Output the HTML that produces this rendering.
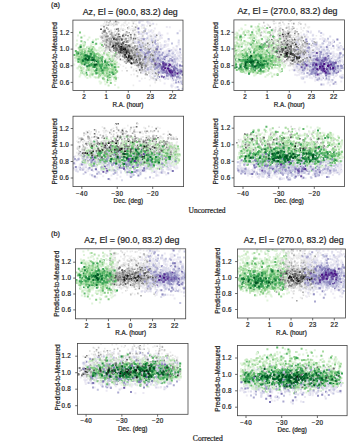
<!DOCTYPE html>
<html><head><meta charset="utf-8"><style>
html,body{margin:0;padding:0;background:#fff;width:350px;height:441px;overflow:hidden}
svg{display:block}
text{font-family:"Liberation Sans",sans-serif;fill:#262626;stroke:#262626;stroke-width:0.22px}
.serif{font-family:"Liberation Serif",serif}
</style></head><body>
<svg width="350" height="441" viewBox="0 0 350 441">
<defs><filter id="bl" x="0" y="0" width="2000" height="2300" filterUnits="userSpaceOnUse"><feGaussianBlur stdDeviation="1.6"/></filter></defs>
<text x="51.0" y="6.9" font-size="7.3">(a)</text>
<text x="51.0" y="236.0" font-size="7.3">(b)</text>
<text class="serif" x="207.1" y="212.5" font-size="7.5" text-anchor="middle">Uncorrected</text>
<text class="serif" x="207.8" y="441.3" font-size="7.6" text-anchor="middle">Corrected</text>
<clipPath id="cA1"><rect x="72.9" y="20.1" width="110.1" height="70.30000000000001"/></clipPath>
<g clip-path="url(#cA1)"><g filter="url(#bl)" transform="scale(0.2)"><path stroke="#dff3da" stroke-width="10" d="M422 364h10M506 388h10M566 389h10M535 263h10M540 390h10M566 396h10M377 277h10M462 205h10M444 347h10M403 358h10M566 347h10M397 314h10M398 287h10M479 352h10M443 350h10M497 417h10M534 287h10M412 235h10M548 366h10M531 225h10M457 365h10M385 178h10M432 390h10M572 344h10M463 364h10M501 413h10M505 252h10M403 275h10M559 373h10M550 365h10M388 336h10M519 407h10M487 252h10M572 404h10M502 367h10M403 342h10M529 233h10M508 251h10M441 264h10M575 366h10M449 245h10M493 243h10M413 239h10M513 387h10M394 353h10M447 386h10M567 313h10M503 239h10M449 228h10M510 340h10M566 390h10M552 326h10M485 195h10M396 289h10M393 382h10"/><path stroke="#ebebeb" stroke-width="8" d="M769 238h8M653 256h8M793 162h8M624 298h8M718 246h8M703 361h8M579 295h8M788 384h8M738 199h8M717 289h8M519 267h8M623 115h8M517 224h8M778 185h8M732 339h8M760 261h8M540 222h8M530 263h8M606 123h8M589 280h8M538 145h8M764 154h8M721 391h8M555 219h8M763 174h8M565 278h8M756 351h8M747 205h8M669 106h8M677 177h8M510 180h8M589 142h8M580 147h8M704 223h8M700 221h8M552 256h8M773 410h8M744 195h8M745 364h8M711 221h8M517 135h8M649 150h8M520 114h8M585 226h8M621 293h8M684 327h8M539 241h8M657 166h8M705 393h8M524 174h8M612 281h8M602 129h8M779 122h8M652 374h8M700 170h8M781 177h8M534 165h8M700 212h8M554 276h8M771 396h8M625 340h8M769 358h8M779 390h8M681 162h8M752 261h8M566 239h8M656 103h8M602 234h8M617 300h8M682 209h8M577 263h8M531 214h8M698 169h8M675 161h8M753 123h8M667 186h8M549 114h8M701 342h8M764 185h8M706 221h8M621 149h8M800 322h8M571 285h8M713 173h8M707 163h8M577 300h8M754 238h8M740 360h8M739 150h8M663 353h8M730 361h8M632 167h8"/><path stroke="#ebe9f3" stroke-width="10" d="M746 305h10M819 289h10M840 355h10M777 298h10M683 229h10M833 229h10M726 292h10M749 181h10M738 289h10M753 150h10M759 299h10M791 164h10M871 356h10M823 389h10M900 274h10M785 343h10M700 357h10M825 260h10M819 392h10M751 206h10M839 252h10M799 232h10M691 248h10M891 305h10M723 327h10M829 135h10M694 169h10M686 224h10M877 374h10M891 354h10M794 399h10M750 391h10M815 267h10M821 371h10M712 358h10M677 252h10M863 390h10M796 354h10M885 374h10M742 281h10M693 306h10M827 257h10M798 254h10M769 142h10M729 264h10M732 287h10M810 349h10M677 309h10M884 276h10M719 318h10M852 367h10M886 414h10M897 247h10M784 325h10M851 293h10M804 190h10M741 297h10M716 126h10M786 300h10M750 199h10M708 235h10M896 390h10M744 336h10M799 373h10M796 347h10M900 417h10M886 380h10M706 124h10M822 296h10M792 314h10M687 263h10M781 233h10M877 294h10M854 436h10M850 393h10M838 204h10M832 256h10M864 418h10M745 377h10M887 411h10M809 335h10M822 264h10M726 249h10M718 278h10M836 279h10M701 238h10M714 333h10M862 239h10M830 353h10M758 325h10M692 305h10M698 254h10M691 237h10M899 357h10M716 329h10M777 334h10M893 283h10M706 186h10M818 417h10M831 365h10M719 222h10M897 373h10M881 233h10M713 170h10"/><path stroke="#c7e9c0" stroke-width="10" d="M454 258h10M582 357h10M540 333h10M573 333h10M477 252h10M390 290h10M412 267h10M399 267h10M511 345h10M547 306h10M459 280h10M467 247h10M508 277h10M566 311h10M536 374h10M401 281h10M414 268h10M371 289h10M547 297h10M462 250h10M441 249h10M471 292h10M475 198h10M483 307h10M553 383h10M491 357h10M440 237h10M569 336h10M383 341h10M512 361h10M543 354h10M454 311h10M396 280h10M427 322h10M431 314h10M392 271h10M527 348h10M416 288h10M394 295h10M530 382h10M468 341h10M403 334h10M495 381h10M498 217h10M383 276h10M400 324h10M439 319h10M451 232h10M469 276h10M525 296h10M465 265h10M463 348h10M557 355h10M452 345h10M569 387h10"/><path stroke="#d9d9d9" stroke-width="8" d="M574 278h8M618 184h8M765 289h8M593 237h8M720 283h8M551 152h8M728 221h8M743 273h8M622 282h8M778 308h8M687 334h8M786 326h8M649 227h8M758 336h8M758 343h8M634 261h8M731 331h8M667 276h8M567 189h8M718 334h8M730 316h8M681 130h8M765 205h8M553 121h8M783 231h8M553 258h8M665 240h8M572 123h8M572 156h8M528 173h8M577 176h8M587 153h8M705 362h8M723 250h8M649 309h8M541 242h8M504 182h8M596 271h8M522 254h8M763 370h8M669 181h8M702 217h8M763 194h8M670 213h8M707 232h8M631 159h8M668 217h8M631 252h8M596 260h8M640 308h8M738 258h8M616 172h8M582 201h8M568 165h8M718 139h8M583 162h8M504 194h8M785 310h8M750 383h8M604 249h8M510 203h8M589 113h8M702 325h8M724 317h8M630 267h8M532 197h8M553 211h8M610 267h8M780 356h8M751 240h8M664 292h8M703 242h8M564 129h8M690 326h8M775 379h8M700 266h8M728 260h8M801 299h8M710 207h8M786 321h8"/><path stroke="#dadaeb" stroke-width="10" d="M888 213h10M762 346h10M783 331h10M817 235h10M799 273h10M776 307h10M718 289h10M853 374h10M838 300h10M766 366h10M878 231h10M884 347h10M717 222h10M753 361h10M863 302h10M752 294h10M823 271h10M702 309h10M728 293h10M754 258h10M692 232h10M763 237h10M878 290h10M714 260h10M864 298h10M796 311h10M726 327h10M800 295h10M819 382h10M784 324h10M786 300h10M828 358h10M747 178h10M897 405h10M709 238h10M801 329h10M827 391h10M725 240h10M803 290h10M769 356h10M841 331h10M719 271h10M742 261h10M881 326h10M807 243h10M848 357h10M897 394h10M870 275h10M861 401h10M782 314h10M827 317h10M699 263h10M852 330h10M876 371h10M826 277h10M836 278h10M715 163h10M880 319h10M717 358h10M799 227h10M845 316h10"/><path stroke="#a9dca2" stroke-width="10" d="M561 331h10M514 354h10M449 292h10M510 356h10M419 258h10M575 389h10M438 331h10M463 353h10M432 300h10M527 305h10M535 370h10M438 294h10M467 290h10M554 332h10M541 284h10M494 309h10M397 291h10M469 282h10M479 299h10M498 329h10M424 299h10M474 333h10M446 254h10M449 282h10M434 294h10M518 346h10M465 277h10M416 314h10M478 287h10M462 367h10M451 287h10M535 305h10M556 342h10M532 356h10M435 316h10M519 330h10M487 387h10M429 290h10M430 276h10M398 331h10M529 333h10M453 297h10M561 301h10M499 332h10M466 292h10M431 238h10M444 318h10M513 323h10M400 296h10"/><path stroke="#c3c3c3" stroke-width="8" d="M768 334h8M698 219h8M674 292h8M716 232h8M749 298h8M735 245h8M593 279h8M533 186h8M783 299h8M591 285h8M538 219h8M606 246h8M631 224h8M526 248h8M659 250h8M648 200h8M713 219h8M732 286h8M620 281h8M760 289h8M631 249h8M761 326h8M646 205h8M727 324h8M770 256h8M720 274h8M631 259h8M746 283h8M563 207h8M588 179h8M510 191h8M748 284h8M573 188h8M718 285h8M734 314h8M513 175h8M771 331h8M625 258h8M613 215h8M719 346h8M746 273h8M656 246h8M514 273h8M670 150h8M631 223h8M524 207h8M694 274h8M709 268h8M767 319h8M519 257h8M715 279h8M726 317h8M556 256h8M783 294h8M555 214h8M623 258h8M575 234h8M621 252h8M638 191h8M710 318h8M523 203h8M775 268h8M653 337h8M630 209h8M659 261h8M527 229h8M712 296h8M631 289h8M774 321h8M654 220h8M568 113h8M744 267h8M694 241h8M611 151h8M738 339h8M699 247h8M758 349h8M632 310h8M720 228h8M597 193h8M758 337h8M635 204h8M631 354h8"/><path stroke="#c2c3df" stroke-width="10" d="M715 156h10M861 367h10M774 220h10M712 306h10M831 348h10M812 311h10M768 380h10M820 226h10M870 309h10M845 295h10M869 368h10M798 293h10M738 252h10M696 232h10M882 380h10M778 321h10M852 251h10M813 294h10M735 308h10M702 343h10M813 291h10M724 299h10M680 249h10M895 263h10M907 359h10M700 246h10M772 184h10M678 214h10M798 178h10M798 310h10M711 221h10M751 347h10M874 251h10M841 309h10M712 245h10M691 260h10M693 268h10M877 349h10M894 336h10M746 290h10M722 146h10M898 291h10M835 351h10M844 278h10M807 350h10"/><path stroke="#86cc85" stroke-width="10" d="M474 362h10M561 280h10M474 339h10M531 349h10M415 264h10M511 295h10M486 344h10M470 303h10M508 303h10M413 362h10M433 284h10M447 321h10M439 281h10M553 307h10M457 270h10M537 398h10M442 295h10M405 317h10M422 264h10M501 345h10M512 329h10M434 321h10M428 279h10M502 278h10M550 345h10M489 308h10M516 343h10M395 163h10M560 369h10M468 325h10M490 276h10M445 272h10M455 336h10M481 345h10M466 271h10M541 329h10M429 319h10M509 347h10M533 340h10M469 320h10M476 304h10M520 329h10"/><path stroke="#a6a6a6" stroke-width="8" d="M651 237h8M660 235h8M580 170h8M738 275h8M547 105h8M546 190h8M553 186h8M667 243h8M788 331h8M559 224h8M553 237h8M709 310h8M708 192h8M683 268h8M699 284h8M565 229h8M744 224h8M616 280h8M678 256h8M512 231h8M644 249h8M705 255h8M642 164h8M636 211h8M542 217h8M614 181h8M548 224h8M517 184h8M522 192h8M640 254h8M792 336h8M544 240h8M723 354h8M578 238h8M623 263h8M666 317h8M594 261h8M703 289h8M588 247h8M664 281h8M684 322h8M729 267h8M542 204h8M647 231h8M727 327h8M671 281h8M526 199h8M693 261h8M764 251h8M574 256h8M624 282h8M551 256h8M687 282h8M764 392h8M722 240h8M579 238h8M582 217h8M656 251h8M614 173h8M754 345h8M700 363h8M690 209h8M501 185h8M597 184h8M623 277h8M686 276h8"/><path stroke="#aaa8d0" stroke-width="10" d="M874 302h10M871 347h10M740 347h10M895 246h10M773 203h10M833 329h10M781 334h10M726 281h10M733 295h10M778 294h10M785 345h10M880 319h10M744 292h10M795 343h10M900 349h10M861 263h10M770 275h10M824 308h10M812 328h10M776 354h10M855 302h10M871 323h10M795 301h10M853 302h10M785 362h10M802 292h10M875 412h10M770 212h10M780 314h10M758 335h10M693 236h10"/><path stroke="#60ba6c" stroke-width="10" d="M472 353h10M501 309h10M508 329h10M554 305h10M418 212h10M407 300h10M477 310h10M520 339h10M367 275h10M497 282h10M411 278h10M462 320h10M399 232h10M401 309h10M484 330h10M441 311h10M573 350h10M499 344h10M436 339h10M504 295h10M510 320h10M487 297h10M407 285h10M445 301h10M486 340h10M478 286h10M511 393h10M445 279h10M503 312h10M408 314h10M558 293h10M477 299h10M450 278h10M426 270h10"/><path stroke="#888888" stroke-width="8" d="M581 193h8M610 270h8M785 285h8M779 176h8M566 241h8M766 286h8M614 215h8M602 196h8M553 213h8M635 140h8M573 215h8M755 366h8M698 312h8M569 236h8M704 291h8M559 120h8M770 301h8M537 181h8M679 303h8M672 299h8M534 198h8M730 339h8M630 299h8M605 200h8M663 214h8M564 213h8M692 318h8M726 371h8M698 238h8M597 195h8M713 278h8M556 218h8M701 225h8M530 140h8M590 155h8M675 264h8M611 275h8M623 248h8M669 312h8M624 232h8M679 354h8M572 248h8M674 137h8M659 282h8M600 231h8M516 133h8M569 249h8"/><path stroke="#928ec2" stroke-width="10" d="M717 266h10M682 258h10M865 361h10M865 351h10M849 296h10M840 362h10M863 388h10M851 335h10M732 294h10M883 391h10M852 382h10M740 299h10M697 264h10M860 389h10M855 380h10M749 304h10M775 298h10M778 316h10M861 399h10M889 410h10M715 267h10M873 374h10M872 344h10M779 267h10M775 337h10M790 385h10"/><path stroke="#3ba558" stroke-width="10" d="M454 315h10M505 357h10M433 327h10M430 282h10M500 286h10M446 260h10M440 316h10M475 277h10M502 306h10M521 326h10M426 364h10M461 292h10M412 282h10M448 309h10M460 312h10M467 288h10M417 316h10M431 307h10M379 265h10M411 301h10M440 304h10"/><path stroke="#6c6c6c" stroke-width="8" d="M625 249h8M573 237h8M619 234h8M543 158h8M585 234h8M613 255h8M656 280h8M580 247h8M622 198h8M723 271h8M604 260h8M639 279h8M645 303h8M675 284h8M659 281h8M623 291h8M654 251h8M720 290h8M598 297h8M786 374h8M571 198h8M625 175h8M641 251h8M576 239h8M578 121h8M672 309h8M701 339h8M664 274h8M678 282h8M607 228h8M631 241h8M740 273h8M643 272h8M677 314h8M556 207h8M655 275h8M574 214h8M655 286h8M698 296h8"/><path stroke="#7c74b5" stroke-width="10" d="M810 331h10M742 283h10M803 332h10M811 349h10M860 313h10M802 343h10M865 354h10M828 313h10M817 296h10M816 315h10M865 374h10M837 324h10M814 354h10M799 343h10M824 352h10M840 342h10M854 364h10"/><path stroke="#238b45" stroke-width="10" d="M526 331h10M449 287h10M446 284h10M402 265h10M499 300h10M489 301h10M449 309h10M444 307h10M563 373h10M448 299h10M443 289h10M487 314h10M534 383h10M450 297h10M502 325h10"/><path stroke="#525252" stroke-width="8" d="M686 322h8M580 254h8M727 223h8M604 266h8M619 240h8M610 213h8M630 285h8M597 251h8M753 271h8M692 261h8M580 198h8M595 241h8M666 242h8M637 248h8M706 321h8M591 257h8M580 208h8M598 193h8M634 289h8M659 284h8M605 255h8M601 245h8M608 240h8M680 260h8"/><path stroke="#6a51a3" stroke-width="10" d="M756 307h10M802 346h10M850 352h10M808 328h10M834 336h10M856 367h10M839 321h10M845 349h10M815 386h10M804 383h10M813 344h10M797 325h10M816 336h10M820 351h10"/><path stroke="#077331" stroke-width="10" d="M450 279h10M442 285h10M493 294h10M448 284h10M489 323h10M414 300h10M435 284h10M473 302h10"/><path stroke="#2e2e2e" stroke-width="8" d="M693 287h8M618 267h8M596 245h8M605 247h8M640 257h8M587 258h8M643 266h8M627 257h8M585 226h8M641 298h8M683 254h8M671 309h8"/><path stroke="#582f93" stroke-width="10" d="M831 369h10M856 362h10M783 315h10M850 375h10M839 352h10M862 343h10M861 361h10"/><path stroke="#005422" stroke-width="10" d="M455 324h10M418 298h10M451 310h10M455 304h10M504 312h10M469 306h10"/><path stroke="#0f0f0f" stroke-width="8" d="M585 233h8M675 311h8M673 311h8M632 272h8M633 270h8M514 161h8M590 223h8M631 279h8M604 225h8"/><path stroke="#471084" stroke-width="10" d="M852 356h10M863 363h10M832 358h10M794 328h10M858 343h10M848 345h10"/><path stroke="#dff3da" stroke-width="10" d="M474 272h10M516 264h10M411 269h10M550 386h10M560 282h10M386 341h10M452 244h10M566 271h10M413 348h10M412 320h10M592 275h10M452 219h10M415 216h10M404 331h10M421 310h10M572 318h10M574 324h10M459 220h10M423 247h10M468 385h10M393 293h10M398 254h10M551 382h10M514 379h10M457 219h10M416 366h10M457 358h10M456 291h10M442 266h10M392 260h10M532 299h10M492 239h10M587 437h10M434 199h10M423 382h10M442 187h10M489 370h10M573 380h10M435 242h10M461 236h10M484 347h10M449 337h10M570 425h10M442 378h10M392 269h10M391 268h10M516 301h10M532 365h10M472 311h10M469 285h10M411 241h10M534 287h10M376 227h10M522 421h10M415 263h10"/><path stroke="#ebebeb" stroke-width="8" d="M728 345h8M729 338h8M633 309h8M612 282h8M674 143h8M591 318h8M663 158h8M663 427h8M708 331h8M538 188h8M731 110h8M789 324h8M649 311h8M676 243h8M703 202h8M707 209h8M747 428h8M602 142h8M613 123h8M676 344h8M703 158h8M641 198h8M785 213h8M758 221h8M750 274h8M754 259h8M772 372h8M703 131h8M752 342h8M607 354h8M763 158h8M597 159h8M744 399h8M665 347h8M761 335h8M616 308h8M715 198h8M658 205h8M792 284h8M535 190h8M693 189h8M758 245h8M632 263h8M576 301h8M546 293h8M683 205h8M605 271h8M764 315h8M570 209h8M514 120h8M693 355h8M568 108h8M683 383h8M617 114h8M678 103h8M766 176h8M741 184h8M509 163h8M560 119h8M668 171h8M537 235h8M677 188h8M585 281h8M794 268h8M581 282h8M552 126h8M613 331h8M758 224h8M582 182h8M617 297h8M586 389h8M562 164h8M714 189h8M669 294h8M518 152h8M624 107h8M649 172h8M586 143h8M661 319h8M544 122h8M513 213h8M524 264h8M715 227h8M596 274h8M761 386h8M717 135h8M752 190h8M651 177h8M731 130h8M689 190h8M801 302h8"/><path stroke="#ebe9f3" stroke-width="10" d="M888 323h10M741 211h10M895 406h10M701 224h10M878 305h10M685 159h10M712 214h10M862 383h10M888 360h10M692 242h10M800 370h10M797 241h10M869 248h10M729 334h10M835 298h10M752 315h10M853 422h10M854 279h10M744 239h10M861 377h10M726 166h10M830 347h10M767 294h10M854 327h10M821 271h10M794 167h10M866 393h10M873 438h10M748 229h10M888 265h10M681 256h10M768 357h10M894 154h10M878 305h10M757 164h10M896 324h10M706 183h10M722 275h10M879 265h10M855 314h10M681 191h10M827 308h10M829 252h10M844 136h10M840 199h10M763 374h10M842 372h10M717 280h10M859 283h10M716 311h10M837 267h10M709 170h10M893 270h10M783 259h10M676 289h10M783 200h10M707 272h10M887 373h10M797 189h10M690 255h10M754 361h10M754 300h10M858 430h10M872 349h10M753 208h10M843 247h10M682 292h10M693 186h10M886 360h10M750 328h10M767 336h10M821 394h10M709 279h10M722 208h10M889 222h10M739 161h10M770 345h10M712 207h10M886 393h10M824 232h10M779 371h10M715 287h10M714 196h10M906 368h10M694 219h10M833 167h10M801 224h10M841 262h10M793 193h10M745 318h10M785 287h10M690 196h10M872 365h10M725 260h10M698 256h10M687 283h10M877 349h10M897 337h10M735 181h10M769 173h10M850 303h10M687 287h10M754 308h10M806 176h10"/><path stroke="#c7e9c0" stroke-width="10" d="M557 295h10M514 342h10M527 320h10M442 255h10M444 379h10M440 328h10M476 302h10M520 304h10M388 293h10M540 334h10M413 340h10M476 370h10M538 427h10M508 350h10M554 339h10M509 319h10M446 265h10M400 365h10M409 281h10M447 349h10M564 338h10M394 245h10M566 288h10M448 371h10M411 306h10M554 299h10M521 379h10M442 282h10M570 307h10M410 277h10M391 333h10M520 350h10M496 299h10M531 330h10M431 261h10M570 336h10M466 324h10M392 304h10M403 246h10M453 298h10M449 363h10M579 313h10M412 245h10M562 356h10M453 355h10M446 318h10M482 323h10M381 280h10M440 275h10M411 295h10M461 305h10M442 324h10M433 267h10M534 370h10M409 297h10"/><path stroke="#d9d9d9" stroke-width="8" d="M585 220h8M647 191h8M656 233h8M744 298h8M578 117h8M734 237h8M728 342h8M671 326h8M604 259h8M788 267h8M708 337h8M663 247h8M564 247h8M546 203h8M643 170h8M760 389h8M517 184h8M542 220h8M740 355h8M552 192h8M610 181h8M536 233h8M581 124h8M498 182h8M576 228h8M624 254h8M765 241h8M530 226h8M645 187h8M583 210h8M516 187h8M614 230h8M553 214h8M760 347h8M615 191h8M778 325h8M597 200h8M566 221h8M756 311h8M606 300h8M715 287h8M518 154h8M583 110h8M612 298h8M554 220h8M520 210h8M754 301h8M731 239h8M710 285h8M756 315h8M727 255h8M526 127h8M539 225h8M753 337h8M780 330h8M748 355h8M765 301h8M627 163h8M554 182h8M675 324h8M553 157h8M526 234h8M507 212h8M603 191h8M726 316h8M787 385h8M714 291h8M581 233h8M581 227h8M579 238h8M522 180h8M759 392h8M756 332h8M778 320h8M799 296h8M619 203h8M561 260h8M659 302h8M640 135h8M568 293h8"/><path stroke="#dadaeb" stroke-width="10" d="M889 203h10M694 264h10M761 119h10M722 335h10M782 243h10M799 355h10M852 429h10M736 244h10M763 314h10M850 382h10M727 223h10M840 359h10M834 337h10M772 337h10M753 193h10M880 367h10M820 337h10M808 327h10M886 390h10M776 351h10M835 343h10M771 323h10M733 315h10M728 344h10M769 359h10M749 241h10M853 267h10M906 405h10M692 232h10M890 353h10M819 208h10M794 262h10M696 246h10M858 312h10M830 376h10M764 288h10M727 353h10M727 218h10M830 316h10M752 239h10M799 342h10M821 393h10M716 304h10M733 280h10M826 283h10M748 156h10M809 344h10M876 364h10M686 271h10M840 284h10M685 237h10M860 286h10M783 359h10M795 278h10M707 105h10M904 309h10M780 267h10M697 290h10M840 339h10M795 302h10M893 388h10"/><path stroke="#a9dca2" stroke-width="10" d="M541 265h10M517 364h10M398 295h10M515 266h10M499 339h10M529 335h10M420 247h10M560 343h10M442 332h10M483 338h10M401 340h10M526 358h10M575 363h10M501 312h10M524 303h10M439 351h10M499 279h10M533 342h10M501 278h10M536 390h10M415 227h10M562 353h10M431 339h10M507 360h10M385 310h10M527 376h10M457 277h10M479 347h10M464 262h10M540 342h10M492 297h10M519 324h10M416 301h10M541 344h10M445 330h10M504 319h10M499 345h10M564 357h10M492 372h10M441 333h10M522 317h10M479 334h10M514 364h10M512 327h10M547 346h10M468 349h10M554 320h10M529 273h10M452 321h10"/><path stroke="#c3c3c3" stroke-width="8" d="M644 245h8M769 327h8M563 177h8M724 317h8M580 286h8M582 230h8M622 278h8M750 269h8M549 188h8M532 218h8M644 235h8M696 267h8M609 232h8M689 265h8M542 193h8M783 229h8M547 172h8M794 326h8M682 243h8M620 277h8M673 273h8M764 322h8M626 198h8M568 233h8M614 195h8M664 292h8M656 252h8M753 307h8M723 306h8M597 248h8M699 285h8M771 238h8M771 314h8M665 251h8M805 324h8M552 253h8M708 269h8M609 150h8M626 283h8M701 277h8M631 300h8M590 234h8M741 340h8M544 205h8M671 239h8M598 278h8M647 223h8M618 278h8M685 262h8M596 272h8M644 237h8M734 283h8M631 164h8M773 365h8M645 255h8M744 321h8M702 342h8M706 326h8M733 342h8M740 365h8M783 320h8M704 284h8M716 329h8M677 280h8M566 208h8M641 201h8M729 248h8M710 283h8M724 374h8M564 199h8M665 291h8M537 242h8M753 343h8M541 114h8M596 234h8M581 224h8M642 238h8M765 290h8M624 237h8M743 278h8M785 201h8M731 268h8M616 248h8"/><path stroke="#c2c3df" stroke-width="10" d="M825 341h10M764 317h10M792 332h10M785 262h10M838 195h10M773 333h10M738 289h10M760 227h10M884 394h10M883 166h10M739 260h10M755 202h10M728 284h10M882 330h10M719 314h10M908 415h10M729 313h10M693 238h10M778 320h10M823 290h10M805 309h10M870 346h10M688 243h10M798 332h10M879 381h10M719 270h10M883 435h10M730 294h10M742 287h10M788 301h10M830 274h10M799 310h10M750 295h10M820 286h10M720 341h10M804 309h10M782 283h10M811 312h10M834 352h10M908 444h10M785 287h10M741 279h10M774 396h10M692 112h10M900 409h10"/><path stroke="#86cc85" stroke-width="10" d="M473 278h10M469 285h10M452 270h10M547 358h10M580 357h10M529 366h10M450 293h10M437 349h10M455 245h10M568 386h10M382 291h10M415 265h10M495 355h10M463 277h10M474 289h10M400 287h10M402 206h10M488 271h10M481 306h10M521 329h10M407 320h10M549 415h10M391 302h10M575 394h10M483 327h10M480 328h10M575 265h10M488 353h10M509 319h10M387 303h10M491 363h10M403 353h10M505 225h10M395 307h10M438 316h10M419 256h10M472 347h10M410 257h10M578 216h10M517 325h10M558 350h10M448 319h10"/><path stroke="#a6a6a6" stroke-width="8" d="M642 227h8M777 248h8M725 325h8M594 227h8M609 182h8M647 239h8M568 279h8M621 229h8M628 298h8M587 144h8M530 169h8M614 230h8M606 240h8M621 309h8M538 125h8M669 285h8M521 157h8M743 301h8M689 273h8M629 159h8M755 367h8M634 239h8M599 232h8M746 129h8M712 232h8M637 254h8M735 231h8M691 285h8M630 241h8M722 155h8M664 251h8M693 258h8M689 319h8M561 208h8M663 238h8M691 278h8M650 267h8M533 234h8M599 261h8M670 261h8M645 250h8M708 295h8M772 327h8M740 313h8M507 187h8M634 228h8M709 352h8M620 288h8M588 171h8M773 318h8M677 285h8M510 158h8M647 236h8M736 307h8M730 291h8M619 225h8M749 244h8M652 193h8M668 240h8M635 269h8M732 374h8M570 270h8M568 210h8M565 208h8M536 126h8"/><path stroke="#aaa8d0" stroke-width="10" d="M772 323h10M716 274h10M867 327h10M817 337h10M722 196h10M870 315h10M868 296h10M905 330h10M747 339h10M860 373h10M838 344h10M734 256h10M772 310h10M890 395h10M857 284h10M829 373h10M730 269h10M688 161h10M769 302h10M717 319h10M798 246h10M891 370h10M890 387h10M785 387h10M775 296h10M888 449h10M785 336h10M776 259h10M862 373h10M768 313h10"/><path stroke="#60ba6c" stroke-width="10" d="M413 366h10M532 329h10M512 344h10M467 269h10M534 400h10M491 325h10M441 242h10M557 363h10M403 283h10M445 260h10M521 312h10M419 265h10M490 320h10M390 309h10M543 361h10M502 294h10M408 259h10M568 278h10M448 302h10M444 266h10M498 373h10M444 325h10M515 351h10M416 306h10M398 258h10M458 260h10M429 302h10M451 271h10M452 251h10M488 287h10M384 284h10M442 268h10M494 312h10M380 261h10"/><path stroke="#888888" stroke-width="8" d="M675 279h8M672 285h8M605 200h8M735 315h8M634 291h8M632 267h8M541 204h8M695 316h8M621 235h8M593 219h8M666 305h8M726 331h8M706 250h8M692 336h8M688 258h8M628 231h8M562 251h8M756 321h8M784 323h8M735 217h8M565 187h8M618 286h8M588 212h8M541 195h8M626 285h8M521 153h8M759 212h8M579 204h8M514 204h8M695 225h8M702 311h8M716 312h8M619 240h8M644 310h8M708 351h8M681 327h8M634 205h8M626 193h8M657 284h8M776 321h8M541 233h8M605 258h8M579 272h8M537 145h8M589 213h8M702 313h8M731 316h8"/><path stroke="#928ec2" stroke-width="10" d="M785 313h10M890 362h10M808 311h10M762 304h10M803 357h10M844 306h10M679 267h10M889 376h10M878 321h10M863 380h10M877 349h10M842 372h10M703 196h10M795 299h10M897 365h10M839 333h10M847 353h10M817 284h10M852 344h10M791 302h10M793 277h10M810 299h10M899 349h10M749 335h10M793 347h10M815 317h10"/><path stroke="#3ba558" stroke-width="10" d="M432 318h10M545 390h10M457 289h10M450 284h10M459 210h10M428 303h10M476 325h10M454 275h10M480 341h10M419 299h10M417 299h10M522 303h10M430 277h10M469 297h10M517 352h10M454 281h10M474 333h10M389 304h10M545 308h10M436 307h10M423 268h10"/><path stroke="#6c6c6c" stroke-width="8" d="M726 275h8M721 290h8M711 322h8M638 287h8M616 248h8M574 197h8M579 256h8M583 239h8M662 283h8M700 235h8M693 251h8M632 233h8M670 309h8M671 230h8M579 146h8M636 250h8M553 208h8M683 276h8M591 199h8M617 272h8M700 295h8M545 250h8M605 196h8M650 174h8M632 246h8M692 296h8M557 233h8M619 285h8M582 240h8M677 298h8M617 209h8M634 257h8M656 293h8M625 270h8M622 288h8M515 156h8M682 277h8M701 275h8M673 193h8"/><path stroke="#7c74b5" stroke-width="10" d="M824 352h10M867 347h10M908 417h10M766 263h10M722 273h10M827 284h10M806 353h10M857 350h10M791 303h10M867 360h10M869 361h10M809 348h10M831 379h10M883 353h10M763 310h10M838 345h10M852 349h10"/><path stroke="#238b45" stroke-width="10" d="M425 267h10M451 299h10M440 290h10M429 273h10M400 308h10M465 284h10M537 325h10M452 314h10M443 290h10M431 312h10M454 297h10M525 328h10M501 341h10M444 282h10M430 304h10"/><path stroke="#525252" stroke-width="8" d="M744 292h8M586 254h8M640 257h8M586 257h8M640 228h8M676 249h8M593 184h8M634 277h8M666 289h8M596 246h8M608 250h8M625 224h8M638 269h8M587 231h8M630 254h8M657 291h8M613 252h8M588 237h8M573 199h8M775 365h8M598 259h8M610 178h8M566 241h8"/><path stroke="#6a51a3" stroke-width="10" d="M823 357h10M821 346h10M736 322h10M848 362h10M774 313h10M819 333h10M822 364h10M861 335h10M865 334h10M821 348h10M851 328h10M814 354h10M818 360h10M892 367h10"/><path stroke="#077331" stroke-width="10" d="M430 266h10M439 289h10M417 277h10M400 276h10M425 295h10M408 253h10M412 305h10"/><path stroke="#2e2e2e" stroke-width="8" d="M614 276h8M651 285h8M600 218h8M635 282h8M597 229h8M601 240h8M691 325h8M638 284h8M711 299h8M637 295h8M683 294h8M501 146h8"/><path stroke="#582f93" stroke-width="10" d="M831 351h10M881 382h10M814 346h10M849 351h10M815 338h10M791 319h10"/><path stroke="#005422" stroke-width="10" d="M465 313h10M437 288h10M423 290h10M480 308h10M454 289h10"/><path stroke="#0f0f0f" stroke-width="8" d="M598 233h8M574 226h8M622 251h8M678 301h8M622 275h8M610 260h8M641 286h8M611 246h8M603 227h8"/><path stroke="#471084" stroke-width="10" d="M815 342h10M850 352h10M846 363h10M856 331h10M844 346h10"/><path stroke="#dff3da" stroke-width="10" d="M519 216h10M546 394h10M404 227h10M515 295h10M410 216h10M437 234h10M540 269h10M380 203h10M501 369h10M417 179h10M471 222h10M469 345h10M464 362h10M366 323h10M420 320h10M493 408h10M549 398h10M548 292h10M502 273h10M480 272h10M423 333h10M497 237h10M396 325h10M529 308h10M518 334h10M434 259h10M481 266h10M433 325h10M415 364h10M400 310h10M565 287h10M390 299h10M377 297h10M517 292h10M445 361h10M397 374h10M563 380h10M532 300h10M386 286h10M418 361h10M495 258h10M465 358h10M563 273h10M516 243h10M411 252h10M572 405h10M373 304h10M387 240h10M545 277h10M506 377h10M497 281h10M457 378h10M381 220h10M461 202h10"/><path stroke="#ebebeb" stroke-width="8" d="M628 125h8M781 197h8M600 145h8M733 226h8M794 196h8M576 234h8M666 372h8M676 121h8M687 194h8M772 413h8M584 324h8M794 184h8M680 160h8M534 122h8M746 209h8M743 319h8M708 339h8M797 214h8M667 167h8M706 188h8M597 264h8M731 205h8M789 233h8M598 148h8M597 175h8M598 324h8M644 142h8M636 146h8M680 129h8M658 164h8M723 197h8M507 128h8M746 270h8M535 221h8M557 247h8M518 170h8M783 348h8M640 115h8M570 120h8M648 207h8M784 330h8M536 250h8M632 123h8M683 352h8M783 370h8M509 162h8M672 177h8M583 181h8M661 107h8M708 213h8M791 242h8M684 338h8M656 144h8M680 214h8M758 253h8M775 356h8M530 243h8M513 276h8M563 319h8M677 179h8M617 129h8M567 167h8M770 323h8M571 116h8M756 361h8M756 102h8M520 107h8M555 120h8M746 182h8M613 145h8M757 247h8M771 309h8M798 405h8M543 304h8M706 140h8M740 202h8M557 255h8M622 112h8M787 389h8M687 364h8M733 349h8M521 192h8M767 243h8M611 277h8M611 144h8M590 172h8M657 265h8M667 137h8M665 145h8M501 128h8M694 241h8"/><path stroke="#ebe9f3" stroke-width="10" d="M908 366h10M893 418h10M710 173h10M786 294h10M695 337h10M810 266h10M828 222h10M834 345h10M856 278h10M708 365h10M747 181h10M799 341h10M699 168h10M857 402h10M812 228h10M889 373h10M744 381h10M904 353h10M675 267h10M741 327h10M875 348h10M806 269h10M728 298h10M802 327h10M717 297h10M673 265h10M738 315h10M868 317h10M678 271h10M709 349h10M876 327h10M731 168h10M748 217h10M836 326h10M730 279h10M766 345h10M883 259h10M782 242h10M875 284h10M778 330h10M720 298h10M862 263h10M705 105h10M798 255h10M830 290h10M767 398h10M890 330h10M820 372h10M746 120h10M691 255h10M888 400h10M767 232h10M857 401h10M705 205h10M858 251h10M786 344h10M899 397h10M713 279h10M806 355h10M706 261h10M901 293h10M712 200h10M696 304h10M687 194h10M824 208h10M751 369h10M755 182h10M699 199h10M797 353h10M878 247h10M696 101h10M778 363h10M759 314h10M887 299h10M732 348h10M739 316h10M817 257h10M746 352h10M805 283h10M879 308h10M746 341h10M847 311h10M697 332h10M840 285h10M878 285h10M838 387h10M870 377h10M837 245h10M693 405h10M735 117h10M682 319h10M703 269h10M836 223h10M873 304h10M788 170h10M768 193h10M790 356h10M821 348h10M692 211h10M755 343h10M729 346h10M743 113h10M697 321h10M774 316h10"/><path stroke="#c7e9c0" stroke-width="10" d="M423 245h10M403 304h10M436 317h10M534 332h10M428 303h10M437 270h10M478 327h10M463 312h10M401 227h10M426 309h10M493 279h10M430 258h10M385 270h10M391 278h10M471 300h10M450 310h10M397 248h10M487 337h10M396 255h10M507 285h10M426 266h10M423 320h10M479 315h10M410 261h10M422 306h10M544 350h10M561 324h10M434 285h10M548 353h10M515 324h10M418 372h10M545 379h10M466 243h10M448 240h10M443 290h10M519 360h10M393 282h10M459 277h10M540 398h10M470 296h10M547 403h10M406 260h10M470 329h10M378 290h10M419 315h10M399 310h10M474 388h10M549 317h10M468 248h10M551 381h10M408 346h10M419 223h10M415 304h10M463 315h10M444 315h10"/><path stroke="#d9d9d9" stroke-width="8" d="M539 224h8M732 318h8M655 275h8M584 292h8M711 273h8M668 315h8M729 224h8M748 331h8M570 146h8M663 285h8M657 131h8M735 240h8M626 292h8M783 310h8M670 305h8M673 149h8M581 236h8M549 310h8M786 255h8M545 162h8M782 285h8M792 360h8M671 296h8M730 251h8M678 311h8M518 198h8M574 179h8M514 175h8M705 296h8M772 309h8M696 286h8M617 246h8M687 247h8M717 141h8M571 205h8M654 320h8M631 276h8M761 355h8M684 189h8M722 250h8M624 167h8M679 288h8M567 226h8M737 224h8M637 267h8M692 347h8M653 226h8M791 266h8M517 149h8M554 207h8M738 269h8M672 268h8M575 236h8M536 244h8M632 282h8M657 272h8M726 292h8M533 208h8M537 199h8M581 218h8M577 209h8M765 276h8M583 284h8M582 258h8M573 175h8M615 194h8M658 239h8M562 210h8M528 121h8M689 278h8M567 173h8M537 144h8M549 232h8M737 324h8M782 251h8M785 230h8M529 199h8M665 205h8M708 309h8"/><path stroke="#dadaeb" stroke-width="10" d="M858 327h10M889 382h10M711 259h10M679 281h10M735 296h10M887 390h10M891 280h10M702 171h10M836 395h10M877 320h10M708 126h10M791 309h10M700 217h10M669 208h10M761 268h10M856 342h10M879 375h10M852 345h10M706 285h10M870 284h10M701 293h10M809 351h10M775 288h10M757 291h10M757 300h10M866 282h10M809 341h10M817 336h10M732 269h10M772 335h10M835 306h10M846 334h10M868 362h10M857 380h10M690 284h10M714 196h10M686 295h10M702 262h10M894 388h10M738 232h10M810 303h10M750 295h10M693 107h10M887 374h10M909 415h10M789 352h10M815 337h10M709 244h10M899 390h10M846 354h10M876 377h10M733 109h10M784 220h10M748 303h10M729 275h10M814 323h10M754 328h10M834 352h10M730 302h10M801 337h10"/><path stroke="#a9dca2" stroke-width="10" d="M463 299h10M428 351h10M510 342h10M396 307h10M393 248h10M531 411h10M478 316h10M521 333h10M497 312h10M534 276h10M500 369h10M488 357h10M445 264h10M556 357h10M440 340h10M491 364h10M517 341h10M516 396h10M404 250h10M377 277h10M559 327h10M394 297h10M555 323h10M558 339h10M574 337h10M402 277h10M461 235h10M485 267h10M536 311h10M483 335h10M494 277h10M435 291h10M406 299h10M521 378h10M398 253h10M587 335h10M526 350h10M563 357h10M490 381h10M572 322h10M513 371h10M414 275h10M489 333h10M412 293h10M438 289h10M529 316h10M390 239h10M464 318h10"/><path stroke="#c3c3c3" stroke-width="8" d="M771 308h8M530 110h8M740 291h8M734 318h8M637 253h8M584 171h8M660 297h8M659 213h8M740 308h8M763 261h8M718 312h8M737 300h8M693 202h8M787 357h8M626 263h8M727 288h8M608 257h8M702 204h8M658 298h8M515 204h8M741 283h8M581 270h8M692 308h8M720 246h8M599 226h8M531 194h8M753 316h8M663 117h8M690 170h8M544 205h8M757 296h8M520 177h8M666 270h8M536 198h8M711 264h8M683 380h8M694 289h8M602 258h8M751 181h8M519 147h8M691 253h8M623 247h8M622 211h8M661 153h8M660 255h8M670 267h8M584 221h8M737 293h8M770 322h8M568 193h8M712 324h8M634 265h8M647 244h8M750 346h8M695 318h8M711 161h8M688 199h8M532 200h8M646 238h8M621 264h8M588 242h8M710 180h8M603 229h8M533 184h8M534 186h8M725 359h8M697 255h8M528 177h8M558 282h8M788 347h8M594 192h8M526 199h8M737 307h8M701 264h8M589 213h8M638 209h8M757 284h8M611 248h8M712 308h8M662 202h8M594 215h8M657 268h8"/><path stroke="#c2c3df" stroke-width="10" d="M780 342h10M780 242h10M882 293h10M796 292h10M773 293h10M703 255h10M860 268h10M888 375h10M856 322h10M706 229h10M870 306h10M753 295h10M831 316h10M733 276h10M786 264h10M780 235h10M875 401h10M735 343h10M702 284h10M729 167h10M761 288h10M722 306h10M732 191h10M844 338h10M689 212h10M693 231h10M788 326h10M786 272h10M807 328h10M786 303h10M737 266h10M769 278h10M776 242h10M710 263h10M855 217h10M748 337h10M757 254h10M841 352h10M870 365h10M838 268h10M772 279h10M802 364h10M723 250h10M787 289h10"/><path stroke="#86cc85" stroke-width="10" d="M548 320h10M419 280h10M380 273h10M439 291h10M457 373h10M495 353h10M481 331h10M469 355h10M518 327h10M478 270h10M415 313h10M569 367h10M408 300h10M516 351h10M414 270h10M543 295h10M453 298h10M464 320h10M477 327h10M408 309h10M430 374h10M441 310h10M518 347h10M403 296h10M398 227h10M482 365h10M531 351h10M568 320h10M399 306h10M477 296h10M386 261h10M534 345h10M492 346h10M409 274h10M391 284h10M406 257h10M416 289h10M402 303h10M537 382h10M488 307h10M402 187h10"/><path stroke="#a6a6a6" stroke-width="8" d="M637 243h8M627 316h8M570 211h8M778 400h8M590 194h8M596 217h8M593 238h8M546 210h8M763 278h8M566 188h8M737 245h8M682 230h8M724 370h8M691 289h8M625 230h8M670 269h8M584 186h8M581 226h8M698 321h8M670 260h8M508 166h8M520 222h8M555 164h8M680 284h8M526 164h8M571 247h8M555 172h8M546 226h8M628 230h8M657 257h8M710 215h8M641 296h8M631 204h8M580 223h8M698 282h8M655 255h8M681 279h8M562 216h8M779 368h8M681 265h8M689 278h8M595 205h8M705 280h8M526 239h8M709 349h8M572 280h8M556 179h8M665 241h8M703 316h8M619 244h8M671 308h8M764 294h8M609 281h8M560 211h8M722 340h8M549 171h8M650 256h8M690 301h8M560 184h8M646 257h8M767 305h8M766 335h8M590 216h8M690 294h8M673 265h8"/><path stroke="#aaa8d0" stroke-width="10" d="M802 358h10M812 328h10M770 345h10M782 328h10M809 264h10M688 211h10M826 337h10M892 349h10M805 274h10M894 389h10M785 326h10M871 347h10M681 270h10M833 278h10M784 297h10M839 305h10M801 354h10M776 340h10M872 345h10M903 360h10M878 326h10M746 297h10M722 289h10M791 260h10M798 306h10M837 377h10M785 234h10M787 321h10M733 347h10M799 337h10"/><path stroke="#60ba6c" stroke-width="10" d="M415 278h10M393 296h10M438 256h10M509 365h10M420 307h10M436 316h10M424 293h10M531 317h10M444 327h10M427 276h10M462 328h10M451 282h10M467 328h10M460 299h10M503 330h10M374 255h10M416 290h10M447 324h10M404 268h10M532 313h10M494 331h10M415 280h10M529 338h10M461 332h10M476 219h10M543 374h10M507 285h10M506 349h10M437 285h10M458 327h10M449 282h10M403 314h10M525 339h10M471 279h10"/><path stroke="#888888" stroke-width="8" d="M671 314h8M741 259h8M528 227h8M532 181h8M703 334h8M587 145h8M526 184h8M686 327h8M528 210h8M750 275h8M633 309h8M695 303h8M654 259h8M727 266h8M651 186h8M703 327h8M575 107h8M588 213h8M645 307h8M723 328h8M655 255h8M560 188h8M679 306h8M551 206h8M717 295h8M609 266h8M610 282h8M724 283h8M589 253h8M675 303h8M583 247h8M742 248h8M573 176h8M632 250h8M592 264h8M552 195h8M658 239h8M669 173h8M660 265h8M548 211h8M628 236h8M582 220h8M652 317h8M671 277h8M588 183h8M572 255h8"/><path stroke="#928ec2" stroke-width="10" d="M761 300h10M714 196h10M870 339h10M840 369h10M850 379h10M802 341h10M885 384h10M864 336h10M779 339h10M773 328h10M900 357h10M854 378h10M785 334h10M897 363h10M810 364h10M743 260h10M808 353h10M722 294h10M842 255h10M819 359h10M893 358h10M721 277h10M733 265h10M870 377h10M754 307h10"/><path stroke="#3ba558" stroke-width="10" d="M428 302h10M500 335h10M387 296h10M477 366h10M412 305h10M466 278h10M485 309h10M506 322h10M452 323h10M495 326h10M569 336h10M431 300h10M440 282h10M554 326h10M557 362h10M485 313h10M424 314h10M517 339h10M416 295h10M464 300h10M409 299h10"/><path stroke="#6c6c6c" stroke-width="8" d="M705 325h8M581 246h8M778 247h8M572 237h8M582 218h8M612 215h8M665 313h8M652 252h8M698 318h8M519 154h8M622 245h8M664 193h8M796 323h8M682 312h8M596 262h8M629 210h8M669 275h8M663 299h8M688 282h8M592 264h8M577 247h8M643 273h8M763 298h8M590 171h8M636 179h8M650 280h8M681 243h8M622 240h8M630 263h8M627 250h8M547 220h8M574 217h8M653 283h8M567 193h8M759 276h8M645 283h8M588 216h8M531 200h8"/><path stroke="#7c74b5" stroke-width="10" d="M804 333h10M908 374h10M823 320h10M785 291h10M789 362h10M895 328h10M687 143h10M878 342h10M810 310h10M870 373h10M698 250h10M781 246h10M870 339h10M793 328h10M856 302h10M811 314h10"/><path stroke="#238b45" stroke-width="10" d="M521 309h10M465 296h10M441 327h10M471 329h10M431 331h10M431 279h10M466 335h10M449 269h10M398 235h10M477 351h10M387 268h10M507 352h10M423 299h10M471 302h10"/><path stroke="#525252" stroke-width="8" d="M721 285h8M644 232h8M575 230h8M706 338h8M696 315h8M612 243h8M609 254h8M612 237h8M650 315h8M648 281h8M695 350h8M579 218h8M579 240h8M640 262h8M696 295h8M773 324h8M605 197h8M612 218h8M618 260h8M583 220h8M636 252h8M594 237h8M632 258h8"/><path stroke="#6a51a3" stroke-width="10" d="M813 350h10M814 327h10M871 362h10M805 344h10M839 329h10M826 323h10M850 351h10M772 317h10M807 339h10M812 319h10M866 351h10M902 356h10M838 351h10M839 347h10"/><path stroke="#077331" stroke-width="10" d="M434 282h10M440 292h10M409 304h10M418 322h10M443 284h10M422 278h10M456 300h10"/><path stroke="#2e2e2e" stroke-width="8" d="M603 244h8M601 252h8M600 262h8M648 293h8M600 244h8M629 257h8M621 243h8M627 260h8M565 226h8M638 303h8M565 195h8M604 250h8"/><path stroke="#582f93" stroke-width="10" d="M858 378h10M823 324h10M851 358h10M812 318h10M853 358h10M813 334h10"/><path stroke="#005422" stroke-width="10" d="M423 294h10M478 323h10M468 324h10M434 299h10M462 299h10"/><path stroke="#0f0f0f" stroke-width="8" d="M628 285h8M622 246h8M604 233h8M641 280h8M613 246h8M655 317h8M654 293h8M628 265h8M561 232h8"/><path stroke="#471084" stroke-width="10" d="M882 368h10M844 324h10M835 342h10M821 341h10M843 355h10"/></g></g>
<rect x="72.9" y="20.1" width="110.10" height="70.30" fill="none" stroke="#444" stroke-width="0.8"/>
<path d="M70.60 32.50H72.9" stroke="#444" stroke-width="0.8"/>
<text x="69.50" y="34.75" font-size="6.3" text-anchor="end" letter-spacing="0.35">1.2</text>
<path d="M70.60 49.13H72.9" stroke="#444" stroke-width="0.8"/>
<text x="69.50" y="51.38" font-size="6.3" text-anchor="end" letter-spacing="0.35">1.0</text>
<path d="M70.60 65.77H72.9" stroke="#444" stroke-width="0.8"/>
<text x="69.50" y="68.02" font-size="6.3" text-anchor="end" letter-spacing="0.35">0.8</text>
<path d="M70.60 82.40H72.9" stroke="#444" stroke-width="0.8"/>
<text x="69.50" y="84.65" font-size="6.3" text-anchor="end" letter-spacing="0.35">0.6</text>
<path d="M84.00 90.4V92.70" stroke="#444" stroke-width="0.8"/>
<text x="84.17" y="99.40" font-size="6.3" text-anchor="middle" letter-spacing="0.35">2</text>
<path d="M106.15 90.4V92.70" stroke="#444" stroke-width="0.8"/>
<text x="106.32" y="99.40" font-size="6.3" text-anchor="middle" letter-spacing="0.35">1</text>
<path d="M128.30 90.4V92.70" stroke="#444" stroke-width="0.8"/>
<text x="128.47" y="99.40" font-size="6.3" text-anchor="middle" letter-spacing="0.35">0</text>
<path d="M150.45 90.4V92.70" stroke="#444" stroke-width="0.8"/>
<text x="150.62" y="99.40" font-size="6.3" text-anchor="middle" letter-spacing="0.35">23</text>
<path d="M172.60 90.4V92.70" stroke="#444" stroke-width="0.8"/>
<text x="172.77" y="99.40" font-size="6.3" text-anchor="middle" letter-spacing="0.35">22</text>
<text x="127.95" y="106.90" font-size="6.3" text-anchor="middle">R.A. (hour)</text>
<text x="0" y="0" font-size="6.5" text-anchor="middle" transform="translate(56.80,55.25) rotate(-90)">Predicted-to-Measured</text>
<text x="130.20" y="14.60" font-size="8.8" text-anchor="middle">Az, El = (90.0, 83.2) deg</text>
<clipPath id="cA2"><rect x="233.9" y="19.9" width="110.6" height="70.5"/></clipPath>
<g clip-path="url(#cA2)"><g filter="url(#bl)" transform="scale(0.2)"><path stroke="#dff3da" stroke-width="10" d="M1300 194h10M1315 156h10M1349 210h10M1228 332h10M1263 185h10M1306 201h10M1290 200h10M1196 226h10M1223 255h10M1398 239h10M1184 291h10M1344 312h10M1317 340h10M1284 360h10M1194 290h10M1408 224h10M1405 315h10M1293 137h10M1403 287h10M1340 370h10M1211 349h10M1178 162h10M1396 292h10M1345 183h10M1388 320h10M1273 135h10M1194 199h10M1412 323h10M1177 273h10M1199 252h10M1287 260h10M1344 298h10M1205 146h10M1199 235h10M1365 283h10M1405 286h10M1199 208h10M1242 367h10M1411 218h10M1178 300h10M1166 258h10M1322 339h10M1234 154h10M1358 276h10M1190 250h10M1395 267h10M1253 177h10M1167 278h10M1199 275h10M1273 180h10M1279 312h10M1173 322h10M1255 341h10M1350 288h10M1415 260h10M1281 358h10M1172 290h10M1292 173h10M1228 336h10M1222 152h10M1306 200h10M1403 315h10M1320 345h10M1421 200h10M1416 215h10M1348 364h10M1316 351h10M1275 371h10M1341 260h10M1285 307h10M1195 269h10M1346 333h10M1397 293h10M1170 171h10M1407 265h10M1395 272h10M1397 322h10M1225 210h10M1263 334h10M1352 367h10"/><path stroke="#ebebeb" stroke-width="8" d="M1536 137h8M1576 259h8M1561 226h8M1429 308h8M1362 107h8M1425 179h8M1352 278h8M1465 323h8M1521 222h8M1352 192h8M1529 279h8M1373 290h8M1519 228h8M1501 163h8M1455 205h8M1543 135h8M1549 280h8M1350 162h8M1571 232h8M1531 234h8M1455 117h8M1391 285h8M1566 299h8M1337 213h8M1484 312h8M1420 200h8M1378 253h8M1333 121h8M1458 323h8M1402 145h8M1486 230h8M1499 323h8M1443 306h8M1506 297h8M1347 226h8M1338 287h8M1372 249h8M1529 154h8M1360 160h8M1355 233h8M1501 138h8M1405 269h8M1309 229h8M1529 265h8M1571 321h8M1491 308h8M1599 312h8M1533 249h8M1609 270h8M1347 164h8M1372 294h8M1464 290h8M1417 166h8M1406 143h8M1391 267h8M1511 154h8M1522 216h8M1492 218h8M1545 325h8M1497 302h8M1528 300h8M1444 352h8"/><path stroke="#ebe9f3" stroke-width="10" d="M1485 314h10M1524 182h10M1625 202h10M1522 303h10M1531 339h10M1636 336h10M1603 353h10M1673 324h10M1523 292h10M1630 310h10M1637 237h10M1701 328h10M1493 243h10M1578 223h10M1621 399h10M1620 253h10M1681 335h10M1589 348h10M1458 299h10M1529 194h10M1508 389h10M1481 352h10M1588 332h10M1549 255h10M1606 238h10M1623 209h10M1714 276h10M1489 310h10M1536 293h10M1621 262h10M1633 205h10M1492 273h10M1500 368h10M1582 226h10M1509 368h10M1619 354h10M1701 407h10M1480 376h10M1528 174h10M1702 326h10M1657 262h10M1544 389h10M1606 257h10M1484 360h10M1519 411h10M1638 360h10M1675 344h10M1615 298h10M1631 376h10M1509 246h10M1630 233h10M1622 299h10M1509 346h10M1527 284h10M1533 364h10M1547 196h10M1440 280h10M1582 225h10M1588 402h10M1522 352h10M1630 313h10M1471 374h10M1622 253h10M1662 312h10M1571 371h10M1677 351h10M1631 370h10M1626 369h10M1595 257h10M1533 221h10M1516 235h10M1681 248h10M1658 312h10M1537 349h10M1591 233h10M1479 315h10M1559 207h10M1667 311h10M1516 317h10M1606 290h10M1508 287h10M1611 193h10M1655 265h10M1631 268h10M1579 224h10M1572 362h10M1665 238h10M1494 329h10M1539 319h10M1543 377h10M1661 200h10M1489 322h10M1563 376h10M1564 330h10M1489 222h10M1623 381h10M1555 236h10M1577 314h10M1633 352h10M1568 250h10M1592 306h10M1668 356h10M1550 257h10M1704 297h10M1546 365h10M1551 349h10M1499 359h10"/><path stroke="#c7e9c0" stroke-width="10" d="M1174 304h10M1350 263h10M1361 277h10M1268 223h10M1285 291h10M1280 168h10M1278 340h10M1193 310h10M1242 333h10M1234 273h10M1384 199h10M1263 231h10M1353 229h10M1288 239h10M1284 331h10M1273 227h10M1185 309h10M1291 334h10M1366 305h10M1285 355h10M1256 269h10M1392 337h10M1259 297h10M1221 257h10M1218 309h10M1343 161h10M1288 344h10M1256 228h10M1235 287h10M1204 188h10M1282 275h10M1225 304h10M1345 317h10M1420 327h10M1317 218h10M1168 256h10M1333 187h10M1352 224h10M1346 295h10M1299 332h10M1191 270h10M1274 199h10M1327 272h10M1198 265h10M1375 296h10M1297 370h10M1266 263h10M1168 337h10M1178 211h10M1384 202h10M1406 315h10M1356 203h10M1279 241h10M1398 359h10M1222 224h10M1385 294h10M1287 320h10M1291 313h10M1367 373h10M1356 383h10M1286 323h10M1270 309h10M1347 306h10M1286 308h10M1169 290h10M1319 160h10M1193 274h10M1356 267h10M1277 312h10M1290 352h10M1199 176h10M1170 188h10"/><path stroke="#d9d9d9" stroke-width="8" d="M1447 270h8M1442 149h8M1455 192h8M1470 205h8M1373 215h8M1405 193h8M1441 133h8M1490 261h8M1366 119h8M1490 286h8M1391 117h8M1514 313h8M1506 261h8M1394 215h8M1394 258h8M1505 243h8M1471 189h8M1491 270h8M1345 219h8M1476 298h8M1457 205h8M1444 145h8M1504 253h8M1482 290h8M1321 144h8M1455 247h8M1557 268h8M1485 212h8M1330 230h8M1513 349h8M1320 130h8M1398 143h8M1549 267h8M1443 275h8M1447 105h8M1383 265h8M1507 302h8M1454 176h8M1479 277h8M1393 265h8M1366 107h8M1478 184h8M1386 157h8M1506 193h8M1523 121h8M1371 241h8M1420 264h8M1437 275h8M1511 349h8M1332 260h8M1463 282h8M1437 159h8M1339 246h8M1403 177h8M1428 183h8M1456 255h8M1422 275h8M1434 270h8M1408 290h8M1479 298h8M1405 232h8M1398 178h8M1452 188h8M1534 303h8"/><path stroke="#dadaeb" stroke-width="10" d="M1595 288h10M1612 288h10M1604 254h10M1697 341h10M1580 212h10M1511 331h10M1618 325h10M1570 304h10M1689 351h10M1626 348h10M1612 345h10M1563 358h10M1568 359h10M1676 327h10M1688 358h10M1538 282h10M1580 278h10M1612 328h10M1671 360h10M1626 306h10M1594 335h10M1536 329h10M1638 369h10M1673 334h10M1549 324h10M1597 227h10M1699 230h10M1622 297h10M1547 286h10M1593 306h10M1606 361h10M1548 163h10M1553 326h10M1606 218h10M1686 275h10M1538 318h10M1640 286h10M1535 306h10M1545 241h10M1623 322h10M1662 280h10M1568 313h10M1564 381h10M1527 275h10M1623 352h10M1681 276h10M1618 325h10M1613 423h10M1649 374h10M1580 221h10M1564 230h10M1646 183h10M1589 362h10M1594 324h10M1556 205h10M1577 314h10M1515 173h10M1669 307h10M1528 383h10M1656 402h10M1538 348h10M1640 259h10M1695 382h10"/><path stroke="#a9dca2" stroke-width="10" d="M1261 309h10M1314 295h10M1201 284h10M1277 285h10M1195 190h10M1367 291h10M1224 318h10M1219 308h10M1303 318h10M1292 151h10M1334 163h10M1173 312h10M1291 303h10M1281 216h10M1232 278h10M1241 285h10M1296 228h10M1326 346h10M1368 258h10M1316 355h10M1205 345h10M1305 277h10M1386 241h10M1263 208h10M1294 165h10M1314 291h10M1343 278h10M1257 171h10M1284 280h10M1258 239h10M1339 301h10M1381 263h10M1207 352h10M1313 244h10M1296 243h10M1223 262h10M1369 325h10M1391 328h10M1304 297h10M1321 290h10M1196 297h10M1315 254h10M1410 243h10M1254 282h10M1296 319h10M1352 252h10M1243 247h10M1340 220h10M1255 196h10M1354 269h10M1279 276h10M1369 263h10M1354 277h10M1284 266h10M1199 319h10M1358 267h10"/><path stroke="#c3c3c3" stroke-width="8" d="M1441 186h8M1494 276h8M1538 297h8M1362 167h8M1350 268h8M1394 283h8M1481 262h8M1459 134h8M1528 301h8M1399 195h8M1415 237h8M1548 274h8M1492 114h8M1415 157h8M1432 258h8M1534 219h8M1452 224h8M1433 302h8M1515 297h8M1427 186h8M1520 183h8M1482 252h8M1448 327h8M1388 288h8M1444 199h8M1399 292h8M1420 176h8M1393 231h8M1360 277h8M1506 226h8M1485 252h8M1445 161h8M1399 230h8M1404 232h8M1404 276h8M1515 352h8M1425 238h8M1532 248h8M1569 303h8M1421 188h8M1415 241h8M1498 261h8M1432 181h8M1504 275h8M1367 239h8M1408 259h8M1420 180h8M1504 289h8M1503 240h8M1533 300h8M1439 119h8"/><path stroke="#c2c3df" stroke-width="10" d="M1478 211h10M1606 338h10M1593 376h10M1563 312h10M1535 306h10M1677 319h10M1631 387h10M1693 347h10M1614 269h10M1637 391h10M1574 386h10M1512 314h10M1615 205h10M1578 315h10M1565 356h10M1566 263h10M1589 248h10M1588 367h10M1575 372h10M1637 291h10M1508 338h10M1533 230h10M1516 331h10M1667 317h10M1596 320h10M1602 327h10M1568 272h10M1608 323h10M1557 336h10M1553 352h10M1667 303h10M1716 322h10M1498 234h10M1510 317h10M1590 391h10M1543 332h10M1562 360h10M1623 277h10M1691 288h10M1513 282h10M1630 362h10"/><path stroke="#86cc85" stroke-width="10" d="M1209 290h10M1271 295h10M1252 349h10M1333 319h10M1322 306h10M1400 254h10M1290 148h10M1320 319h10M1214 357h10M1339 321h10M1345 301h10M1214 306h10M1241 326h10M1278 241h10M1262 204h10M1311 237h10M1284 285h10M1294 285h10M1330 305h10M1372 308h10M1261 361h10M1201 339h10M1324 227h10M1345 293h10M1330 314h10M1299 234h10M1334 335h10M1199 356h10M1214 163h10M1193 345h10M1342 224h10M1329 307h10M1166 281h10M1221 175h10M1185 298h10M1325 273h10M1382 229h10M1173 327h10M1232 343h10M1237 331h10M1305 195h10M1316 317h10M1191 276h10M1317 269h10M1281 210h10M1231 247h10"/><path stroke="#a6a6a6" stroke-width="8" d="M1406 273h8M1402 257h8M1470 310h8M1334 208h8M1417 310h8M1368 240h8M1394 257h8M1576 330h8M1493 223h8M1486 183h8M1453 209h8M1388 240h8M1348 236h8M1522 233h8M1576 334h8M1426 236h8M1483 252h8M1384 263h8M1465 316h8M1474 261h8M1342 270h8M1427 230h8M1421 305h8M1435 216h8M1491 271h8M1448 230h8M1451 228h8M1568 282h8M1471 317h8M1429 226h8M1474 223h8M1472 200h8M1427 261h8M1465 141h8"/><path stroke="#aaa8d0" stroke-width="10" d="M1519 350h10M1548 317h10M1651 346h10M1515 251h10M1531 344h10M1474 321h10M1672 411h10M1619 315h10M1589 373h10M1631 281h10M1497 192h10M1528 309h10M1626 331h10M1628 371h10M1550 285h10M1610 390h10M1570 319h10M1616 310h10M1627 378h10M1601 312h10M1602 422h10M1565 319h10M1646 356h10M1636 305h10M1587 321h10M1586 305h10M1585 284h10M1665 209h10M1575 222h10M1577 288h10M1526 349h10M1542 372h10M1558 316h10M1632 343h10"/><path stroke="#60ba6c" stroke-width="10" d="M1292 332h10M1235 291h10M1337 300h10M1276 341h10M1439 288h10M1206 305h10M1307 359h10M1389 316h10M1294 277h10M1232 322h10M1244 258h10M1221 282h10M1294 240h10M1197 327h10M1302 329h10M1305 228h10M1260 292h10M1324 329h10M1308 319h10M1339 328h10M1306 305h10M1266 189h10M1247 321h10M1253 297h10M1290 323h10M1193 307h10M1252 311h10M1170 339h10M1274 315h10M1305 289h10M1318 304h10M1203 233h10M1212 312h10M1264 276h10M1238 307h10M1272 282h10M1405 354h10M1388 296h10M1309 337h10M1208 255h10M1233 280h10M1286 342h10"/><path stroke="#888888" stroke-width="8" d="M1510 226h8M1544 308h8M1386 271h8M1501 268h8M1491 277h8M1501 234h8M1457 306h8M1391 258h8M1440 282h8M1393 288h8M1423 171h8M1409 244h8M1487 223h8M1488 197h8M1469 211h8M1560 216h8M1446 210h8M1531 287h8M1546 286h8M1506 274h8M1513 220h8M1378 253h8M1426 249h8M1469 227h8M1384 230h8M1444 207h8M1346 136h8M1341 199h8M1513 204h8M1437 176h8M1566 210h8M1389 227h8"/><path stroke="#928ec2" stroke-width="10" d="M1541 282h10M1597 376h10M1663 352h10M1682 198h10M1596 356h10M1584 319h10M1654 338h10M1596 319h10M1661 324h10M1717 328h10M1624 266h10M1584 306h10M1633 344h10M1576 334h10M1619 361h10M1696 304h10M1599 361h10M1586 279h10M1460 259h10M1544 350h10M1655 289h10M1593 373h10M1560 317h10M1503 342h10M1529 209h10M1558 314h10M1470 289h10M1592 298h10"/><path stroke="#3ba558" stroke-width="10" d="M1205 321h10M1219 327h10M1350 315h10M1396 322h10M1232 326h10M1234 283h10M1216 317h10M1310 326h10M1255 327h10M1216 298h10M1296 323h10M1296 318h10M1178 301h10M1235 301h10M1337 199h10M1243 340h10M1282 290h10M1289 300h10M1227 322h10M1242 323h10M1296 321h10M1308 322h10M1333 259h10M1258 284h10M1319 219h10"/><path stroke="#6c6c6c" stroke-width="8" d="M1495 259h8M1424 243h8M1390 209h8M1451 263h8M1413 237h8M1384 220h8M1515 252h8M1378 231h8M1479 271h8M1483 289h8M1424 215h8M1442 163h8M1473 282h8M1424 271h8M1413 256h8M1503 260h8M1383 249h8M1422 283h8"/><path stroke="#7c74b5" stroke-width="10" d="M1577 375h10M1638 321h10M1647 320h10M1596 372h10M1629 342h10M1636 328h10M1661 346h10M1613 334h10M1641 330h10M1561 328h10M1560 333h10M1568 337h10M1663 325h10M1612 341h10M1567 365h10M1664 340h10M1642 340h10M1608 354h10M1603 270h10M1566 359h10M1703 340h10M1662 333h10M1637 280h10M1568 325h10M1627 311h10M1620 303h10M1581 324h10M1560 330h10M1548 324h10M1573 352h10M1586 324h10"/><path stroke="#238b45" stroke-width="10" d="M1216 306h10M1243 301h10M1262 330h10M1261 336h10M1244 306h10M1178 336h10M1300 303h10M1266 295h10M1297 310h10M1243 327h10M1293 283h10M1248 311h10M1241 318h10M1289 314h10M1232 332h10M1207 308h10M1320 299h10M1267 300h10M1233 319h10M1294 312h10M1307 311h10"/><path stroke="#525252" stroke-width="8" d="M1433 256h8M1472 260h8M1469 281h8M1424 184h8M1394 282h8M1444 244h8M1414 269h8M1395 178h8M1435 244h8M1433 266h8M1528 324h8M1442 282h8M1401 250h8M1475 290h8M1411 239h8"/><path stroke="#6a51a3" stroke-width="10" d="M1684 359h10M1565 343h10M1620 317h10M1601 322h10M1622 351h10M1605 335h10M1628 358h10M1630 349h10M1645 324h10M1615 310h10M1639 324h10M1636 317h10M1604 314h10M1571 329h10M1585 347h10M1612 346h10M1593 289h10M1596 327h10M1670 344h10M1594 261h10"/><path stroke="#077331" stroke-width="10" d="M1250 313h10M1307 318h10M1223 339h10M1279 309h10M1192 343h10M1261 333h10M1269 353h10M1304 309h10M1211 331h10M1279 299h10M1299 307h10M1261 344h10M1335 314h10M1269 338h10"/><path stroke="#2e2e2e" stroke-width="8" d="M1431 299h8M1431 280h8M1482 287h8M1438 279h8M1421 283h8M1434 250h8M1444 285h8M1449 259h8M1451 255h8M1415 283h8"/><path stroke="#582f93" stroke-width="10" d="M1581 343h10M1623 298h10M1591 331h10M1637 336h10M1626 341h10M1645 337h10M1586 321h10M1578 333h10"/><path stroke="#005422" stroke-width="10" d="M1255 302h10M1246 310h10M1247 329h10M1245 317h10M1313 320h10M1293 311h10M1237 323h10"/><path stroke="#0f0f0f" stroke-width="8" d="M1428 275h8M1462 299h8M1453 251h8M1450 271h8M1457 270h8M1444 266h8"/><path stroke="#471084" stroke-width="10" d="M1607 329h10M1646 339h10M1588 347h10M1613 343h10M1630 325h10M1592 334h10M1578 361h10M1615 332h10M1647 320h10M1609 337h10M1650 337h10"/><path stroke="#dff3da" stroke-width="10" d="M1180 191h10M1388 203h10M1219 322h10M1402 291h10M1307 341h10M1255 305h10M1412 225h10M1221 321h10M1191 153h10M1221 213h10M1300 366h10M1238 175h10M1380 340h10M1199 317h10M1310 364h10M1171 196h10M1243 172h10M1189 234h10M1405 294h10M1417 337h10M1255 337h10M1317 359h10M1299 337h10M1176 274h10M1242 177h10M1213 278h10M1388 346h10M1267 183h10M1335 342h10M1361 164h10M1200 225h10M1202 143h10M1268 342h10M1397 290h10M1232 287h10M1383 244h10M1397 212h10M1293 204h10M1371 327h10M1313 184h10M1199 304h10M1340 334h10M1361 343h10M1299 245h10M1202 213h10M1352 342h10M1217 336h10M1357 297h10M1343 223h10M1277 141h10M1291 120h10M1414 263h10M1333 319h10M1182 199h10M1391 249h10M1412 286h10M1180 249h10M1293 166h10M1257 289h10M1175 276h10M1224 354h10M1368 291h10M1323 186h10M1410 270h10M1244 260h10M1237 190h10M1340 343h10M1325 358h10M1178 288h10M1332 375h10M1424 254h10M1356 288h10M1198 209h10M1237 248h10M1208 344h10M1412 229h10M1324 300h10M1392 354h10M1333 317h10M1260 291h10"/><path stroke="#ebebeb" stroke-width="8" d="M1602 322h8M1417 120h8M1474 292h8M1381 280h8M1366 221h8M1343 245h8M1353 216h8M1394 242h8M1418 124h8M1364 164h8M1481 145h8M1325 154h8M1527 230h8M1422 265h8M1362 203h8M1325 166h8M1407 298h8M1451 289h8M1535 220h8M1503 146h8M1523 342h8M1378 252h8M1499 350h8M1583 260h8M1517 344h8M1539 138h8M1596 226h8M1318 226h8M1391 132h8M1375 116h8M1535 320h8M1394 232h8M1477 318h8M1573 282h8M1496 336h8M1329 214h8M1457 162h8M1470 348h8M1526 245h8M1371 209h8M1483 303h8M1479 340h8M1386 252h8M1444 290h8M1587 299h8M1508 354h8M1393 278h8M1505 354h8M1365 305h8M1536 232h8M1458 348h8M1474 176h8M1326 150h8M1518 340h8M1531 319h8M1525 303h8M1458 299h8M1466 297h8M1494 257h8M1339 129h8M1431 307h8"/><path stroke="#ebe9f3" stroke-width="10" d="M1585 332h10M1602 330h10M1580 381h10M1654 408h10M1664 339h10M1551 361h10M1544 258h10M1599 381h10M1706 235h10M1685 283h10M1518 268h10M1599 180h10M1529 274h10M1630 328h10M1572 398h10M1624 285h10M1499 340h10M1517 302h10M1614 284h10M1478 305h10M1556 229h10M1507 275h10M1471 244h10M1492 312h10M1606 393h10M1520 225h10M1709 311h10M1611 347h10M1603 333h10M1503 177h10M1631 378h10M1682 289h10M1597 239h10M1596 291h10M1524 323h10M1617 269h10M1682 278h10M1687 321h10M1484 310h10M1554 285h10M1636 225h10M1548 344h10M1704 237h10M1612 173h10M1582 345h10M1485 358h10M1591 308h10M1590 388h10M1473 309h10M1611 259h10M1546 354h10M1645 426h10M1699 263h10M1575 236h10M1651 285h10M1638 372h10M1539 352h10M1477 292h10M1525 322h10M1714 345h10M1521 202h10M1582 381h10M1619 261h10M1661 292h10M1502 386h10M1648 210h10M1711 306h10M1590 354h10M1716 331h10M1649 332h10M1612 382h10M1665 387h10M1490 331h10M1601 379h10M1550 158h10M1494 229h10M1597 376h10M1524 348h10M1605 380h10M1494 366h10M1510 386h10M1563 359h10M1510 313h10M1592 156h10M1514 260h10M1569 249h10M1491 346h10M1663 281h10M1663 278h10M1596 195h10M1601 331h10M1474 329h10M1534 185h10M1511 222h10M1623 359h10M1519 337h10M1680 374h10M1571 404h10M1523 283h10M1677 270h10M1686 250h10M1667 351h10M1654 307h10M1485 301h10M1574 284h10M1519 384h10M1693 242h10"/><path stroke="#c7e9c0" stroke-width="10" d="M1373 304h10M1210 304h10M1277 305h10M1288 320h10M1268 258h10M1176 268h10M1275 239h10M1368 320h10M1310 140h10M1272 243h10M1236 322h10M1212 169h10M1319 255h10M1351 269h10M1178 227h10M1210 216h10M1196 277h10M1332 295h10M1265 230h10M1304 222h10M1206 220h10M1216 159h10M1353 321h10M1221 274h10M1229 316h10M1266 272h10M1198 259h10M1370 337h10M1187 199h10M1192 222h10M1260 326h10M1356 334h10M1338 245h10M1191 288h10M1285 272h10M1337 283h10M1264 237h10M1393 310h10M1293 261h10M1380 203h10M1197 194h10M1355 240h10M1252 254h10M1273 221h10M1369 302h10M1203 294h10M1288 327h10M1334 331h10M1189 248h10M1344 183h10M1253 207h10M1230 161h10M1176 288h10M1266 223h10M1294 329h10M1368 282h10M1244 302h10M1317 289h10M1223 244h10M1181 177h10M1269 277h10M1232 293h10M1269 243h10M1321 290h10M1248 310h10M1347 317h10M1173 295h10M1235 214h10M1232 224h10M1326 321h10M1309 276h10"/><path stroke="#d9d9d9" stroke-width="8" d="M1479 317h8M1404 174h8M1423 221h8M1402 252h8M1393 236h8M1481 228h8M1382 236h8M1492 191h8M1453 287h8M1387 264h8M1422 167h8M1520 304h8M1544 246h8M1518 294h8M1493 294h8M1488 181h8M1564 195h8M1467 263h8M1434 299h8M1416 181h8M1462 186h8M1449 159h8M1504 186h8M1504 267h8M1509 257h8M1463 136h8M1365 311h8M1489 210h8M1416 264h8M1510 255h8M1403 218h8M1338 126h8M1441 302h8M1410 111h8M1419 237h8M1402 185h8M1498 267h8M1390 192h8M1401 220h8M1409 260h8M1512 221h8M1538 290h8M1463 330h8M1456 144h8M1403 244h8M1514 297h8M1581 236h8M1363 176h8M1472 302h8M1499 193h8M1374 138h8M1505 212h8M1479 185h8M1394 206h8M1413 257h8M1510 247h8M1486 287h8M1388 263h8M1456 305h8M1440 138h8M1378 241h8M1445 327h8M1374 241h8M1397 227h8"/><path stroke="#dadaeb" stroke-width="10" d="M1629 247h10M1517 300h10M1616 311h10M1488 190h10M1645 292h10M1659 340h10M1576 239h10M1671 349h10M1553 257h10M1573 361h10M1672 353h10M1576 364h10M1617 282h10M1580 246h10M1592 265h10M1485 297h10M1566 282h10M1503 322h10M1555 367h10M1697 327h10M1580 361h10M1642 265h10M1560 212h10M1613 360h10M1614 237h10M1604 266h10M1535 291h10M1550 328h10M1659 364h10M1657 348h10M1531 383h10M1663 343h10M1672 284h10M1674 325h10M1530 325h10M1538 318h10M1677 328h10M1537 368h10M1574 281h10M1587 263h10M1648 328h10M1694 215h10M1648 303h10M1516 312h10M1680 300h10M1545 297h10M1529 240h10M1687 343h10M1613 313h10M1483 341h10M1538 295h10M1642 287h10M1598 305h10M1480 197h10M1540 325h10M1681 228h10M1637 412h10M1619 196h10M1706 285h10M1602 399h10M1522 250h10M1532 277h10"/><path stroke="#a9dca2" stroke-width="10" d="M1344 213h10M1328 281h10M1219 269h10M1275 271h10M1354 263h10M1187 252h10M1297 301h10M1223 364h10M1343 327h10M1232 299h10M1217 205h10M1246 301h10M1373 220h10M1268 249h10M1363 280h10M1306 332h10M1200 324h10M1370 286h10M1336 354h10M1292 244h10M1395 328h10M1361 304h10M1324 288h10M1319 327h10M1175 319h10M1255 280h10M1334 276h10M1256 234h10M1314 250h10M1360 297h10M1348 313h10M1317 357h10M1250 280h10M1360 215h10M1201 349h10M1170 243h10M1218 272h10M1347 316h10M1178 188h10M1200 273h10M1286 327h10M1206 360h10M1284 295h10M1281 336h10M1282 216h10M1234 282h10M1223 361h10M1182 217h10M1308 283h10M1292 261h10M1221 330h10M1255 322h10M1344 165h10M1326 235h10M1225 277h10M1341 160h10"/><path stroke="#c3c3c3" stroke-width="8" d="M1496 249h8M1453 215h8M1523 323h8M1434 243h8M1431 281h8M1445 211h8M1420 237h8M1318 239h8M1565 266h8M1400 238h8M1454 196h8M1446 212h8M1435 155h8M1462 321h8M1428 193h8M1525 251h8M1520 270h8M1517 258h8M1479 285h8M1485 201h8M1455 320h8M1536 294h8M1414 227h8M1482 221h8M1416 172h8M1419 228h8M1468 249h8M1465 246h8M1304 162h8M1363 245h8M1429 274h8M1452 100h8M1387 297h8M1488 172h8M1419 265h8M1410 217h8M1386 270h8M1553 226h8M1416 194h8M1515 222h8M1369 216h8M1429 166h8M1394 145h8M1398 141h8M1339 272h8M1380 234h8M1497 264h8M1397 155h8M1487 249h8M1526 276h8M1510 257h8"/><path stroke="#c2c3df" stroke-width="10" d="M1633 326h10M1633 248h10M1506 365h10M1699 337h10M1503 327h10M1568 259h10M1583 367h10M1490 325h10M1666 363h10M1534 323h10M1597 263h10M1596 338h10M1672 303h10M1585 327h10M1625 317h10M1646 362h10M1552 316h10M1528 294h10M1693 275h10M1691 307h10M1495 346h10M1635 194h10M1481 282h10M1472 290h10M1657 400h10M1602 292h10M1661 374h10M1539 261h10M1603 358h10M1611 217h10M1540 296h10M1511 393h10M1515 367h10M1558 268h10M1550 298h10M1570 302h10M1681 355h10M1677 327h10M1566 336h10M1500 328h10M1558 370h10"/><path stroke="#86cc85" stroke-width="10" d="M1398 307h10M1330 323h10M1193 348h10M1296 350h10M1207 270h10M1355 337h10M1206 333h10M1249 357h10M1248 175h10M1376 308h10M1273 279h10M1383 375h10M1220 290h10M1308 257h10M1245 359h10M1301 222h10M1175 254h10M1241 364h10M1332 301h10M1331 140h10M1255 346h10M1317 303h10M1380 224h10M1306 259h10M1200 199h10M1357 305h10M1177 278h10M1227 311h10M1237 157h10M1268 322h10M1272 266h10M1212 310h10M1371 298h10M1395 194h10M1252 132h10M1366 185h10M1306 339h10M1194 323h10M1307 291h10M1302 220h10M1370 308h10M1300 300h10M1329 290h10M1261 281h10M1349 330h10"/><path stroke="#a6a6a6" stroke-width="8" d="M1307 223h8M1391 241h8M1469 200h8M1575 213h8M1432 235h8M1477 268h8M1389 275h8M1338 238h8M1471 194h8M1366 190h8M1436 236h8M1453 278h8M1409 279h8M1481 159h8M1512 226h8M1520 324h8M1541 273h8M1378 240h8M1471 158h8M1435 243h8M1463 217h8M1460 216h8M1456 319h8M1541 306h8M1475 260h8M1442 224h8M1504 187h8M1465 118h8M1384 278h8M1398 225h8M1350 175h8M1373 249h8M1521 291h8M1366 254h8"/><path stroke="#aaa8d0" stroke-width="10" d="M1532 365h10M1648 269h10M1678 356h10M1660 327h10M1560 365h10M1524 218h10M1490 325h10M1612 274h10M1522 337h10M1658 365h10M1562 300h10M1663 349h10M1572 279h10M1684 341h10M1703 388h10M1592 336h10M1483 275h10M1587 289h10M1538 247h10M1559 303h10M1695 266h10M1467 351h10M1536 305h10M1578 293h10M1504 311h10M1591 313h10M1715 340h10M1583 361h10M1553 363h10M1713 246h10M1643 215h10M1534 159h10M1548 338h10"/><path stroke="#60ba6c" stroke-width="10" d="M1339 270h10M1214 289h10M1314 336h10M1269 247h10M1256 161h10M1215 305h10M1230 336h10M1222 324h10M1243 261h10M1270 293h10M1338 260h10M1332 335h10M1233 345h10M1241 303h10M1214 316h10M1211 315h10M1343 280h10M1275 305h10M1360 279h10M1269 357h10M1223 345h10M1328 209h10M1385 246h10M1235 289h10M1287 319h10M1230 304h10M1256 328h10M1323 273h10M1325 292h10M1382 324h10M1296 293h10M1225 341h10M1175 298h10M1263 205h10M1360 325h10M1234 273h10M1260 288h10M1327 315h10M1308 302h10M1305 286h10M1273 295h10M1299 357h10"/><path stroke="#888888" stroke-width="8" d="M1426 284h8M1436 224h8M1498 269h8M1489 268h8M1497 283h8M1432 245h8M1516 306h8M1383 246h8M1387 244h8M1424 238h8M1397 286h8M1537 255h8M1500 240h8M1428 194h8M1440 250h8M1526 233h8M1300 177h8M1438 236h8M1483 304h8M1388 205h8M1489 245h8M1520 307h8M1383 271h8M1485 296h8M1434 295h8M1427 274h8M1470 167h8M1418 281h8M1511 300h8M1446 289h8M1504 236h8M1466 252h8"/><path stroke="#928ec2" stroke-width="10" d="M1684 312h10M1555 359h10M1621 320h10M1566 295h10M1482 249h10M1559 267h10M1505 322h10M1622 358h10M1570 327h10M1602 364h10M1589 311h10M1591 299h10M1545 352h10M1551 369h10M1580 265h10M1591 393h10M1527 330h10M1616 361h10M1642 223h10M1629 235h10M1698 268h10M1628 393h10M1613 314h10M1545 335h10M1484 320h10M1588 346h10M1677 365h10"/><path stroke="#3ba558" stroke-width="10" d="M1249 223h10M1236 327h10M1256 282h10M1276 329h10M1300 248h10M1241 242h10M1297 304h10M1313 234h10M1220 320h10M1201 299h10M1254 309h10M1228 268h10M1244 295h10M1289 244h10M1303 334h10M1284 208h10M1311 340h10M1205 321h10M1221 309h10M1325 317h10M1262 306h10M1259 301h10M1280 303h10M1309 312h10M1337 303h10"/><path stroke="#6c6c6c" stroke-width="8" d="M1490 308h8M1417 268h8M1438 266h8M1355 199h8M1454 247h8M1468 261h8M1413 183h8M1502 286h8M1483 314h8M1413 240h8M1426 273h8M1382 259h8M1463 247h8M1490 259h8M1420 242h8M1548 289h8M1439 291h8"/><path stroke="#7c74b5" stroke-width="10" d="M1635 357h10M1647 311h10M1620 366h10M1625 300h10M1667 344h10M1608 307h10M1627 339h10M1500 340h10M1610 357h10M1649 342h10M1583 293h10M1620 341h10M1536 257h10M1610 301h10M1655 344h10M1592 304h10M1665 313h10M1609 343h10M1597 346h10M1576 364h10M1627 328h10M1625 314h10M1605 319h10M1620 319h10M1570 343h10M1650 305h10M1561 277h10M1633 336h10M1584 350h10M1600 355h10"/><path stroke="#238b45" stroke-width="10" d="M1351 305h10M1264 327h10M1263 314h10M1281 310h10M1294 279h10M1292 324h10M1246 261h10M1325 312h10M1208 308h10M1326 305h10M1298 350h10M1232 312h10M1323 308h10M1333 323h10M1291 310h10M1223 299h10M1232 304h10M1239 316h10M1218 327h10M1236 308h10"/><path stroke="#525252" stroke-width="8" d="M1441 271h8M1472 252h8M1476 280h8M1430 270h8M1501 306h8M1433 269h8M1437 267h8M1403 236h8M1438 289h8M1425 278h8M1474 266h8M1470 196h8M1421 278h8M1419 278h8"/><path stroke="#6a51a3" stroke-width="10" d="M1628 348h10M1582 317h10M1686 330h10M1673 312h10M1618 347h10M1584 337h10M1581 336h10M1604 348h10M1615 310h10M1595 283h10M1624 309h10M1596 332h10M1553 350h10M1672 348h10M1599 316h10M1625 349h10M1623 342h10M1621 297h10M1615 330h10M1581 319h10"/><path stroke="#077331" stroke-width="10" d="M1271 321h10M1256 327h10M1257 309h10M1343 294h10M1248 291h10M1283 315h10M1280 305h10M1193 297h10M1243 300h10M1256 315h10M1233 302h10M1264 324h10M1297 343h10M1204 323h10"/><path stroke="#2e2e2e" stroke-width="8" d="M1462 302h8M1441 285h8M1410 172h8M1426 259h8M1450 266h8M1470 275h8M1462 267h8M1480 291h8M1427 252h8"/><path stroke="#582f93" stroke-width="10" d="M1610 351h10M1621 334h10M1594 320h10M1643 309h10M1644 345h10M1648 336h10M1647 339h10M1665 335h10"/><path stroke="#005422" stroke-width="10" d="M1241 325h10M1235 300h10M1241 319h10M1258 320h10M1252 300h10M1310 327h10M1296 324h10"/><path stroke="#0f0f0f" stroke-width="8" d="M1484 291h8M1439 260h8M1428 275h8M1406 236h8M1405 246h8M1432 224h8"/><path stroke="#471084" stroke-width="10" d="M1588 338h10M1629 313h10M1581 343h10M1613 339h10M1599 341h10M1602 334h10M1646 320h10M1585 334h10M1627 329h10M1594 346h10"/><path stroke="#dff3da" stroke-width="10" d="M1166 214h10M1277 186h10M1208 325h10M1404 294h10M1276 365h10M1233 158h10M1227 234h10M1285 208h10M1218 215h10M1370 326h10M1395 296h10M1403 296h10M1197 291h10M1416 327h10M1384 220h10M1268 376h10M1367 234h10M1289 318h10M1241 296h10M1367 237h10M1266 324h10M1229 361h10M1262 149h10M1384 174h10M1369 285h10M1302 140h10M1170 232h10M1383 275h10M1203 330h10M1322 384h10M1394 208h10M1333 376h10M1223 355h10M1250 195h10M1353 315h10M1225 364h10M1220 323h10M1242 239h10M1328 343h10M1240 320h10M1229 244h10M1403 351h10M1207 296h10M1391 166h10M1307 142h10M1342 317h10M1220 288h10M1359 247h10M1292 178h10M1393 288h10M1364 202h10M1216 186h10M1222 125h10M1190 176h10M1324 182h10M1248 322h10M1179 279h10M1371 250h10M1194 313h10M1283 143h10M1380 294h10M1280 308h10M1266 377h10M1291 337h10M1189 251h10M1376 218h10M1279 201h10M1413 260h10M1287 346h10M1245 339h10M1239 172h10M1180 299h10M1400 316h10M1414 332h10M1277 227h10M1210 260h10M1196 237h10M1240 305h10M1402 279h10M1318 255h10"/><path stroke="#ebebeb" stroke-width="8" d="M1506 311h8M1368 161h8M1466 160h8M1367 151h8M1406 259h8M1447 180h8M1400 102h8M1547 306h8M1574 194h8M1372 188h8M1445 311h8M1488 122h8M1434 280h8M1489 335h8M1515 222h8M1512 292h8M1441 103h8M1431 132h8M1314 220h8M1319 241h8M1421 316h8M1429 319h8M1405 273h8M1367 271h8M1538 340h8M1309 131h8M1427 318h8M1578 179h8M1533 251h8M1494 111h8M1504 273h8M1400 127h8M1473 192h8M1392 315h8M1313 164h8M1492 277h8M1504 198h8M1533 162h8M1325 206h8M1467 301h8M1564 319h8M1526 259h8M1414 119h8M1524 129h8M1405 323h8M1361 144h8M1501 240h8M1464 330h8M1534 189h8M1452 151h8M1338 271h8M1496 182h8M1400 305h8M1596 303h8M1483 264h8M1323 192h8M1466 224h8M1569 301h8M1356 173h8M1440 275h8M1483 187h8"/><path stroke="#ebe9f3" stroke-width="10" d="M1586 310h10M1709 375h10M1655 219h10M1632 262h10M1578 345h10M1645 384h10M1665 336h10M1497 339h10M1512 336h10M1491 357h10M1676 354h10M1527 236h10M1702 303h10M1471 262h10M1618 316h10M1651 285h10M1533 281h10M1621 279h10M1561 174h10M1488 331h10M1460 261h10M1642 303h10M1644 319h10M1557 271h10M1618 329h10M1651 243h10M1677 375h10M1596 356h10M1515 302h10M1627 352h10M1667 287h10M1556 391h10M1587 361h10M1617 357h10M1651 363h10M1712 336h10M1586 329h10M1636 308h10M1486 234h10M1609 238h10M1621 338h10M1607 193h10M1606 267h10M1639 392h10M1530 252h10M1490 374h10M1641 326h10M1714 331h10M1643 220h10M1609 197h10M1662 259h10M1665 269h10M1608 232h10M1502 347h10M1617 363h10M1639 221h10M1468 258h10M1658 337h10M1686 322h10M1567 270h10M1586 383h10M1676 333h10M1594 333h10M1683 225h10M1525 353h10M1660 208h10M1636 294h10M1694 235h10M1523 346h10M1588 282h10M1507 282h10M1674 380h10M1664 241h10M1510 352h10M1676 420h10M1574 264h10M1647 366h10M1525 284h10M1541 296h10M1589 343h10M1507 369h10M1470 340h10M1529 263h10M1588 272h10M1550 388h10M1686 273h10M1633 418h10M1521 272h10M1703 378h10M1635 388h10M1500 338h10M1600 357h10M1650 408h10M1713 339h10M1699 237h10M1683 315h10M1529 348h10M1630 347h10M1469 318h10M1565 249h10M1562 253h10M1667 305h10M1569 194h10M1710 343h10M1465 338h10M1694 248h10M1554 253h10"/><path stroke="#c7e9c0" stroke-width="10" d="M1233 354h10M1288 208h10M1265 275h10M1287 297h10M1238 274h10M1277 158h10M1329 265h10M1258 275h10M1284 297h10M1337 250h10M1270 320h10M1270 362h10M1277 328h10M1323 318h10M1338 300h10M1245 190h10M1203 221h10M1170 226h10M1369 294h10M1214 251h10M1349 237h10M1412 276h10M1291 309h10M1300 251h10M1386 319h10M1214 324h10M1177 260h10M1339 255h10M1258 186h10M1371 201h10M1339 245h10M1196 199h10M1382 310h10M1241 274h10M1350 205h10M1212 296h10M1274 251h10M1397 166h10M1351 254h10M1293 215h10M1274 268h10M1337 198h10M1263 175h10M1320 279h10M1257 210h10M1254 317h10M1241 261h10M1262 288h10M1353 327h10M1282 250h10M1182 168h10M1324 263h10M1266 295h10M1368 287h10M1356 315h10M1274 266h10M1313 279h10M1173 232h10M1392 222h10M1372 325h10M1269 272h10M1286 227h10M1378 293h10M1297 231h10M1279 362h10M1357 291h10M1194 286h10M1250 186h10M1267 272h10M1315 252h10M1327 296h10"/><path stroke="#d9d9d9" stroke-width="8" d="M1418 251h8M1490 241h8M1380 231h8M1443 265h8M1374 148h8M1575 313h8M1356 263h8M1442 292h8M1438 188h8M1494 259h8M1405 211h8M1439 178h8M1328 198h8M1521 322h8M1406 210h8M1482 300h8M1421 227h8M1431 162h8M1435 261h8M1348 203h8M1422 204h8M1394 234h8M1420 187h8M1545 263h8M1540 255h8M1516 140h8M1426 249h8M1480 260h8M1468 176h8M1534 214h8M1586 263h8M1423 253h8M1428 184h8M1480 311h8M1505 268h8M1502 278h8M1478 275h8M1490 351h8M1387 179h8M1438 329h8M1395 278h8M1365 152h8M1482 229h8M1412 262h8M1422 159h8M1372 157h8M1479 200h8M1530 227h8M1443 327h8M1444 176h8M1435 262h8M1466 206h8M1484 255h8M1482 283h8M1378 200h8M1528 338h8M1505 233h8M1394 216h8M1448 301h8M1403 275h8M1412 297h8M1432 139h8M1498 192h8"/><path stroke="#dadaeb" stroke-width="10" d="M1609 326h10M1594 349h10M1475 237h10M1557 278h10M1579 373h10M1565 344h10M1606 253h10M1485 220h10M1514 312h10M1619 256h10M1651 303h10M1573 290h10M1593 278h10M1620 295h10M1635 268h10M1651 367h10M1640 212h10M1589 245h10M1504 393h10M1623 297h10M1596 342h10M1506 286h10M1623 350h10M1548 270h10M1614 284h10M1634 398h10M1546 343h10M1586 335h10M1559 177h10M1613 339h10M1627 274h10M1652 301h10M1642 309h10M1655 337h10M1637 346h10M1662 277h10M1637 396h10M1602 353h10M1508 265h10M1562 195h10M1513 360h10M1638 257h10M1592 320h10M1653 361h10M1517 253h10M1592 338h10M1602 331h10M1583 244h10M1608 286h10M1637 260h10M1606 249h10M1557 295h10M1590 157h10M1526 322h10M1662 325h10M1570 366h10M1602 257h10M1537 249h10M1580 331h10M1634 226h10M1694 314h10M1640 255h10"/><path stroke="#a9dca2" stroke-width="10" d="M1227 324h10M1331 291h10M1284 242h10M1323 316h10M1335 310h10M1298 256h10M1394 327h10M1263 274h10M1290 257h10M1356 306h10M1306 285h10M1391 309h10M1220 273h10M1284 230h10M1321 264h10M1244 218h10M1241 355h10M1360 311h10M1293 290h10M1211 313h10M1324 319h10M1358 291h10M1311 269h10M1288 310h10M1274 283h10M1251 274h10M1175 273h10M1373 238h10M1256 305h10M1397 300h10M1202 357h10M1292 237h10M1298 366h10M1172 231h10M1313 292h10M1186 278h10M1289 154h10M1264 282h10M1405 345h10M1288 150h10M1404 251h10M1284 286h10M1217 249h10M1279 243h10M1277 282h10M1281 249h10M1309 247h10M1371 283h10M1389 295h10M1286 133h10M1332 280h10M1357 225h10M1299 288h10M1406 236h10M1383 370h10M1280 241h10"/><path stroke="#c3c3c3" stroke-width="8" d="M1457 256h8M1473 154h8M1491 315h8M1512 231h8M1413 206h8M1458 147h8M1450 318h8M1416 226h8M1445 239h8M1414 166h8M1369 311h8M1463 226h8M1500 120h8M1412 162h8M1512 272h8M1555 302h8M1411 238h8M1449 221h8M1438 250h8M1501 327h8M1404 249h8M1513 274h8M1406 305h8M1395 269h8M1498 254h8M1541 306h8M1499 241h8M1389 171h8M1421 251h8M1315 113h8M1393 183h8M1417 200h8M1499 261h8M1417 240h8M1441 203h8M1534 347h8M1363 206h8M1459 249h8M1433 257h8M1524 217h8M1409 221h8M1439 162h8M1419 221h8M1501 203h8M1392 151h8M1396 115h8M1492 196h8M1464 227h8M1512 302h8M1488 202h8M1540 300h8"/><path stroke="#c2c3df" stroke-width="10" d="M1589 315h10M1620 299h10M1567 220h10M1598 273h10M1686 293h10M1673 336h10M1557 337h10M1624 305h10M1641 398h10M1698 354h10M1514 329h10M1640 315h10M1587 394h10M1578 356h10M1548 349h10M1607 320h10M1583 334h10M1581 303h10M1626 331h10M1711 276h10M1688 237h10M1575 341h10M1640 314h10M1678 353h10M1635 337h10M1618 333h10M1614 249h10M1600 235h10M1576 314h10M1479 332h10M1624 321h10M1559 340h10M1543 276h10M1665 352h10M1601 165h10M1708 387h10M1505 333h10M1584 293h10M1640 383h10M1644 322h10M1645 300h10"/><path stroke="#86cc85" stroke-width="10" d="M1179 350h10M1327 295h10M1259 216h10M1346 296h10M1287 309h10M1283 365h10M1225 263h10M1335 229h10M1277 233h10M1292 238h10M1355 316h10M1199 323h10M1300 287h10M1295 321h10M1371 325h10M1361 246h10M1288 315h10M1314 291h10M1269 311h10M1374 294h10M1224 291h10M1279 252h10M1232 338h10M1267 252h10M1315 232h10M1350 320h10M1227 351h10M1206 348h10M1339 294h10M1422 236h10M1315 315h10M1269 255h10M1211 322h10M1205 350h10M1350 289h10M1253 348h10M1210 348h10M1197 185h10M1312 307h10M1352 227h10M1261 355h10M1188 233h10M1266 282h10M1316 340h10M1259 281h10"/><path stroke="#a6a6a6" stroke-width="8" d="M1483 269h8M1469 238h8M1349 177h8M1561 251h8M1384 206h8M1392 301h8M1498 312h8M1428 209h8M1416 222h8M1428 140h8M1358 253h8M1453 267h8M1429 244h8M1440 179h8M1478 272h8M1439 219h8M1388 238h8M1519 258h8M1434 184h8M1500 264h8M1475 228h8M1533 255h8M1390 245h8M1512 312h8M1509 222h8M1488 169h8M1342 222h8M1449 316h8M1508 188h8M1498 254h8M1391 254h8M1446 176h8M1414 248h8"/><path stroke="#aaa8d0" stroke-width="10" d="M1539 327h10M1600 316h10M1494 277h10M1569 365h10M1582 399h10M1613 344h10M1638 347h10M1664 363h10M1595 281h10M1586 317h10M1631 267h10M1693 287h10M1684 331h10M1663 419h10M1599 325h10M1610 289h10M1534 239h10M1589 311h10M1556 354h10M1597 270h10M1541 220h10M1705 330h10M1571 324h10M1630 316h10M1650 326h10M1531 255h10M1707 340h10M1565 357h10M1511 271h10M1518 337h10M1661 230h10M1563 300h10M1595 297h10"/><path stroke="#60ba6c" stroke-width="10" d="M1201 305h10M1279 338h10M1270 287h10M1279 320h10M1340 343h10M1430 280h10M1235 318h10M1282 341h10M1305 303h10M1329 253h10M1252 343h10M1352 306h10M1298 272h10M1291 321h10M1240 329h10M1220 282h10M1295 282h10M1307 288h10M1314 224h10M1354 151h10M1449 262h10M1297 325h10M1210 277h10M1302 274h10M1202 345h10M1360 183h10M1229 306h10M1234 341h10M1338 318h10M1243 325h10M1258 287h10M1338 299h10M1302 289h10M1205 301h10M1306 288h10M1311 358h10M1272 278h10M1286 271h10M1326 282h10M1291 355h10M1307 312h10M1306 242h10"/><path stroke="#888888" stroke-width="8" d="M1485 266h8M1340 232h8M1454 301h8M1446 185h8M1471 310h8M1407 252h8M1452 249h8M1459 200h8M1487 239h8M1512 299h8M1467 298h8M1451 300h8M1475 251h8M1532 219h8M1403 211h8M1383 284h8M1452 239h8M1407 221h8M1428 182h8M1469 257h8M1511 323h8M1531 289h8M1517 272h8M1329 210h8M1410 149h8M1449 256h8M1524 264h8M1512 264h8M1459 289h8M1521 212h8M1362 217h8M1519 256h8"/><path stroke="#928ec2" stroke-width="10" d="M1509 351h10M1617 301h10M1618 293h10M1540 237h10M1570 333h10M1658 321h10M1625 360h10M1577 359h10M1600 261h10M1630 299h10M1622 354h10M1607 319h10M1600 332h10M1637 292h10M1613 328h10M1671 339h10M1700 329h10M1591 302h10M1580 345h10M1558 356h10M1654 316h10M1516 313h10M1661 346h10M1600 328h10M1526 197h10M1581 325h10M1659 346h10"/><path stroke="#3ba558" stroke-width="10" d="M1289 307h10M1264 313h10M1240 369h10M1311 327h10M1265 262h10M1314 335h10M1293 280h10M1378 256h10M1272 344h10M1230 277h10M1319 320h10M1277 277h10M1198 182h10M1199 326h10M1298 281h10M1357 287h10M1212 299h10M1220 303h10M1299 326h10M1176 322h10M1226 328h10M1253 297h10M1300 236h10M1239 295h10"/><path stroke="#6c6c6c" stroke-width="8" d="M1428 222h8M1392 287h8M1435 253h8M1365 238h8M1458 217h8M1445 245h8M1422 258h8M1418 204h8M1441 234h8M1423 270h8M1463 272h8M1419 283h8M1486 271h8M1434 203h8M1481 297h8M1404 248h8M1443 284h8"/><path stroke="#7c74b5" stroke-width="10" d="M1658 330h10M1566 315h10M1572 368h10M1591 323h10M1518 342h10M1626 376h10M1597 313h10M1581 293h10M1667 317h10M1612 331h10M1635 367h10M1666 355h10M1659 313h10M1601 337h10M1639 337h10M1634 354h10M1604 334h10M1664 321h10M1576 343h10M1618 320h10M1644 308h10M1617 292h10M1618 297h10M1580 327h10M1569 338h10M1569 339h10M1636 316h10M1684 331h10M1667 332h10M1521 320h10"/><path stroke="#238b45" stroke-width="10" d="M1300 290h10M1301 328h10M1294 232h10M1259 309h10M1283 302h10M1315 305h10M1240 305h10M1291 327h10M1257 304h10M1272 300h10M1284 324h10M1314 324h10M1332 317h10M1220 335h10M1247 301h10M1289 336h10M1259 330h10M1300 289h10M1257 334h10M1289 320h10"/><path stroke="#525252" stroke-width="8" d="M1414 245h8M1411 252h8M1377 260h8M1464 299h8M1465 275h8M1492 284h8M1407 260h8M1480 234h8M1450 261h8M1395 259h8M1461 276h8M1485 289h8M1407 244h8M1467 288h8"/><path stroke="#6a51a3" stroke-width="10" d="M1604 343h10M1600 323h10M1622 297h10M1603 351h10M1562 346h10M1659 344h10M1579 265h10M1503 336h10M1576 298h10M1615 345h10M1561 322h10M1583 301h10M1643 367h10M1635 330h10M1600 318h10M1623 289h10M1673 314h10M1576 319h10M1604 302h10"/><path stroke="#077331" stroke-width="10" d="M1296 324h10M1228 341h10M1278 329h10M1198 334h10M1256 321h10M1226 309h10M1258 324h10M1246 286h10M1251 312h10M1252 304h10M1230 310h10M1244 310h10M1308 325h10"/><path stroke="#2e2e2e" stroke-width="8" d="M1451 232h8M1449 266h8M1401 274h8M1459 304h8M1455 268h8M1448 268h8M1431 282h8M1475 221h8M1437 168h8"/><path stroke="#582f93" stroke-width="10" d="M1629 346h10M1625 364h10M1612 353h10M1650 322h10M1583 373h10M1594 343h10M1528 326h10"/><path stroke="#005422" stroke-width="10" d="M1251 280h10M1262 307h10M1270 332h10M1251 311h10M1223 317h10M1284 312h10M1222 326h10"/><path stroke="#0f0f0f" stroke-width="8" d="M1480 285h8M1430 273h8M1492 290h8M1427 267h8M1434 264h8M1425 240h8"/><path stroke="#471084" stroke-width="10" d="M1595 334h10M1639 326h10M1618 358h10M1616 320h10M1576 324h10M1661 340h10M1582 346h10M1635 330h10M1608 331h10M1614 343h10"/></g></g>
<rect x="233.9" y="19.9" width="110.60" height="70.50" fill="none" stroke="#444" stroke-width="0.8"/>
<path d="M231.60 32.30H233.9" stroke="#444" stroke-width="0.8"/>
<text x="230.40" y="34.55" font-size="6.3" text-anchor="end" letter-spacing="0.35">1.2</text>
<path d="M231.60 48.97H233.9" stroke="#444" stroke-width="0.8"/>
<text x="230.40" y="51.22" font-size="6.3" text-anchor="end" letter-spacing="0.35">1.0</text>
<path d="M231.60 65.63H233.9" stroke="#444" stroke-width="0.8"/>
<text x="230.40" y="67.88" font-size="6.3" text-anchor="end" letter-spacing="0.35">0.8</text>
<path d="M231.60 82.30H233.9" stroke="#444" stroke-width="0.8"/>
<text x="230.40" y="84.55" font-size="6.3" text-anchor="end" letter-spacing="0.35">0.6</text>
<path d="M245.00 90.4V92.70" stroke="#444" stroke-width="0.8"/>
<text x="245.17" y="99.40" font-size="6.3" text-anchor="middle" letter-spacing="0.35">2</text>
<path d="M267.15 90.4V92.70" stroke="#444" stroke-width="0.8"/>
<text x="267.32" y="99.40" font-size="6.3" text-anchor="middle" letter-spacing="0.35">1</text>
<path d="M289.30 90.4V92.70" stroke="#444" stroke-width="0.8"/>
<text x="289.47" y="99.40" font-size="6.3" text-anchor="middle" letter-spacing="0.35">0</text>
<path d="M311.45 90.4V92.70" stroke="#444" stroke-width="0.8"/>
<text x="311.62" y="99.40" font-size="6.3" text-anchor="middle" letter-spacing="0.35">23</text>
<path d="M333.60 90.4V92.70" stroke="#444" stroke-width="0.8"/>
<text x="333.77" y="99.40" font-size="6.3" text-anchor="middle" letter-spacing="0.35">22</text>
<text x="289.20" y="106.90" font-size="6.3" text-anchor="middle">R.A. (hour)</text>
<text x="0" y="0" font-size="6.5" text-anchor="middle" transform="translate(217.80,55.15) rotate(-90)">Predicted-to-Measured</text>
<text x="287.45" y="14.40" font-size="8.8" text-anchor="middle">Az, El = (270.0, 83.2) deg</text>
<clipPath id="cA3"><rect x="73.0" y="116.2" width="110.6" height="70.39999999999999"/></clipPath>
<g clip-path="url(#cA3)"><g filter="url(#bl)" transform="scale(0.2)"><path stroke="#dff3da" stroke-width="10" d="M484 796h10M794 823h10M656 831h10M872 791h10M514 746h10M869 727h10M543 788h10M503 811h10M491 760h10M484 793h10M822 768h10M816 751h10M770 697h10M718 790h10M555 851h10M739 713h10M585 716h10M858 766h10M730 684h10M502 710h10M775 842h10M698 710h10M434 768h10M801 727h10M894 777h10M825 814h10M408 791h10M726 729h10M737 723h10M886 748h10M754 704h10M863 748h10M783 720h10M540 818h10M828 757h10M585 809h10M848 716h10M537 745h10M794 846h10M659 742h10M814 831h10M517 728h10M829 837h10M540 781h10M793 812h10M669 715h10M517 717h10M618 756h10M644 708h10M462 812h10M829 735h10M559 840h10M441 823h10M856 727h10M639 857h10M533 791h10M473 830h10M585 813h10M541 823h10M743 846h10M764 828h10M575 727h10M806 789h10M512 742h10M530 698h10M865 823h10M440 773h10M843 770h10"/><path stroke="#ebebeb" stroke-width="8" d="M506 722h8M862 696h8M523 683h8M601 812h8M872 752h8M666 825h8M840 762h8M469 810h8M508 681h8M426 771h8M433 741h8M853 736h8M796 641h8M577 754h8M418 785h8M786 745h8M452 659h8M400 769h8M778 783h8M501 793h8M635 628h8M620 641h8M424 766h8M585 796h8M428 656h8M483 719h8M872 771h8M389 712h8M524 660h8M392 774h8M386 685h8M516 655h8M500 747h8M431 755h8M424 671h8M841 685h8M686 660h8M874 733h8M448 668h8M822 723h8M840 757h8M837 791h8M426 742h8M542 786h8M818 670h8M528 678h8M775 705h8M384 737h8M711 668h8M497 676h8M874 696h8M555 647h8M582 796h8M812 690h8M467 802h8M735 782h8M494 787h8M799 683h8M741 785h8M745 695h8M757 635h8M731 703h8M800 723h8M471 698h8M791 811h8M418 791h8M846 781h8M668 671h8M740 765h8M513 787h8M451 700h8M788 697h8M429 717h8M517 712h8M862 685h8M495 764h8M678 660h8M430 788h8M736 656h8M678 826h8M401 704h8M879 693h8"/><path stroke="#ebe9f3" stroke-width="10" d="M644 774h10M765 754h10M861 792h10M394 822h10M450 839h10M400 842h10M432 774h10M731 788h10M605 798h10M828 780h10M704 783h10M727 764h10M719 761h10M524 792h10M535 859h10M589 770h10M416 827h10M469 845h10M469 784h10M699 773h10M763 830h10M462 760h10M372 781h10M787 779h10M456 875h10M877 828h10M674 791h10M861 794h10M799 769h10M563 858h10M364 817h10M790 760h10M478 836h10M389 791h10M764 858h10M597 884h10M456 837h10M486 823h10M515 838h10M549 838h10M805 835h10M485 798h10M390 766h10M802 777h10M791 755h10M778 857h10M761 784h10M766 853h10M798 782h10M575 774h10M564 751h10M583 741h10M821 794h10M511 796h10M766 786h10M702 855h10M487 808h10M566 812h10M737 837h10M762 890h10M556 780h10M408 843h10M578 735h10M777 852h10M492 743h10M622 827h10M672 860h10M479 888h10M533 784h10M800 758h10M702 803h10M754 839h10M410 828h10M472 888h10M401 819h10M437 770h10M822 832h10M871 800h10"/><path stroke="#c7e9c0" stroke-width="10" d="M466 799h10M422 808h10M871 806h10M851 729h10M516 703h10M741 755h10M662 706h10M710 807h10M543 774h10M425 803h10M774 790h10M558 750h10M536 739h10M830 766h10M524 742h10M864 791h10M812 742h10M624 777h10M690 853h10M844 736h10M814 771h10M729 823h10M845 744h10M809 742h10M478 797h10M552 790h10M797 801h10M874 820h10M872 787h10M852 738h10M541 814h10M715 740h10M793 764h10M870 768h10M545 803h10M771 795h10M883 812h10M682 740h10M573 759h10M462 749h10M460 796h10M868 747h10M782 754h10M697 698h10M584 825h10M551 752h10M819 810h10M687 798h10M609 744h10M542 745h10M729 730h10M433 789h10M804 787h10M457 735h10M458 713h10M610 713h10M478 802h10M636 815h10M854 715h10M645 799h10M749 799h10M416 799h10M833 766h10M644 837h10M539 788h10M853 754h10M604 839h10M875 771h10M802 727h10M831 772h10M694 721h10M813 759h10M673 794h10M574 812h10M698 779h10M621 718h10M629 836h10M781 788h10M868 774h10M559 849h10M713 800h10M568 807h10"/><path stroke="#d9d9d9" stroke-width="8" d="M469 775h8M759 708h8M703 776h8M679 634h8M849 771h8M683 768h8M510 756h8M828 796h8M629 744h8M629 684h8M435 694h8M511 790h8M879 727h8M764 696h8M418 703h8M597 808h8M488 750h8M477 699h8M465 686h8M603 662h8M700 777h8M579 664h8M842 788h8M767 718h8M866 773h8M444 753h8M661 741h8M424 736h8M855 731h8M507 759h8M413 789h8M703 738h8M579 766h8M772 795h8M384 746h8M625 669h8M468 704h8M742 697h8M539 828h8M551 688h8M696 700h8M577 791h8M515 706h8M578 691h8M545 808h8M726 665h8M412 754h8M723 642h8M618 667h8M701 812h8M740 632h8M648 648h8M447 783h8M641 738h8M471 733h8M803 687h8M760 678h8M553 671h8M551 781h8M445 732h8M392 742h8M749 775h8M612 656h8M519 641h8M734 801h8M650 741h8M760 658h8M469 772h8"/><path stroke="#dadaeb" stroke-width="10" d="M837 811h10M614 763h10M668 854h10M669 816h10M689 802h10M865 795h10M434 763h10M590 811h10M459 794h10M450 803h10M738 830h10M612 800h10M573 827h10M743 755h10M583 792h10M664 792h10M376 854h10M703 763h10M716 803h10M801 826h10M857 823h10M535 785h10M697 827h10M626 788h10M650 783h10M734 757h10M388 797h10M737 784h10M666 800h10M720 791h10M795 798h10M729 833h10M580 780h10M835 799h10M659 868h10M831 765h10M626 815h10M720 792h10M792 830h10M425 836h10M722 830h10M788 829h10M809 829h10M837 821h10M384 858h10M653 835h10M529 760h10M447 780h10"/><path stroke="#a9dca2" stroke-width="10" d="M564 776h10M566 784h10M607 704h10M701 760h10M679 792h10M881 748h10M591 744h10M691 697h10M708 721h10M683 820h10M522 784h10M420 743h10M598 758h10M497 808h10M637 762h10M604 743h10M784 843h10M717 775h10M714 772h10M542 798h10M887 745h10M684 809h10M739 763h10M680 760h10M849 764h10M432 765h10M497 750h10M605 770h10M547 763h10M565 801h10M757 772h10M576 791h10M631 781h10M628 744h10M429 767h10M859 817h10M568 692h10M712 744h10M814 706h10M727 722h10M588 797h10M677 756h10M740 715h10M847 758h10M532 741h10M870 736h10M485 812h10M839 778h10M704 731h10M872 763h10M672 818h10M731 790h10M614 806h10M830 787h10M637 808h10M523 805h10M542 759h10M715 796h10M778 797h10M874 751h10M699 793h10M792 730h10M640 737h10M529 775h10M480 825h10M494 763h10M485 782h10M603 739h10M649 728h10M624 829h10M615 764h10M603 823h10M558 777h10M702 759h10"/><path stroke="#c3c3c3" stroke-width="8" d="M478 722h8M448 758h8M636 712h8M415 666h8M585 752h8M480 685h8M644 743h8M719 713h8M549 730h8M438 709h8M794 781h8M690 749h8M725 788h8M688 694h8M669 704h8M538 711h8M731 786h8M631 739h8M803 773h8M595 745h8M761 682h8M685 799h8M663 754h8M668 754h8M693 801h8M659 693h8M779 744h8M433 764h8M572 774h8M551 650h8M526 777h8M610 791h8M620 731h8M467 738h8M581 645h8M872 761h8M701 763h8M485 711h8M865 692h8M698 760h8M737 802h8M685 793h8M718 706h8M798 683h8M798 739h8M788 759h8M669 753h8M451 708h8M579 636h8M684 690h8M581 724h8M580 727h8M478 770h8M837 782h8M632 659h8M647 683h8M697 724h8M442 685h8M451 759h8"/><path stroke="#c2c3df" stroke-width="10" d="M724 807h10M844 804h10M597 800h10M619 804h10M563 870h10M418 797h10M564 813h10M482 766h10M397 774h10M751 842h10M704 805h10M398 763h10M762 838h10M823 778h10M542 839h10M719 849h10M841 765h10M583 846h10M794 767h10M513 759h10M590 767h10M645 863h10M667 785h10M664 860h10M680 864h10M688 852h10M806 863h10M408 809h10M695 789h10M697 864h10M838 802h10M628 810h10M831 782h10M469 801h10M394 837h10M569 782h10"/><path stroke="#86cc85" stroke-width="10" d="M744 843h10M491 767h10M566 757h10M504 753h10M498 809h10M577 730h10M628 837h10M669 785h10M741 747h10M487 801h10M711 736h10M687 752h10M587 809h10M831 737h10M824 786h10M829 787h10M700 803h10M558 713h10M585 802h10M757 744h10M826 765h10M503 794h10M715 762h10M600 790h10M634 801h10M821 710h10M624 787h10M647 837h10M493 763h10M479 768h10M651 838h10M571 750h10M691 799h10M524 798h10M619 735h10M487 748h10M860 759h10M786 787h10M699 755h10M717 753h10M815 826h10M673 806h10M616 776h10M885 733h10M801 801h10M700 834h10M665 827h10M646 809h10M681 799h10M863 774h10M489 775h10M637 688h10M490 788h10M841 774h10"/><path stroke="#a6a6a6" stroke-width="8" d="M672 777h8M660 698h8M681 617h8M511 793h8M708 759h8M406 770h8M527 782h8M458 714h8M486 758h8M619 693h8M430 795h8M625 759h8M670 773h8M880 753h8M461 770h8M544 766h8M847 733h8M652 755h8M492 724h8M436 683h8M499 782h8M456 732h8M619 707h8M787 751h8M718 726h8M509 716h8M408 746h8M485 748h8M768 654h8M792 713h8M762 685h8M750 748h8M605 696h8M509 719h8M532 729h8M560 705h8M692 731h8M675 755h8M681 750h8M739 741h8"/><path stroke="#aaa8d0" stroke-width="10" d="M390 771h10M735 764h10M481 869h10M543 767h10M580 806h10M690 808h10M542 814h10M361 843h10M736 828h10M549 811h10M820 760h10M682 749h10M618 795h10M809 816h10M421 806h10M492 790h10M651 792h10M615 835h10M761 813h10M836 866h10M590 774h10M395 842h10"/><path stroke="#60ba6c" stroke-width="10" d="M615 807h10M621 790h10M643 811h10M663 788h10M532 799h10M858 793h10M811 813h10M732 752h10M630 833h10M565 749h10M768 768h10M655 765h10M831 827h10M462 783h10M620 814h10M582 759h10M512 783h10M433 779h10M792 789h10M789 797h10M589 782h10M444 822h10M840 747h10M502 805h10M821 764h10M664 796h10M732 732h10M409 809h10M789 779h10M769 780h10M523 788h10M525 757h10M690 751h10M779 813h10M778 774h10M829 814h10M661 826h10M696 771h10M751 776h10M702 814h10M682 835h10M800 798h10M550 807h10M527 756h10M557 791h10"/><path stroke="#888888" stroke-width="8" d="M777 643h8M831 708h8M410 696h8M777 709h8M775 781h8M564 709h8M854 694h8M796 798h8M625 739h8M421 775h8M791 729h8M550 772h8M488 715h8M434 662h8M515 739h8M539 786h8M589 652h8M593 777h8M725 701h8M757 744h8M731 656h8M695 709h8M569 741h8M446 769h8M503 782h8M801 794h8M458 731h8M742 697h8M736 742h8M692 749h8M743 693h8M417 752h8M699 762h8M767 758h8M465 724h8M582 782h8M637 691h8M868 696h8M656 742h8M770 696h8"/><path stroke="#928ec2" stroke-width="10" d="M443 840h10M482 790h10M663 780h10M487 767h10M585 779h10M589 795h10M477 815h10M611 788h10M630 823h10M533 826h10M687 877h10M677 805h10M622 853h10M423 861h10M462 797h10M835 836h10M545 786h10M631 823h10"/><path stroke="#3ba558" stroke-width="10" d="M831 787h10M505 788h10M672 774h10M771 734h10M618 760h10M735 750h10M623 750h10M520 788h10M611 827h10M523 802h10M720 791h10M696 794h10M567 746h10M617 792h10M694 780h10M667 785h10M578 783h10M776 785h10M618 769h10M789 804h10M769 802h10M763 763h10M649 765h10M790 767h10M628 783h10M571 792h10M779 756h10M744 824h10M615 774h10M498 769h10M710 768h10M632 797h10M467 707h10"/><path stroke="#6c6c6c" stroke-width="8" d="M627 707h8M484 724h8M609 671h8M664 763h8M432 723h8M517 691h8M472 744h8M735 790h8M500 790h8M481 718h8M601 781h8M844 671h8M646 722h8M459 763h8M651 682h8M687 751h8M762 695h8M641 731h8M522 806h8M786 689h8M596 738h8M680 775h8M764 757h8M754 761h8M736 767h8M839 779h8M676 691h8"/><path stroke="#7c74b5" stroke-width="10" d="M659 810h10M709 853h10M667 842h10M645 786h10M508 758h10M574 804h10M425 801h10M545 783h10M483 789h10"/><path stroke="#238b45" stroke-width="10" d="M558 821h10M632 813h10M702 762h10M629 786h10M712 817h10M759 805h10M534 762h10M659 770h10M834 785h10M624 810h10M736 796h10M697 821h10M519 795h10M705 763h10M677 800h10"/><path stroke="#525252" stroke-width="8" d="M526 740h8M503 742h8M586 745h8M521 737h8M854 755h8M806 710h8M577 751h8M661 811h8M593 812h8M460 735h8M504 746h8M635 747h8M623 760h8M822 717h8M587 735h8M590 745h8"/><path stroke="#6a51a3" stroke-width="10" d="M758 763h10M527 842h10M674 798h10M513 810h10M556 771h10"/><path stroke="#077331" stroke-width="10" d="M601 791h10M707 783h10M653 773h10M707 775h10M624 794h10M580 796h10M685 746h10M604 791h10M665 773h10"/><path stroke="#2e2e2e" stroke-width="8" d="M635 734h8M569 715h8M778 722h8M636 703h8M489 787h8M646 752h8M549 762h8M410 766h8M817 714h8M694 761h8M779 739h8"/><path stroke="#582f93" stroke-width="10" d="M658 812h10M638 793h10M796 844h10"/><path stroke="#005422" stroke-width="10" d="M568 773h10M641 780h10M761 774h10M659 777h10M787 794h10"/><path stroke="#0f0f0f" stroke-width="8" d="M746 746h8M636 772h8M660 712h8M775 747h8M672 751h8M481 732h8M662 761h8M685 728h8M592 749h8"/><path stroke="#dff3da" stroke-width="10" d="M887 802h10M429 808h10M618 824h10M769 820h10M809 703h10M888 793h10M764 765h10M833 762h10M474 725h10M846 729h10M880 804h10M490 820h10M857 769h10M743 748h10M839 717h10M547 757h10M763 723h10M610 746h10M559 732h10M530 700h10M730 780h10M792 833h10M619 812h10M496 746h10M653 730h10M428 781h10M862 784h10M726 844h10M524 814h10M709 825h10M559 727h10M834 759h10M411 745h10M517 718h10M875 790h10M463 797h10M453 716h10M539 739h10M766 816h10M429 816h10M839 779h10M880 773h10M706 807h10M883 766h10M496 791h10M868 759h10M546 786h10M694 723h10M861 792h10M566 717h10M519 813h10M796 718h10M673 704h10M811 810h10M624 862h10M557 738h10M861 827h10M791 714h10M746 729h10M548 836h10M831 830h10M443 821h10M649 852h10M470 800h10M752 698h10M851 781h10M503 785h10M439 764h10"/><path stroke="#ebebeb" stroke-width="8" d="M440 774h8M800 801h8M447 672h8M611 643h8M843 737h8M835 755h8M780 770h8M546 781h8M706 658h8M669 637h8M520 820h8M852 727h8M535 657h8M840 709h8M556 659h8M391 714h8M802 762h8M508 635h8M514 677h8M877 742h8M716 638h8M693 776h8M766 732h8M780 773h8M472 677h8M486 773h8M449 740h8M838 753h8M432 765h8M738 776h8M766 784h8M780 820h8M573 813h8M791 766h8M892 754h8M469 782h8M483 672h8M787 725h8M831 782h8M484 693h8M857 715h8M837 658h8M859 726h8M739 662h8M865 772h8M862 751h8M809 690h8M702 687h8M440 656h8M722 730h8M451 753h8M861 731h8M504 825h8M839 734h8M834 730h8M434 724h8M801 685h8M673 768h8M494 802h8M569 776h8M516 720h8M667 654h8M497 773h8M785 637h8M853 692h8M848 766h8M724 780h8M687 619h8M813 789h8M532 788h8M547 798h8M854 755h8M429 670h8M526 702h8M387 778h8M878 715h8M855 687h8M412 712h8M869 695h8M675 746h8M453 709h8M472 702h8"/><path stroke="#ebe9f3" stroke-width="10" d="M836 834h10M782 760h10M843 795h10M789 781h10M747 746h10M765 812h10M455 816h10M881 838h10M754 862h10M394 829h10M415 847h10M644 878h10M549 844h10M465 764h10M368 802h10M743 755h10M639 775h10M803 861h10M550 805h10M836 789h10M783 831h10M579 893h10M701 835h10M670 752h10M598 854h10M614 774h10M541 757h10M533 763h10M557 781h10M658 765h10M557 786h10M365 847h10M855 770h10M849 825h10M855 830h10M606 752h10M723 857h10M844 810h10M394 845h10M674 763h10M436 855h10M461 855h10M458 789h10M804 833h10M685 765h10M782 773h10M505 797h10M776 879h10M466 823h10M415 838h10M875 807h10M543 791h10M552 877h10M799 845h10M588 832h10M525 852h10M414 826h10M476 785h10M631 874h10M820 862h10M592 784h10M804 804h10M735 767h10M583 875h10M577 774h10M735 748h10M622 748h10M501 812h10M491 860h10M807 823h10M860 802h10M787 877h10M460 881h10M498 792h10M792 862h10M819 861h10M622 769h10M738 838h10"/><path stroke="#c7e9c0" stroke-width="10" d="M609 812h10M506 815h10M726 758h10M532 765h10M807 745h10M413 786h10M853 816h10M586 812h10M736 700h10M803 845h10M625 712h10M634 784h10M603 723h10M484 777h10M530 759h10M842 818h10M671 813h10M846 733h10M829 781h10M837 794h10M772 739h10M551 766h10M659 811h10M814 731h10M865 803h10M817 754h10M703 823h10M629 813h10M765 741h10M763 754h10M423 782h10M565 719h10M771 770h10M570 790h10M688 831h10M551 764h10M570 804h10M851 802h10M454 783h10M511 817h10M508 732h10M866 794h10M669 777h10M573 855h10M655 722h10M688 820h10M880 771h10M462 783h10M600 724h10M887 795h10M487 743h10M872 769h10M811 774h10M801 770h10M790 777h10M601 817h10M872 773h10M730 721h10M805 790h10M724 754h10M520 753h10M557 794h10M469 721h10M623 740h10M508 798h10M633 708h10M802 766h10M712 814h10M727 734h10M482 805h10M516 827h10M785 818h10M515 827h10M679 755h10M889 802h10M461 812h10M561 763h10M555 821h10M554 735h10M534 769h10M562 815h10M579 760h10"/><path stroke="#d9d9d9" stroke-width="8" d="M524 711h8M456 712h8M492 726h8M734 719h8M511 682h8M829 789h8M827 725h8M685 763h8M494 784h8M630 776h8M577 770h8M539 705h8M414 734h8M817 740h8M844 780h8M628 684h8M696 715h8M438 752h8M698 785h8M806 773h8M701 694h8M847 725h8M735 773h8M769 753h8M845 720h8M830 727h8M822 711h8M575 779h8M606 718h8M688 729h8M800 799h8M663 810h8M591 767h8M647 722h8M432 767h8M661 728h8M753 788h8M565 671h8M605 804h8M865 781h8M559 790h8M541 788h8M427 711h8M543 751h8M655 745h8M744 691h8M836 689h8M501 793h8M391 693h8M683 693h8M800 808h8M752 772h8M672 660h8M526 703h8M847 747h8M477 659h8M713 699h8M813 671h8M483 774h8M649 777h8M565 727h8M637 703h8M525 720h8M497 712h8M757 806h8M517 797h8M529 745h8M445 722h8"/><path stroke="#dadaeb" stroke-width="10" d="M391 794h10M616 809h10M628 784h10M809 827h10M563 801h10M699 838h10M552 852h10M583 839h10M782 788h10M850 802h10M649 836h10M549 780h10M576 832h10M445 755h10M497 819h10M693 851h10M580 805h10M752 847h10M805 852h10M656 881h10M564 816h10M730 841h10M365 785h10M651 879h10M644 820h10M458 746h10M452 843h10M641 818h10M449 794h10M661 828h10M502 851h10M600 793h10M780 802h10M412 805h10M681 830h10M795 824h10M577 832h10M707 818h10M700 850h10M472 762h10M403 776h10M530 857h10M867 836h10M464 818h10M735 832h10M666 768h10M812 859h10M513 778h10"/><path stroke="#a9dca2" stroke-width="10" d="M631 772h10M500 783h10M663 783h10M685 753h10M705 769h10M850 731h10M572 729h10M817 754h10M868 729h10M489 784h10M513 846h10M834 776h10M640 817h10M629 787h10M526 755h10M551 713h10M772 788h10M584 746h10M777 747h10M453 775h10M611 772h10M564 737h10M655 770h10M708 764h10M473 746h10M414 801h10M646 802h10M535 715h10M674 785h10M510 774h10M733 784h10M682 711h10M719 816h10M718 788h10M777 791h10M583 793h10M633 821h10M842 785h10M656 743h10M783 769h10M699 749h10M841 732h10M706 792h10M577 790h10M555 794h10M628 768h10M713 759h10M867 758h10M780 725h10M712 781h10M605 797h10M677 824h10M479 816h10M668 743h10M688 751h10M596 830h10M748 772h10M630 760h10M495 768h10M809 822h10M759 789h10M418 777h10M667 800h10M666 757h10M826 816h10M563 747h10M544 786h10M817 737h10M615 757h10M596 731h10M879 790h10M875 753h10M764 774h10M492 813h10"/><path stroke="#c3c3c3" stroke-width="8" d="M757 822h8M700 820h8M790 770h8M626 788h8M789 797h8M586 714h8M674 727h8M483 816h8M648 680h8M600 725h8M584 676h8M648 726h8M724 745h8M731 745h8M621 752h8M801 777h8M436 718h8M498 675h8M532 729h8M736 745h8M760 773h8M602 662h8M749 690h8M462 779h8M638 744h8M483 690h8M708 760h8M724 766h8M583 756h8M510 710h8M851 692h8M627 712h8M512 749h8M518 642h8M485 800h8M790 718h8M721 657h8M824 742h8M387 710h8M668 650h8M792 765h8M741 752h8M625 811h8M854 772h8M427 762h8M728 771h8M507 708h8M422 742h8M565 733h8M730 740h8M612 658h8M619 774h8M741 681h8M506 689h8M690 759h8M716 726h8M462 747h8M676 754h8M695 796h8"/><path stroke="#c2c3df" stroke-width="10" d="M482 790h10M574 759h10M678 753h10M597 833h10M588 787h10M663 875h10M621 816h10M633 847h10M865 779h10M501 797h10M786 789h10M657 801h10M454 837h10M514 817h10M767 860h10M530 801h10M547 796h10M692 773h10M625 820h10M457 785h10M455 793h10M595 818h10M847 846h10M848 765h10M540 830h10M620 782h10M475 813h10M619 776h10M604 774h10M873 808h10M683 853h10M834 812h10M801 770h10M603 805h10M652 826h10M409 779h10"/><path stroke="#86cc85" stroke-width="10" d="M450 736h10M798 744h10M855 772h10M661 728h10M569 747h10M622 777h10M633 736h10M636 805h10M644 757h10M489 767h10M528 691h10M666 780h10M507 794h10M515 782h10M548 796h10M639 860h10M626 720h10M584 717h10M489 760h10M580 705h10M813 765h10M785 782h10M763 755h10M556 713h10M441 761h10M694 798h10M802 819h10M703 779h10M760 800h10M691 756h10M600 796h10M839 801h10M872 758h10M685 736h10M436 750h10M822 795h10M650 712h10M873 801h10M793 797h10M775 696h10M697 722h10M656 739h10M437 750h10M663 827h10M864 768h10M573 791h10M749 824h10M453 724h10M825 803h10M892 772h10M469 781h10M408 777h10M772 814h10M659 832h10"/><path stroke="#a6a6a6" stroke-width="8" d="M849 770h8M550 748h8M542 774h8M677 739h8M837 692h8M676 747h8M748 739h8M641 699h8M514 784h8M443 692h8M874 743h8M628 727h8M565 655h8M412 725h8M594 772h8M417 747h8M651 638h8M482 705h8M659 666h8M600 770h8M565 799h8M543 714h8M540 706h8M655 748h8M724 769h8M783 791h8M882 695h8M620 709h8M789 752h8M502 736h8M489 691h8M452 721h8M679 798h8M638 776h8M414 783h8M600 796h8M496 759h8M502 763h8M874 761h8M545 663h8"/><path stroke="#aaa8d0" stroke-width="10" d="M526 864h10M530 807h10M712 804h10M773 787h10M641 816h10M636 806h10M454 850h10M580 820h10M728 741h10M387 796h10M803 863h10M466 826h10M754 814h10M732 780h10M736 790h10M596 775h10M634 770h10M753 780h10M567 851h10M670 860h10M370 795h10"/><path stroke="#60ba6c" stroke-width="10" d="M830 774h10M499 776h10M491 781h10M520 757h10M788 818h10M585 799h10M811 788h10M659 786h10M745 706h10M530 789h10M817 745h10M635 831h10M506 809h10M554 754h10M648 749h10M823 780h10M762 822h10M740 777h10M581 786h10M563 799h10M852 809h10M535 777h10M584 780h10M585 801h10M589 790h10M482 766h10M829 825h10M837 739h10M694 811h10M810 769h10M625 804h10M526 798h10M507 804h10M771 789h10M598 686h10M537 780h10M566 758h10M479 738h10M496 810h10M597 829h10M754 832h10M733 726h10M487 782h10M477 784h10M662 718h10"/><path stroke="#888888" stroke-width="8" d="M488 757h8M469 649h8M403 698h8M529 724h8M830 736h8M569 741h8M515 757h8M795 713h8M397 759h8M492 800h8M690 707h8M557 766h8M630 762h8M552 727h8M732 782h8M625 768h8M469 684h8M772 725h8M793 746h8M771 692h8M763 764h8M728 689h8M445 723h8M831 768h8M496 778h8M677 705h8M671 682h8M687 779h8M735 698h8M630 744h8M714 822h8M663 734h8M414 737h8M798 707h8M636 698h8M548 748h8M520 727h8M624 783h8M520 749h8"/><path stroke="#928ec2" stroke-width="10" d="M824 790h10M678 853h10M565 774h10M751 807h10M579 831h10M408 847h10M547 737h10M747 827h10M443 762h10M557 822h10M651 864h10M855 767h10M530 758h10M873 808h10M418 779h10M632 772h10M374 835h10"/><path stroke="#3ba558" stroke-width="10" d="M663 767h10M728 803h10M661 810h10M737 771h10M612 799h10M571 764h10M511 779h10M632 755h10M584 755h10M691 799h10M520 795h10M766 774h10M706 818h10M649 760h10M658 824h10M587 761h10M680 772h10M715 771h10M618 765h10M502 767h10M672 798h10M829 827h10M738 818h10M578 796h10M620 790h10M596 755h10M677 749h10M584 797h10M481 731h10M743 781h10M811 796h10M683 776h10M585 760h10"/><path stroke="#6c6c6c" stroke-width="8" d="M738 733h8M700 773h8M584 794h8M632 768h8M679 634h8M662 744h8M486 774h8M675 768h8M545 746h8M549 727h8M737 748h8M511 723h8M759 705h8M613 780h8M426 719h8M528 749h8M591 773h8M848 786h8M413 765h8M685 743h8M652 804h8M776 768h8M732 738h8M608 742h8M729 781h8M616 763h8"/><path stroke="#7c74b5" stroke-width="10" d="M711 818h10M781 804h10M507 795h10M506 794h10M878 788h10M782 790h10M635 782h10M501 792h10M580 772h10"/><path stroke="#238b45" stroke-width="10" d="M715 789h10M607 817h10M706 789h10M581 779h10M740 802h10M636 777h10M658 768h10M693 767h10M729 774h10M776 800h10M665 779h10M602 790h10M699 727h10M778 782h10"/><path stroke="#525252" stroke-width="8" d="M504 726h8M816 727h8M557 706h8M823 716h8M833 745h8M504 732h8M581 731h8M602 762h8M487 690h8M608 652h8M511 736h8M576 620h8M714 744h8M649 750h8M677 772h8M615 724h8"/><path stroke="#6a51a3" stroke-width="10" d="M593 839h10M546 780h10M512 859h10M671 785h10M519 832h10"/><path stroke="#077331" stroke-width="10" d="M662 786h10M707 795h10M642 775h10M729 782h10M674 748h10M633 791h10M524 769h10M548 805h10M631 795h10"/><path stroke="#2e2e2e" stroke-width="8" d="M532 730h8M847 781h8M555 760h8M718 728h8M645 783h8M734 790h8M694 748h8M746 747h8M671 764h8M456 730h8M393 772h8"/><path stroke="#582f93" stroke-width="10" d="M463 796h10M706 747h10"/><path stroke="#005422" stroke-width="10" d="M614 782h10M717 779h10M653 800h10M714 780h10M641 788h10"/><path stroke="#0f0f0f" stroke-width="8" d="M546 752h8M629 772h8M537 752h8M577 716h8M639 709h8M457 779h8M688 761h8M451 767h8M716 754h8"/><path stroke="#dff3da" stroke-width="10" d="M869 816h10M816 740h10M621 796h10M485 759h10M429 782h10M665 820h10M889 805h10M433 748h10M848 813h10M438 780h10M723 823h10M473 802h10M720 747h10M506 828h10M538 699h10M530 836h10M861 801h10M543 786h10M627 769h10M650 820h10M747 712h10M426 785h10M455 796h10M794 813h10M604 792h10M834 730h10M719 819h10M786 739h10M478 832h10M624 856h10M636 797h10M873 733h10M447 749h10M609 681h10M447 717h10M510 772h10M814 712h10M469 752h10M428 802h10M799 776h10M778 745h10M759 740h10M538 792h10M468 728h10M796 755h10M499 739h10M420 814h10M611 704h10M885 753h10M515 750h10M477 801h10M473 738h10M516 850h10M814 770h10M495 746h10M856 824h10M762 717h10M477 744h10M856 768h10M637 715h10M888 779h10M632 857h10M461 785h10M824 775h10M577 710h10M869 823h10M608 766h10M757 855h10"/><path stroke="#ebebeb" stroke-width="8" d="M665 764h8M405 789h8M409 775h8M388 776h8M522 747h8M872 767h8M644 833h8M804 779h8M543 785h8M832 744h8M735 814h8M381 706h8M559 685h8M846 689h8M538 744h8M410 709h8M512 654h8M404 752h8M526 673h8M765 802h8M513 815h8M793 695h8M702 663h8M533 734h8M611 678h8M446 667h8M860 759h8M622 764h8M726 679h8M759 755h8M511 776h8M787 797h8M881 710h8M480 771h8M516 664h8M802 690h8M480 740h8M572 624h8M833 715h8M647 657h8M482 817h8M415 756h8M432 739h8M461 717h8M476 773h8M579 781h8M415 722h8M510 708h8M696 791h8M554 792h8M422 771h8M485 728h8M703 790h8M863 755h8M457 757h8M774 797h8M442 654h8M749 659h8M529 729h8M442 702h8M593 658h8M415 740h8M868 770h8M877 685h8M386 733h8M464 737h8M489 787h8M416 672h8M730 680h8M853 676h8M792 694h8M606 829h8M477 786h8M414 708h8M440 807h8M639 688h8M579 814h8M461 806h8M563 641h8M751 736h8M440 780h8M380 763h8"/><path stroke="#ebe9f3" stroke-width="10" d="M807 814h10M683 865h10M847 836h10M822 816h10M427 858h10M836 823h10M593 773h10M813 862h10M829 846h10M401 850h10M428 853h10M458 878h10M814 791h10M537 762h10M874 842h10M454 840h10M546 897h10M481 777h10M847 842h10M606 771h10M828 828h10M781 769h10M397 768h10M469 823h10M448 762h10M583 768h10M850 808h10M544 780h10M652 785h10M769 753h10M712 774h10M425 825h10M852 853h10M481 854h10M857 799h10M446 873h10M775 781h10M369 819h10M465 787h10M776 866h10M580 865h10M708 839h10M860 817h10M566 784h10M388 836h10M442 777h10M760 845h10M371 818h10M780 761h10M695 841h10M521 773h10M467 808h10M812 834h10M515 785h10M829 808h10M862 777h10M728 809h10M658 829h10M393 775h10M881 841h10M522 822h10M504 774h10M511 881h10M816 801h10M670 773h10M826 873h10M635 784h10M500 870h10M768 743h10M630 852h10M538 831h10M543 852h10M446 785h10M580 827h10M572 839h10M690 767h10M728 822h10M664 794h10"/><path stroke="#c7e9c0" stroke-width="10" d="M512 770h10M850 767h10M821 757h10M623 708h10M644 789h10M714 808h10M695 805h10M598 803h10M774 732h10M503 845h10M716 801h10M694 797h10M598 732h10M850 797h10M490 750h10M441 785h10M799 708h10M775 815h10M726 804h10M613 739h10M490 819h10M687 811h10M446 754h10M454 810h10M572 738h10M611 804h10M685 758h10M491 744h10M653 732h10M769 810h10M539 779h10M798 837h10M609 718h10M763 732h10M433 761h10M726 785h10M427 776h10M539 752h10M556 745h10M821 753h10M887 777h10M694 747h10M719 718h10M759 807h10M825 797h10M766 782h10M501 725h10M827 778h10M734 729h10M539 795h10M880 788h10M605 755h10M743 717h10M607 727h10M498 808h10M769 758h10M710 818h10M445 827h10M722 725h10M749 720h10M751 841h10M444 717h10M764 832h10M865 752h10M512 757h10M620 775h10M763 791h10M535 775h10M692 745h10M740 732h10M695 753h10M657 688h10M865 781h10M883 812h10M763 717h10M656 744h10M582 839h10M728 815h10M465 740h10M872 749h10M791 819h10"/><path stroke="#d9d9d9" stroke-width="8" d="M760 760h8M445 701h8M676 778h8M580 744h8M542 748h8M476 652h8M473 797h8M504 718h8M702 695h8M655 747h8M501 804h8M789 720h8M397 709h8M862 744h8M526 653h8M390 754h8M561 756h8M774 767h8M857 723h8M627 736h8M711 764h8M616 683h8M466 744h8M534 763h8M835 676h8M725 812h8M711 685h8M657 777h8M855 793h8M865 747h8M835 696h8M702 778h8M552 696h8M771 707h8M641 765h8M455 687h8M397 779h8M416 677h8M703 778h8M605 714h8M755 781h8M863 735h8M518 803h8M738 683h8M455 739h8M664 637h8M804 755h8M510 737h8M785 754h8M604 818h8M654 780h8M450 710h8M745 778h8M383 742h8M641 770h8M781 792h8M476 715h8M522 793h8M671 674h8M490 660h8M556 831h8M809 728h8M650 788h8M790 745h8M814 783h8M847 775h8M849 690h8M549 773h8"/><path stroke="#dadaeb" stroke-width="10" d="M506 807h10M853 794h10M663 824h10M600 863h10M605 901h10M829 823h10M474 831h10M848 830h10M841 812h10M723 891h10M573 832h10M739 844h10M413 820h10M591 779h10M777 825h10M492 868h10M410 843h10M434 812h10M657 813h10M846 828h10M489 806h10M839 805h10M697 798h10M413 870h10M429 756h10M507 813h10M516 840h10M539 777h10M809 849h10M739 750h10M779 876h10M758 787h10M713 816h10M565 808h10M742 793h10M654 875h10M431 795h10M528 736h10M523 859h10M588 846h10M477 786h10M837 848h10M579 859h10M805 770h10M377 846h10M537 783h10M722 831h10M666 799h10"/><path stroke="#a9dca2" stroke-width="10" d="M698 772h10M565 807h10M727 757h10M540 777h10M571 744h10M655 796h10M725 788h10M783 803h10M669 840h10M513 778h10M788 738h10M648 797h10M522 815h10M658 818h10M583 801h10M583 754h10M838 769h10M638 752h10M452 821h10M656 786h10M629 765h10M558 742h10M500 800h10M883 772h10M529 788h10M631 781h10M733 744h10M455 830h10M756 808h10M826 814h10M831 722h10M501 837h10M713 764h10M761 789h10M854 781h10M558 768h10M419 812h10M682 821h10M695 798h10M543 752h10M653 765h10M640 747h10M858 737h10M891 801h10M539 752h10M761 769h10M508 727h10M779 743h10M602 776h10M609 776h10M727 790h10M838 787h10M731 786h10M549 768h10M502 796h10M674 757h10M514 843h10M542 850h10M587 806h10M722 762h10M740 779h10M817 715h10M577 813h10M832 778h10M647 841h10M428 755h10M507 751h10M631 783h10M525 764h10M666 773h10M663 799h10M709 816h10M472 779h10M637 767h10"/><path stroke="#c3c3c3" stroke-width="8" d="M605 756h8M666 729h8M830 713h8M787 657h8M714 764h8M563 682h8M666 704h8M456 790h8M702 697h8M725 718h8M796 738h8M710 734h8M487 740h8M564 818h8M635 677h8M640 700h8M728 733h8M750 655h8M531 684h8M653 779h8M841 714h8M440 693h8M453 754h8M700 797h8M744 798h8M638 676h8M519 745h8M541 819h8M834 776h8M594 732h8M746 727h8M682 787h8M389 768h8M837 736h8M695 762h8M819 716h8M836 741h8M776 716h8M806 729h8M418 666h8M592 696h8M397 691h8M595 803h8M731 751h8M746 709h8M814 742h8M522 784h8M500 716h8M584 719h8M678 733h8M409 749h8M857 744h8M537 764h8M679 738h8M705 740h8M765 678h8M740 811h8M517 722h8"/><path stroke="#c2c3df" stroke-width="10" d="M743 785h10M651 816h10M592 761h10M753 833h10M455 876h10M538 814h10M628 813h10M490 806h10M632 840h10M653 824h10M730 841h10M733 820h10M532 828h10M728 811h10M577 819h10M643 852h10M506 803h10M396 848h10M648 811h10M660 776h10M535 745h10M379 801h10M714 814h10M623 743h10M668 830h10M488 861h10M783 775h10M809 835h10M487 781h10M745 886h10M542 816h10M627 810h10M536 761h10M697 871h10M438 844h10M409 793h10"/><path stroke="#86cc85" stroke-width="10" d="M534 748h10M834 753h10M592 802h10M580 770h10M644 807h10M566 776h10M531 747h10M680 822h10M488 751h10M518 773h10M637 797h10M780 766h10M728 815h10M786 723h10M489 761h10M664 721h10M830 780h10M547 781h10M665 787h10M672 768h10M871 773h10M748 757h10M727 739h10M647 779h10M805 778h10M747 798h10M504 717h10M710 749h10M654 731h10M680 710h10M494 758h10M600 755h10M569 791h10M587 784h10M611 767h10M451 765h10M737 817h10M575 817h10M491 768h10M817 779h10M653 823h10M475 788h10M557 747h10M737 831h10M780 786h10M660 738h10M629 682h10M723 758h10M555 792h10M485 778h10M595 809h10M837 788h10M465 821h10M606 756h10"/><path stroke="#a6a6a6" stroke-width="8" d="M662 801h8M710 731h8M474 780h8M550 709h8M437 683h8M778 742h8M581 706h8M581 711h8M758 771h8M822 710h8M726 711h8M536 784h8M436 804h8M627 657h8M405 691h8M557 735h8M809 731h8M535 776h8M666 658h8M512 680h8M766 762h8M677 760h8M763 732h8M468 723h8M770 757h8M791 763h8M764 734h8M588 775h8M677 803h8M817 795h8M485 740h8M719 707h8M644 704h8M587 774h8M604 749h8M437 685h8M602 716h8M778 679h8M646 744h8M452 719h8"/><path stroke="#aaa8d0" stroke-width="10" d="M752 823h10M575 785h10M620 815h10M432 786h10M365 816h10M649 885h10M536 789h10M605 840h10M633 829h10M568 772h10M700 812h10M590 826h10M556 825h10M658 860h10M786 811h10M571 864h10M803 782h10M518 812h10M444 799h10M504 836h10M469 808h10"/><path stroke="#60ba6c" stroke-width="10" d="M752 787h10M466 817h10M717 730h10M772 795h10M492 777h10M634 770h10M438 775h10M502 761h10M457 761h10M689 745h10M529 770h10M602 759h10M526 767h10M699 780h10M623 732h10M549 799h10M720 763h10M782 807h10M716 814h10M687 788h10M716 813h10M496 803h10M490 760h10M678 779h10M578 742h10M752 772h10M518 807h10M787 797h10M450 789h10M593 807h10M777 802h10M808 754h10M558 730h10M486 770h10M520 784h10M831 768h10M688 744h10M507 799h10M825 801h10M735 753h10M572 735h10M528 805h10M541 755h10M455 740h10"/><path stroke="#888888" stroke-width="8" d="M446 756h8M688 807h8M738 777h8M414 769h8M394 733h8M650 805h8M795 761h8M520 761h8M620 731h8M684 785h8M671 695h8M576 697h8M495 758h8M610 668h8M696 662h8M633 679h8M767 739h8M526 716h8M521 768h8M850 675h8M850 761h8M710 790h8M713 705h8M851 771h8M594 746h8M632 759h8M631 794h8M736 766h8M711 788h8M458 773h8M815 705h8M576 704h8M737 725h8M670 707h8M826 720h8M532 743h8M598 682h8M713 712h8M801 752h8"/><path stroke="#928ec2" stroke-width="10" d="M594 788h10M463 829h10M632 861h10M746 800h10M565 815h10M538 895h10M715 852h10M469 882h10M529 797h10M682 829h10M404 823h10M669 802h10M643 824h10M806 817h10M452 811h10M587 756h10M685 824h10"/><path stroke="#3ba558" stroke-width="10" d="M617 804h10M730 802h10M633 756h10M682 760h10M737 795h10M721 757h10M516 777h10M755 766h10M735 792h10M677 812h10M655 860h10M792 771h10M636 778h10M738 776h10M650 780h10M648 813h10M655 742h10M757 810h10M498 761h10M659 802h10M765 827h10M844 795h10M670 809h10M701 758h10M496 768h10M702 785h10M581 747h10M639 802h10M606 800h10M635 783h10M626 770h10M771 810h10M809 733h10"/><path stroke="#6c6c6c" stroke-width="8" d="M579 761h8M635 744h8M714 709h8M759 735h8M687 743h8M758 734h8M487 744h8M630 771h8M593 747h8M704 775h8M578 747h8M524 738h8M577 805h8M549 747h8M597 689h8M575 774h8M729 714h8M587 619h8M490 752h8M609 770h8M730 729h8M549 781h8M679 772h8M469 669h8M632 731h8M619 743h8"/><path stroke="#7c74b5" stroke-width="10" d="M475 846h10M457 801h10M859 855h10M716 841h10M696 778h10M647 794h10M627 822h10M660 835h10"/><path stroke="#238b45" stroke-width="10" d="M620 770h10M756 795h10M664 768h10M630 770h10M733 803h10M651 810h10M843 787h10M841 785h10M631 791h10M469 787h10M775 785h10M689 767h10M680 788h10M752 803h10"/><path stroke="#525252" stroke-width="8" d="M719 811h8M603 746h8M510 717h8M651 747h8M584 683h8M649 760h8M587 755h8M727 734h8M483 779h8M805 753h8M729 751h8M505 787h8M494 719h8M585 704h8M495 755h8M478 755h8"/><path stroke="#6a51a3" stroke-width="10" d="M531 854h10M714 770h10M457 786h10M615 844h10M638 804h10"/><path stroke="#077331" stroke-width="10" d="M676 789h10M576 818h10M673 794h10M676 752h10M747 785h10M688 769h10M790 812h10M552 795h10M616 820h10"/><path stroke="#2e2e2e" stroke-width="8" d="M619 772h8M770 739h8M543 737h8M523 728h8M496 755h8M605 743h8M462 756h8M570 748h8M596 751h8M709 784h8"/><path stroke="#582f93" stroke-width="10" d="M669 805h10M637 795h10"/><path stroke="#005422" stroke-width="10" d="M613 769h10M629 791h10M658 794h10M583 785h10"/><path stroke="#0f0f0f" stroke-width="8" d="M602 744h8M621 756h8M432 767h8M509 750h8M422 765h8M577 716h8M540 716h8M718 733h8M453 765h8"/></g></g>
<rect x="73.0" y="116.2" width="110.60" height="70.40" fill="none" stroke="#444" stroke-width="0.8"/>
<path d="M70.70 128.50H73.0" stroke="#444" stroke-width="0.8"/>
<text x="69.20" y="130.75" font-size="6.3" text-anchor="end" letter-spacing="0.35">1.2</text>
<path d="M70.70 145.00H73.0" stroke="#444" stroke-width="0.8"/>
<text x="69.20" y="147.25" font-size="6.3" text-anchor="end" letter-spacing="0.35">1.0</text>
<path d="M70.70 161.50H73.0" stroke="#444" stroke-width="0.8"/>
<text x="69.20" y="163.75" font-size="6.3" text-anchor="end" letter-spacing="0.35">0.8</text>
<path d="M70.70 178.00H73.0" stroke="#444" stroke-width="0.8"/>
<text x="69.20" y="180.25" font-size="6.3" text-anchor="end" letter-spacing="0.35">0.6</text>
<path d="M81.80 186.6V188.90" stroke="#444" stroke-width="0.8"/>
<text x="81.97" y="195.60" font-size="6.3" text-anchor="middle" letter-spacing="0.35">−40</text>
<path d="M117.25 186.6V188.90" stroke="#444" stroke-width="0.8"/>
<text x="117.42" y="195.60" font-size="6.3" text-anchor="middle" letter-spacing="0.35">−30</text>
<path d="M152.70 186.6V188.90" stroke="#444" stroke-width="0.8"/>
<text x="152.87" y="195.60" font-size="6.3" text-anchor="middle" letter-spacing="0.35">−20</text>
<text x="128.30" y="203.10" font-size="6.3" text-anchor="middle">Dec. (deg)</text>
<text x="0" y="0" font-size="6.5" text-anchor="middle" transform="translate(57.00,151.40) rotate(-90)">Predicted-to-Measured</text>
<clipPath id="cA4"><rect x="234.0" y="116.3" width="110.5" height="70.3"/></clipPath>
<g clip-path="url(#cA4)"><g filter="url(#bl)" transform="scale(0.2)"><path stroke="#dff3da" stroke-width="10" d="M1229 700h10M1510 844h10M1602 835h10M1239 777h10M1277 758h10M1269 775h10M1569 656h10M1653 747h10M1456 710h10M1701 775h10M1505 677h10M1517 797h10M1347 768h10M1251 667h10M1520 692h10M1495 822h10M1269 734h10M1365 828h10M1536 766h10M1260 706h10M1476 808h10M1457 822h10M1664 776h10M1617 668h10M1601 720h10M1596 673h10M1663 724h10M1251 816h10M1583 637h10M1659 811h10M1650 800h10M1191 770h10M1305 816h10M1240 773h10M1380 703h10M1327 760h10M1206 775h10M1446 849h10M1672 748h10M1367 667h10M1233 788h10M1611 814h10M1253 733h10M1553 668h10M1587 816h10M1263 783h10M1652 708h10M1625 804h10M1644 662h10M1340 817h10M1630 682h10M1259 661h10M1235 729h10M1582 733h10M1461 833h10M1622 811h10M1432 706h10M1672 821h10M1675 778h10M1551 764h10M1562 798h10M1309 811h10M1550 833h10M1621 788h10M1433 746h10M1260 741h10M1664 722h10M1291 730h10M1604 809h10M1702 763h10M1223 724h10M1192 708h10M1659 794h10M1514 712h10M1699 739h10M1253 798h10M1660 755h10M1540 807h10M1693 737h10M1639 684h10M1198 739h10"/><path stroke="#ebebeb" stroke-width="8" d="M1311 808h8M1255 790h8M1569 692h8M1591 673h8M1659 681h8M1236 726h8M1296 803h8M1292 678h8M1220 753h8M1281 760h8M1544 670h8M1541 747h8M1250 679h8M1594 679h8M1214 740h8M1554 729h8M1615 737h8M1583 795h8M1574 668h8"/><path stroke="#ebe9f3" stroke-width="10" d="M1301 876h10M1480 813h10M1645 849h10M1221 821h10M1647 790h10M1633 848h10M1497 767h10M1665 811h10M1623 803h10M1482 825h10M1222 848h10M1508 886h10M1508 776h10M1380 884h10M1691 857h10M1344 805h10M1506 893h10M1322 799h10M1396 887h10M1278 870h10M1369 768h10M1231 856h10M1206 860h10M1313 798h10M1536 820h10M1381 858h10M1532 854h10M1259 860h10M1210 848h10M1527 871h10M1396 898h10M1609 849h10M1577 858h10M1487 809h10M1550 799h10M1635 818h10M1619 850h10M1189 810h10M1330 890h10M1267 818h10M1574 844h10M1602 835h10M1375 828h10M1283 885h10M1275 872h10M1530 809h10M1695 862h10M1309 790h10M1604 866h10M1637 873h10M1239 816h10M1238 809h10M1500 784h10M1462 797h10M1642 800h10M1519 807h10M1204 854h10M1648 831h10M1287 871h10M1569 796h10M1294 811h10M1223 864h10M1388 777h10M1229 794h10M1620 866h10M1631 854h10M1387 812h10M1548 776h10M1209 809h10M1211 799h10M1679 862h10M1194 812h10M1335 851h10M1239 863h10M1265 838h10M1315 778h10"/><path stroke="#c7e9c0" stroke-width="10" d="M1708 786h10M1610 819h10M1591 813h10M1256 706h10M1514 818h10M1332 776h10M1519 669h10M1297 794h10M1407 720h10M1244 729h10M1400 705h10M1419 689h10M1555 748h10M1425 710h10M1524 808h10M1416 796h10M1511 762h10M1432 838h10M1395 840h10M1365 787h10M1547 769h10M1533 813h10M1459 713h10M1667 719h10M1210 716h10M1569 794h10M1551 820h10M1467 734h10M1632 776h10M1343 769h10M1512 760h10M1265 677h10M1185 728h10M1686 703h10M1464 834h10M1234 749h10M1436 738h10M1423 815h10M1546 715h10M1315 719h10M1597 681h10M1619 791h10M1554 705h10M1451 774h10M1522 747h10M1279 714h10M1664 694h10M1283 736h10M1319 768h10M1611 725h10M1564 689h10M1456 757h10M1527 769h10M1520 789h10M1540 766h10M1495 810h10M1592 759h10M1241 769h10M1607 761h10M1661 797h10M1204 777h10M1274 792h10M1657 778h10M1422 729h10M1357 663h10M1593 642h10M1517 676h10M1599 746h10M1346 742h10M1533 740h10M1500 779h10M1227 676h10M1275 715h10M1480 793h10M1698 731h10M1270 782h10M1689 720h10M1438 803h10M1216 763h10M1670 696h10M1550 771h10M1526 786h10M1406 763h10M1353 753h10M1314 839h10M1220 728h10M1325 719h10M1382 785h10M1289 767h10M1605 682h10M1687 719h10M1344 740h10M1369 769h10M1425 747h10"/><path stroke="#d9d9d9" stroke-width="8" d="M1236 695h8M1372 693h8M1518 750h8M1496 803h8M1383 723h8M1511 731h8M1628 747h8M1470 644h8M1538 718h8M1363 671h8M1484 786h8M1433 738h8M1224 758h8M1540 657h8M1254 676h8M1349 795h8M1326 781h8M1291 770h8"/><path stroke="#dadaeb" stroke-width="10" d="M1604 872h10M1563 873h10M1319 805h10M1435 808h10M1411 778h10M1344 866h10M1298 833h10M1410 816h10M1429 778h10M1317 810h10M1400 829h10M1465 874h10M1635 783h10M1236 852h10M1504 829h10M1586 819h10M1444 864h10M1306 883h10M1501 815h10M1422 812h10M1549 885h10M1285 870h10M1651 788h10M1333 877h10M1439 823h10M1520 802h10M1521 863h10M1327 848h10M1200 844h10M1470 829h10M1492 864h10M1186 830h10M1333 864h10M1584 823h10M1650 849h10M1650 860h10M1584 837h10M1511 856h10M1498 866h10M1698 804h10M1437 815h10M1542 817h10M1244 809h10M1392 859h10M1590 830h10M1247 810h10M1383 802h10M1236 849h10M1222 813h10M1311 854h10M1341 807h10M1243 863h10M1521 802h10M1186 850h10M1590 860h10M1422 861h10M1190 859h10M1584 876h10M1414 787h10M1261 858h10M1613 837h10M1312 884h10M1240 804h10M1518 819h10"/><path stroke="#a9dca2" stroke-width="10" d="M1450 769h10M1319 791h10M1221 697h10M1480 793h10M1398 794h10M1422 731h10M1457 856h10M1254 712h10M1409 758h10M1335 704h10M1359 641h10M1495 755h10M1563 710h10M1206 757h10M1482 814h10M1480 800h10M1448 737h10M1684 733h10M1393 770h10M1310 747h10M1299 739h10M1377 738h10M1449 752h10M1342 690h10M1234 707h10M1340 843h10M1544 779h10M1536 854h10M1658 805h10M1426 778h10M1693 790h10M1199 761h10M1334 819h10M1606 826h10M1608 750h10M1415 726h10M1459 686h10M1393 779h10M1244 694h10M1492 712h10M1544 813h10M1440 724h10M1402 732h10M1471 673h10M1242 772h10M1559 805h10M1275 751h10M1481 795h10M1403 770h10M1498 785h10M1512 766h10M1493 762h10M1641 715h10M1344 830h10M1609 795h10M1594 820h10M1553 752h10M1424 781h10M1415 784h10M1389 744h10M1247 810h10M1314 788h10M1563 744h10M1464 708h10M1467 779h10M1276 774h10M1217 763h10M1525 735h10M1415 756h10M1534 811h10M1261 750h10M1303 780h10M1688 807h10M1367 790h10M1562 662h10M1606 794h10M1519 753h10"/><path stroke="#c3c3c3" stroke-width="8" d="M1531 671h8M1581 768h8M1664 703h8M1289 669h8M1383 753h8M1396 741h8M1416 774h8M1423 722h8M1398 755h8M1272 704h8M1617 708h8M1198 733h8M1381 737h8M1490 788h8M1585 716h8M1268 700h8"/><path stroke="#c2c3df" stroke-width="10" d="M1279 863h10M1357 836h10M1223 853h10M1199 848h10M1480 847h10M1640 845h10M1184 811h10M1434 854h10M1627 864h10M1377 810h10M1470 889h10M1700 849h10M1368 869h10M1398 797h10M1562 837h10M1446 898h10M1498 819h10M1403 894h10M1433 862h10M1576 820h10M1225 843h10M1375 818h10M1610 849h10M1405 833h10M1454 870h10M1387 854h10M1455 822h10M1216 855h10M1552 889h10M1468 822h10M1427 857h10M1492 843h10M1622 798h10M1487 845h10M1564 818h10M1549 778h10M1378 847h10M1462 795h10M1674 793h10M1475 839h10M1255 850h10M1591 785h10M1519 852h10M1455 832h10M1434 832h10M1423 855h10"/><path stroke="#86cc85" stroke-width="10" d="M1620 782h10M1494 778h10M1575 712h10M1564 732h10M1471 758h10M1547 721h10M1492 746h10M1628 801h10M1303 766h10M1548 727h10M1462 727h10M1253 782h10M1284 774h10M1635 730h10M1358 761h10M1412 687h10M1272 740h10M1242 801h10M1641 759h10M1362 713h10M1317 803h10M1406 730h10M1383 660h10M1454 764h10M1369 812h10M1656 779h10M1403 775h10M1655 797h10M1698 771h10M1554 852h10M1404 675h10M1558 808h10M1385 824h10M1410 767h10M1652 779h10M1267 765h10M1255 694h10M1571 714h10M1570 757h10M1536 764h10M1280 691h10M1239 777h10M1357 723h10M1417 797h10M1483 729h10M1545 767h10M1396 790h10M1335 732h10M1419 771h10M1512 719h10M1455 763h10"/><path stroke="#a6a6a6" stroke-width="8" d="M1519 708h8M1394 763h8M1426 714h8M1311 695h8M1404 729h8M1349 673h8M1235 686h8M1297 691h8M1518 708h8"/><path stroke="#aaa8d0" stroke-width="10" d="M1354 812h10M1538 869h10M1568 857h10M1503 845h10M1473 846h10M1566 808h10M1654 848h10M1500 832h10M1418 816h10M1424 834h10M1482 848h10M1652 824h10M1408 846h10M1411 843h10M1593 853h10M1517 838h10M1317 841h10M1443 855h10M1399 820h10M1322 860h10M1493 801h10M1450 859h10M1245 809h10M1624 839h10M1437 898h10M1201 868h10"/><path stroke="#60ba6c" stroke-width="10" d="M1327 634h10M1297 767h10M1513 702h10M1595 786h10M1256 793h10M1513 742h10M1233 788h10M1477 776h10M1455 816h10M1253 666h10M1228 782h10M1519 740h10M1397 695h10M1327 751h10M1403 802h10M1646 760h10M1345 728h10M1299 701h10M1355 688h10M1436 809h10M1507 818h10M1342 798h10M1443 819h10M1504 812h10M1601 791h10M1488 753h10M1393 809h10M1247 766h10M1497 808h10M1324 742h10M1677 795h10M1522 806h10M1384 739h10M1326 823h10M1532 820h10M1473 814h10M1408 821h10M1518 796h10M1263 723h10M1347 817h10M1543 748h10M1259 817h10M1342 803h10M1515 770h10M1239 768h10M1441 796h10M1347 819h10M1344 756h10M1364 749h10M1626 794h10M1584 811h10M1531 813h10M1576 776h10M1645 779h10M1214 806h10M1472 800h10M1625 809h10M1489 716h10"/><path stroke="#888888" stroke-width="8" d="M1409 709h8M1613 738h8M1235 727h8M1521 792h8M1289 721h8M1300 709h8M1233 671h8M1635 713h8"/><path stroke="#928ec2" stroke-width="10" d="M1523 847h10M1470 839h10M1421 854h10M1570 806h10M1637 851h10M1235 821h10M1441 807h10M1488 813h10M1470 835h10M1523 826h10M1306 802h10M1637 820h10M1513 889h10M1283 814h10M1559 809h10M1602 856h10M1470 814h10M1531 805h10M1584 848h10M1279 870h10M1271 799h10M1470 809h10"/><path stroke="#3ba558" stroke-width="10" d="M1192 788h10M1456 783h10M1396 813h10M1428 734h10M1319 773h10M1297 795h10M1617 748h10M1350 755h10M1322 764h10M1299 794h10M1339 775h10M1417 712h10M1477 755h10M1293 788h10M1388 805h10M1528 769h10M1265 769h10M1539 802h10M1533 809h10M1223 709h10M1340 797h10M1289 767h10M1344 759h10M1480 747h10M1237 790h10M1491 778h10M1471 809h10M1393 792h10M1461 800h10M1585 652h10M1477 758h10M1654 770h10M1329 787h10M1542 787h10M1555 746h10M1628 784h10M1439 820h10M1243 745h10M1332 805h10"/><path stroke="#6c6c6c" stroke-width="8" d="M1617 730h8M1431 715h8M1348 698h8M1255 702h8M1513 738h8M1540 801h8"/><path stroke="#7c74b5" stroke-width="10" d="M1346 861h10M1375 819h10M1345 839h10M1355 843h10M1259 807h10M1336 878h10M1295 802h10M1410 866h10M1490 814h10M1505 854h10M1365 842h10M1438 823h10"/><path stroke="#238b45" stroke-width="10" d="M1284 773h10M1360 763h10M1355 797h10M1321 784h10M1414 774h10M1399 793h10M1630 767h10M1247 806h10M1523 775h10M1554 796h10M1395 776h10M1323 768h10M1433 795h10M1358 792h10M1368 794h10M1624 784h10M1476 744h10M1615 772h10M1507 778h10M1503 764h10M1401 791h10M1347 802h10M1370 752h10M1540 786h10M1446 823h10M1460 795h10M1351 768h10M1477 812h10M1401 787h10M1462 797h10M1448 774h10M1613 777h10M1366 745h10M1275 807h10M1518 774h10M1533 786h10M1390 756h10M1527 773h10"/><path stroke="#525252" stroke-width="8" d="M1457 779h8M1335 720h8M1545 740h8M1513 755h8M1433 727h8"/><path stroke="#6a51a3" stroke-width="10" d="M1484 861h10M1497 835h10M1490 853h10M1390 826h10M1345 858h10"/><path stroke="#077331" stroke-width="10" d="M1333 786h10M1662 772h10M1437 767h10M1628 775h10M1495 749h10M1519 779h10M1448 788h10M1586 791h10M1444 777h10M1516 789h10M1232 782h10M1396 780h10M1407 794h10M1400 787h10M1522 805h10M1506 807h10M1662 798h10M1609 811h10M1477 798h10M1379 718h10M1353 796h10M1454 772h10M1431 806h10M1528 789h10M1530 778h10M1423 772h10"/><path stroke="#2e2e2e" stroke-width="8" d="M1220 671h8M1416 691h8M1495 694h8"/><path stroke="#582f93" stroke-width="10" d="M1402 853h10M1512 844h10"/><path stroke="#005422" stroke-width="10" d="M1471 796h10M1600 779h10M1503 800h10M1500 797h10M1488 791h10M1365 766h10M1526 772h10M1352 802h10M1358 814h10M1443 767h10M1332 783h10M1478 785h10M1494 775h10M1330 786h10M1484 790h10M1534 775h10M1412 798h10M1409 787h10M1615 795h10M1500 768h10M1385 770h10M1426 800h10M1608 771h10"/><path stroke="#0f0f0f" stroke-width="8" d="M1402 692h8M1498 723h8"/><path stroke="#dff3da" stroke-width="10" d="M1284 832h10M1650 786h10M1666 781h10M1617 675h10M1370 679h10M1222 706h10M1678 770h10M1433 664h10M1638 826h10M1253 799h10M1704 723h10M1536 791h10M1705 712h10M1260 780h10M1542 809h10M1457 718h10M1392 839h10M1397 694h10M1254 772h10M1331 804h10M1251 724h10M1640 781h10M1543 696h10M1190 764h10M1309 822h10M1578 670h10M1702 781h10M1627 702h10M1254 672h10M1344 726h10M1532 801h10M1233 791h10M1431 827h10M1549 638h10M1268 690h10M1542 659h10M1669 815h10M1185 794h10M1401 823h10M1534 837h10M1217 780h10M1470 800h10M1383 796h10M1249 714h10M1580 720h10M1414 709h10M1573 826h10M1630 806h10M1686 682h10M1600 696h10M1661 673h10M1251 792h10M1301 810h10M1593 782h10M1293 738h10M1633 698h10M1186 785h10M1293 757h10M1531 632h10M1655 750h10M1639 789h10M1478 725h10M1284 789h10M1185 736h10M1646 684h10M1660 818h10M1348 831h10M1702 769h10M1425 639h10M1230 789h10M1453 796h10M1681 795h10M1205 721h10M1610 782h10M1239 682h10M1289 746h10M1601 745h10M1557 788h10M1705 791h10M1590 790h10"/><path stroke="#ebebeb" stroke-width="8" d="M1584 757h8M1594 676h8M1475 655h8M1469 766h8M1258 774h8M1610 780h8M1435 643h8M1275 696h8M1585 743h8M1307 665h8M1385 774h8M1293 792h8M1589 697h8M1431 670h8M1370 694h8M1214 726h8M1611 706h8M1493 653h8M1577 799h8"/><path stroke="#ebe9f3" stroke-width="10" d="M1480 852h10M1191 853h10M1390 866h10M1456 786h10M1204 838h10M1680 864h10M1661 849h10M1364 830h10M1234 812h10M1617 791h10M1651 853h10M1260 816h10M1696 844h10M1226 842h10M1345 778h10M1234 878h10M1634 864h10M1701 861h10M1352 889h10M1415 893h10M1214 815h10M1670 856h10M1380 802h10M1604 837h10M1610 820h10M1474 849h10M1221 798h10M1567 868h10M1558 838h10M1701 833h10M1591 818h10M1495 779h10M1285 848h10M1198 813h10M1397 850h10M1438 804h10M1644 870h10M1644 843h10M1269 842h10M1668 865h10M1697 812h10M1610 809h10M1469 860h10M1527 791h10M1239 843h10M1499 867h10M1624 820h10M1403 893h10M1622 853h10M1341 804h10M1651 846h10M1286 820h10M1612 808h10M1686 797h10M1268 831h10M1341 818h10M1263 780h10M1449 836h10M1328 787h10M1629 836h10M1329 840h10M1661 859h10M1689 843h10M1218 831h10M1665 810h10M1606 871h10M1690 841h10M1554 833h10M1349 862h10M1495 841h10M1250 821h10M1204 853h10M1251 859h10M1703 854h10M1372 878h10"/><path stroke="#c7e9c0" stroke-width="10" d="M1347 648h10M1243 715h10M1254 752h10M1534 740h10M1276 775h10M1669 799h10M1640 794h10M1250 787h10M1482 748h10M1558 802h10M1300 765h10M1542 722h10M1364 854h10M1567 750h10M1288 799h10M1584 673h10M1529 731h10M1559 793h10M1269 820h10M1498 791h10M1341 727h10M1537 789h10M1299 799h10M1326 806h10M1437 817h10M1465 715h10M1558 739h10M1458 675h10M1277 710h10M1617 752h10M1522 719h10M1293 737h10M1372 774h10M1527 821h10M1475 688h10M1586 808h10M1232 758h10M1586 687h10M1301 698h10M1360 680h10M1297 702h10M1669 752h10M1594 731h10M1596 808h10M1536 780h10M1667 760h10M1231 812h10M1647 685h10M1425 796h10M1598 834h10M1420 749h10M1219 730h10M1466 742h10M1282 677h10M1195 766h10M1211 783h10M1234 788h10M1409 728h10M1404 738h10M1665 742h10M1495 677h10M1453 808h10M1583 664h10M1233 802h10M1636 804h10M1310 762h10M1246 675h10M1614 782h10M1646 782h10M1272 777h10M1331 778h10M1656 749h10M1313 754h10M1309 686h10M1605 693h10M1472 726h10M1363 758h10M1415 719h10M1581 774h10M1394 722h10M1457 784h10M1506 796h10M1435 645h10M1507 715h10M1434 715h10M1304 755h10M1341 690h10M1301 762h10M1440 699h10M1340 718h10M1243 765h10M1598 743h10M1527 738h10"/><path stroke="#d9d9d9" stroke-width="8" d="M1624 734h8M1228 764h8M1268 741h8M1392 636h8M1314 773h8M1610 716h8M1512 754h8M1575 712h8M1649 773h8M1460 764h8M1424 666h8M1189 699h8M1205 750h8M1406 771h8M1306 747h8M1608 736h8M1629 782h8M1467 740h8"/><path stroke="#dadaeb" stroke-width="10" d="M1304 785h10M1296 825h10M1420 840h10M1318 845h10M1307 798h10M1439 832h10M1401 854h10M1512 855h10M1313 851h10M1572 852h10M1511 807h10M1296 856h10M1302 838h10M1435 882h10M1494 839h10M1622 863h10M1454 824h10M1200 860h10M1349 846h10M1197 808h10M1470 856h10M1265 830h10M1239 854h10M1621 832h10M1361 833h10M1490 827h10M1643 866h10M1703 805h10M1224 804h10M1582 860h10M1605 858h10M1550 844h10M1472 828h10M1416 850h10M1332 861h10M1542 842h10M1560 851h10M1289 883h10M1425 866h10M1485 877h10M1219 819h10M1701 824h10M1671 800h10M1489 815h10M1473 831h10M1260 790h10M1348 768h10M1683 802h10M1191 853h10M1662 851h10M1420 835h10M1406 861h10M1481 864h10M1449 787h10M1228 859h10M1364 787h10M1541 819h10M1625 809h10M1372 800h10M1260 866h10M1246 793h10M1513 865h10M1691 871h10M1441 858h10"/><path stroke="#a9dca2" stroke-width="10" d="M1428 705h10M1658 791h10M1425 714h10M1452 728h10M1445 803h10M1532 820h10M1267 788h10M1529 712h10M1571 781h10M1470 734h10M1390 755h10M1474 761h10M1408 787h10M1421 779h10M1645 830h10M1456 730h10M1431 731h10M1404 734h10M1237 748h10M1212 754h10M1572 798h10M1347 746h10M1465 784h10M1361 779h10M1299 764h10M1439 711h10M1596 665h10M1479 712h10M1528 729h10M1606 773h10M1370 750h10M1481 785h10M1632 735h10M1313 698h10M1379 781h10M1432 823h10M1457 725h10M1697 770h10M1505 740h10M1448 736h10M1513 702h10M1208 781h10M1396 823h10M1612 701h10M1451 741h10M1530 752h10M1368 719h10M1594 771h10M1443 788h10M1346 839h10M1559 721h10M1447 706h10M1366 672h10M1230 789h10M1629 766h10M1487 781h10M1601 786h10M1358 739h10M1241 810h10M1432 734h10M1427 716h10M1325 776h10M1336 702h10M1347 805h10M1704 758h10M1292 816h10M1318 649h10M1428 768h10M1648 665h10M1432 743h10M1690 747h10M1658 777h10M1552 791h10M1595 728h10M1652 728h10M1650 690h10M1408 708h10"/><path stroke="#c3c3c3" stroke-width="8" d="M1523 770h8M1556 672h8M1377 701h8M1658 749h8M1630 758h8M1410 697h8M1335 707h8M1263 754h8M1298 701h8M1534 788h8M1376 739h8M1549 690h8M1375 668h8M1471 751h8M1394 707h8M1431 757h8"/><path stroke="#c2c3df" stroke-width="10" d="M1454 879h10M1470 859h10M1439 853h10M1468 887h10M1465 832h10M1353 848h10M1184 843h10M1683 861h10M1411 802h10M1421 802h10M1665 829h10M1443 850h10M1636 855h10M1578 865h10M1243 793h10M1451 809h10M1582 870h10M1517 865h10M1674 837h10M1415 847h10M1329 833h10M1597 865h10M1469 848h10M1460 833h10M1371 864h10M1430 887h10M1502 812h10M1341 885h10M1500 857h10M1485 785h10M1414 866h10M1384 866h10M1403 834h10M1467 832h10M1390 830h10M1473 841h10M1675 824h10M1379 846h10M1371 851h10M1452 839h10M1477 815h10M1436 815h10M1247 870h10M1459 848h10M1685 831h10M1457 810h10"/><path stroke="#86cc85" stroke-width="10" d="M1232 825h10M1452 684h10M1392 731h10M1651 768h10M1335 742h10M1574 818h10M1660 743h10M1420 736h10M1395 683h10M1651 776h10M1314 760h10M1327 752h10M1279 709h10M1332 755h10M1294 739h10M1473 779h10M1459 747h10M1450 756h10M1263 653h10M1483 831h10M1433 716h10M1651 793h10M1581 765h10M1404 696h10M1512 733h10M1480 668h10M1389 753h10M1463 746h10M1296 760h10M1332 742h10M1320 782h10M1207 732h10M1685 764h10M1704 760h10M1526 797h10M1421 824h10M1306 798h10M1456 799h10M1275 793h10M1388 788h10M1324 658h10M1407 701h10M1455 657h10M1533 754h10M1238 748h10M1556 758h10M1305 814h10M1219 806h10M1454 769h10M1231 782h10M1308 826h10"/><path stroke="#a6a6a6" stroke-width="8" d="M1440 657h8M1552 698h8M1248 765h8M1473 760h8M1410 773h8M1447 675h8M1609 697h8M1360 712h8M1581 737h8"/><path stroke="#aaa8d0" stroke-width="10" d="M1345 842h10M1633 844h10M1433 805h10M1430 886h10M1334 866h10M1341 865h10M1580 831h10M1590 876h10M1666 856h10M1591 839h10M1531 843h10M1542 858h10M1648 862h10M1479 844h10M1569 871h10M1421 851h10M1218 853h10M1410 874h10M1571 867h10M1339 812h10M1624 828h10M1403 830h10M1538 819h10M1289 788h10M1442 896h10"/><path stroke="#60ba6c" stroke-width="10" d="M1578 800h10M1425 731h10M1437 754h10M1623 780h10M1571 722h10M1609 775h10M1413 770h10M1598 806h10M1470 728h10M1481 799h10M1280 719h10M1646 781h10M1556 774h10M1243 792h10M1393 792h10M1226 781h10M1447 789h10M1533 680h10M1600 775h10M1576 821h10M1490 804h10M1641 725h10M1541 780h10M1329 770h10M1314 773h10M1297 816h10M1224 808h10M1523 762h10M1380 809h10M1512 645h10M1239 768h10M1389 717h10M1203 773h10M1298 780h10M1352 807h10M1241 741h10M1607 766h10M1358 763h10M1373 794h10M1641 776h10M1255 770h10M1511 793h10M1664 807h10M1652 829h10M1319 706h10M1251 696h10M1380 829h10M1350 749h10M1249 795h10M1427 816h10M1293 831h10M1635 786h10M1575 839h10M1487 690h10M1288 652h10M1321 807h10M1212 764h10M1576 742h10"/><path stroke="#888888" stroke-width="8" d="M1671 733h8M1250 671h8M1343 730h8M1443 766h8M1581 709h8M1376 661h8M1452 722h8M1406 708h8"/><path stroke="#928ec2" stroke-width="10" d="M1397 842h10M1625 790h10M1453 854h10M1418 826h10M1344 815h10M1419 811h10M1270 800h10M1399 864h10M1569 794h10M1276 834h10M1488 874h10M1573 881h10M1506 853h10M1450 863h10M1663 796h10M1414 836h10M1346 840h10M1306 838h10M1221 868h10M1308 863h10M1430 796h10M1303 814h10"/><path stroke="#3ba558" stroke-width="10" d="M1321 803h10M1228 788h10M1394 742h10M1416 760h10M1646 813h10M1323 749h10M1554 788h10M1414 722h10M1265 768h10M1439 753h10M1588 784h10M1321 728h10M1543 756h10M1347 825h10M1350 811h10M1486 778h10M1492 788h10M1367 782h10M1513 762h10M1481 802h10M1345 803h10M1415 821h10M1556 788h10M1396 723h10M1510 755h10M1277 787h10M1339 806h10M1521 780h10M1437 698h10M1590 809h10M1352 785h10M1660 784h10M1275 766h10M1470 749h10M1453 758h10M1283 806h10M1287 796h10M1475 751h10"/><path stroke="#6c6c6c" stroke-width="8" d="M1381 691h8M1513 699h8M1674 751h8M1320 808h8M1223 722h8M1590 744h8"/><path stroke="#7c74b5" stroke-width="10" d="M1495 820h10M1631 885h10M1510 836h10M1510 840h10M1429 800h10M1325 770h10M1616 803h10M1379 833h10M1525 830h10M1373 839h10M1357 846h10M1256 870h10"/><path stroke="#238b45" stroke-width="10" d="M1615 800h10M1628 761h10M1430 799h10M1517 816h10M1533 779h10M1495 820h10M1504 772h10M1495 776h10M1411 761h10M1331 825h10M1440 743h10M1444 764h10M1417 772h10M1367 746h10M1378 756h10M1450 718h10M1613 791h10M1476 803h10M1370 791h10M1532 759h10M1369 782h10M1529 780h10M1536 765h10M1592 774h10M1545 800h10M1394 813h10M1280 763h10M1442 759h10M1336 778h10M1295 790h10M1602 748h10M1426 779h10M1252 772h10M1286 821h10M1577 767h10M1402 754h10M1602 791h10M1481 778h10"/><path stroke="#525252" stroke-width="8" d="M1307 722h8M1316 688h8M1470 746h8M1546 745h8"/><path stroke="#6a51a3" stroke-width="10" d="M1489 859h10M1404 835h10M1532 852h10M1342 816h10M1390 848h10"/><path stroke="#077331" stroke-width="10" d="M1509 787h10M1421 798h10M1473 804h10M1450 814h10M1445 769h10M1490 803h10M1666 761h10M1386 782h10M1472 772h10M1442 792h10M1497 787h10M1371 769h10M1417 759h10M1507 791h10M1531 774h10M1487 780h10M1371 779h10M1419 787h10M1518 749h10M1364 801h10M1508 789h10M1448 785h10M1509 771h10M1473 779h10M1468 791h10M1461 783h10"/><path stroke="#2e2e2e" stroke-width="8" d="M1226 738h8M1405 818h8"/><path stroke="#582f93" stroke-width="10" d="M1521 845h10"/><path stroke="#005422" stroke-width="10" d="M1573 781h10M1273 775h10M1318 744h10M1545 810h10M1488 794h10M1357 793h10M1383 784h10M1363 791h10M1433 776h10M1352 808h10M1504 805h10M1351 793h10M1446 797h10M1399 758h10M1514 783h10M1433 776h10M1432 799h10M1387 789h10M1556 772h10M1510 783h10M1429 790h10M1494 752h10"/><path stroke="#0f0f0f" stroke-width="8" d="M1411 715h8M1526 740h8"/><path stroke="#dff3da" stroke-width="10" d="M1347 652h10M1220 689h10M1207 812h10M1405 672h10M1647 788h10M1609 751h10M1428 688h10M1686 789h10M1602 793h10M1253 774h10M1508 767h10M1566 798h10M1313 756h10M1488 818h10M1310 772h10M1518 775h10M1533 842h10M1662 814h10M1596 722h10M1430 666h10M1216 677h10M1614 833h10M1665 790h10M1654 725h10M1318 717h10M1493 639h10M1246 745h10M1353 701h10M1612 701h10M1685 761h10M1634 676h10M1275 664h10M1697 710h10M1648 805h10M1299 670h10M1472 845h10M1665 717h10M1382 846h10M1427 818h10M1696 719h10M1216 688h10M1213 704h10M1278 787h10M1186 795h10M1238 760h10M1608 664h10M1192 772h10M1318 672h10M1365 817h10M1358 683h10M1599 823h10M1297 769h10M1291 692h10M1537 820h10M1614 708h10M1559 808h10M1574 825h10M1436 694h10M1328 660h10M1625 752h10M1685 683h10M1276 757h10M1214 755h10M1329 716h10M1476 809h10M1656 704h10M1312 838h10M1656 680h10M1339 819h10M1486 692h10M1220 792h10M1205 750h10M1690 764h10M1287 666h10M1543 713h10M1677 743h10M1550 731h10M1224 750h10M1261 754h10M1636 823h10"/><path stroke="#ebebeb" stroke-width="8" d="M1626 770h8M1672 765h8M1200 698h8M1557 704h8M1612 665h8M1195 753h8M1380 675h8M1455 651h8M1205 774h8M1352 645h8M1496 672h8M1619 768h8M1668 725h8M1207 714h8M1239 770h8M1260 662h8M1191 705h8M1572 648h8"/><path stroke="#ebe9f3" stroke-width="10" d="M1261 843h10M1523 891h10M1637 853h10M1351 805h10M1655 814h10M1599 864h10M1233 865h10M1652 858h10M1538 831h10M1487 873h10M1616 861h10M1621 850h10M1276 813h10M1658 821h10M1605 796h10M1691 836h10M1502 882h10M1248 800h10M1289 784h10M1335 876h10M1659 875h10M1701 856h10M1543 784h10M1380 869h10M1251 851h10M1552 815h10M1567 799h10M1300 878h10M1591 848h10M1470 813h10M1218 848h10M1446 876h10M1191 838h10M1427 769h10M1622 794h10M1350 851h10M1415 770h10M1536 834h10M1556 787h10M1643 835h10M1500 769h10M1700 836h10M1563 841h10M1202 856h10M1271 817h10M1559 818h10M1686 855h10M1266 852h10M1271 829h10M1601 775h10M1260 817h10M1358 878h10M1559 875h10M1679 839h10M1448 811h10M1687 853h10M1380 807h10M1320 783h10M1252 852h10M1290 889h10M1230 793h10M1264 792h10M1315 874h10M1601 816h10M1270 820h10M1339 877h10M1196 849h10M1666 863h10M1256 884h10M1253 804h10M1454 798h10M1530 830h10M1479 814h10M1210 840h10M1690 824h10"/><path stroke="#c7e9c0" stroke-width="10" d="M1559 680h10M1298 772h10M1400 784h10M1683 795h10M1262 812h10M1554 747h10M1532 778h10M1295 675h10M1652 700h10M1686 769h10M1436 721h10M1250 743h10M1561 733h10M1294 776h10M1369 695h10M1516 762h10M1529 760h10M1673 799h10M1580 681h10M1237 743h10M1254 742h10M1561 807h10M1231 769h10M1292 756h10M1211 763h10M1606 712h10M1553 794h10M1461 777h10M1324 716h10M1669 794h10M1491 790h10M1424 839h10M1530 785h10M1597 693h10M1388 749h10M1570 788h10M1252 756h10M1419 704h10M1418 669h10M1396 692h10M1424 691h10M1373 817h10M1642 678h10M1582 679h10M1318 738h10M1339 789h10M1705 703h10M1465 724h10M1615 751h10M1336 788h10M1421 718h10M1323 788h10M1678 722h10M1427 761h10M1661 690h10M1472 800h10M1529 679h10M1474 779h10M1424 714h10M1329 808h10M1325 707h10M1513 784h10M1231 695h10M1553 719h10M1624 764h10M1272 723h10M1450 661h10M1341 683h10M1558 799h10M1548 794h10M1242 719h10M1342 698h10M1637 717h10M1230 723h10M1230 794h10M1405 787h10M1680 701h10M1218 689h10M1640 784h10M1439 803h10M1352 696h10M1662 722h10M1417 778h10M1443 757h10M1408 709h10M1664 715h10M1650 674h10M1576 726h10M1628 808h10M1551 716h10M1586 822h10M1518 725h10M1554 707h10"/><path stroke="#d9d9d9" stroke-width="8" d="M1623 740h8M1384 687h8M1351 754h8M1533 687h8M1262 753h8M1428 738h8M1575 751h8M1452 633h8M1245 714h8M1562 655h8M1518 764h8M1591 760h8M1307 720h8M1370 726h8M1578 708h8M1555 721h8M1490 647h8M1256 771h8"/><path stroke="#dadaeb" stroke-width="10" d="M1633 808h10M1504 824h10M1623 807h10M1332 779h10M1489 812h10M1552 836h10M1433 831h10M1568 858h10M1348 789h10M1308 873h10M1623 846h10M1651 851h10M1331 842h10M1395 850h10M1304 865h10M1196 829h10M1371 840h10M1538 852h10M1432 864h10M1465 807h10M1501 780h10M1415 859h10M1347 857h10M1452 854h10M1224 849h10M1536 851h10M1328 823h10M1276 871h10M1472 869h10M1430 803h10M1581 840h10M1611 866h10M1347 861h10M1566 854h10M1336 820h10M1460 796h10M1660 799h10M1318 816h10M1512 803h10M1354 811h10M1560 819h10M1496 784h10M1570 785h10M1236 868h10M1487 821h10M1504 867h10M1693 815h10M1251 791h10M1460 818h10M1443 890h10M1653 838h10M1224 814h10M1374 868h10M1212 845h10M1297 800h10M1488 833h10M1201 841h10M1686 823h10M1330 845h10M1196 818h10M1602 801h10M1274 825h10M1558 805h10"/><path stroke="#a9dca2" stroke-width="10" d="M1621 753h10M1227 791h10M1336 745h10M1490 785h10M1298 789h10M1361 781h10M1364 721h10M1327 782h10M1261 777h10M1457 645h10M1218 750h10M1394 852h10M1591 735h10M1334 731h10M1468 739h10M1381 801h10M1407 780h10M1464 790h10M1503 731h10M1538 715h10M1376 735h10M1443 776h10M1350 802h10M1339 750h10M1384 777h10M1418 779h10M1466 777h10M1398 818h10M1484 694h10M1455 805h10M1358 776h10M1288 649h10M1280 702h10M1690 689h10M1345 816h10M1270 762h10M1423 639h10M1307 714h10M1425 732h10M1353 749h10M1664 752h10M1551 746h10M1441 797h10M1461 825h10M1220 807h10M1625 753h10M1406 808h10M1316 773h10M1487 679h10M1511 729h10M1209 708h10M1279 780h10M1655 722h10M1430 708h10M1229 807h10M1438 687h10M1350 687h10M1487 791h10M1503 796h10M1388 717h10M1507 754h10M1467 675h10M1282 798h10M1542 741h10M1615 677h10M1644 714h10M1403 803h10M1233 771h10M1346 794h10M1564 744h10M1464 815h10M1674 750h10M1635 712h10M1479 691h10M1421 712h10M1458 719h10"/><path stroke="#c3c3c3" stroke-width="8" d="M1401 735h8M1350 666h8M1310 780h8M1389 731h8M1231 733h8M1479 789h8M1385 696h8M1249 757h8M1528 740h8M1252 762h8M1490 720h8M1388 710h8M1229 720h8M1478 746h8M1286 725h8"/><path stroke="#c2c3df" stroke-width="10" d="M1313 841h10M1583 878h10M1675 851h10M1340 858h10M1456 853h10M1394 894h10M1308 839h10M1351 833h10M1563 819h10M1507 833h10M1266 785h10M1302 806h10M1210 861h10M1391 847h10M1426 846h10M1376 798h10M1297 823h10M1319 868h10M1404 862h10M1642 807h10M1379 847h10M1465 838h10M1295 847h10M1447 810h10M1461 850h10M1414 832h10M1517 798h10M1318 820h10M1203 853h10M1458 872h10M1439 865h10M1665 846h10M1293 871h10M1424 815h10M1566 842h10M1435 872h10M1423 812h10M1223 847h10M1356 834h10M1637 835h10M1317 855h10M1367 807h10M1450 829h10M1638 885h10M1401 847h10M1506 813h10"/><path stroke="#86cc85" stroke-width="10" d="M1659 773h10M1196 787h10M1588 763h10M1231 676h10M1688 778h10M1443 742h10M1379 766h10M1690 763h10M1378 698h10M1409 768h10M1516 701h10M1531 827h10M1476 788h10M1558 754h10M1495 743h10M1556 753h10M1607 803h10M1638 778h10M1380 755h10M1603 734h10M1292 731h10M1403 744h10M1685 781h10M1539 818h10M1469 759h10M1355 783h10M1611 712h10M1435 757h10M1658 779h10M1532 725h10M1636 672h10M1527 763h10M1490 753h10M1245 756h10M1306 824h10M1329 798h10M1460 777h10M1243 712h10M1326 786h10M1680 804h10M1699 806h10M1630 681h10M1554 766h10M1522 693h10M1496 761h10M1278 795h10M1512 764h10M1409 664h10M1670 815h10M1213 745h10M1325 824h10"/><path stroke="#a6a6a6" stroke-width="8" d="M1395 759h8M1453 672h8M1522 738h8M1414 732h8M1417 746h8M1342 735h8M1601 714h8M1498 741h8"/><path stroke="#aaa8d0" stroke-width="10" d="M1405 867h10M1596 821h10M1497 791h10M1591 848h10M1618 845h10M1206 857h10M1633 847h10M1569 795h10M1470 837h10M1266 859h10M1404 835h10M1470 858h10M1446 855h10M1413 822h10M1320 856h10M1216 824h10M1489 848h10M1206 856h10M1308 773h10M1377 828h10M1509 855h10M1384 816h10M1574 855h10M1479 847h10M1348 837h10"/><path stroke="#60ba6c" stroke-width="10" d="M1558 808h10M1238 783h10M1580 739h10M1665 781h10M1647 794h10M1381 742h10M1259 782h10M1379 779h10M1666 771h10M1244 805h10M1656 814h10M1489 813h10M1298 807h10M1513 752h10M1408 692h10M1564 788h10M1383 807h10M1690 773h10M1667 796h10M1297 759h10M1261 769h10M1202 755h10M1666 805h10M1290 755h10M1416 835h10M1511 768h10M1410 782h10M1286 766h10M1547 742h10M1245 788h10M1573 807h10M1542 783h10M1626 762h10M1690 719h10M1614 749h10M1572 739h10M1308 796h10M1678 768h10M1273 805h10M1374 659h10M1406 808h10M1583 696h10M1619 765h10M1231 754h10M1284 770h10M1510 751h10M1257 788h10M1570 819h10M1457 762h10M1324 794h10M1608 764h10M1672 779h10M1286 735h10M1297 779h10M1202 781h10M1309 812h10M1334 740h10"/><path stroke="#888888" stroke-width="8" d="M1344 722h8M1335 720h8M1241 725h8M1223 698h8M1543 750h8M1264 749h8M1180 714h8M1278 680h8"/><path stroke="#928ec2" stroke-width="10" d="M1329 831h10M1223 806h10M1410 795h10M1656 798h10M1487 866h10M1333 804h10M1342 800h10M1416 832h10M1599 813h10M1278 818h10M1203 801h10M1222 844h10M1646 854h10M1377 856h10M1548 832h10M1457 805h10M1187 853h10M1491 844h10M1341 876h10M1423 849h10M1369 861h10"/><path stroke="#3ba558" stroke-width="10" d="M1581 768h10M1377 764h10M1601 767h10M1524 789h10M1457 723h10M1356 810h10M1545 775h10M1595 756h10M1413 816h10M1573 797h10M1261 660h10M1355 786h10M1400 764h10M1500 722h10M1439 740h10M1312 807h10M1342 766h10M1246 766h10M1314 784h10M1636 687h10M1303 747h10M1654 781h10M1544 756h10M1286 760h10M1398 811h10M1383 806h10M1373 741h10M1296 786h10M1631 760h10M1527 795h10M1347 796h10M1623 785h10M1224 805h10M1621 690h10M1267 771h10M1620 778h10M1412 767h10M1515 770h10"/><path stroke="#6c6c6c" stroke-width="8" d="M1574 736h8M1580 795h8M1326 785h8M1398 763h8M1350 738h8M1475 716h8"/><path stroke="#7c74b5" stroke-width="10" d="M1504 856h10M1474 883h10M1334 827h10M1266 826h10M1269 837h10M1558 848h10M1439 839h10M1594 861h10M1273 802h10M1320 829h10M1473 845h10"/><path stroke="#238b45" stroke-width="10" d="M1514 750h10M1634 768h10M1376 806h10M1220 794h10M1573 754h10M1585 808h10M1453 776h10M1240 777h10M1461 770h10M1449 816h10M1261 789h10M1448 815h10M1413 741h10M1482 814h10M1582 790h10M1412 738h10M1528 804h10M1417 774h10M1572 793h10M1417 799h10M1518 795h10M1590 735h10M1527 797h10M1407 784h10M1396 762h10M1550 768h10M1242 806h10M1633 787h10M1459 769h10M1540 796h10M1353 753h10M1673 801h10M1407 775h10M1528 796h10M1403 754h10M1360 772h10M1571 758h10"/><path stroke="#525252" stroke-width="8" d="M1590 693h8M1498 742h8M1450 687h8M1365 699h8"/><path stroke="#6a51a3" stroke-width="10" d="M1306 853h10M1501 881h10M1485 851h10M1441 810h10"/><path stroke="#077331" stroke-width="10" d="M1557 777h10M1564 772h10M1375 790h10M1432 779h10M1381 765h10M1543 767h10M1549 802h10M1511 791h10M1294 789h10M1400 787h10M1416 792h10M1418 802h10M1559 796h10M1379 768h10M1322 761h10M1440 798h10M1513 766h10M1339 778h10M1444 786h10M1362 779h10M1419 784h10M1473 784h10M1381 785h10M1571 794h10M1436 800h10M1422 809h10"/><path stroke="#2e2e2e" stroke-width="8" d="M1259 695h8M1512 744h8"/><path stroke="#582f93" stroke-width="10" d="M1400 822h10"/><path stroke="#005422" stroke-width="10" d="M1223 783h10M1426 777h10M1560 778h10M1249 789h10M1527 767h10M1357 770h10M1339 792h10M1469 782h10M1388 788h10M1560 787h10M1366 803h10M1537 787h10M1386 761h10M1463 770h10M1387 789h10M1395 782h10M1451 782h10M1433 801h10M1461 790h10M1386 805h10M1422 784h10M1428 782h10"/><path stroke="#0f0f0f" stroke-width="8" d="M1472 732h8"/></g></g>
<rect x="234.0" y="116.3" width="110.50" height="70.30" fill="none" stroke="#444" stroke-width="0.8"/>
<path d="M231.70 128.20H234.0" stroke="#444" stroke-width="0.8"/>
<text x="230.60" y="130.45" font-size="6.3" text-anchor="end" letter-spacing="0.35">1.2</text>
<path d="M231.70 144.77H234.0" stroke="#444" stroke-width="0.8"/>
<text x="230.60" y="147.02" font-size="6.3" text-anchor="end" letter-spacing="0.35">1.0</text>
<path d="M231.70 161.33H234.0" stroke="#444" stroke-width="0.8"/>
<text x="230.60" y="163.58" font-size="6.3" text-anchor="end" letter-spacing="0.35">0.8</text>
<path d="M231.70 177.90H234.0" stroke="#444" stroke-width="0.8"/>
<text x="230.60" y="180.15" font-size="6.3" text-anchor="end" letter-spacing="0.35">0.6</text>
<path d="M243.00 186.6V188.90" stroke="#444" stroke-width="0.8"/>
<text x="243.17" y="195.60" font-size="6.3" text-anchor="middle" letter-spacing="0.35">−40</text>
<path d="M278.65 186.6V188.90" stroke="#444" stroke-width="0.8"/>
<text x="278.82" y="195.60" font-size="6.3" text-anchor="middle" letter-spacing="0.35">−30</text>
<path d="M314.30 186.6V188.90" stroke="#444" stroke-width="0.8"/>
<text x="314.47" y="195.60" font-size="6.3" text-anchor="middle" letter-spacing="0.35">−20</text>
<text x="289.25" y="203.10" font-size="6.3" text-anchor="middle">Dec. (deg)</text>
<text x="0" y="0" font-size="6.5" text-anchor="middle" transform="translate(217.60,151.45) rotate(-90)">Predicted-to-Measured</text>
<clipPath id="cB1"><rect x="75.5" y="248.8" width="110.19999999999999" height="70.0"/></clipPath>
<g clip-path="url(#cB1)"><g filter="url(#bl)" transform="scale(0.2)"><path stroke="#dff3da" stroke-width="10" d="M492 1321h10M406 1343h10M532 1329h10M472 1334h10M476 1402h10M436 1251h10M407 1351h10M502 1407h10M411 1456h10M401 1443h10M487 1338h10M454 1280h10M443 1329h10M548 1286h10M553 1487h10M557 1469h10M521 1484h10M565 1446h10M575 1419h10M454 1335h10M561 1446h10M400 1405h10M455 1408h10M561 1481h10M412 1258h10M416 1396h10M500 1406h10M529 1300h10M511 1330h10M411 1343h10M477 1337h10M473 1310h10M475 1405h10M496 1393h10M485 1468h10M412 1311h10M552 1404h10M576 1267h10M554 1292h10M408 1364h10M476 1455h10M509 1306h10M506 1428h10M456 1330h10M536 1453h10M556 1402h10M494 1513h10M427 1453h10M518 1442h10M526 1295h10M474 1465h10"/><path stroke="#ebebeb" stroke-width="8" d="M574 1325h8M586 1320h8M673 1411h8M622 1283h8M686 1336h8M543 1406h8M653 1362h8M673 1320h8M547 1454h8M654 1434h8M770 1420h8M734 1395h8M582 1407h8M719 1325h8M721 1283h8M701 1296h8M552 1294h8M649 1469h8M534 1360h8M631 1410h8M620 1313h8M563 1299h8M726 1303h8M533 1361h8M653 1407h8M754 1395h8M555 1414h8M611 1423h8M573 1461h8M663 1289h8M788 1347h8M526 1444h8M566 1431h8M760 1362h8M723 1331h8M762 1311h8M643 1291h8M764 1257h8M595 1305h8M705 1326h8M555 1401h8M689 1424h8M614 1316h8M656 1319h8M562 1277h8M686 1291h8M548 1349h8M781 1378h8M551 1382h8M569 1298h8M760 1437h8M699 1433h8M714 1317h8M631 1348h8M742 1456h8M770 1311h8M547 1362h8M672 1318h8M538 1382h8M783 1246h8M538 1335h8M612 1327h8M635 1352h8M759 1316h8M743 1366h8M702 1325h8M793 1305h8M613 1434h8M581 1270h8M699 1383h8M714 1425h8M648 1284h8M569 1332h8M684 1396h8M747 1407h8M660 1299h8M765 1252h8M751 1437h8M727 1350h8M778 1354h8M561 1435h8M561 1320h8M557 1275h8M612 1330h8M658 1467h8M669 1292h8M584 1316h8M679 1447h8M772 1446h8M771 1395h8M721 1422h8M707 1294h8M597 1432h8M748 1320h8"/><path stroke="#ebe9f3" stroke-width="10" d="M776 1253h10M821 1351h10M913 1409h10M886 1326h10M883 1376h10M861 1413h10M754 1311h10M707 1357h10M870 1421h10M851 1282h10M906 1346h10M745 1303h10M734 1364h10M894 1389h10M822 1340h10M872 1329h10M697 1249h10M812 1303h10M750 1407h10M829 1387h10M717 1386h10M706 1330h10M740 1246h10M817 1455h10M905 1331h10M901 1392h10M804 1380h10M787 1400h10M876 1437h10M886 1426h10M789 1317h10M868 1298h10M788 1386h10M805 1389h10M798 1397h10M712 1273h10M790 1322h10M830 1417h10M890 1256h10M876 1313h10M696 1387h10M896 1318h10M845 1329h10M708 1374h10M701 1394h10M771 1304h10M713 1425h10M809 1345h10M783 1458h10M897 1433h10M810 1422h10M824 1306h10M746 1347h10M690 1397h10M813 1479h10M729 1254h10M740 1389h10M920 1411h10M746 1397h10M848 1429h10M738 1393h10M728 1389h10M879 1298h10M860 1438h10M809 1395h10M731 1301h10M752 1394h10M896 1414h10M716 1345h10M848 1475h10M819 1267h10M800 1364h10M744 1410h10M904 1347h10M877 1337h10M864 1400h10M856 1269h10M748 1410h10M722 1377h10M782 1338h10M842 1297h10M881 1433h10M794 1451h10M778 1474h10M749 1457h10M772 1338h10M888 1458h10M902 1459h10M710 1325h10M725 1403h10"/><path stroke="#c7e9c0" stroke-width="10" d="M540 1410h10M513 1411h10M437 1437h10M467 1400h10M483 1332h10M449 1417h10M415 1367h10M424 1408h10M514 1315h10M457 1478h10M522 1437h10M423 1430h10M567 1384h10M459 1369h10M471 1361h10M563 1426h10M546 1426h10M421 1444h10M515 1312h10M435 1372h10M412 1302h10M465 1376h10M500 1379h10M545 1409h10M575 1370h10M550 1320h10M501 1383h10M457 1441h10M404 1401h10M445 1415h10M539 1354h10M443 1383h10M403 1308h10M541 1430h10M460 1352h10M398 1428h10M438 1408h10M520 1351h10M502 1347h10M480 1470h10M506 1440h10M435 1392h10M437 1452h10M536 1409h10M471 1423h10M436 1456h10M488 1360h10M568 1360h10M408 1366h10M455 1387h10M476 1405h10M432 1353h10M444 1382h10M471 1339h10M554 1328h10M499 1459h10M538 1331h10"/><path stroke="#d9d9d9" stroke-width="8" d="M751 1378h8M700 1327h8M593 1372h8M636 1357h8M630 1342h8M746 1399h8M685 1407h8M675 1399h8M546 1254h8M586 1418h8M609 1416h8M697 1330h8M670 1400h8M731 1358h8M747 1339h8M641 1336h8M589 1385h8M571 1477h8M765 1371h8M604 1386h8M766 1384h8M563 1419h8M678 1330h8M559 1415h8M697 1388h8M732 1277h8M571 1392h8M674 1364h8M568 1403h8M772 1346h8M700 1379h8M625 1454h8M615 1331h8M657 1335h8M583 1328h8M559 1390h8M571 1357h8M795 1401h8M599 1437h8M743 1321h8M650 1414h8M704 1337h8M747 1397h8M660 1410h8M751 1390h8M608 1262h8M550 1393h8M603 1326h8M545 1422h8M670 1406h8M771 1339h8M803 1396h8M541 1401h8M546 1383h8M699 1388h8M676 1392h8M561 1412h8M766 1408h8M598 1391h8M649 1406h8M586 1343h8M661 1349h8M676 1405h8M565 1399h8M673 1260h8M671 1343h8M717 1329h8"/><path stroke="#dadaeb" stroke-width="10" d="M865 1400h10M836 1345h10M888 1374h10M834 1403h10M774 1402h10M826 1438h10M742 1393h10M878 1381h10M753 1351h10M896 1398h10M743 1420h10M911 1333h10M725 1410h10M864 1413h10M718 1371h10M752 1403h10M782 1394h10M760 1411h10M829 1324h10M760 1400h10M863 1344h10M779 1450h10M895 1287h10M742 1397h10M823 1347h10M884 1398h10M923 1372h10M830 1435h10M758 1404h10M734 1409h10M888 1369h10M806 1382h10M885 1288h10M768 1408h10M772 1363h10M911 1379h10M700 1316h10M836 1354h10M820 1308h10M803 1402h10M751 1396h10M879 1414h10M804 1374h10M763 1377h10M802 1413h10M836 1414h10M747 1454h10M756 1372h10M891 1353h10M910 1439h10M824 1323h10M882 1388h10M844 1372h10M790 1316h10M856 1362h10M904 1388h10M899 1320h10M897 1304h10M772 1438h10"/><path stroke="#a9dca2" stroke-width="10" d="M513 1281h10M491 1351h10M551 1463h10M440 1362h10M486 1357h10M458 1420h10M433 1352h10M490 1378h10M562 1336h10M535 1464h10M415 1408h10M523 1403h10M499 1426h10M433 1367h10M396 1442h10M472 1388h10M430 1340h10M537 1416h10M501 1384h10M468 1351h10M410 1390h10M498 1496h10M421 1418h10M558 1343h10M558 1375h10M432 1329h10M421 1337h10M457 1404h10M468 1273h10M530 1383h10M486 1375h10M479 1402h10M536 1449h10M485 1436h10M509 1360h10M505 1404h10M479 1315h10M535 1390h10M554 1417h10M557 1414h10M439 1425h10M396 1424h10M523 1416h10M511 1395h10M527 1419h10M465 1391h10M488 1404h10M502 1404h10M453 1412h10M557 1418h10M452 1374h10M447 1382h10M461 1437h10M394 1352h10M379 1415h10M440 1382h10M565 1347h10M420 1361h10M525 1388h10M556 1456h10M501 1298h10"/><path stroke="#c3c3c3" stroke-width="8" d="M679 1380h8M665 1395h8M674 1363h8M734 1375h8M665 1398h8M647 1388h8M725 1400h8M713 1319h8M692 1367h8M684 1390h8M693 1341h8M684 1381h8M695 1395h8M712 1364h8M704 1355h8M576 1365h8M713 1348h8M547 1326h8M709 1396h8M667 1404h8M563 1368h8M755 1356h8M565 1396h8M619 1400h8M675 1398h8M564 1377h8M636 1362h8M718 1275h8M741 1284h8M779 1369h8M698 1390h8M680 1359h8M664 1421h8M622 1373h8M782 1338h8M669 1298h8M730 1394h8M586 1385h8M610 1366h8M639 1319h8M763 1384h8M633 1411h8M734 1361h8M742 1435h8M670 1400h8M730 1303h8M670 1389h8M601 1409h8M762 1362h8M672 1370h8M691 1405h8M683 1359h8M743 1399h8M645 1307h8M548 1269h8M753 1389h8M678 1417h8M688 1386h8M723 1384h8M670 1382h8M651 1391h8M756 1403h8M657 1394h8M764 1384h8"/><path stroke="#c2c3df" stroke-width="10" d="M840 1406h10M763 1367h10M873 1448h10M871 1403h10M896 1515h10M741 1321h10M902 1351h10M906 1365h10M862 1444h10M762 1394h10M754 1337h10M790 1382h10M786 1432h10M713 1396h10M775 1425h10M905 1343h10M917 1366h10M729 1339h10M823 1359h10M856 1402h10M821 1474h10M914 1399h10M768 1392h10M738 1429h10M892 1381h10M867 1384h10M807 1384h10M832 1370h10M727 1453h10M812 1376h10M796 1417h10M864 1382h10M743 1402h10M918 1437h10M855 1388h10M822 1378h10M799 1413h10M907 1414h10M877 1363h10M861 1348h10"/><path stroke="#86cc85" stroke-width="10" d="M571 1398h10M423 1393h10M413 1400h10M417 1353h10M574 1397h10M553 1406h10M530 1354h10M406 1397h10M506 1314h10M526 1344h10M420 1382h10M510 1351h10M447 1407h10M544 1404h10M472 1425h10M454 1388h10M396 1375h10M477 1426h10M445 1379h10M427 1405h10M524 1355h10M550 1273h10M526 1347h10M559 1356h10M563 1428h10M458 1418h10M503 1413h10M456 1423h10M423 1366h10M500 1357h10M493 1414h10M546 1292h10M520 1363h10M513 1408h10M466 1362h10M390 1422h10M439 1394h10M494 1326h10"/><path stroke="#a6a6a6" stroke-width="8" d="M638 1361h8M551 1354h8M618 1325h8M585 1374h8M691 1368h8M774 1394h8M661 1390h8M665 1372h8M537 1355h8M664 1368h8M586 1397h8M757 1369h8M772 1318h8M691 1410h8M644 1382h8M680 1387h8M601 1404h8M719 1401h8M753 1384h8M543 1383h8M534 1391h8M744 1355h8M804 1359h8M757 1387h8M645 1360h8M611 1358h8M672 1396h8M662 1417h8M583 1370h8M780 1385h8M634 1344h8M708 1411h8M614 1323h8M720 1387h8M725 1387h8M566 1382h8M673 1387h8M592 1426h8M544 1403h8M641 1371h8M652 1355h8M639 1327h8M688 1416h8M744 1399h8M743 1410h8M698 1386h8M630 1363h8M719 1388h8M719 1298h8M731 1396h8M701 1479h8M655 1412h8M668 1390h8M625 1376h8M707 1366h8"/><path stroke="#aaa8d0" stroke-width="10" d="M742 1372h10M818 1370h10M776 1298h10M873 1454h10M869 1377h10M871 1375h10M844 1379h10M732 1364h10M861 1416h10M871 1391h10M820 1398h10M799 1350h10M734 1386h10M908 1334h10M714 1380h10M880 1383h10M757 1430h10M786 1389h10M740 1383h10M709 1415h10M714 1366h10M788 1393h10M755 1415h10M851 1330h10M775 1463h10M886 1344h10M823 1406h10M822 1351h10M853 1399h10M722 1339h10M815 1436h10M838 1393h10M773 1365h10M800 1388h10M890 1384h10M754 1361h10M768 1419h10M743 1404h10"/><path stroke="#60ba6c" stroke-width="10" d="M435 1410h10M377 1400h10M515 1375h10M415 1401h10M554 1352h10M493 1361h10M436 1369h10M555 1383h10M488 1351h10M510 1390h10M438 1364h10M378 1402h10M425 1374h10M529 1379h10M398 1399h10M435 1358h10M483 1331h10M462 1412h10M466 1429h10M531 1390h10M457 1417h10M548 1374h10M436 1363h10M431 1371h10M439 1432h10M432 1368h10M537 1406h10M488 1321h10M548 1321h10M452 1422h10M510 1416h10M481 1355h10M520 1386h10M407 1357h10M418 1381h10M518 1412h10M536 1369h10M446 1362h10"/><path stroke="#888888" stroke-width="8" d="M691 1433h8M786 1371h8M688 1382h8M709 1411h8M682 1417h8M600 1413h8M541 1383h8M752 1364h8M668 1383h8M673 1413h8M685 1370h8M598 1403h8M732 1378h8M593 1361h8M604 1366h8M754 1392h8M684 1382h8M708 1406h8M731 1416h8M676 1406h8M735 1372h8M692 1397h8M658 1360h8M675 1388h8M750 1400h8M727 1396h8M638 1404h8M746 1404h8M748 1376h8M642 1374h8M677 1414h8M614 1374h8"/><path stroke="#928ec2" stroke-width="10" d="M812 1377h10M747 1380h10M842 1424h10M908 1366h10M770 1393h10M832 1406h10M883 1410h10M840 1390h10M909 1413h10M863 1368h10M727 1396h10M816 1424h10M712 1333h10M772 1340h10M891 1377h10M812 1387h10M810 1409h10M797 1371h10M857 1404h10M736 1377h10M746 1379h10M846 1365h10M816 1351h10M828 1415h10M886 1383h10M880 1365h10M802 1451h10M871 1382h10"/><path stroke="#3ba558" stroke-width="10" d="M468 1391h10M497 1358h10M403 1315h10M479 1439h10M472 1382h10M501 1401h10M420 1386h10M413 1418h10M529 1394h10M438 1394h10M531 1390h10M510 1372h10M496 1375h10M509 1398h10M566 1391h10M528 1388h10M420 1362h10M547 1389h10M423 1379h10M521 1384h10M528 1431h10M539 1378h10M399 1409h10M470 1373h10M484 1372h10M453 1377h10"/><path stroke="#6c6c6c" stroke-width="8" d="M580 1378h8M654 1399h8M734 1364h8M685 1365h8M695 1387h8M681 1401h8M748 1395h8M710 1403h8M678 1372h8M737 1374h8M584 1389h8M669 1346h8M702 1397h8M640 1370h8M644 1384h8M745 1409h8M605 1394h8M739 1380h8M691 1411h8M746 1424h8M621 1378h8M639 1384h8M699 1360h8"/><path stroke="#7c74b5" stroke-width="10" d="M837 1387h10M788 1422h10M856 1367h10M795 1365h10M843 1382h10M753 1367h10M774 1392h10M812 1429h10M905 1360h10M880 1390h10M826 1374h10M851 1407h10M816 1381h10M760 1394h10M856 1406h10M901 1403h10M772 1387h10M848 1363h10"/><path stroke="#238b45" stroke-width="10" d="M550 1383h10M421 1418h10M472 1381h10M430 1411h10M462 1411h10M533 1413h10M549 1388h10M438 1393h10M554 1378h10M460 1380h10M477 1392h10M457 1388h10M519 1354h10M407 1389h10M469 1404h10M530 1364h10M451 1397h10"/><path stroke="#525252" stroke-width="8" d="M606 1386h8M671 1387h8M638 1398h8M622 1387h8M599 1389h8M650 1400h8M549 1402h8M561 1416h8M682 1393h8M682 1386h8M649 1394h8M637 1395h8M628 1394h8M655 1396h8M690 1398h8M625 1385h8M709 1405h8M623 1373h8M658 1397h8M685 1406h8"/><path stroke="#6a51a3" stroke-width="10" d="M795 1379h10M887 1391h10M802 1398h10M781 1378h10M817 1374h10"/><path stroke="#077331" stroke-width="10" d="M440 1385h10M507 1387h10M443 1372h10M508 1396h10M511 1419h10M531 1397h10M482 1392h10M484 1384h10"/><path stroke="#2e2e2e" stroke-width="8" d="M647 1387h8M667 1385h8M698 1380h8M678 1405h8M564 1368h8M684 1377h8M581 1405h8M715 1386h8"/><path stroke="#582f93" stroke-width="10" d="M825 1376h10M760 1394h10M782 1424h10M859 1379h10"/><path stroke="#005422" stroke-width="10" d="M523 1376h10M470 1399h10M443 1388h10M426 1395h10M510 1375h10M469 1381h10"/><path stroke="#0f0f0f" stroke-width="8" d="M644 1382h8M646 1402h8M626 1390h8M623 1388h8M668 1391h8"/><path stroke="#471084" stroke-width="10" d="M858 1364h10M822 1416h10"/><path stroke="#dff3da" stroke-width="10" d="M392 1345h10M569 1375h10M405 1406h10M446 1266h10M494 1491h10M513 1323h10M515 1302h10M424 1326h10M458 1314h10M508 1329h10M512 1434h10M552 1359h10M526 1411h10M560 1437h10M457 1358h10M575 1349h10M441 1448h10M395 1425h10M416 1334h10M464 1296h10M409 1416h10M434 1376h10M580 1408h10M420 1450h10M421 1315h10M510 1465h10M548 1476h10M506 1453h10M516 1282h10M527 1319h10M569 1303h10M570 1355h10M500 1453h10M457 1318h10M435 1326h10M405 1461h10M400 1402h10M493 1329h10M519 1446h10M401 1442h10M437 1289h10M432 1468h10M456 1518h10M554 1301h10M409 1459h10M576 1400h10M415 1437h10M554 1300h10M410 1421h10M559 1408h10"/><path stroke="#ebebeb" stroke-width="8" d="M590 1335h8M699 1313h8M562 1338h8M566 1431h8M720 1444h8M657 1256h8M705 1322h8M674 1300h8M665 1341h8M752 1318h8M618 1294h8M737 1436h8M709 1429h8M639 1280h8M732 1426h8M735 1356h8M684 1332h8M737 1420h8M611 1439h8M549 1385h8M632 1257h8M611 1294h8M660 1317h8M634 1304h8M647 1311h8M614 1314h8M810 1469h8M733 1251h8M697 1325h8M743 1362h8M597 1420h8M780 1321h8M741 1339h8M573 1476h8M690 1251h8M724 1316h8M569 1378h8M767 1465h8M569 1347h8M717 1312h8M571 1273h8M654 1433h8M553 1457h8M586 1336h8M540 1299h8M596 1439h8M632 1279h8M791 1256h8M748 1420h8M634 1388h8M553 1341h8M753 1377h8M699 1285h8M737 1441h8M789 1426h8M600 1283h8M780 1326h8M768 1346h8M581 1311h8M752 1286h8M592 1336h8M767 1417h8M750 1324h8M650 1297h8M563 1442h8M757 1346h8M732 1411h8M549 1345h8M567 1427h8M616 1301h8M680 1303h8M699 1360h8M609 1420h8M550 1317h8M773 1415h8M727 1311h8M714 1327h8M683 1307h8M563 1286h8M549 1352h8M583 1403h8M563 1459h8M783 1400h8M537 1389h8M562 1405h8M692 1327h8M724 1439h8M717 1296h8M558 1304h8M775 1340h8M688 1468h8M581 1391h8M736 1335h8"/><path stroke="#ebe9f3" stroke-width="10" d="M708 1386h10M706 1301h10M816 1319h10M770 1397h10M780 1350h10M879 1411h10M739 1437h10M710 1383h10M775 1425h10M756 1305h10M705 1288h10M861 1476h10M918 1456h10M829 1329h10M804 1331h10M908 1391h10M832 1323h10M874 1386h10M914 1371h10M898 1311h10M880 1355h10M922 1342h10M897 1423h10M902 1367h10M773 1291h10M800 1294h10M801 1418h10M860 1310h10M829 1330h10M703 1419h10M750 1251h10M911 1322h10M762 1362h10M872 1415h10M739 1332h10M726 1445h10M757 1417h10M839 1354h10M771 1309h10M716 1382h10M903 1377h10M746 1427h10M833 1474h10M877 1317h10M883 1271h10M921 1414h10M751 1361h10M725 1330h10M827 1410h10M921 1411h10M727 1411h10M888 1339h10M782 1297h10M823 1440h10M868 1493h10M779 1360h10M760 1385h10M696 1342h10M885 1315h10M797 1412h10M740 1446h10M886 1326h10M730 1421h10M782 1254h10M760 1312h10M705 1430h10M708 1455h10M877 1428h10M758 1372h10M703 1300h10M845 1351h10M889 1448h10M889 1346h10M866 1316h10M835 1348h10M809 1292h10M889 1296h10M717 1411h10M754 1250h10M804 1380h10M917 1480h10M818 1339h10M816 1311h10M762 1337h10M823 1409h10M810 1403h10M855 1336h10M831 1349h10M912 1394h10M768 1348h10"/><path stroke="#c7e9c0" stroke-width="10" d="M438 1471h10M487 1454h10M527 1430h10M414 1405h10M453 1394h10M461 1403h10M520 1401h10M573 1361h10M482 1379h10M575 1357h10M417 1371h10M445 1446h10M465 1315h10M511 1436h10M510 1367h10M417 1390h10M485 1379h10M530 1354h10M389 1420h10M476 1413h10M459 1357h10M505 1353h10M550 1408h10M423 1343h10M447 1353h10M442 1350h10M497 1451h10M510 1346h10M422 1346h10M560 1314h10M504 1413h10M514 1365h10M568 1357h10M464 1352h10M425 1322h10M482 1292h10M554 1353h10M575 1423h10M416 1302h10M526 1373h10M523 1338h10M443 1304h10M568 1418h10M409 1352h10M547 1362h10M474 1340h10M482 1417h10M502 1474h10M402 1417h10M419 1481h10M489 1277h10M481 1389h10M570 1399h10M538 1402h10M413 1342h10M573 1456h10"/><path stroke="#d9d9d9" stroke-width="8" d="M655 1361h8M569 1410h8M639 1409h8M785 1409h8M690 1383h8M601 1255h8M603 1443h8M743 1363h8M757 1397h8M556 1378h8M666 1399h8M744 1406h8M675 1315h8M651 1347h8M631 1405h8M594 1413h8M592 1401h8M614 1397h8M581 1364h8M612 1395h8M744 1401h8M737 1309h8M680 1353h8M583 1367h8M621 1400h8M702 1352h8M695 1381h8M585 1349h8M791 1359h8M675 1359h8M623 1331h8M632 1321h8M664 1373h8M562 1367h8M553 1387h8M734 1336h8M655 1409h8M706 1394h8M628 1432h8M754 1392h8M754 1418h8M602 1330h8M735 1350h8M695 1394h8M689 1417h8M658 1367h8M683 1357h8M768 1322h8M732 1417h8M564 1366h8M723 1457h8M723 1345h8M547 1390h8M793 1370h8M754 1347h8M592 1436h8M610 1331h8M711 1400h8M572 1414h8M681 1375h8M798 1378h8M629 1372h8M570 1406h8M727 1408h8M726 1368h8M592 1385h8"/><path stroke="#dadaeb" stroke-width="10" d="M763 1401h10M725 1287h10M823 1446h10M696 1417h10M884 1335h10M909 1346h10M720 1459h10M817 1301h10M776 1332h10M840 1361h10M837 1354h10M884 1360h10M790 1429h10M750 1335h10M803 1363h10M720 1365h10M778 1388h10M890 1450h10M761 1416h10M807 1421h10M719 1377h10M812 1350h10M822 1298h10M717 1407h10M718 1416h10M810 1342h10M776 1328h10M801 1485h10M833 1397h10M740 1358h10M770 1309h10M894 1411h10M758 1257h10M900 1404h10M769 1418h10M791 1423h10M742 1370h10M818 1404h10M811 1427h10M864 1375h10M778 1373h10M864 1414h10M790 1331h10M761 1294h10M748 1406h10M854 1424h10M745 1292h10M837 1341h10M919 1352h10M831 1441h10M801 1352h10M910 1333h10M854 1377h10M795 1335h10M893 1410h10M885 1371h10M806 1473h10M807 1371h10M814 1413h10"/><path stroke="#a9dca2" stroke-width="10" d="M435 1416h10M414 1424h10M377 1362h10M558 1308h10M550 1394h10M518 1383h10M549 1392h10M527 1483h10M453 1408h10M514 1414h10M436 1356h10M488 1398h10M463 1395h10M420 1388h10M416 1366h10M436 1368h10M410 1396h10M490 1423h10M420 1398h10M417 1394h10M394 1411h10M546 1403h10M438 1454h10M452 1357h10M461 1327h10M544 1414h10M402 1371h10M437 1352h10M399 1404h10M479 1385h10M454 1346h10M458 1371h10M478 1395h10M473 1407h10M518 1367h10M498 1364h10M517 1422h10M552 1347h10M414 1404h10M553 1368h10M458 1344h10M480 1417h10M489 1322h10M539 1447h10M495 1307h10M499 1406h10M507 1359h10M419 1410h10M525 1379h10M533 1414h10M531 1366h10M459 1417h10M500 1357h10M522 1387h10M406 1356h10M538 1387h10M550 1308h10M555 1388h10M504 1409h10M535 1409h10M500 1438h10"/><path stroke="#c3c3c3" stroke-width="8" d="M713 1354h8M626 1349h8M554 1348h8M718 1330h8M675 1305h8M716 1326h8M582 1361h8M767 1471h8M644 1389h8M631 1417h8M640 1395h8M685 1348h8M561 1386h8M755 1339h8M532 1362h8M606 1391h8M569 1376h8M632 1438h8M669 1408h8M617 1420h8M629 1385h8M684 1412h8M644 1402h8M577 1409h8M702 1405h8M562 1409h8M532 1352h8M693 1388h8M590 1341h8M597 1362h8M648 1391h8M649 1382h8M621 1386h8M787 1404h8M621 1394h8M705 1352h8M739 1411h8M598 1366h8M605 1408h8M769 1387h8M541 1344h8M597 1398h8M697 1369h8M770 1421h8M619 1430h8M801 1376h8M548 1366h8M767 1351h8M537 1386h8M627 1381h8M637 1401h8M708 1425h8M698 1401h8M722 1364h8M764 1412h8M645 1400h8M633 1406h8M730 1314h8M691 1388h8M644 1370h8M617 1370h8M731 1377h8M622 1372h8"/><path stroke="#c2c3df" stroke-width="10" d="M754 1399h10M909 1391h10M719 1372h10M824 1389h10M785 1292h10M776 1393h10M854 1454h10M772 1390h10M755 1412h10M791 1421h10M850 1300h10M822 1410h10M886 1355h10M742 1419h10M877 1364h10M807 1376h10M882 1398h10M741 1420h10M801 1390h10M903 1372h10M796 1419h10M802 1289h10M763 1321h10M699 1404h10M737 1420h10M749 1341h10M842 1352h10M824 1294h10M844 1430h10M852 1387h10M823 1432h10M782 1368h10M801 1375h10M870 1382h10M862 1396h10M765 1361h10M864 1385h10M793 1387h10M774 1363h10"/><path stroke="#86cc85" stroke-width="10" d="M553 1393h10M509 1442h10M442 1342h10M509 1396h10M450 1308h10M449 1334h10M507 1323h10M504 1366h10M553 1390h10M508 1447h10M435 1392h10M459 1337h10M414 1416h10M537 1359h10M531 1375h10M526 1359h10M537 1365h10M464 1377h10M545 1450h10M551 1394h10M539 1352h10M543 1417h10M500 1409h10M500 1357h10M547 1383h10M478 1405h10M409 1396h10M454 1408h10M425 1358h10M440 1363h10M558 1318h10M565 1397h10M519 1464h10M538 1496h10M507 1419h10M417 1392h10M523 1426h10M530 1402h10"/><path stroke="#a6a6a6" stroke-width="8" d="M726 1400h8M697 1365h8M650 1385h8M741 1361h8M760 1420h8M646 1338h8M601 1388h8M658 1372h8M641 1365h8M525 1381h8M718 1395h8M756 1397h8M688 1384h8M613 1363h8M648 1397h8M701 1391h8M728 1362h8M676 1398h8M735 1350h8M633 1366h8M660 1348h8M769 1380h8M567 1391h8M709 1390h8M555 1336h8M559 1408h8M531 1345h8M719 1370h8M677 1391h8M596 1338h8M743 1398h8M682 1329h8M610 1411h8M662 1359h8M565 1392h8M631 1377h8M754 1387h8M734 1443h8M730 1366h8M717 1403h8M602 1412h8M774 1383h8M726 1389h8M761 1386h8M639 1352h8M688 1399h8M582 1377h8M686 1380h8M781 1402h8M592 1390h8M696 1424h8M702 1380h8M744 1395h8M597 1370h8M547 1350h8"/><path stroke="#aaa8d0" stroke-width="10" d="M878 1373h10M826 1375h10M765 1399h10M858 1422h10M820 1379h10M818 1395h10M858 1401h10M748 1279h10M751 1368h10M786 1276h10M766 1268h10M839 1363h10M776 1335h10M847 1294h10M803 1409h10M716 1398h10M854 1385h10M850 1456h10M748 1444h10M908 1381h10M866 1348h10M745 1403h10M901 1389h10M867 1278h10M858 1387h10M731 1334h10M866 1365h10M791 1398h10M815 1390h10M907 1422h10M733 1435h10M750 1401h10M853 1407h10M799 1404h10M747 1395h10M803 1367h10M803 1414h10M801 1403h10"/><path stroke="#60ba6c" stroke-width="10" d="M446 1400h10M499 1405h10M438 1339h10M412 1417h10M537 1377h10M552 1359h10M471 1352h10M454 1353h10M402 1360h10M425 1401h10M525 1346h10M549 1402h10M543 1387h10M434 1425h10M431 1353h10M424 1364h10M508 1419h10M467 1424h10M509 1454h10M448 1390h10M476 1415h10M514 1382h10M437 1395h10M412 1403h10M491 1397h10M513 1393h10M425 1397h10M487 1343h10M512 1357h10M393 1369h10M496 1367h10M526 1387h10M507 1368h10M455 1381h10M389 1344h10M504 1416h10M460 1353h10M459 1401h10"/><path stroke="#888888" stroke-width="8" d="M562 1405h8M588 1381h8M644 1369h8M683 1390h8M614 1372h8M611 1425h8M585 1404h8M599 1420h8M655 1302h8M700 1388h8M723 1397h8M756 1387h8M600 1381h8M690 1385h8M761 1395h8M692 1442h8M693 1428h8M605 1413h8M639 1387h8M732 1418h8M620 1381h8M637 1399h8M743 1395h8M580 1388h8M598 1405h8M667 1406h8M618 1373h8M764 1400h8M722 1338h8M612 1370h8M555 1407h8M618 1396h8"/><path stroke="#928ec2" stroke-width="10" d="M817 1367h10M863 1447h10M714 1392h10M843 1417h10M772 1405h10M850 1411h10M856 1390h10M783 1415h10M763 1399h10M891 1392h10M805 1331h10M739 1410h10M896 1396h10M800 1364h10M810 1382h10M838 1396h10M916 1443h10M861 1399h10M877 1391h10M768 1372h10M876 1392h10M891 1344h10M787 1390h10M808 1473h10M811 1401h10M805 1410h10M903 1420h10M750 1396h10"/><path stroke="#3ba558" stroke-width="10" d="M408 1405h10M561 1406h10M511 1345h10M402 1408h10M533 1407h10M428 1410h10M538 1376h10M429 1394h10M492 1403h10M482 1316h10M402 1417h10M520 1386h10M410 1398h10M538 1374h10M535 1387h10M580 1452h10M456 1426h10M554 1399h10M513 1301h10M415 1435h10M467 1428h10M552 1388h10M393 1406h10M476 1396h10M531 1372h10M532 1409h10"/><path stroke="#6c6c6c" stroke-width="8" d="M591 1390h8M681 1360h8M644 1373h8M568 1387h8M618 1354h8M707 1382h8M647 1378h8M712 1406h8M734 1416h8M651 1387h8M560 1375h8M679 1384h8M736 1359h8M727 1406h8M724 1404h8M595 1337h8M657 1359h8M640 1390h8M688 1389h8M686 1359h8M707 1409h8M621 1357h8"/><path stroke="#7c74b5" stroke-width="10" d="M856 1383h10M818 1395h10M891 1425h10M806 1407h10M850 1405h10M887 1410h10M785 1371h10M807 1398h10M812 1382h10M887 1378h10M775 1422h10M865 1388h10M893 1397h10M813 1391h10M827 1399h10M812 1384h10M810 1387h10"/><path stroke="#238b45" stroke-width="10" d="M433 1397h10M517 1375h10M462 1419h10M412 1368h10M543 1369h10M527 1346h10M571 1379h10M506 1410h10M513 1364h10M459 1383h10M495 1380h10M545 1361h10M538 1364h10M518 1390h10M447 1394h10M471 1390h10M493 1412h10"/><path stroke="#525252" stroke-width="8" d="M683 1389h8M710 1406h8M633 1386h8M755 1387h8M682 1388h8M681 1389h8M649 1425h8M653 1399h8M660 1394h8M726 1386h8M620 1388h8M706 1416h8M691 1389h8M609 1375h8M707 1396h8M597 1425h8M631 1381h8M671 1401h8M688 1382h8"/><path stroke="#6a51a3" stroke-width="10" d="M888 1390h10M868 1393h10M837 1387h10M868 1404h10M776 1380h10"/><path stroke="#077331" stroke-width="10" d="M486 1389h10M494 1389h10M463 1377h10M535 1362h10M490 1393h10M468 1397h10M493 1388h10M516 1386h10"/><path stroke="#2e2e2e" stroke-width="8" d="M630 1390h8M604 1382h8M646 1389h8M716 1381h8M699 1403h8M671 1388h8M731 1379h8M574 1382h8"/><path stroke="#582f93" stroke-width="10" d="M829 1383h10M797 1401h10M835 1385h10M813 1407h10"/><path stroke="#005422" stroke-width="10" d="M472 1388h10M473 1391h10M452 1383h10M468 1399h10M512 1401h10"/><path stroke="#0f0f0f" stroke-width="8" d="M699 1391h8M683 1395h8M628 1393h8M709 1374h8"/><path stroke="#471084" stroke-width="10" d="M832 1391h10M825 1386h10"/><path stroke="#dff3da" stroke-width="10" d="M524 1347h10M416 1394h10M410 1451h10M553 1280h10M413 1428h10M436 1430h10M559 1322h10M459 1447h10M429 1444h10M511 1303h10M559 1431h10M422 1310h10M479 1306h10M399 1385h10M541 1446h10M424 1354h10M399 1298h10M404 1477h10M516 1376h10M444 1315h10M432 1314h10M546 1257h10M442 1436h10M499 1472h10M401 1368h10M583 1313h10M429 1307h10M568 1291h10M444 1494h10M568 1415h10M460 1282h10M547 1312h10M418 1404h10M518 1271h10M579 1326h10M499 1300h10M415 1275h10M497 1317h10M529 1276h10M569 1264h10M424 1421h10M494 1318h10M404 1364h10M396 1381h10M544 1427h10M449 1286h10M407 1346h10M571 1297h10M451 1447h10M573 1415h10"/><path stroke="#ebebeb" stroke-width="8" d="M689 1281h8M799 1339h8M587 1269h8M773 1281h8M661 1305h8M608 1464h8M673 1312h8M680 1395h8M567 1427h8M770 1317h8M638 1438h8M658 1411h8M719 1327h8M772 1478h8M674 1335h8M664 1329h8M765 1353h8M640 1425h8M602 1420h8M749 1299h8M621 1265h8M638 1374h8M570 1434h8M765 1414h8M688 1318h8M585 1436h8M646 1336h8M591 1419h8M779 1396h8M742 1388h8M653 1280h8M666 1291h8M658 1320h8M742 1408h8M655 1340h8M706 1366h8M758 1294h8M753 1429h8M553 1249h8M600 1441h8M578 1318h8M574 1325h8M619 1285h8M754 1339h8M598 1430h8M632 1451h8M620 1334h8M624 1313h8M588 1398h8M545 1330h8M793 1396h8M603 1380h8M738 1411h8M701 1424h8M698 1265h8M566 1275h8M786 1420h8M764 1304h8M697 1417h8M739 1421h8M765 1366h8M686 1428h8M617 1334h8M539 1348h8M633 1319h8M648 1337h8M714 1345h8M573 1449h8M566 1290h8M681 1259h8M660 1323h8M728 1315h8M670 1472h8M547 1411h8M637 1433h8M690 1428h8M692 1338h8M714 1253h8M574 1335h8M648 1258h8M545 1275h8M649 1293h8M633 1301h8M709 1438h8M569 1320h8M681 1394h8M649 1298h8M662 1300h8M787 1370h8M677 1424h8M745 1311h8M686 1437h8M767 1251h8"/><path stroke="#ebe9f3" stroke-width="10" d="M892 1257h10M891 1383h10M857 1286h10M746 1376h10M709 1429h10M700 1342h10M909 1402h10M812 1335h10M829 1425h10M835 1426h10M745 1404h10M795 1330h10M731 1430h10M713 1438h10M848 1318h10M814 1402h10M786 1328h10M776 1286h10M725 1386h10M854 1415h10M844 1437h10M753 1407h10M882 1319h10M724 1403h10M833 1416h10M736 1321h10M848 1272h10M895 1249h10M707 1424h10M847 1343h10M779 1465h10M840 1354h10M742 1388h10M876 1345h10M725 1323h10M776 1399h10M870 1449h10M722 1452h10M752 1358h10M734 1389h10M877 1428h10M703 1428h10M862 1300h10M903 1401h10M754 1278h10M915 1373h10M770 1310h10M894 1449h10M892 1369h10M739 1341h10M698 1300h10M739 1264h10M751 1302h10M899 1392h10M771 1372h10M918 1413h10M864 1327h10M721 1380h10M762 1341h10M829 1431h10M903 1377h10M868 1443h10M894 1352h10M822 1388h10M834 1308h10M743 1328h10M794 1423h10M811 1345h10M851 1406h10M812 1434h10M876 1339h10M859 1320h10M770 1386h10M909 1322h10M903 1342h10M852 1289h10M861 1281h10M737 1392h10M808 1430h10M729 1368h10M817 1357h10M783 1321h10M826 1423h10M767 1375h10M880 1309h10M871 1322h10M736 1458h10M839 1446h10M725 1406h10"/><path stroke="#c7e9c0" stroke-width="10" d="M455 1362h10M431 1373h10M471 1427h10M570 1450h10M395 1389h10M510 1264h10M471 1395h10M503 1392h10M415 1412h10M425 1333h10M437 1316h10M430 1340h10M565 1398h10M453 1413h10M454 1360h10M446 1391h10M422 1338h10M551 1409h10M412 1317h10M407 1455h10M534 1370h10M553 1414h10M485 1385h10M410 1400h10M479 1400h10M456 1439h10M523 1411h10M469 1406h10M564 1401h10M433 1457h10M423 1360h10M421 1432h10M548 1387h10M503 1411h10M448 1399h10M546 1315h10M472 1325h10M548 1346h10M505 1409h10M406 1376h10M426 1429h10M385 1412h10M533 1337h10M461 1435h10M488 1399h10M501 1333h10M423 1332h10M550 1342h10M443 1436h10M565 1366h10M443 1332h10M530 1389h10M465 1353h10M451 1335h10M460 1394h10M443 1390h10"/><path stroke="#d9d9d9" stroke-width="8" d="M580 1339h8M789 1359h8M754 1386h8M639 1385h8M620 1321h8M711 1408h8M746 1379h8M730 1429h8M747 1430h8M669 1425h8M678 1431h8M581 1344h8M680 1359h8M719 1421h8M638 1306h8M623 1433h8M700 1430h8M721 1347h8M710 1333h8M665 1423h8M582 1354h8M534 1280h8M570 1406h8M738 1278h8M690 1340h8M561 1299h8M573 1402h8M594 1403h8M754 1389h8M711 1354h8M718 1328h8M670 1395h8M754 1388h8M608 1378h8M736 1380h8M688 1432h8M603 1412h8M753 1266h8M701 1412h8M577 1363h8M714 1342h8M690 1416h8M634 1302h8M778 1330h8M649 1384h8M571 1288h8M719 1427h8M561 1340h8M612 1325h8M671 1344h8M708 1344h8M543 1419h8M570 1391h8M676 1326h8M693 1387h8M680 1413h8M580 1407h8M733 1409h8M605 1421h8M566 1420h8M559 1359h8M740 1410h8M599 1424h8M740 1371h8M688 1420h8M526 1407h8"/><path stroke="#dadaeb" stroke-width="10" d="M901 1403h10M825 1340h10M713 1385h10M767 1325h10M858 1406h10M708 1336h10M743 1397h10M803 1290h10M839 1389h10M746 1341h10M851 1400h10M915 1462h10M807 1364h10M807 1391h10M709 1372h10M737 1421h10M834 1403h10M801 1411h10M757 1403h10M713 1395h10M818 1396h10M770 1383h10M792 1405h10M815 1337h10M742 1437h10M779 1344h10M768 1424h10M755 1426h10M773 1424h10M918 1364h10M703 1457h10M778 1400h10M878 1361h10M816 1421h10M810 1359h10M826 1414h10M719 1409h10M846 1377h10M844 1410h10M831 1394h10M796 1428h10M908 1390h10M826 1350h10M799 1424h10M854 1431h10M915 1287h10M816 1428h10M834 1364h10M821 1416h10M817 1349h10M858 1246h10M823 1374h10M738 1428h10M784 1361h10M830 1402h10M737 1393h10M737 1436h10M779 1415h10"/><path stroke="#a9dca2" stroke-width="10" d="M444 1398h10M424 1401h10M495 1392h10M478 1374h10M529 1406h10M429 1360h10M467 1365h10M524 1338h10M567 1382h10M422 1406h10M421 1317h10M491 1416h10M387 1369h10M512 1431h10M536 1410h10M419 1403h10M539 1406h10M484 1392h10M518 1404h10M453 1265h10M443 1457h10M546 1409h10M427 1336h10M442 1449h10M553 1369h10M549 1367h10M512 1398h10M493 1377h10M443 1355h10M481 1372h10M468 1357h10M574 1400h10M442 1391h10M468 1394h10M470 1404h10M515 1382h10M475 1367h10M444 1344h10M435 1365h10M439 1396h10M534 1347h10M468 1404h10M497 1373h10M427 1427h10M523 1405h10M540 1390h10M459 1335h10M544 1359h10M497 1417h10M374 1409h10M521 1382h10M450 1378h10M444 1423h10M541 1450h10M575 1405h10M444 1386h10M551 1322h10M544 1368h10M408 1418h10M551 1368h10"/><path stroke="#c3c3c3" stroke-width="8" d="M663 1428h8M710 1399h8M640 1390h8M560 1383h8M675 1381h8M593 1303h8M564 1368h8M587 1312h8M679 1395h8M676 1401h8M681 1375h8M650 1473h8M722 1404h8M685 1467h8M607 1390h8M613 1403h8M622 1372h8M674 1360h8M772 1429h8M696 1384h8M657 1359h8M673 1446h8M614 1392h8M565 1407h8M639 1350h8M656 1395h8M746 1439h8M539 1356h8M642 1386h8M655 1390h8M717 1403h8M690 1424h8M730 1393h8M638 1418h8M685 1367h8M576 1414h8M736 1412h8M719 1403h8M708 1385h8M565 1380h8M686 1410h8M627 1386h8M691 1421h8M564 1267h8M726 1384h8M663 1406h8M601 1385h8M704 1400h8M592 1364h8M647 1403h8M694 1365h8M740 1333h8M722 1372h8M543 1371h8M712 1380h8M580 1366h8M561 1395h8M674 1401h8M670 1421h8M617 1273h8M673 1381h8M651 1300h8M634 1350h8"/><path stroke="#c2c3df" stroke-width="10" d="M743 1346h10M885 1455h10M823 1444h10M856 1378h10M872 1406h10M715 1348h10M736 1389h10M733 1395h10M907 1339h10M769 1402h10M759 1367h10M785 1403h10M918 1396h10M707 1391h10M875 1368h10M916 1365h10M829 1402h10M883 1359h10M697 1388h10M879 1383h10M910 1392h10M798 1417h10M731 1406h10M886 1383h10M907 1333h10M914 1363h10M806 1277h10M815 1390h10M833 1398h10M878 1368h10M918 1258h10M746 1416h10M870 1372h10M892 1351h10M778 1349h10M808 1353h10M745 1254h10M765 1330h10M781 1305h10"/><path stroke="#86cc85" stroke-width="10" d="M567 1390h10M396 1426h10M408 1346h10M430 1413h10M521 1388h10M464 1423h10M531 1371h10M434 1483h10M550 1422h10M484 1423h10M473 1338h10M476 1499h10M442 1327h10M529 1367h10M536 1403h10M511 1433h10M538 1363h10M529 1345h10M455 1375h10M423 1370h10M575 1368h10M528 1379h10M457 1328h10M474 1367h10M429 1345h10M464 1395h10M438 1377h10M457 1311h10M384 1378h10M550 1449h10M459 1397h10M531 1414h10M561 1387h10M444 1366h10M442 1372h10M472 1374h10M455 1418h10M561 1377h10"/><path stroke="#a6a6a6" stroke-width="8" d="M728 1417h8M619 1415h8M722 1350h8M585 1365h8M639 1341h8M721 1391h8M569 1267h8M715 1401h8M774 1407h8M732 1309h8M688 1317h8M690 1415h8M619 1361h8M605 1374h8M696 1285h8M580 1425h8M704 1347h8M614 1396h8M793 1407h8M563 1401h8M697 1379h8M632 1361h8M765 1422h8M716 1270h8M579 1363h8M766 1412h8M583 1368h8M622 1373h8M696 1357h8M668 1435h8M684 1344h8M731 1398h8M723 1396h8M581 1393h8M740 1391h8M623 1381h8M665 1364h8M694 1402h8M604 1366h8M701 1387h8M726 1407h8M546 1302h8M760 1378h8M625 1384h8M593 1397h8M575 1369h8M658 1426h8M667 1423h8M656 1343h8M777 1379h8M557 1419h8M661 1404h8M576 1400h8M551 1365h8"/><path stroke="#aaa8d0" stroke-width="10" d="M769 1261h10M830 1373h10M873 1356h10M841 1375h10M919 1379h10M898 1310h10M878 1376h10M798 1371h10M837 1412h10M768 1376h10M761 1392h10M766 1413h10M757 1391h10M817 1426h10M750 1356h10M815 1400h10M775 1394h10M840 1447h10M919 1373h10M782 1343h10M791 1405h10M832 1414h10M769 1381h10M905 1390h10M881 1402h10M796 1411h10M737 1431h10M827 1390h10M762 1326h10M903 1394h10M880 1396h10M762 1402h10M830 1366h10M845 1400h10M775 1393h10M844 1359h10M819 1389h10M738 1283h10"/><path stroke="#60ba6c" stroke-width="10" d="M530 1440h10M492 1384h10M424 1386h10M430 1359h10M418 1468h10M477 1400h10M426 1423h10M545 1385h10M463 1370h10M451 1377h10M404 1392h10M452 1410h10M417 1401h10M479 1405h10M542 1406h10M485 1412h10M391 1374h10M424 1408h10M541 1376h10M517 1376h10M467 1365h10M417 1379h10M532 1403h10M460 1366h10M515 1365h10M444 1395h10M473 1356h10M513 1414h10M389 1375h10M518 1410h10M447 1368h10M496 1308h10M414 1380h10M398 1376h10M422 1387h10M574 1402h10M527 1396h10"/><path stroke="#888888" stroke-width="8" d="M635 1415h8M648 1374h8M731 1361h8M608 1349h8M535 1400h8M610 1400h8M593 1367h8M622 1404h8M711 1354h8M595 1379h8M639 1407h8M546 1394h8M716 1394h8M774 1407h8M599 1421h8M734 1387h8M712 1419h8M590 1399h8M625 1388h8M735 1392h8M660 1386h8M711 1393h8M611 1373h8M697 1386h8M601 1396h8M567 1405h8M608 1383h8M695 1337h8M609 1399h8M761 1400h8M644 1353h8M685 1363h8"/><path stroke="#928ec2" stroke-width="10" d="M880 1389h10M919 1388h10M695 1373h10M856 1400h10M856 1369h10M833 1367h10M773 1357h10M843 1409h10M777 1375h10M868 1365h10M863 1252h10M766 1361h10M817 1377h10M799 1388h10M851 1366h10M744 1304h10M780 1409h10M851 1420h10M788 1375h10M837 1417h10M719 1407h10M861 1408h10M847 1397h10M851 1375h10M855 1439h10M854 1405h10M829 1368h10M860 1316h10"/><path stroke="#3ba558" stroke-width="10" d="M508 1416h10M502 1399h10M568 1408h10M482 1371h10M523 1413h10M462 1317h10M437 1399h10M497 1410h10M435 1436h10M477 1359h10M568 1353h10M424 1405h10M396 1386h10M525 1384h10M496 1370h10M481 1399h10M530 1411h10M470 1377h10M515 1404h10M505 1389h10M474 1399h10M549 1378h10M547 1368h10M542 1443h10M484 1410h10"/><path stroke="#6c6c6c" stroke-width="8" d="M724 1364h8M701 1391h8M774 1387h8M587 1402h8M649 1381h8M621 1392h8M597 1386h8M747 1385h8M671 1367h8M631 1380h8M746 1344h8M669 1377h8M591 1343h8M678 1325h8M585 1396h8M554 1384h8M660 1372h8M610 1362h8M616 1408h8M643 1393h8M680 1403h8M706 1339h8"/><path stroke="#7c74b5" stroke-width="10" d="M816 1370h10M739 1349h10M875 1386h10M869 1316h10M805 1392h10M833 1369h10M838 1403h10M823 1386h10M883 1419h10M868 1378h10M835 1375h10M818 1397h10M875 1394h10M851 1388h10M834 1386h10M871 1333h10M809 1381h10"/><path stroke="#238b45" stroke-width="10" d="M474 1388h10M425 1386h10M470 1384h10M481 1378h10M454 1377h10M442 1428h10M488 1393h10M394 1376h10M501 1381h10M529 1376h10M544 1368h10M503 1379h10M488 1351h10M420 1351h10M442 1384h10M417 1335h10"/><path stroke="#525252" stroke-width="8" d="M676 1363h8M738 1386h8M703 1394h8M613 1386h8M717 1367h8M634 1383h8M572 1389h8M656 1371h8M568 1422h8M631 1377h8M723 1365h8M606 1352h8M686 1383h8M718 1378h8M693 1386h8M625 1376h8M642 1395h8M698 1348h8M760 1389h8"/><path stroke="#6a51a3" stroke-width="10" d="M823 1400h10M814 1409h10M839 1387h10M852 1397h10"/><path stroke="#077331" stroke-width="10" d="M488 1393h10M440 1395h10M504 1395h10M462 1400h10M484 1398h10M437 1392h10M482 1371h10M478 1425h10"/><path stroke="#2e2e2e" stroke-width="8" d="M619 1402h8M653 1394h8M670 1389h8M674 1392h8M624 1420h8M617 1386h8M635 1378h8"/><path stroke="#582f93" stroke-width="10" d="M819 1372h10M791 1400h10M833 1394h10"/><path stroke="#005422" stroke-width="10" d="M480 1390h10M479 1389h10M473 1380h10M485 1374h10M485 1398h10"/><path stroke="#0f0f0f" stroke-width="8" d="M688 1380h8M634 1379h8M682 1401h8M617 1397h8"/><path stroke="#471084" stroke-width="10" d="M796 1381h10M815 1389h10"/></g></g>
<rect x="75.5" y="248.8" width="110.20" height="70.00" fill="none" stroke="#444" stroke-width="0.8"/>
<path d="M73.20 262.20H75.5" stroke="#444" stroke-width="0.8"/>
<text x="71.40" y="264.45" font-size="6.3" text-anchor="end" letter-spacing="0.35">1.2</text>
<path d="M73.20 278.10H75.5" stroke="#444" stroke-width="0.8"/>
<text x="71.40" y="280.35" font-size="6.3" text-anchor="end" letter-spacing="0.35">1.0</text>
<path d="M73.20 294.00H75.5" stroke="#444" stroke-width="0.8"/>
<text x="71.40" y="296.25" font-size="6.3" text-anchor="end" letter-spacing="0.35">0.8</text>
<path d="M73.20 309.90H75.5" stroke="#444" stroke-width="0.8"/>
<text x="71.40" y="312.15" font-size="6.3" text-anchor="end" letter-spacing="0.35">0.6</text>
<path d="M86.40 318.8V321.10" stroke="#444" stroke-width="0.8"/>
<text x="86.57" y="327.80" font-size="6.3" text-anchor="middle" letter-spacing="0.35">2</text>
<path d="M108.45 318.8V321.10" stroke="#444" stroke-width="0.8"/>
<text x="108.62" y="327.80" font-size="6.3" text-anchor="middle" letter-spacing="0.35">1</text>
<path d="M130.50 318.8V321.10" stroke="#444" stroke-width="0.8"/>
<text x="130.67" y="327.80" font-size="6.3" text-anchor="middle" letter-spacing="0.35">0</text>
<path d="M152.55 318.8V321.10" stroke="#444" stroke-width="0.8"/>
<text x="152.72" y="327.80" font-size="6.3" text-anchor="middle" letter-spacing="0.35">23</text>
<path d="M174.60 318.8V321.10" stroke="#444" stroke-width="0.8"/>
<text x="174.77" y="327.80" font-size="6.3" text-anchor="middle" letter-spacing="0.35">22</text>
<text x="130.60" y="335.30" font-size="6.3" text-anchor="middle">R.A. (hour)</text>
<text x="0" y="0" font-size="6.5" text-anchor="middle" transform="translate(59.40,283.80) rotate(-90)">Predicted-to-Measured</text>
<text x="131.85" y="243.30" font-size="8.8" text-anchor="middle">Az, El = (90.0, 83.2) deg</text>
<clipPath id="cB2"><rect x="237.4" y="249.0" width="107.99999999999997" height="69.0"/></clipPath>
<g clip-path="url(#cB2)"><g filter="url(#bl)" transform="scale(0.2)"><path stroke="#dff3da" stroke-width="10" d="M1225 1302h10M1402 1397h10M1201 1394h10M1317 1441h10M1382 1416h10M1383 1290h10M1419 1390h10M1196 1317h10M1386 1295h10M1262 1359h10M1320 1262h10M1248 1457h10M1240 1291h10M1247 1391h10M1387 1439h10M1400 1409h10M1210 1412h10M1244 1398h10M1376 1255h10M1327 1385h10M1198 1299h10M1294 1294h10M1345 1285h10M1324 1483h10M1387 1293h10M1369 1325h10M1266 1323h10M1260 1324h10M1389 1349h10M1234 1263h10M1417 1291h10M1237 1284h10M1195 1284h10M1205 1340h10M1377 1250h10M1391 1403h10M1322 1300h10M1337 1318h10M1289 1365h10M1198 1430h10M1325 1340h10M1259 1350h10M1318 1450h10M1272 1456h10M1447 1318h10M1282 1455h10M1328 1251h10M1258 1269h10M1300 1314h10M1223 1359h10M1305 1467h10M1450 1373h10M1214 1289h10M1343 1337h10M1365 1296h10M1207 1444h10M1280 1312h10M1222 1397h10M1323 1311h10M1434 1365h10M1295 1445h10M1239 1385h10M1336 1454h10M1280 1324h10M1221 1398h10M1364 1285h10M1205 1280h10M1218 1318h10M1235 1327h10M1264 1423h10M1234 1288h10M1236 1358h10M1216 1255h10M1357 1413h10M1420 1292h10M1384 1290h10M1189 1402h10M1341 1291h10M1247 1438h10M1426 1440h10M1395 1269h10M1280 1259h10M1302 1330h10M1253 1304h10"/><path stroke="#ebebeb" stroke-width="8" d="M1569 1306h8M1585 1395h8M1459 1252h8M1493 1266h8M1439 1432h8M1440 1271h8M1426 1337h8M1563 1292h8M1517 1259h8M1423 1440h8M1525 1480h8M1587 1429h8M1582 1386h8M1508 1391h8M1445 1290h8M1536 1271h8M1449 1434h8M1577 1272h8M1514 1309h8M1571 1408h8M1425 1297h8M1401 1302h8M1419 1441h8M1420 1434h8M1425 1268h8M1471 1309h8M1459 1418h8M1574 1338h8M1512 1334h8M1447 1257h8M1394 1376h8M1495 1291h8M1500 1318h8M1425 1367h8M1494 1280h8M1490 1452h8M1446 1437h8M1574 1367h8M1428 1283h8M1565 1418h8M1562 1404h8M1499 1488h8M1410 1314h8M1578 1434h8M1401 1374h8M1449 1301h8M1455 1291h8M1529 1433h8M1508 1435h8M1561 1459h8M1429 1282h8M1501 1304h8M1543 1392h8M1441 1400h8M1562 1373h8M1413 1298h8M1487 1276h8M1411 1374h8M1437 1335h8M1554 1274h8M1555 1379h8M1426 1389h8M1408 1310h8M1426 1421h8M1587 1340h8M1540 1311h8M1495 1277h8M1538 1428h8M1540 1344h8M1453 1454h8M1431 1340h8M1431 1454h8M1497 1278h8M1501 1297h8M1536 1313h8M1543 1462h8M1454 1323h8"/><path stroke="#ebe9f3" stroke-width="10" d="M1709 1391h10M1691 1449h10M1718 1432h10M1688 1326h10M1673 1427h10M1510 1343h10M1684 1260h10M1565 1301h10M1561 1441h10M1597 1314h10M1596 1472h10M1716 1360h10M1587 1280h10M1565 1472h10M1692 1323h10M1677 1306h10M1507 1398h10M1605 1342h10M1566 1331h10M1518 1281h10M1720 1349h10M1524 1389h10M1581 1460h10M1641 1348h10M1712 1427h10M1622 1429h10M1651 1369h10M1608 1291h10M1528 1399h10M1510 1267h10M1535 1295h10M1599 1325h10M1646 1281h10M1552 1301h10M1573 1303h10M1676 1420h10M1614 1327h10M1644 1332h10M1711 1388h10M1684 1407h10M1614 1339h10M1666 1302h10M1700 1254h10M1639 1315h10M1668 1489h10M1716 1382h10M1661 1469h10M1517 1364h10M1525 1377h10M1528 1403h10M1694 1273h10M1715 1270h10M1572 1308h10M1654 1370h10M1648 1348h10M1650 1367h10M1595 1362h10M1528 1331h10M1518 1300h10M1669 1434h10M1543 1368h10M1605 1401h10M1525 1355h10M1579 1290h10M1604 1334h10M1550 1331h10M1702 1302h10M1655 1354h10M1668 1314h10M1617 1347h10M1606 1419h10M1707 1274h10M1551 1290h10M1597 1352h10M1541 1444h10M1663 1285h10M1538 1472h10"/><path stroke="#c7e9c0" stroke-width="10" d="M1383 1324h10M1433 1397h10M1340 1377h10M1294 1420h10M1382 1276h10M1363 1416h10M1293 1404h10M1204 1404h10M1377 1358h10M1332 1311h10M1292 1414h10M1262 1443h10M1212 1401h10M1195 1383h10M1214 1330h10M1373 1327h10M1392 1444h10M1336 1423h10M1373 1366h10M1225 1273h10M1282 1377h10M1331 1400h10M1212 1429h10M1264 1430h10M1398 1396h10M1370 1360h10M1253 1395h10M1414 1404h10M1219 1398h10M1341 1439h10M1405 1290h10M1447 1429h10M1248 1409h10M1281 1249h10M1410 1311h10M1439 1406h10M1243 1414h10M1447 1389h10M1359 1390h10M1323 1270h10M1220 1350h10M1214 1368h10M1243 1405h10M1374 1444h10M1363 1334h10M1278 1429h10M1296 1400h10M1384 1428h10M1413 1359h10M1196 1332h10M1335 1411h10M1211 1314h10M1194 1358h10M1234 1387h10M1183 1369h10M1381 1437h10M1380 1336h10M1280 1420h10M1302 1399h10M1328 1469h10M1305 1350h10M1265 1405h10M1406 1432h10M1387 1305h10M1241 1340h10M1196 1398h10M1412 1427h10M1218 1389h10"/><path stroke="#d9d9d9" stroke-width="8" d="M1465 1334h8M1421 1402h8M1423 1408h8M1532 1375h8M1489 1341h8M1505 1355h8M1547 1419h8M1534 1408h8M1482 1253h8M1456 1394h8M1526 1419h8M1462 1256h8M1429 1329h8M1498 1433h8M1487 1287h8M1457 1437h8M1398 1352h8M1513 1416h8M1565 1406h8M1571 1377h8M1555 1396h8M1572 1299h8M1554 1311h8M1453 1442h8M1576 1395h8M1492 1393h8M1441 1421h8M1418 1368h8M1441 1435h8M1513 1476h8M1388 1379h8M1542 1352h8M1566 1366h8M1558 1400h8M1410 1384h8M1505 1302h8M1541 1378h8M1447 1432h8M1469 1419h8M1501 1375h8M1435 1444h8M1467 1423h8M1548 1371h8M1552 1349h8M1564 1432h8M1426 1398h8M1533 1382h8M1557 1299h8M1603 1275h8M1581 1386h8M1422 1377h8M1471 1383h8M1449 1405h8M1489 1409h8M1454 1307h8M1469 1378h8M1553 1349h8M1436 1302h8M1493 1440h8M1402 1388h8M1434 1375h8M1556 1363h8M1426 1310h8M1410 1397h8M1533 1337h8"/><path stroke="#dadaeb" stroke-width="10" d="M1578 1253h10M1498 1449h10M1540 1354h10M1710 1433h10M1554 1349h10M1531 1280h10M1659 1392h10M1677 1396h10M1632 1329h10M1520 1341h10M1610 1414h10M1706 1367h10M1536 1464h10M1622 1374h10M1633 1442h10M1648 1410h10M1610 1440h10M1525 1364h10M1592 1395h10M1595 1363h10M1603 1347h10M1687 1304h10M1577 1385h10M1577 1346h10M1706 1312h10M1711 1400h10M1684 1439h10M1711 1418h10M1680 1328h10M1641 1429h10M1562 1306h10M1534 1431h10M1709 1424h10M1670 1351h10M1681 1437h10M1594 1416h10M1606 1375h10M1523 1358h10M1668 1389h10M1655 1397h10M1597 1442h10M1548 1448h10M1559 1391h10M1610 1395h10M1608 1433h10M1529 1332h10M1719 1370h10M1574 1402h10M1650 1338h10M1720 1426h10M1618 1317h10M1533 1421h10M1597 1326h10M1636 1436h10M1597 1395h10M1537 1368h10M1629 1291h10M1617 1393h10"/><path stroke="#a9dca2" stroke-width="10" d="M1389 1393h10M1319 1396h10M1330 1350h10M1295 1388h10M1276 1399h10M1296 1382h10M1289 1424h10M1258 1409h10M1325 1430h10M1428 1268h10M1310 1462h10M1316 1392h10M1244 1445h10M1364 1394h10M1347 1397h10M1302 1324h10M1348 1371h10M1193 1395h10M1332 1360h10M1358 1248h10M1203 1371h10M1236 1425h10M1293 1344h10M1410 1414h10M1269 1422h10M1372 1450h10M1344 1431h10M1193 1354h10M1218 1376h10M1393 1416h10M1413 1401h10M1397 1412h10M1370 1455h10M1327 1409h10M1364 1362h10M1259 1415h10M1254 1427h10M1214 1432h10M1341 1351h10M1314 1355h10M1322 1381h10M1201 1395h10M1334 1402h10M1408 1424h10M1311 1347h10M1318 1389h10M1326 1415h10M1219 1327h10M1287 1456h10M1317 1400h10M1378 1405h10M1408 1412h10M1379 1399h10M1360 1387h10M1322 1356h10M1260 1450h10M1356 1422h10M1228 1409h10"/><path stroke="#c3c3c3" stroke-width="8" d="M1539 1320h8M1510 1332h8M1544 1375h8M1438 1380h8M1554 1376h8M1467 1367h8M1511 1402h8M1403 1356h8M1528 1384h8M1519 1420h8M1543 1446h8M1436 1411h8M1468 1385h8M1491 1363h8M1464 1354h8M1459 1399h8M1568 1412h8M1533 1434h8M1433 1369h8M1427 1372h8M1527 1347h8M1552 1374h8M1469 1408h8M1516 1363h8M1557 1384h8M1454 1358h8M1566 1295h8M1429 1390h8M1531 1389h8M1549 1356h8M1396 1319h8M1501 1401h8M1555 1395h8M1475 1388h8M1439 1282h8M1420 1377h8M1473 1397h8M1462 1249h8M1489 1396h8M1431 1373h8M1489 1395h8M1566 1383h8M1446 1395h8M1514 1406h8M1530 1395h8M1456 1397h8M1488 1372h8M1403 1389h8M1505 1435h8M1487 1400h8M1509 1385h8M1434 1340h8M1524 1386h8M1497 1411h8M1488 1351h8M1530 1385h8M1441 1337h8M1470 1344h8M1510 1398h8M1529 1335h8M1447 1389h8M1472 1390h8M1483 1350h8"/><path stroke="#c2c3df" stroke-width="10" d="M1624 1298h10M1587 1442h10M1658 1429h10M1544 1376h10M1655 1385h10M1672 1413h10M1596 1339h10M1533 1385h10M1721 1438h10M1535 1373h10M1572 1440h10M1652 1398h10M1628 1275h10M1541 1362h10M1633 1414h10M1543 1408h10M1625 1410h10M1593 1374h10M1578 1351h10M1647 1415h10M1556 1410h10M1520 1396h10M1690 1388h10M1616 1396h10M1642 1366h10M1606 1435h10M1706 1342h10M1686 1405h10M1677 1309h10M1657 1426h10M1615 1341h10M1586 1394h10M1718 1409h10M1714 1358h10M1640 1337h10M1690 1352h10M1537 1416h10M1653 1345h10M1570 1431h10M1527 1352h10M1668 1415h10M1701 1421h10M1713 1430h10M1611 1342h10M1709 1396h10M1624 1395h10M1562 1345h10M1591 1439h10M1521 1422h10M1670 1339h10M1622 1417h10M1601 1394h10M1512 1411h10M1543 1270h10M1547 1272h10M1646 1391h10M1608 1412h10M1574 1314h10M1648 1429h10M1618 1401h10M1539 1385h10M1677 1374h10M1679 1340h10M1677 1420h10M1627 1296h10"/><path stroke="#86cc85" stroke-width="10" d="M1225 1376h10M1388 1361h10M1278 1398h10M1370 1379h10M1282 1370h10M1220 1401h10M1344 1390h10M1389 1385h10M1207 1441h10M1230 1409h10M1305 1379h10M1387 1361h10M1365 1445h10M1259 1306h10M1401 1380h10M1407 1406h10M1202 1377h10M1388 1441h10M1248 1453h10M1371 1362h10M1279 1366h10M1222 1346h10M1263 1435h10M1364 1366h10M1254 1390h10M1241 1414h10M1398 1419h10M1211 1350h10M1288 1447h10M1330 1354h10M1414 1354h10M1214 1424h10M1426 1277h10M1417 1444h10M1407 1432h10M1328 1412h10M1315 1370h10M1219 1435h10M1313 1441h10M1364 1395h10M1391 1426h10M1383 1400h10M1261 1396h10M1214 1406h10M1375 1389h10M1264 1379h10M1269 1447h10M1377 1333h10M1229 1405h10M1200 1434h10M1269 1375h10M1192 1343h10"/><path stroke="#a6a6a6" stroke-width="8" d="M1454 1296h8M1552 1401h8M1433 1372h8M1514 1353h8M1526 1389h8M1534 1376h8M1411 1406h8M1482 1408h8M1476 1367h8M1558 1409h8M1460 1354h8M1515 1373h8M1455 1386h8M1499 1359h8M1455 1427h8M1471 1376h8M1537 1366h8M1511 1380h8M1449 1372h8M1509 1371h8M1548 1383h8M1484 1345h8M1415 1399h8M1510 1391h8M1470 1377h8M1528 1430h8M1480 1504h8M1462 1417h8M1429 1331h8M1494 1390h8M1554 1329h8M1513 1419h8M1549 1331h8M1534 1356h8M1524 1352h8M1461 1372h8M1514 1303h8M1568 1357h8M1513 1383h8M1426 1361h8M1584 1329h8M1578 1339h8M1520 1403h8M1438 1375h8M1434 1330h8M1474 1329h8"/><path stroke="#aaa8d0" stroke-width="10" d="M1570 1351h10M1637 1350h10M1603 1342h10M1705 1360h10M1656 1407h10M1596 1400h10M1524 1386h10M1536 1357h10M1721 1400h10M1620 1418h10M1644 1412h10M1525 1444h10M1635 1295h10M1700 1274h10M1667 1387h10M1503 1343h10M1499 1360h10M1601 1331h10M1557 1391h10M1614 1489h10M1617 1282h10M1635 1328h10M1537 1358h10M1567 1377h10M1612 1362h10M1626 1450h10M1582 1374h10M1580 1401h10M1675 1405h10M1516 1379h10M1670 1373h10M1628 1304h10M1580 1405h10M1687 1346h10M1544 1368h10M1557 1394h10M1573 1369h10"/><path stroke="#60ba6c" stroke-width="10" d="M1283 1425h10M1366 1412h10M1340 1433h10M1332 1382h10M1279 1437h10M1325 1415h10M1223 1387h10M1196 1402h10M1269 1353h10M1401 1425h10M1396 1402h10M1434 1392h10M1320 1442h10M1266 1437h10M1399 1398h10M1320 1403h10M1357 1371h10M1347 1427h10M1311 1457h10M1371 1380h10M1184 1357h10M1254 1315h10M1359 1404h10M1313 1441h10M1341 1406h10M1405 1450h10M1197 1386h10M1438 1380h10M1439 1330h10M1348 1384h10M1262 1356h10M1411 1418h10M1274 1399h10M1322 1361h10M1212 1403h10M1332 1431h10M1204 1427h10M1230 1420h10M1327 1376h10"/><path stroke="#888888" stroke-width="8" d="M1419 1384h8M1540 1394h8M1555 1411h8M1497 1397h8M1416 1409h8M1461 1381h8M1515 1400h8M1442 1386h8M1544 1449h8M1457 1422h8M1443 1311h8M1538 1403h8M1407 1356h8M1431 1370h8M1452 1401h8M1482 1370h8M1424 1385h8M1542 1395h8M1390 1390h8M1532 1412h8M1536 1329h8M1483 1351h8M1464 1409h8M1510 1388h8M1577 1385h8M1403 1405h8M1570 1385h8M1565 1384h8M1424 1395h8M1483 1381h8"/><path stroke="#928ec2" stroke-width="10" d="M1685 1357h10M1634 1371h10M1568 1420h10M1558 1354h10M1622 1332h10M1623 1412h10M1587 1391h10M1575 1441h10M1575 1360h10M1559 1370h10M1652 1381h10M1597 1398h10M1620 1401h10M1603 1361h10M1689 1403h10M1715 1407h10M1681 1400h10M1612 1377h10M1656 1405h10M1608 1456h10M1653 1393h10M1583 1373h10M1616 1340h10M1606 1348h10M1597 1376h10M1536 1401h10M1633 1341h10M1679 1287h10M1647 1360h10M1620 1355h10M1635 1403h10M1658 1373h10M1594 1348h10M1673 1432h10"/><path stroke="#3ba558" stroke-width="10" d="M1310 1398h10M1352 1403h10M1201 1412h10M1303 1423h10M1214 1422h10M1321 1438h10M1403 1430h10M1250 1369h10M1325 1420h10M1239 1354h10M1319 1382h10M1338 1254h10M1307 1386h10M1248 1421h10M1204 1401h10M1281 1422h10M1416 1444h10M1372 1397h10M1306 1396h10M1311 1401h10M1318 1406h10M1416 1381h10M1359 1411h10M1215 1362h10M1323 1446h10M1376 1384h10M1389 1388h10M1267 1416h10M1196 1377h10M1280 1387h10M1354 1410h10M1346 1389h10M1226 1416h10"/><path stroke="#6c6c6c" stroke-width="8" d="M1533 1403h8M1514 1360h8M1474 1377h8M1471 1420h8M1498 1428h8M1580 1392h8M1502 1355h8M1462 1404h8M1499 1387h8M1542 1388h8M1505 1391h8M1528 1370h8M1412 1376h8M1482 1360h8M1555 1338h8M1512 1373h8M1494 1374h8M1529 1391h8M1444 1352h8M1487 1385h8M1426 1400h8"/><path stroke="#7c74b5" stroke-width="10" d="M1598 1422h10M1681 1413h10M1650 1403h10M1601 1340h10M1583 1402h10M1573 1386h10M1666 1412h10M1628 1354h10M1707 1377h10M1685 1367h10M1637 1352h10M1562 1348h10M1640 1347h10M1545 1375h10M1675 1393h10M1654 1388h10M1668 1399h10M1621 1358h10M1691 1363h10M1600 1392h10M1537 1364h10M1664 1376h10M1681 1366h10M1661 1372h10M1613 1394h10M1631 1401h10M1591 1366h10"/><path stroke="#238b45" stroke-width="10" d="M1308 1419h10M1277 1384h10M1387 1407h10M1351 1400h10M1398 1391h10M1321 1400h10M1265 1376h10M1268 1417h10M1285 1375h10M1262 1402h10M1365 1407h10M1361 1398h10M1204 1416h10M1263 1414h10M1323 1369h10M1213 1407h10M1297 1413h10M1308 1394h10M1248 1408h10M1299 1414h10"/><path stroke="#525252" stroke-width="8" d="M1438 1379h8M1487 1388h8M1442 1366h8M1428 1357h8M1483 1378h8M1527 1353h8M1561 1370h8M1486 1393h8M1509 1377h8M1478 1398h8M1479 1402h8M1530 1387h8M1493 1392h8M1543 1363h8"/><path stroke="#6a51a3" stroke-width="10" d="M1597 1386h10M1559 1378h10M1640 1378h10M1647 1405h10M1606 1396h10M1657 1359h10M1646 1375h10M1669 1362h10M1596 1382h10M1587 1358h10M1619 1377h10M1604 1356h10M1540 1369h10M1688 1397h10M1659 1386h10M1621 1388h10M1603 1380h10M1619 1362h10M1656 1356h10M1589 1414h10"/><path stroke="#077331" stroke-width="10" d="M1327 1408h10M1219 1436h10M1315 1386h10M1328 1410h10M1312 1381h10M1250 1420h10M1249 1368h10M1368 1408h10M1335 1385h10M1283 1407h10M1262 1451h10M1216 1389h10"/><path stroke="#2e2e2e" stroke-width="8" d="M1459 1371h8M1507 1387h8M1505 1397h8M1477 1384h8M1493 1394h8M1486 1404h8M1481 1393h8M1437 1403h8M1508 1368h8M1469 1396h8M1524 1387h8"/><path stroke="#582f93" stroke-width="10" d="M1652 1378h10M1648 1402h10M1562 1362h10M1652 1384h10M1609 1385h10M1653 1393h10M1549 1393h10M1539 1395h10M1580 1383h10M1631 1389h10M1588 1380h10M1678 1374h10"/><path stroke="#005422" stroke-width="10" d="M1293 1392h10M1255 1406h10M1229 1388h10M1251 1381h10M1317 1397h10M1222 1418h10M1321 1405h10"/><path stroke="#0f0f0f" stroke-width="8" d="M1483 1401h8M1509 1392h8M1503 1402h8M1444 1366h8M1477 1392h8M1514 1385h8"/><path stroke="#471084" stroke-width="10" d="M1665 1397h10M1629 1362h10M1687 1394h10M1615 1372h10M1616 1388h10M1635 1394h10"/><path stroke="#dff3da" stroke-width="10" d="M1214 1275h10M1265 1457h10M1267 1284h10M1211 1315h10M1207 1296h10M1330 1306h10M1302 1348h10M1259 1429h10M1402 1346h10M1228 1457h10M1224 1316h10M1405 1429h10M1305 1326h10M1342 1324h10M1385 1336h10M1287 1322h10M1289 1454h10M1279 1377h10M1344 1342h10M1202 1433h10M1329 1429h10M1251 1448h10M1334 1267h10M1207 1407h10M1361 1437h10M1309 1428h10M1207 1343h10M1204 1384h10M1374 1322h10M1418 1287h10M1411 1388h10M1302 1298h10M1341 1355h10M1248 1321h10M1391 1278h10M1297 1335h10M1306 1319h10M1243 1312h10M1259 1416h10M1324 1345h10M1339 1431h10M1216 1438h10M1318 1318h10M1396 1340h10M1376 1274h10M1333 1446h10M1233 1296h10M1210 1344h10M1287 1309h10M1391 1311h10M1222 1363h10M1411 1363h10M1353 1330h10M1423 1323h10M1399 1290h10M1201 1298h10M1278 1449h10M1380 1269h10M1270 1436h10M1355 1431h10M1230 1440h10M1244 1425h10M1401 1343h10M1289 1375h10M1232 1288h10M1284 1464h10M1362 1412h10M1340 1448h10M1357 1408h10M1252 1421h10M1412 1470h10M1232 1302h10M1385 1379h10M1361 1308h10M1221 1431h10M1226 1302h10M1184 1301h10M1204 1429h10M1350 1306h10M1230 1361h10M1313 1306h10M1231 1364h10M1219 1418h10"/><path stroke="#ebebeb" stroke-width="8" d="M1464 1273h8M1475 1280h8M1450 1297h8M1495 1416h8M1503 1327h8M1546 1334h8M1482 1286h8M1447 1351h8M1546 1426h8M1503 1251h8M1567 1374h8M1569 1414h8M1419 1429h8M1513 1290h8M1522 1315h8M1457 1247h8M1565 1245h8M1568 1279h8M1385 1274h8M1487 1433h8M1410 1435h8M1411 1397h8M1419 1331h8M1543 1304h8M1539 1286h8M1422 1429h8M1532 1285h8M1505 1313h8M1569 1393h8M1564 1348h8M1499 1421h8M1478 1286h8M1465 1294h8M1575 1442h8M1454 1246h8M1562 1403h8M1555 1324h8M1579 1350h8M1406 1409h8M1549 1469h8M1412 1350h8M1398 1393h8M1482 1316h8M1411 1256h8M1435 1428h8M1572 1369h8M1429 1305h8M1414 1335h8M1567 1284h8M1439 1290h8M1484 1292h8M1432 1315h8M1398 1428h8M1471 1428h8M1504 1415h8M1460 1459h8M1468 1271h8M1479 1442h8M1398 1408h8M1550 1301h8M1569 1350h8M1564 1361h8M1557 1301h8M1485 1439h8M1479 1291h8M1431 1422h8M1441 1328h8M1486 1290h8M1438 1282h8M1535 1289h8M1405 1303h8M1509 1314h8M1446 1287h8M1465 1287h8M1568 1321h8M1479 1351h8M1574 1439h8"/><path stroke="#ebe9f3" stroke-width="10" d="M1671 1282h10M1542 1405h10M1699 1459h10M1555 1341h10M1664 1434h10M1658 1399h10M1651 1327h10M1506 1327h10M1567 1334h10M1549 1323h10M1675 1249h10M1695 1262h10M1699 1397h10M1523 1458h10M1686 1278h10M1668 1320h10M1544 1324h10M1537 1343h10M1655 1266h10M1578 1299h10M1705 1277h10M1521 1418h10M1513 1421h10M1586 1282h10M1679 1288h10M1522 1348h10M1541 1394h10M1523 1246h10M1692 1382h10M1696 1276h10M1708 1336h10M1707 1470h10M1567 1328h10M1517 1414h10M1544 1318h10M1575 1393h10M1714 1412h10M1650 1313h10M1631 1270h10M1580 1427h10M1550 1343h10M1717 1356h10M1565 1420h10M1698 1379h10M1683 1450h10M1682 1403h10M1544 1451h10M1599 1305h10M1667 1305h10M1621 1309h10M1535 1315h10M1685 1285h10M1572 1360h10M1524 1342h10M1538 1274h10M1718 1352h10M1513 1254h10M1601 1436h10M1646 1294h10M1542 1427h10M1539 1314h10M1653 1447h10M1515 1404h10M1688 1438h10M1589 1314h10M1628 1410h10M1609 1443h10M1673 1283h10M1505 1391h10M1673 1290h10M1499 1284h10M1530 1426h10M1695 1420h10M1532 1446h10M1534 1304h10M1525 1299h10"/><path stroke="#c7e9c0" stroke-width="10" d="M1264 1333h10M1211 1311h10M1360 1311h10M1400 1316h10M1397 1306h10M1393 1395h10M1424 1433h10M1420 1397h10M1383 1284h10M1342 1459h10M1406 1392h10M1402 1345h10M1203 1368h10M1399 1377h10M1419 1396h10M1266 1338h10M1255 1313h10M1400 1365h10M1296 1360h10M1342 1396h10M1361 1338h10M1232 1365h10M1397 1362h10M1331 1426h10M1319 1400h10M1320 1393h10M1248 1367h10M1227 1388h10M1230 1322h10M1318 1396h10M1376 1373h10M1413 1250h10M1281 1365h10M1392 1387h10M1398 1391h10M1331 1370h10M1305 1388h10M1359 1406h10M1318 1315h10M1224 1269h10M1273 1419h10M1230 1407h10M1352 1416h10M1295 1472h10M1339 1372h10M1232 1333h10M1430 1445h10M1215 1394h10M1371 1422h10M1385 1446h10M1384 1308h10M1185 1363h10M1300 1331h10M1192 1432h10M1278 1417h10M1401 1416h10M1273 1391h10M1242 1416h10M1203 1417h10M1279 1419h10M1417 1312h10M1407 1435h10M1226 1432h10M1214 1359h10M1232 1259h10M1236 1392h10M1380 1314h10M1244 1360h10"/><path stroke="#d9d9d9" stroke-width="8" d="M1466 1455h8M1574 1439h8M1492 1389h8M1494 1450h8M1515 1409h8M1473 1321h8M1404 1401h8M1545 1325h8M1543 1376h8M1555 1402h8M1426 1415h8M1552 1377h8M1584 1405h8M1429 1401h8M1530 1371h8M1460 1412h8M1433 1310h8M1500 1454h8M1536 1382h8M1551 1423h8M1559 1395h8M1390 1371h8M1556 1338h8M1438 1391h8M1523 1431h8M1475 1390h8M1504 1431h8M1491 1393h8M1578 1324h8M1503 1358h8M1420 1423h8M1485 1391h8M1455 1339h8M1463 1441h8M1445 1404h8M1466 1401h8M1510 1410h8M1472 1334h8M1459 1410h8M1431 1413h8M1435 1395h8M1528 1396h8M1553 1420h8M1473 1411h8M1564 1313h8M1424 1383h8M1426 1378h8M1467 1349h8M1569 1390h8M1551 1303h8M1417 1394h8M1418 1315h8M1517 1407h8M1412 1301h8M1588 1313h8M1404 1409h8M1439 1400h8M1516 1343h8M1438 1326h8M1564 1401h8M1446 1431h8M1451 1434h8M1464 1329h8M1422 1350h8"/><path stroke="#dadaeb" stroke-width="10" d="M1696 1410h10M1649 1398h10M1646 1295h10M1698 1419h10M1575 1410h10M1558 1418h10M1675 1403h10M1562 1408h10M1678 1418h10M1642 1345h10M1704 1399h10M1699 1374h10M1707 1361h10M1594 1371h10M1701 1443h10M1625 1426h10M1670 1286h10M1657 1434h10M1601 1345h10M1657 1297h10M1520 1369h10M1689 1379h10M1696 1448h10M1642 1382h10M1684 1355h10M1656 1259h10M1615 1456h10M1664 1387h10M1655 1417h10M1610 1429h10M1520 1407h10M1614 1404h10M1582 1391h10M1685 1319h10M1518 1397h10M1535 1346h10M1624 1327h10M1594 1411h10M1684 1396h10M1584 1367h10M1595 1394h10M1700 1395h10M1702 1404h10M1586 1414h10M1549 1388h10M1636 1432h10M1651 1409h10M1692 1412h10M1555 1364h10M1657 1363h10M1692 1344h10M1607 1330h10M1644 1370h10M1627 1420h10M1689 1411h10M1690 1452h10M1609 1386h10M1553 1394h10"/><path stroke="#a9dca2" stroke-width="10" d="M1429 1396h10M1398 1335h10M1428 1348h10M1214 1406h10M1374 1418h10M1211 1372h10M1434 1402h10M1244 1384h10M1311 1388h10M1292 1363h10M1319 1418h10M1329 1448h10M1313 1423h10M1401 1483h10M1262 1403h10M1309 1371h10M1412 1373h10M1308 1394h10M1382 1393h10M1342 1412h10M1422 1396h10M1415 1281h10M1343 1403h10M1255 1398h10M1432 1398h10M1392 1406h10M1277 1418h10M1396 1386h10M1304 1405h10M1234 1432h10M1313 1390h10M1323 1439h10M1198 1431h10M1211 1405h10M1347 1398h10M1267 1265h10M1255 1346h10M1409 1374h10M1301 1425h10M1382 1410h10M1245 1388h10M1199 1447h10M1385 1399h10M1249 1380h10M1356 1395h10M1336 1462h10M1238 1383h10M1203 1442h10M1201 1349h10M1318 1394h10M1211 1423h10M1256 1426h10M1218 1397h10M1252 1356h10M1231 1318h10M1296 1413h10M1319 1399h10M1275 1401h10"/><path stroke="#c3c3c3" stroke-width="8" d="M1465 1401h8M1412 1387h8M1451 1321h8M1522 1422h8M1528 1376h8M1481 1361h8M1503 1405h8M1436 1355h8M1450 1358h8M1420 1380h8M1545 1448h8M1403 1403h8M1475 1389h8M1501 1402h8M1415 1320h8M1526 1339h8M1488 1357h8M1553 1391h8M1472 1372h8M1444 1388h8M1405 1364h8M1538 1400h8M1389 1344h8M1476 1425h8M1422 1383h8M1535 1366h8M1482 1419h8M1522 1395h8M1486 1388h8M1523 1311h8M1497 1360h8M1392 1390h8M1538 1391h8M1420 1396h8M1540 1408h8M1432 1372h8M1561 1365h8M1413 1368h8M1531 1352h8M1549 1398h8M1450 1385h8M1515 1383h8M1427 1399h8M1516 1343h8M1451 1343h8M1498 1387h8M1520 1269h8M1459 1402h8M1539 1407h8M1476 1353h8M1407 1406h8M1548 1386h8M1445 1406h8M1542 1405h8M1504 1381h8M1479 1414h8M1548 1416h8M1439 1340h8M1438 1357h8M1505 1278h8M1444 1316h8M1429 1352h8M1546 1434h8"/><path stroke="#c2c3df" stroke-width="10" d="M1641 1344h10M1543 1382h10M1539 1347h10M1664 1392h10M1593 1330h10M1626 1413h10M1637 1420h10M1640 1397h10M1684 1398h10M1664 1276h10M1599 1425h10M1543 1390h10M1567 1362h10M1576 1344h10M1686 1420h10M1703 1350h10M1604 1345h10M1628 1375h10M1525 1387h10M1607 1391h10M1544 1422h10M1614 1343h10M1548 1417h10M1700 1378h10M1682 1325h10M1595 1440h10M1710 1436h10M1559 1441h10M1580 1376h10M1587 1373h10M1545 1389h10M1613 1280h10M1615 1420h10M1565 1419h10M1669 1422h10M1681 1334h10M1666 1408h10M1665 1382h10M1689 1386h10M1561 1408h10M1569 1392h10M1694 1420h10M1720 1283h10M1632 1342h10M1624 1409h10M1603 1418h10M1615 1358h10M1567 1357h10M1592 1343h10M1564 1313h10M1639 1347h10M1656 1371h10M1649 1417h10M1691 1413h10M1637 1413h10M1639 1396h10M1687 1406h10M1674 1415h10M1562 1346h10M1657 1413h10M1710 1433h10M1621 1422h10M1691 1390h10M1660 1325h10M1565 1389h10"/><path stroke="#86cc85" stroke-width="10" d="M1245 1360h10M1370 1379h10M1209 1423h10M1311 1385h10M1255 1319h10M1362 1388h10M1197 1439h10M1384 1437h10M1408 1345h10M1265 1419h10M1229 1402h10M1308 1423h10M1375 1441h10M1243 1406h10M1324 1353h10M1387 1360h10M1358 1401h10M1318 1390h10M1248 1378h10M1212 1435h10M1325 1394h10M1296 1415h10M1267 1356h10M1242 1421h10M1275 1323h10M1381 1358h10M1208 1414h10M1311 1383h10M1377 1412h10M1213 1424h10M1292 1315h10M1270 1476h10M1270 1395h10M1343 1378h10M1259 1390h10M1302 1371h10M1363 1361h10M1375 1386h10M1192 1428h10M1247 1454h10M1419 1395h10M1246 1373h10M1279 1407h10M1209 1419h10M1336 1437h10M1309 1416h10M1212 1342h10M1266 1396h10M1352 1414h10M1379 1390h10M1237 1432h10M1390 1402h10"/><path stroke="#a6a6a6" stroke-width="8" d="M1472 1404h8M1430 1372h8M1423 1404h8M1493 1401h8M1464 1343h8M1401 1383h8M1413 1383h8M1408 1248h8M1453 1328h8M1465 1353h8M1545 1401h8M1423 1402h8M1548 1307h8M1535 1373h8M1529 1313h8M1434 1388h8M1457 1394h8M1535 1351h8M1404 1393h8M1544 1361h8M1485 1422h8M1455 1365h8M1499 1408h8M1547 1397h8M1490 1393h8M1465 1356h8M1508 1353h8M1568 1374h8M1446 1414h8M1561 1364h8M1396 1398h8M1412 1370h8M1419 1428h8M1434 1357h8M1377 1428h8M1486 1360h8M1540 1349h8M1539 1389h8M1487 1396h8M1586 1388h8M1509 1379h8M1525 1418h8M1588 1372h8M1511 1461h8M1550 1408h8"/><path stroke="#aaa8d0" stroke-width="10" d="M1685 1390h10M1617 1387h10M1572 1391h10M1611 1373h10M1708 1334h10M1628 1368h10M1687 1390h10M1541 1370h10M1666 1412h10M1550 1361h10M1568 1387h10M1512 1314h10M1525 1380h10M1689 1450h10M1567 1406h10M1573 1386h10M1660 1405h10M1679 1428h10M1656 1408h10M1660 1433h10M1657 1406h10M1587 1404h10M1509 1281h10M1679 1384h10M1659 1389h10M1622 1378h10M1585 1368h10M1625 1396h10M1532 1415h10M1689 1389h10M1646 1352h10M1644 1379h10M1546 1357h10M1664 1360h10M1691 1433h10M1690 1392h10"/><path stroke="#60ba6c" stroke-width="10" d="M1374 1326h10M1245 1416h10M1301 1390h10M1309 1368h10M1254 1399h10M1400 1404h10M1246 1429h10M1221 1420h10M1237 1420h10M1366 1370h10M1346 1396h10M1350 1416h10M1358 1377h10M1392 1427h10M1374 1406h10M1424 1379h10M1321 1382h10M1363 1411h10M1265 1405h10M1272 1379h10M1198 1398h10M1347 1417h10M1369 1385h10M1351 1442h10M1416 1323h10M1231 1410h10M1260 1378h10M1348 1374h10M1310 1376h10M1341 1408h10M1216 1391h10M1250 1355h10M1240 1399h10M1258 1406h10M1251 1391h10M1373 1391h10M1254 1412h10M1384 1373h10M1209 1400h10"/><path stroke="#888888" stroke-width="8" d="M1559 1380h8M1552 1364h8M1482 1348h8M1446 1385h8M1493 1361h8M1525 1397h8M1433 1397h8M1486 1415h8M1517 1370h8M1565 1335h8M1440 1422h8M1547 1373h8M1456 1393h8M1504 1430h8M1492 1376h8M1415 1387h8M1505 1381h8M1436 1395h8M1453 1431h8M1554 1311h8M1513 1312h8M1483 1358h8M1548 1354h8M1540 1377h8M1508 1367h8M1524 1342h8M1374 1384h8M1534 1385h8M1548 1382h8M1399 1318h8"/><path stroke="#928ec2" stroke-width="10" d="M1693 1401h10M1599 1341h10M1652 1372h10M1574 1368h10M1677 1382h10M1545 1371h10M1575 1418h10M1652 1389h10M1702 1407h10M1625 1385h10M1553 1407h10M1517 1346h10M1648 1399h10M1567 1404h10M1522 1391h10M1691 1405h10M1606 1388h10M1601 1326h10M1633 1390h10M1666 1416h10M1679 1375h10M1599 1396h10M1581 1416h10M1671 1394h10M1681 1406h10M1632 1343h10M1575 1399h10M1659 1389h10M1596 1415h10M1665 1399h10M1658 1426h10M1564 1471h10M1588 1384h10M1592 1375h10"/><path stroke="#3ba558" stroke-width="10" d="M1237 1427h10M1358 1407h10M1411 1439h10M1233 1438h10M1265 1418h10M1390 1413h10M1270 1406h10M1365 1427h10M1308 1395h10M1265 1433h10M1206 1436h10M1308 1409h10M1267 1395h10M1268 1429h10M1296 1403h10M1223 1398h10M1308 1408h10M1315 1398h10M1264 1419h10M1312 1391h10M1312 1371h10M1272 1398h10M1232 1316h10M1315 1393h10M1417 1374h10M1234 1395h10M1317 1417h10M1284 1438h10M1372 1404h10M1259 1396h10M1321 1401h10M1411 1408h10"/><path stroke="#6c6c6c" stroke-width="8" d="M1553 1361h8M1470 1378h8M1443 1389h8M1458 1402h8M1440 1432h8M1511 1397h8M1459 1408h8M1455 1430h8M1467 1378h8M1482 1384h8M1473 1396h8M1526 1387h8M1476 1375h8M1440 1413h8M1536 1381h8M1398 1380h8M1442 1424h8M1475 1369h8M1408 1370h8M1410 1398h8M1444 1382h8"/><path stroke="#7c74b5" stroke-width="10" d="M1655 1358h10M1620 1362h10M1620 1379h10M1579 1383h10M1624 1400h10M1700 1410h10M1645 1364h10M1644 1368h10M1636 1401h10M1679 1382h10M1591 1399h10M1673 1388h10M1663 1367h10M1655 1367h10M1578 1376h10M1678 1378h10M1672 1382h10M1612 1406h10M1649 1349h10M1519 1385h10M1577 1402h10M1670 1443h10M1605 1353h10M1640 1401h10M1694 1381h10M1598 1400h10M1655 1368h10"/><path stroke="#238b45" stroke-width="10" d="M1295 1403h10M1274 1414h10M1213 1394h10M1244 1398h10M1205 1418h10M1307 1377h10M1286 1416h10M1257 1407h10M1307 1394h10M1266 1399h10M1215 1390h10M1387 1400h10M1270 1394h10M1303 1377h10M1283 1393h10M1211 1405h10M1320 1391h10M1320 1405h10M1305 1416h10M1392 1400h10"/><path stroke="#525252" stroke-width="8" d="M1438 1370h8M1466 1376h8M1499 1400h8M1497 1396h8M1506 1380h8M1512 1394h8M1534 1366h8M1438 1351h8M1459 1385h8M1482 1395h8M1552 1397h8M1449 1393h8M1517 1386h8M1529 1398h8"/><path stroke="#6a51a3" stroke-width="10" d="M1532 1401h10M1660 1418h10M1641 1403h10M1615 1374h10M1640 1406h10M1630 1399h10M1622 1388h10M1639 1370h10M1634 1362h10M1619 1376h10M1615 1386h10M1662 1374h10M1583 1387h10M1524 1370h10M1605 1397h10M1670 1365h10M1622 1404h10M1639 1403h10M1666 1414h10M1604 1378h10"/><path stroke="#077331" stroke-width="10" d="M1248 1386h10M1303 1406h10M1227 1400h10M1286 1407h10M1279 1395h10M1270 1405h10M1301 1426h10M1309 1397h10M1284 1404h10M1308 1413h10M1376 1393h10M1290 1374h10"/><path stroke="#2e2e2e" stroke-width="8" d="M1488 1415h8M1448 1383h8M1493 1390h8M1561 1383h8M1413 1406h8M1496 1410h8M1433 1392h8M1536 1387h8M1478 1393h8M1413 1397h8M1485 1389h8"/><path stroke="#582f93" stroke-width="10" d="M1646 1378h10M1629 1360h10M1647 1400h10M1646 1404h10M1629 1393h10M1620 1387h10M1614 1391h10M1614 1396h10M1664 1382h10M1599 1386h10M1596 1415h10M1628 1387h10"/><path stroke="#005422" stroke-width="10" d="M1350 1419h10M1286 1395h10M1228 1412h10M1298 1401h10M1318 1390h10M1303 1427h10M1342 1403h10"/><path stroke="#0f0f0f" stroke-width="8" d="M1506 1402h8M1488 1372h8M1535 1387h8M1492 1403h8M1502 1408h8M1507 1404h8"/><path stroke="#471084" stroke-width="10" d="M1676 1377h10M1577 1413h10M1619 1368h10M1656 1373h10M1629 1397h10M1657 1377h10"/><path stroke="#dff3da" stroke-width="10" d="M1353 1483h10M1383 1401h10M1320 1308h10M1266 1297h10M1297 1418h10M1211 1455h10M1257 1414h10M1398 1337h10M1342 1413h10M1206 1402h10M1204 1412h10M1336 1278h10M1234 1432h10M1411 1419h10M1193 1416h10M1369 1254h10M1208 1304h10M1376 1453h10M1440 1462h10M1202 1390h10M1389 1293h10M1218 1336h10M1416 1412h10M1397 1385h10M1332 1502h10M1233 1284h10M1280 1334h10M1403 1429h10M1256 1431h10M1365 1429h10M1215 1425h10M1347 1473h10M1316 1345h10M1224 1392h10M1295 1434h10M1413 1263h10M1328 1320h10M1300 1255h10M1223 1292h10M1277 1456h10M1431 1468h10M1353 1377h10M1374 1285h10M1345 1439h10M1408 1249h10M1375 1459h10M1319 1299h10M1232 1438h10M1402 1295h10M1415 1471h10M1320 1290h10M1340 1469h10M1225 1294h10M1378 1251h10M1432 1400h10M1328 1300h10M1293 1313h10M1228 1350h10M1298 1342h10M1382 1403h10M1302 1258h10M1376 1333h10M1187 1281h10M1266 1424h10M1401 1350h10M1369 1338h10M1384 1447h10M1191 1353h10M1440 1264h10M1326 1298h10M1344 1431h10M1291 1436h10M1211 1440h10M1427 1428h10M1360 1301h10M1350 1478h10M1341 1253h10M1257 1330h10M1350 1406h10M1425 1378h10M1278 1477h10M1426 1446h10M1284 1343h10"/><path stroke="#ebebeb" stroke-width="8" d="M1470 1309h8M1525 1416h8M1423 1325h8M1549 1430h8M1541 1262h8M1449 1247h8M1483 1294h8M1530 1312h8M1542 1481h8M1533 1412h8M1392 1395h8M1435 1308h8M1542 1430h8M1388 1351h8M1556 1320h8M1510 1309h8M1541 1405h8M1498 1442h8M1521 1292h8M1463 1433h8M1487 1312h8M1520 1278h8M1452 1258h8M1443 1434h8M1495 1283h8M1394 1411h8M1479 1276h8M1560 1335h8M1419 1378h8M1507 1259h8M1543 1451h8M1551 1389h8M1546 1377h8M1575 1366h8M1423 1446h8M1544 1316h8M1447 1320h8M1517 1251h8M1568 1292h8M1481 1328h8M1426 1420h8M1513 1470h8M1508 1419h8M1440 1423h8M1435 1451h8M1525 1440h8M1403 1368h8M1432 1274h8M1570 1378h8M1504 1311h8M1559 1421h8M1547 1311h8M1544 1256h8M1490 1269h8M1546 1344h8M1401 1394h8M1560 1437h8M1400 1260h8M1583 1372h8M1558 1437h8M1543 1451h8M1516 1278h8M1512 1300h8M1406 1304h8M1523 1447h8M1428 1305h8M1457 1412h8M1454 1296h8M1523 1413h8M1404 1307h8M1403 1440h8M1589 1320h8M1403 1370h8M1403 1407h8M1433 1263h8M1524 1302h8M1549 1413h8"/><path stroke="#ebe9f3" stroke-width="10" d="M1517 1322h10M1587 1350h10M1551 1285h10M1682 1354h10M1669 1453h10M1550 1340h10M1674 1317h10M1550 1309h10M1702 1381h10M1676 1331h10M1705 1421h10M1626 1450h10M1696 1432h10M1526 1356h10M1702 1403h10M1633 1347h10M1529 1484h10M1503 1326h10M1651 1458h10M1625 1293h10M1643 1338h10M1589 1258h10M1614 1324h10M1612 1255h10M1531 1423h10M1709 1374h10M1531 1323h10M1696 1481h10M1698 1275h10M1679 1341h10M1536 1429h10M1674 1447h10M1581 1444h10M1542 1302h10M1532 1327h10M1524 1279h10M1591 1254h10M1643 1418h10M1684 1313h10M1721 1365h10M1529 1425h10M1636 1252h10M1545 1301h10M1659 1333h10M1566 1370h10M1709 1385h10M1507 1423h10M1548 1372h10M1621 1271h10M1564 1443h10M1587 1411h10M1586 1272h10M1513 1368h10M1564 1314h10M1625 1313h10M1659 1327h10M1706 1450h10M1705 1484h10M1669 1304h10M1579 1333h10M1708 1466h10M1597 1265h10M1541 1331h10M1700 1312h10M1618 1317h10M1586 1316h10M1594 1426h10M1594 1249h10M1592 1324h10M1630 1365h10M1571 1296h10M1721 1366h10M1649 1339h10M1529 1325h10M1592 1322h10M1589 1352h10"/><path stroke="#c7e9c0" stroke-width="10" d="M1349 1385h10M1232 1404h10M1341 1404h10M1355 1443h10M1420 1444h10M1261 1428h10M1203 1386h10M1245 1464h10M1357 1329h10M1248 1390h10M1318 1416h10M1247 1452h10M1261 1395h10M1250 1406h10M1335 1384h10M1360 1415h10M1307 1459h10M1414 1252h10M1428 1390h10M1395 1423h10M1285 1355h10M1222 1321h10M1268 1428h10M1376 1439h10M1196 1339h10M1390 1462h10M1384 1430h10M1353 1430h10M1261 1408h10M1281 1449h10M1260 1346h10M1268 1407h10M1310 1454h10M1297 1422h10M1351 1312h10M1360 1347h10M1323 1348h10M1342 1430h10M1218 1401h10M1375 1421h10M1373 1418h10M1416 1392h10M1267 1416h10M1231 1408h10M1241 1382h10M1286 1446h10M1355 1414h10M1362 1333h10M1303 1397h10M1279 1292h10M1422 1434h10M1341 1301h10M1232 1400h10M1351 1409h10M1254 1433h10M1328 1311h10M1314 1411h10M1255 1356h10M1217 1372h10M1373 1358h10M1219 1360h10M1401 1323h10M1312 1320h10M1400 1450h10M1256 1361h10M1390 1330h10M1306 1357h10"/><path stroke="#d9d9d9" stroke-width="8" d="M1579 1413h8M1425 1414h8M1481 1315h8M1407 1297h8M1520 1327h8M1426 1302h8M1570 1394h8M1467 1357h8M1470 1438h8M1396 1396h8M1520 1403h8M1476 1326h8M1437 1257h8M1480 1399h8M1425 1263h8M1451 1351h8M1476 1330h8M1421 1421h8M1491 1386h8M1524 1401h8M1424 1429h8M1393 1336h8M1408 1392h8M1442 1346h8M1441 1369h8M1465 1405h8M1492 1415h8M1521 1253h8M1469 1397h8M1444 1348h8M1521 1324h8M1545 1349h8M1507 1408h8M1524 1314h8M1585 1263h8M1464 1468h8M1395 1379h8M1461 1336h8M1470 1305h8M1544 1371h8M1405 1386h8M1400 1371h8M1458 1489h8M1414 1378h8M1427 1331h8M1421 1414h8M1431 1325h8M1424 1394h8M1507 1492h8M1411 1408h8M1400 1404h8M1426 1306h8M1487 1376h8M1571 1370h8M1568 1411h8M1572 1378h8M1454 1439h8M1416 1327h8M1426 1434h8M1430 1429h8M1407 1302h8M1456 1390h8M1440 1378h8M1518 1429h8"/><path stroke="#dadaeb" stroke-width="10" d="M1535 1319h10M1610 1423h10M1582 1302h10M1592 1339h10M1559 1351h10M1526 1361h10M1574 1378h10M1658 1405h10M1671 1395h10M1624 1315h10M1694 1345h10M1543 1292h10M1655 1353h10M1592 1402h10M1714 1385h10M1581 1363h10M1668 1427h10M1563 1308h10M1578 1383h10M1677 1387h10M1633 1378h10M1638 1400h10M1657 1391h10M1644 1421h10M1556 1353h10M1696 1419h10M1617 1324h10M1563 1402h10M1525 1406h10M1563 1451h10M1670 1391h10M1511 1443h10M1554 1354h10M1709 1465h10M1588 1391h10M1526 1283h10M1631 1418h10M1640 1439h10M1548 1341h10M1559 1359h10M1602 1434h10M1661 1323h10M1534 1378h10M1651 1326h10M1526 1366h10M1567 1304h10M1566 1386h10M1670 1368h10M1629 1427h10M1622 1403h10M1574 1427h10M1556 1382h10M1713 1400h10M1686 1359h10M1541 1443h10M1692 1282h10M1682 1297h10M1574 1370h10"/><path stroke="#a9dca2" stroke-width="10" d="M1226 1418h10M1191 1400h10M1291 1384h10M1214 1378h10M1250 1430h10M1406 1363h10M1312 1353h10M1256 1442h10M1247 1391h10M1305 1450h10M1232 1415h10M1221 1387h10M1391 1379h10M1291 1271h10M1242 1413h10M1329 1372h10M1243 1430h10M1347 1362h10M1365 1419h10M1238 1324h10M1327 1392h10M1290 1423h10M1309 1350h10M1316 1377h10M1329 1297h10M1195 1398h10M1335 1343h10M1229 1350h10M1350 1385h10M1233 1362h10M1221 1346h10M1222 1331h10M1380 1358h10M1200 1335h10M1414 1406h10M1414 1341h10M1286 1430h10M1371 1352h10M1254 1454h10M1350 1382h10M1385 1358h10M1261 1454h10M1368 1448h10M1281 1355h10M1340 1416h10M1344 1440h10M1414 1386h10M1424 1415h10M1335 1420h10M1305 1390h10M1210 1361h10M1359 1438h10M1316 1382h10M1283 1371h10M1272 1337h10M1243 1430h10M1236 1399h10M1427 1294h10"/><path stroke="#c3c3c3" stroke-width="8" d="M1496 1428h8M1440 1357h8M1507 1334h8M1403 1395h8M1460 1432h8M1420 1368h8M1503 1313h8M1465 1426h8M1446 1413h8M1482 1341h8M1537 1363h8M1587 1401h8M1456 1267h8M1492 1353h8M1561 1393h8M1572 1363h8M1488 1342h8M1481 1400h8M1485 1369h8M1433 1403h8M1479 1385h8M1435 1383h8M1397 1386h8M1490 1348h8M1469 1308h8M1445 1405h8M1483 1354h8M1504 1395h8M1517 1380h8M1504 1405h8M1532 1343h8M1478 1389h8M1502 1353h8M1424 1336h8M1489 1369h8M1424 1321h8M1568 1396h8M1435 1392h8M1583 1397h8M1487 1328h8M1525 1440h8M1499 1425h8M1566 1349h8M1472 1434h8M1543 1387h8M1449 1431h8M1425 1407h8M1534 1369h8M1461 1402h8M1461 1334h8M1583 1396h8M1543 1410h8M1522 1327h8M1500 1329h8M1457 1382h8M1426 1389h8M1448 1359h8M1521 1397h8M1448 1415h8M1510 1377h8M1519 1439h8M1464 1440h8M1506 1349h8"/><path stroke="#c2c3df" stroke-width="10" d="M1693 1366h10M1643 1393h10M1529 1424h10M1582 1405h10M1642 1384h10M1715 1366h10M1587 1415h10M1636 1409h10M1623 1390h10M1586 1420h10M1519 1400h10M1556 1381h10M1714 1419h10M1629 1361h10M1590 1392h10M1532 1390h10M1605 1411h10M1656 1427h10M1714 1334h10M1568 1352h10M1667 1405h10M1610 1275h10M1618 1402h10M1605 1365h10M1627 1438h10M1701 1379h10M1561 1387h10M1701 1351h10M1695 1387h10M1621 1472h10M1544 1401h10M1604 1316h10M1550 1380h10M1524 1403h10M1721 1386h10M1679 1415h10M1702 1353h10M1596 1393h10M1700 1373h10M1719 1410h10M1547 1324h10M1619 1366h10M1606 1382h10M1633 1405h10M1714 1455h10M1580 1367h10M1642 1421h10M1569 1313h10M1660 1410h10M1675 1394h10M1680 1410h10M1607 1360h10M1669 1434h10M1537 1335h10M1591 1362h10M1571 1409h10M1622 1409h10M1643 1371h10M1597 1421h10M1640 1423h10M1693 1404h10M1644 1379h10M1609 1375h10M1628 1388h10"/><path stroke="#86cc85" stroke-width="10" d="M1364 1403h10M1341 1396h10M1228 1451h10M1300 1434h10M1396 1398h10M1395 1362h10M1266 1293h10M1219 1387h10M1304 1306h10M1317 1396h10M1246 1438h10M1311 1467h10M1395 1412h10M1396 1410h10M1239 1413h10M1227 1422h10M1350 1345h10M1403 1370h10M1251 1430h10M1424 1370h10M1402 1447h10M1384 1414h10M1300 1459h10M1219 1391h10M1281 1393h10M1362 1354h10M1281 1381h10M1353 1424h10M1312 1421h10M1233 1394h10M1410 1314h10M1329 1377h10M1272 1292h10M1246 1410h10M1373 1394h10M1355 1361h10M1321 1445h10M1375 1404h10M1207 1400h10M1287 1383h10M1240 1438h10M1320 1452h10M1341 1330h10M1373 1294h10M1371 1383h10M1210 1398h10M1390 1471h10M1332 1332h10M1289 1367h10M1250 1409h10M1296 1393h10"/><path stroke="#a6a6a6" stroke-width="8" d="M1580 1386h8M1557 1438h8M1508 1403h8M1476 1358h8M1510 1348h8M1561 1412h8M1456 1395h8M1421 1436h8M1565 1352h8M1452 1390h8M1423 1411h8M1495 1395h8M1379 1460h8M1446 1383h8M1454 1315h8M1547 1425h8M1515 1377h8M1477 1423h8M1455 1248h8M1464 1356h8M1495 1378h8M1453 1371h8M1497 1254h8M1466 1277h8M1436 1402h8M1545 1374h8M1401 1388h8M1511 1397h8M1520 1374h8M1481 1380h8M1472 1418h8M1399 1411h8M1464 1331h8M1399 1446h8M1572 1282h8M1484 1397h8M1518 1393h8M1556 1390h8M1486 1411h8M1455 1366h8M1468 1423h8M1469 1393h8M1483 1362h8M1510 1344h8M1419 1418h8"/><path stroke="#aaa8d0" stroke-width="10" d="M1681 1359h10M1709 1324h10M1589 1329h10M1623 1414h10M1630 1315h10M1560 1371h10M1572 1339h10M1595 1402h10M1559 1418h10M1605 1336h10M1529 1288h10M1593 1349h10M1657 1375h10M1614 1363h10M1620 1389h10M1590 1385h10M1630 1424h10M1628 1401h10M1534 1284h10M1627 1281h10M1572 1390h10M1678 1414h10M1675 1384h10M1599 1390h10M1598 1405h10M1556 1261h10M1703 1364h10M1597 1365h10M1634 1427h10M1536 1426h10M1567 1378h10M1587 1354h10M1630 1331h10M1676 1361h10M1570 1507h10M1699 1344h10"/><path stroke="#60ba6c" stroke-width="10" d="M1359 1443h10M1377 1385h10M1353 1375h10M1270 1357h10M1385 1385h10M1246 1370h10M1402 1366h10M1413 1421h10M1309 1431h10M1265 1381h10M1403 1419h10M1405 1413h10M1310 1316h10M1357 1434h10M1371 1310h10M1348 1372h10M1343 1406h10M1372 1428h10M1305 1335h10M1241 1426h10M1296 1398h10M1318 1362h10M1396 1426h10M1203 1394h10M1348 1410h10M1263 1355h10M1320 1402h10M1376 1419h10M1409 1434h10M1397 1376h10M1270 1318h10M1312 1361h10M1261 1430h10M1368 1440h10M1183 1392h10M1341 1404h10M1264 1409h10M1419 1359h10M1228 1396h10"/><path stroke="#888888" stroke-width="8" d="M1461 1383h8M1524 1374h8M1563 1412h8M1410 1375h8M1521 1418h8M1506 1390h8M1529 1387h8M1399 1352h8M1526 1380h8M1463 1382h8M1486 1382h8M1495 1377h8M1449 1356h8M1520 1397h8M1504 1396h8M1421 1403h8M1412 1387h8M1552 1420h8M1442 1410h8M1467 1375h8M1594 1379h8M1420 1402h8M1542 1365h8M1554 1352h8M1427 1366h8M1496 1410h8M1552 1363h8M1414 1366h8M1555 1389h8"/><path stroke="#928ec2" stroke-width="10" d="M1604 1350h10M1637 1414h10M1631 1388h10M1617 1409h10M1594 1441h10M1631 1413h10M1635 1346h10M1615 1339h10M1667 1348h10M1616 1362h10M1648 1400h10M1564 1382h10M1557 1400h10M1580 1333h10M1522 1414h10M1536 1414h10M1646 1413h10M1574 1380h10M1520 1364h10M1553 1383h10M1564 1372h10M1696 1395h10M1650 1407h10M1642 1360h10M1653 1403h10M1716 1339h10M1579 1414h10M1590 1393h10M1534 1388h10M1524 1384h10M1575 1352h10M1674 1408h10M1632 1365h10M1635 1410h10"/><path stroke="#3ba558" stroke-width="10" d="M1282 1396h10M1276 1392h10M1301 1401h10M1284 1410h10M1400 1379h10M1235 1382h10M1263 1363h10M1289 1436h10M1256 1401h10M1330 1436h10M1308 1432h10M1259 1427h10M1340 1391h10M1292 1442h10M1285 1378h10M1349 1382h10M1321 1412h10M1371 1421h10M1357 1351h10M1303 1428h10M1288 1370h10M1275 1386h10M1206 1395h10M1390 1396h10M1270 1392h10M1333 1418h10M1298 1433h10M1338 1410h10M1237 1391h10M1248 1381h10M1393 1414h10M1219 1368h10"/><path stroke="#6c6c6c" stroke-width="8" d="M1498 1391h8M1424 1367h8M1507 1406h8M1435 1404h8M1430 1357h8M1499 1390h8M1401 1366h8M1455 1402h8M1506 1376h8M1465 1407h8M1468 1381h8M1457 1348h8M1451 1399h8M1485 1376h8M1502 1395h8M1470 1393h8M1446 1428h8M1565 1361h8M1471 1357h8M1473 1414h8M1495 1418h8"/><path stroke="#7c74b5" stroke-width="10" d="M1611 1385h10M1597 1400h10M1645 1420h10M1613 1367h10M1574 1381h10M1621 1352h10M1575 1377h10M1589 1389h10M1623 1344h10M1641 1344h10M1609 1374h10M1587 1417h10M1560 1409h10M1652 1351h10M1647 1368h10M1595 1336h10M1608 1346h10M1572 1345h10M1716 1379h10M1543 1391h10M1655 1354h10M1649 1371h10M1637 1360h10M1618 1368h10M1573 1379h10M1643 1414h10M1609 1369h10"/><path stroke="#238b45" stroke-width="10" d="M1248 1440h10M1280 1382h10M1249 1417h10M1208 1412h10M1301 1419h10M1312 1402h10M1299 1421h10M1298 1397h10M1368 1394h10M1286 1383h10M1336 1406h10M1335 1429h10M1272 1401h10M1266 1423h10M1304 1364h10M1352 1352h10M1385 1354h10M1338 1429h10M1242 1398h10"/><path stroke="#525252" stroke-width="8" d="M1480 1417h8M1534 1395h8M1491 1405h8M1399 1399h8M1479 1402h8M1444 1387h8M1523 1381h8M1512 1382h8M1507 1395h8M1518 1345h8M1508 1392h8M1452 1403h8M1471 1369h8M1472 1380h8"/><path stroke="#6a51a3" stroke-width="10" d="M1658 1395h10M1625 1375h10M1631 1376h10M1549 1368h10M1635 1349h10M1618 1392h10M1641 1367h10M1657 1392h10M1660 1375h10M1645 1369h10M1689 1344h10M1605 1388h10M1614 1387h10M1594 1410h10M1678 1387h10M1643 1375h10M1664 1353h10M1653 1387h10M1568 1396h10"/><path stroke="#077331" stroke-width="10" d="M1373 1401h10M1325 1392h10M1290 1433h10M1207 1393h10M1215 1396h10M1239 1400h10M1306 1406h10M1270 1429h10M1357 1412h10M1357 1358h10M1298 1392h10M1297 1391h10"/><path stroke="#2e2e2e" stroke-width="8" d="M1484 1398h8M1501 1385h8M1456 1396h8M1516 1384h8M1429 1367h8M1462 1404h8M1554 1393h8M1465 1386h8M1512 1391h8M1496 1360h8"/><path stroke="#582f93" stroke-width="10" d="M1594 1401h10M1625 1362h10M1612 1385h10M1670 1356h10M1676 1397h10M1638 1373h10M1658 1373h10M1633 1383h10M1609 1393h10M1612 1382h10M1609 1390h10"/><path stroke="#005422" stroke-width="10" d="M1237 1407h10M1272 1411h10M1266 1389h10M1282 1413h10M1340 1413h10M1275 1417h10"/><path stroke="#0f0f0f" stroke-width="8" d="M1545 1399h8M1479 1390h8M1487 1406h8M1452 1387h8M1445 1382h8M1440 1390h8"/><path stroke="#471084" stroke-width="10" d="M1652 1364h10M1669 1367h10M1629 1394h10M1605 1374h10M1625 1372h10M1674 1372h10"/></g></g>
<rect x="237.4" y="249.0" width="108.00" height="69.00" fill="none" stroke="#444" stroke-width="0.8"/>
<path d="M235.10 261.60H237.4" stroke="#444" stroke-width="0.8"/>
<text x="231.90" y="263.85" font-size="6.3" text-anchor="end" letter-spacing="0.35">1.2</text>
<path d="M235.10 277.57H237.4" stroke="#444" stroke-width="0.8"/>
<text x="231.90" y="279.82" font-size="6.3" text-anchor="end" letter-spacing="0.35">1.0</text>
<path d="M235.10 293.53H237.4" stroke="#444" stroke-width="0.8"/>
<text x="231.90" y="295.78" font-size="6.3" text-anchor="end" letter-spacing="0.35">0.8</text>
<path d="M235.10 309.50H237.4" stroke="#444" stroke-width="0.8"/>
<text x="231.90" y="311.75" font-size="6.3" text-anchor="end" letter-spacing="0.35">0.6</text>
<path d="M247.80 318.0V320.30" stroke="#444" stroke-width="0.8"/>
<text x="247.97" y="327.00" font-size="6.3" text-anchor="middle" letter-spacing="0.35">2</text>
<path d="M269.43 318.0V320.30" stroke="#444" stroke-width="0.8"/>
<text x="269.60" y="327.00" font-size="6.3" text-anchor="middle" letter-spacing="0.35">1</text>
<path d="M291.05 318.0V320.30" stroke="#444" stroke-width="0.8"/>
<text x="291.22" y="327.00" font-size="6.3" text-anchor="middle" letter-spacing="0.35">0</text>
<path d="M312.68 318.0V320.30" stroke="#444" stroke-width="0.8"/>
<text x="312.85" y="327.00" font-size="6.3" text-anchor="middle" letter-spacing="0.35">23</text>
<path d="M334.30 318.0V320.30" stroke="#444" stroke-width="0.8"/>
<text x="334.47" y="327.00" font-size="6.3" text-anchor="middle" letter-spacing="0.35">22</text>
<text x="291.40" y="334.50" font-size="6.3" text-anchor="middle">R.A. (hour)</text>
<text x="0" y="0" font-size="6.5" text-anchor="middle" transform="translate(219.80,280.75) rotate(-90)">Predicted-to-Measured</text>
<text x="293.65" y="242.50" font-size="8.8" text-anchor="middle">Az, El = (270.0, 83.2) deg</text>
<clipPath id="cB3"><rect x="77.5" y="343.5" width="110.5" height="70.80000000000001"/></clipPath>
<g clip-path="url(#cB3)"><g filter="url(#bl)" transform="scale(0.2)"><path stroke="#dff3da" stroke-width="10" d="M842 1817h10M842 1893h10M803 1875h10M845 1904h10M503 1827h10M832 1913h10M609 1825h10M694 1803h10M444 1870h10M840 1801h10M484 1859h10M785 1850h10M668 1898h10M898 1889h10M826 1849h10M669 1898h10M780 1800h10M848 1895h10M725 1792h10M645 1923h10M493 1851h10M686 1801h10M681 1926h10M470 1798h10M853 1909h10M853 1817h10M481 1848h10M785 1806h10M825 1851h10M505 1859h10M563 1797h10M785 1780h10M782 1920h10M795 1810h10M471 1908h10M469 1817h10M721 1851h10M444 1845h10M615 1887h10M499 1823h10M756 1825h10M757 1893h10M504 1910h10"/><path stroke="#ebebeb" stroke-width="8" d="M417 1861h8M651 1843h8M519 1891h8M817 1838h8M706 1746h8M635 1864h8M795 1721h8M462 1871h8M807 1732h8M812 1866h8M662 1747h8M546 1858h8M423 1845h8M717 1723h8M458 1868h8M435 1887h8M554 1852h8M699 1812h8M539 1793h8M479 1896h8M453 1871h8M752 1903h8M443 1811h8M714 1926h8M746 1905h8M741 1747h8M617 1904h8M461 1861h8M605 1853h8M578 1722h8M532 1859h8M498 1772h8M779 1785h8M755 1850h8M439 1881h8M825 1845h8M858 1813h8M415 1874h8M520 1743h8M460 1868h8M469 1741h8M429 1885h8M514 1908h8M732 1899h8M698 1859h8M607 1889h8M840 1846h8M781 1834h8M537 1816h8M437 1853h8M441 1815h8M490 1856h8M867 1798h8M769 1882h8M462 1867h8M890 1854h8M887 1815h8M714 1732h8M616 1808h8M466 1824h8M501 1721h8M557 1839h8M473 1884h8M498 1907h8M648 1833h8M829 1832h8M697 1734h8M884 1786h8M501 1885h8M422 1845h8M806 1768h8M693 1771h8M735 1721h8M673 1891h8M629 1877h8M841 1898h8M425 1836h8M556 1901h8M531 1781h8M535 1896h8M867 1872h8M438 1789h8M430 1827h8M493 1878h8M500 1760h8M627 1812h8M486 1824h8M422 1817h8M475 1809h8M617 1736h8M461 1837h8M502 1818h8"/><path stroke="#ebe9f3" stroke-width="10" d="M519 1878h10M849 1848h10M626 1790h10M479 1781h10M687 1796h10M607 1798h10M778 1866h10M469 1831h10M507 1908h10M450 1916h10M811 1874h10M495 1821h10M779 1909h10M565 1758h10M736 1914h10M887 1884h10M768 1838h10M455 1796h10M835 1894h10M871 1889h10M464 1896h10M562 1886h10M726 1832h10M489 1917h10M633 1838h10M468 1937h10M437 1911h10M578 1840h10M734 1911h10M536 1920h10M451 1862h10M875 1838h10M885 1842h10M446 1859h10M667 1813h10M458 1813h10M785 1909h10M528 1954h10M421 1908h10M780 1798h10M891 1879h10M477 1858h10M473 1889h10M498 1919h10M445 1817h10M521 1823h10M472 1900h10M861 1815h10M757 1817h10M443 1849h10M467 1917h10M890 1894h10M504 1805h10M770 1928h10M813 1813h10"/><path stroke="#c7e9c0" stroke-width="10" d="M767 1778h10M521 1888h10M447 1862h10M795 1869h10M537 1886h10M513 1800h10M555 1839h10M507 1857h10M682 1888h10M621 1927h10M743 1853h10M458 1817h10M499 1850h10M486 1833h10M609 1883h10M520 1898h10M683 1893h10M791 1800h10M569 1835h10M580 1903h10M841 1796h10M867 1850h10M832 1822h10M840 1875h10M552 1897h10M539 1860h10M721 1893h10M841 1850h10M668 1885h10M849 1885h10M498 1911h10M898 1853h10M605 1879h10M561 1861h10M706 1869h10M568 1911h10M492 1856h10M642 1891h10M606 1884h10M826 1825h10M855 1873h10M811 1848h10M816 1886h10M552 1852h10M727 1799h10M737 1884h10M548 1841h10M471 1865h10M458 1842h10M460 1863h10M761 1807h10M805 1916h10M825 1874h10M546 1843h10M827 1872h10M705 1821h10M622 1848h10M801 1863h10M785 1832h10M650 1875h10M499 1863h10M499 1816h10M870 1887h10M853 1891h10M731 1874h10M778 1907h10M801 1826h10M507 1803h10M897 1862h10M457 1874h10M801 1878h10M750 1778h10"/><path stroke="#d9d9d9" stroke-width="8" d="M736 1833h8M637 1858h8M724 1780h8M716 1838h8M672 1904h8M710 1824h8M559 1849h8M534 1870h8M615 1887h8M471 1793h8M696 1857h8M570 1874h8M553 1811h8M657 1745h8M601 1801h8M550 1820h8M441 1870h8M605 1873h8M838 1822h8M816 1810h8M565 1768h8M865 1794h8M662 1877h8M850 1780h8M626 1787h8M501 1880h8M546 1883h8M673 1855h8M493 1867h8M499 1830h8M665 1782h8M747 1868h8M754 1861h8M659 1854h8M662 1888h8M678 1739h8M590 1822h8M627 1884h8M709 1791h8M478 1755h8M726 1887h8M535 1765h8M836 1791h8M666 1845h8M563 1841h8M818 1753h8M472 1771h8M835 1770h8M823 1857h8M546 1840h8M463 1738h8M588 1846h8M559 1764h8M597 1808h8M760 1853h8M470 1826h8M562 1894h8M606 1864h8M620 1849h8"/><path stroke="#dadaeb" stroke-width="10" d="M721 1779h10M539 1840h10M526 1872h10M737 1883h10M725 1876h10M779 1923h10M590 1871h10M709 1772h10M676 1889h10M736 1875h10M546 1835h10M797 1848h10M667 1824h10M657 1875h10M525 1823h10M836 1856h10M719 1884h10M840 1896h10M742 1840h10M563 1882h10M784 1825h10M493 1814h10M573 1855h10M787 1911h10M751 1871h10M676 1905h10M646 1763h10M759 1836h10M652 1922h10M432 1880h10M548 1865h10M472 1792h10M665 1840h10M817 1946h10M493 1867h10M841 1880h10M617 1867h10M491 1870h10M580 1880h10M636 1923h10M414 1823h10M733 1805h10M874 1885h10M760 1783h10M805 1866h10M824 1892h10"/><path stroke="#a9dca2" stroke-width="10" d="M584 1872h10M807 1826h10M662 1841h10M758 1824h10M504 1888h10M538 1846h10M480 1830h10M536 1825h10M719 1809h10M843 1821h10M568 1817h10M844 1912h10M719 1877h10M756 1887h10M798 1845h10M626 1816h10M699 1807h10M535 1857h10M594 1844h10M816 1906h10M686 1787h10M540 1859h10M732 1828h10M809 1854h10M512 1861h10M780 1911h10M501 1820h10M865 1852h10M572 1908h10M674 1879h10M751 1872h10M792 1857h10M896 1870h10M733 1896h10M614 1924h10M778 1784h10M480 1863h10M686 1894h10M572 1922h10M735 1887h10M496 1799h10M825 1900h10M612 1821h10M445 1833h10M499 1889h10M811 1868h10M867 1851h10M619 1856h10M569 1896h10M512 1888h10M680 1884h10"/><path stroke="#c3c3c3" stroke-width="8" d="M602 1859h8M781 1807h8M745 1881h8M584 1802h8M431 1872h8M660 1832h8M782 1731h8M681 1904h8M524 1869h8M521 1893h8M751 1859h8M465 1813h8M834 1799h8M486 1904h8M516 1757h8M677 1785h8M663 1846h8M825 1865h8M669 1896h8M731 1794h8M599 1823h8M690 1841h8M474 1805h8M476 1862h8M685 1857h8M645 1856h8M772 1829h8M595 1755h8M672 1856h8M672 1850h8M617 1848h8M810 1841h8M415 1882h8M786 1817h8M652 1901h8M494 1888h8M668 1730h8M431 1844h8M419 1853h8M731 1813h8M723 1792h8M684 1898h8M610 1818h8M485 1859h8M794 1744h8"/><path stroke="#c2c3df" stroke-width="10" d="M657 1871h10M534 1845h10M568 1896h10M514 1856h10M563 1850h10M728 1902h10M504 1923h10M464 1849h10M449 1903h10M539 1925h10M819 1811h10M549 1803h10M673 1878h10M860 1855h10M734 1842h10M708 1910h10M723 1872h10M845 1882h10M410 1873h10M484 1949h10M740 1882h10M679 1871h10M564 1837h10M750 1874h10M567 1907h10M699 1878h10M707 1803h10M838 1879h10M839 1918h10M512 1825h10M503 1925h10M801 1832h10M495 1863h10M597 1881h10"/><path stroke="#86cc85" stroke-width="10" d="M619 1834h10M562 1830h10M735 1867h10M794 1854h10M770 1783h10M736 1818h10M514 1833h10M622 1866h10M607 1854h10M738 1846h10M701 1906h10M847 1865h10M486 1887h10M715 1868h10M867 1805h10M537 1825h10M705 1829h10M654 1828h10M854 1881h10M827 1844h10M616 1813h10M639 1819h10M681 1835h10M689 1884h10M861 1800h10M507 1845h10M644 1885h10M577 1887h10M761 1823h10M806 1801h10M573 1896h10M697 1858h10M509 1886h10M732 1874h10M507 1885h10M687 1909h10M605 1817h10M826 1836h10M864 1819h10M742 1821h10M696 1820h10M487 1871h10M562 1825h10M854 1856h10M738 1820h10M491 1843h10M680 1899h10"/><path stroke="#a6a6a6" stroke-width="8" d="M461 1877h8M489 1763h8M824 1860h8M555 1836h8M842 1852h8M453 1859h8M733 1859h8M386 1840h8M842 1873h8M522 1863h8M791 1889h8M696 1746h8M579 1797h8M612 1802h8M459 1882h8M516 1867h8M686 1863h8M632 1887h8M824 1858h8M839 1868h8M552 1858h8M601 1837h8M781 1827h8M687 1852h8M637 1865h8M825 1859h8M708 1848h8M687 1803h8M735 1855h8M723 1857h8M679 1796h8M430 1857h8M604 1812h8M633 1829h8M592 1868h8"/><path stroke="#aaa8d0" stroke-width="10" d="M424 1859h10M538 1819h10M567 1827h10M586 1962h10M586 1854h10M608 1822h10M861 1846h10M811 1788h10M692 1894h10M437 1847h10M717 1825h10M621 1921h10M789 1887h10M481 1830h10M644 1830h10M831 1933h10M467 1880h10M735 1798h10M722 1904h10M608 1896h10M810 1865h10M552 1865h10"/><path stroke="#60ba6c" stroke-width="10" d="M831 1839h10M460 1865h10M802 1898h10M818 1825h10M587 1904h10M469 1838h10M506 1884h10M825 1858h10M579 1890h10M854 1858h10M763 1900h10M520 1897h10M571 1858h10M885 1840h10M475 1852h10M677 1833h10M867 1869h10M845 1862h10M528 1891h10M604 1839h10M718 1903h10M606 1808h10M489 1831h10M685 1897h10M617 1830h10M646 1895h10M810 1832h10M623 1896h10M477 1876h10M776 1834h10M746 1827h10M649 1887h10M715 1907h10M472 1884h10M556 1885h10M535 1894h10M701 1833h10M607 1866h10M535 1865h10M734 1868h10M791 1817h10M756 1904h10M475 1868h10M655 1901h10M832 1868h10M480 1875h10M699 1832h10M730 1885h10M769 1826h10M817 1884h10"/><path stroke="#888888" stroke-width="8" d="M598 1817h8M749 1867h8M529 1887h8M773 1871h8M618 1814h8M563 1887h8M506 1873h8M840 1880h8M577 1886h8M696 1853h8M668 1887h8M817 1802h8M839 1852h8M869 1854h8M818 1882h8M778 1849h8M552 1852h8M853 1875h8M548 1850h8M645 1817h8M687 1883h8M852 1841h8M651 1830h8M520 1856h8M605 1821h8"/><path stroke="#928ec2" stroke-width="10" d="M637 1902h10M620 1837h10M531 1936h10M579 1880h10M812 1848h10M740 1895h10M707 1845h10M650 1960h10M417 1840h10M766 1889h10M427 1809h10M846 1890h10M843 1887h10M696 1764h10"/><path stroke="#3ba558" stroke-width="10" d="M480 1865h10M473 1843h10M780 1873h10M791 1863h10M804 1889h10M744 1857h10M682 1897h10M583 1862h10M665 1867h10M523 1858h10M840 1858h10M623 1860h10M593 1843h10M845 1863h10M574 1834h10M461 1871h10M503 1869h10M696 1860h10M786 1821h10M804 1851h10M557 1864h10M778 1886h10M783 1851h10M540 1865h10M803 1915h10M719 1871h10M742 1826h10M719 1843h10M628 1891h10M806 1843h10M740 1853h10M775 1821h10M635 1895h10M824 1842h10M472 1864h10M508 1869h10M822 1870h10M495 1848h10M865 1847h10M827 1887h10M533 1873h10M844 1886h10M601 1901h10M871 1856h10M492 1848h10M731 1875h10M823 1832h10"/><path stroke="#6c6c6c" stroke-width="8" d="M568 1861h8M498 1877h8M734 1798h8M490 1880h8M750 1858h8M780 1842h8M694 1868h8M653 1894h8M409 1871h8M711 1836h8M625 1871h8M816 1877h8M678 1766h8M489 1845h8M433 1871h8M518 1860h8M855 1859h8M617 1883h8M615 1852h8M710 1875h8M815 1859h8"/><path stroke="#7c74b5" stroke-width="10" d="M740 1907h10M817 1832h10M591 1901h10M812 1821h10M754 1911h10M566 1891h10M557 1823h10M700 1829h10M602 1852h10M629 1862h10M706 1895h10"/><path stroke="#238b45" stroke-width="10" d="M714 1883h10M853 1862h10M773 1869h10M727 1863h10M484 1860h10M680 1874h10M656 1896h10M601 1848h10M744 1883h10M715 1844h10M859 1887h10M487 1863h10M619 1900h10M456 1884h10M871 1857h10M610 1904h10M573 1860h10M596 1857h10M697 1927h10M579 1844h10M757 1860h10M585 1888h10M792 1856h10M802 1887h10M589 1834h10M752 1845h10M789 1848h10M603 1867h10M806 1847h10M820 1858h10M561 1881h10M735 1840h10M850 1870h10M544 1862h10M702 1877h10M749 1878h10M626 1883h10M681 1875h10M691 1886h10M751 1866h10M676 1855h10M743 1828h10M703 1838h10M747 1869h10M546 1868h10"/><path stroke="#525252" stroke-width="8" d="M660 1865h8M700 1854h8M789 1865h8M750 1863h8M495 1841h8M801 1859h8M702 1846h8M586 1867h8M604 1834h8M566 1865h8M597 1871h8M660 1856h8M480 1857h8"/><path stroke="#6a51a3" stroke-width="10" d="M675 1868h10M543 1896h10M451 1868h10"/><path stroke="#077331" stroke-width="10" d="M836 1865h10M509 1889h10M648 1866h10M610 1863h10M809 1851h10M533 1846h10M797 1855h10M461 1856h10M656 1838h10M545 1838h10M649 1847h10M573 1881h10M589 1860h10M588 1856h10M692 1881h10M625 1850h10M630 1876h10M805 1837h10M702 1873h10M671 1886h10M613 1850h10M598 1871h10M644 1838h10M520 1867h10M687 1862h10M591 1850h10M636 1858h10M631 1882h10M683 1855h10M621 1855h10M608 1852h10M611 1886h10M593 1830h10M549 1864h10"/><path stroke="#2e2e2e" stroke-width="8" d="M469 1870h8M756 1850h8M573 1838h8M533 1832h8M824 1834h8M523 1873h8M879 1843h8M601 1866h8M676 1855h8M814 1856h8M734 1866h8"/><path stroke="#005422" stroke-width="10" d="M662 1858h10M712 1871h10M759 1850h10M659 1853h10M804 1854h10M763 1869h10M712 1859h10M634 1848h10M819 1864h10M757 1861h10M803 1863h10M716 1864h10M719 1872h10M603 1870h10M662 1857h10M594 1863h10M727 1862h10M646 1865h10M709 1873h10M679 1839h10M632 1848h10M765 1851h10M759 1851h10M617 1868h10M677 1886h10M536 1875h10M605 1885h10M719 1859h10M672 1865h10M501 1851h10M630 1848h10"/><path stroke="#0f0f0f" stroke-width="8" d="M658 1858h8M695 1853h8M631 1857h8M697 1878h8M662 1863h8M688 1859h8M537 1842h8M457 1857h8M645 1858h8M737 1859h8M559 1871h8M532 1871h8M650 1865h8M573 1835h8"/><path stroke="#dff3da" stroke-width="10" d="M549 1852h10M524 1912h10M763 1925h10M516 1817h10M896 1820h10M835 1900h10M507 1918h10M533 1832h10M682 1899h10M705 1897h10M596 1916h10M786 1895h10M451 1890h10M503 1846h10M437 1869h10M826 1809h10M787 1915h10M561 1865h10M830 1868h10M528 1777h10M890 1888h10M552 1798h10M615 1810h10M527 1847h10M524 1897h10M726 1804h10M658 1923h10M443 1874h10M457 1845h10M581 1804h10M542 1789h10M828 1907h10M825 1833h10M764 1906h10M699 1805h10M469 1855h10M699 1911h10M814 1908h10M484 1869h10M515 1873h10M485 1881h10M499 1876h10M700 1821h10"/><path stroke="#ebebeb" stroke-width="8" d="M571 1870h8M422 1875h8M857 1863h8M893 1865h8M455 1856h8M628 1800h8M522 1760h8M413 1838h8M673 1897h8M848 1831h8M749 1853h8M430 1860h8M827 1887h8M532 1898h8M665 1723h8M480 1797h8M808 1794h8M761 1735h8M649 1845h8M881 1845h8M696 1903h8M796 1849h8M628 1902h8M599 1820h8M579 1718h8M663 1907h8M495 1903h8M413 1865h8M784 1899h8M500 1868h8M581 1869h8M571 1799h8M482 1817h8M812 1862h8M472 1833h8M817 1821h8M687 1885h8M618 1919h8M431 1843h8M470 1901h8M468 1786h8M664 1838h8M828 1772h8M768 1825h8M629 1903h8M831 1830h8M651 1783h8M665 1906h8M587 1855h8M475 1861h8M790 1825h8M677 1891h8M521 1848h8M499 1861h8M584 1873h8M781 1833h8M861 1808h8M823 1840h8M768 1773h8M795 1784h8M575 1813h8M651 1820h8M838 1813h8M690 1842h8M509 1867h8M709 1911h8M870 1879h8M756 1885h8M884 1823h8M433 1845h8M786 1842h8M878 1788h8M549 1888h8M507 1886h8M555 1817h8M735 1904h8M816 1816h8M819 1788h8M806 1861h8M613 1915h8M872 1781h8M792 1890h8M867 1822h8M832 1816h8M718 1729h8M603 1925h8M594 1912h8M760 1874h8M818 1845h8M449 1823h8M610 1884h8M694 1814h8"/><path stroke="#ebe9f3" stroke-width="10" d="M868 1871h10M844 1812h10M858 1873h10M428 1900h10M776 1767h10M552 1764h10M541 1771h10M483 1842h10M684 1784h10M597 1779h10M699 1922h10M836 1910h10M653 1933h10M805 1889h10M734 1860h10M521 1867h10M684 1884h10M892 1900h10M409 1816h10M458 1821h10M424 1920h10M874 1844h10M824 1940h10M544 1834h10M756 1828h10M562 1785h10M828 1847h10M868 1896h10M884 1875h10M720 1849h10M460 1807h10M848 1912h10M449 1798h10M436 1866h10M514 1853h10M765 1865h10M722 1869h10M798 1938h10M672 1966h10M722 1903h10M786 1937h10M654 1924h10M712 1965h10M587 1764h10M849 1913h10M738 1935h10M807 1872h10M753 1915h10M782 1903h10M890 1832h10M885 1821h10M497 1903h10M800 1935h10M770 1846h10M594 1819h10"/><path stroke="#c7e9c0" stroke-width="10" d="M809 1877h10M762 1889h10M666 1899h10M506 1821h10M466 1795h10M590 1828h10M628 1810h10M701 1870h10M759 1819h10M548 1774h10M899 1882h10M881 1884h10M434 1859h10M700 1883h10M610 1860h10M477 1855h10M599 1810h10M466 1853h10M656 1840h10M861 1843h10M552 1818h10M451 1880h10M505 1889h10M586 1866h10M847 1839h10M823 1857h10M469 1856h10M589 1851h10M562 1828h10M424 1828h10M560 1795h10M882 1821h10M581 1881h10M841 1878h10M794 1902h10M861 1838h10M440 1850h10M683 1825h10M512 1812h10M575 1803h10M828 1832h10M614 1889h10M588 1898h10M438 1849h10M496 1854h10M619 1905h10M504 1856h10M512 1852h10M875 1870h10M540 1830h10M655 1864h10M474 1875h10M459 1895h10M810 1787h10M631 1872h10M458 1802h10M435 1843h10M626 1779h10M471 1797h10M579 1890h10M524 1886h10M578 1838h10M887 1854h10M789 1820h10M891 1848h10M823 1827h10M467 1825h10M710 1803h10M630 1922h10M533 1837h10M774 1867h10"/><path stroke="#d9d9d9" stroke-width="8" d="M639 1857h8M801 1852h8M504 1860h8M543 1846h8M432 1846h8M763 1855h8M501 1858h8M708 1795h8M425 1852h8M709 1851h8M710 1876h8M659 1768h8M659 1735h8M581 1894h8M473 1871h8M615 1794h8M741 1756h8M659 1846h8M546 1754h8M857 1836h8M731 1885h8M758 1857h8M526 1816h8M531 1774h8M610 1832h8M655 1873h8M539 1774h8M809 1829h8M683 1831h8M459 1896h8M693 1760h8M560 1819h8M580 1810h8M683 1860h8M722 1838h8M790 1756h8M541 1806h8M784 1860h8M696 1744h8M591 1797h8M587 1882h8M473 1775h8M852 1802h8M818 1856h8M854 1871h8M624 1859h8M612 1843h8M525 1853h8M440 1810h8M648 1784h8M796 1732h8M778 1852h8M754 1862h8M817 1787h8M587 1820h8M565 1851h8M484 1882h8M765 1842h8"/><path stroke="#dadaeb" stroke-width="10" d="M534 1931h10M411 1876h10M856 1869h10M890 1874h10M852 1836h10M572 1920h10M780 1917h10M704 1875h10M512 1888h10M511 1911h10M689 1859h10M814 1881h10M734 1917h10M455 1877h10M654 1889h10M658 1784h10M527 1864h10M520 1844h10M818 1936h10M849 1831h10M799 1912h10M728 1868h10M776 1937h10M869 1851h10M782 1849h10M889 1817h10M416 1864h10M560 1886h10M605 1791h10M727 1790h10M539 1835h10M421 1900h10M596 1871h10M836 1918h10M491 1796h10M796 1876h10M475 1803h10M483 1846h10M826 1824h10M540 1901h10M737 1904h10M721 1915h10M733 1894h10M726 1901h10M424 1861h10M445 1868h10"/><path stroke="#a9dca2" stroke-width="10" d="M607 1912h10M795 1894h10M576 1854h10M593 1856h10M749 1866h10M484 1886h10M796 1879h10M685 1841h10M725 1896h10M758 1790h10M644 1792h10M549 1828h10M851 1854h10M859 1889h10M619 1846h10M582 1878h10M584 1892h10M662 1884h10M752 1889h10M522 1889h10M636 1842h10M614 1824h10M758 1841h10M598 1825h10M512 1883h10M727 1818h10M454 1803h10M437 1863h10M715 1792h10M742 1810h10M527 1826h10M723 1862h10M792 1814h10M732 1931h10M481 1886h10M525 1792h10M466 1847h10M530 1885h10M551 1800h10M475 1866h10M668 1806h10M743 1860h10M495 1792h10M608 1884h10M562 1868h10M681 1858h10M682 1911h10M578 1912h10M830 1888h10M879 1858h10"/><path stroke="#c3c3c3" stroke-width="8" d="M533 1834h8M682 1834h8M561 1832h8M501 1801h8M729 1784h8M734 1824h8M603 1835h8M566 1802h8M613 1785h8M722 1783h8M705 1850h8M700 1830h8M695 1856h8M787 1782h8M502 1820h8M661 1811h8M405 1880h8M625 1790h8M737 1847h8M625 1807h8M709 1764h8M769 1904h8M569 1841h8M623 1819h8M615 1780h8M736 1821h8M719 1777h8M621 1822h8M655 1867h8M650 1821h8M583 1922h8M577 1790h8M563 1850h8M771 1870h8M819 1750h8M428 1883h8M588 1770h8M834 1876h8M745 1865h8M441 1833h8M782 1875h8M609 1855h8M585 1743h8M565 1908h8"/><path stroke="#c2c3df" stroke-width="10" d="M723 1837h10M721 1889h10M541 1921h10M435 1876h10M532 1845h10M793 1888h10M634 1913h10M598 1877h10M490 1786h10M832 1845h10M705 1863h10M736 1835h10M656 1816h10M819 1906h10M625 1895h10M534 1890h10M727 1893h10M591 1890h10M564 1789h10M572 1862h10M781 1897h10M692 1870h10M500 1866h10M754 1863h10M552 1839h10M476 1889h10M664 1882h10M507 1839h10M614 1908h10M831 1827h10M778 1861h10M742 1893h10M634 1913h10M438 1915h10"/><path stroke="#86cc85" stroke-width="10" d="M533 1829h10M778 1789h10M460 1854h10M879 1887h10M494 1797h10M545 1903h10M498 1842h10M658 1819h10M665 1817h10M705 1825h10M602 1844h10M803 1859h10M552 1871h10M805 1894h10M581 1886h10M673 1861h10M661 1876h10M813 1883h10M588 1844h10M621 1855h10M671 1857h10M738 1880h10M452 1839h10M723 1893h10M636 1816h10M878 1883h10M487 1859h10M777 1908h10M603 1824h10M795 1804h10M859 1828h10M494 1830h10M541 1827h10M601 1842h10M604 1853h10M663 1852h10M479 1848h10M603 1895h10M821 1862h10M482 1906h10M509 1862h10M488 1824h10M662 1858h10M632 1911h10M844 1823h10M505 1878h10M607 1782h10"/><path stroke="#a6a6a6" stroke-width="8" d="M834 1835h8M833 1862h8M760 1860h8M809 1833h8M557 1775h8M607 1895h8M693 1740h8M520 1851h8M543 1903h8M869 1881h8M452 1865h8M605 1885h8M843 1857h8M395 1855h8M637 1847h8M694 1843h8M500 1773h8M577 1893h8M893 1851h8M533 1754h8M796 1850h8M757 1863h8M822 1895h8M496 1848h8M516 1853h8M841 1864h8M706 1898h8M532 1819h8M673 1900h8M455 1858h8M734 1817h8M866 1844h8M544 1836h8M821 1844h8"/><path stroke="#aaa8d0" stroke-width="10" d="M745 1846h10M880 1908h10M864 1926h10M882 1813h10M794 1851h10M539 1901h10M873 1860h10M736 1766h10M744 1892h10M691 1879h10M728 1880h10M638 1842h10M799 1847h10M486 1788h10M527 1831h10M520 1829h10M460 1938h10M636 1883h10M762 1836h10M472 1901h10M672 1889h10M826 1831h10"/><path stroke="#60ba6c" stroke-width="10" d="M481 1871h10M652 1820h10M642 1858h10M584 1873h10M801 1895h10M849 1827h10M536 1873h10M736 1843h10M794 1822h10M701 1873h10M611 1820h10M529 1787h10M551 1833h10M512 1883h10M700 1898h10M642 1853h10M538 1865h10M820 1874h10M653 1903h10M885 1842h10M695 1905h10M551 1846h10M745 1778h10M527 1885h10M852 1860h10M746 1837h10M760 1871h10M737 1862h10M775 1858h10M616 1897h10M572 1836h10M712 1840h10M475 1852h10M497 1868h10M728 1853h10M684 1823h10M469 1855h10M745 1890h10M724 1854h10M730 1826h10M666 1813h10M742 1894h10M501 1857h10M884 1867h10M668 1871h10M868 1879h10M850 1844h10M494 1868h10M821 1833h10"/><path stroke="#888888" stroke-width="8" d="M876 1852h8M704 1865h8M789 1846h8M595 1874h8M566 1841h8M618 1872h8M662 1844h8M501 1900h8M841 1846h8M726 1851h8M460 1797h8M390 1873h8M438 1874h8M449 1887h8M507 1847h8M534 1912h8M872 1869h8M794 1860h8M704 1820h8M697 1729h8M545 1833h8M535 1890h8M584 1834h8M716 1746h8M539 1835h8"/><path stroke="#928ec2" stroke-width="10" d="M593 1863h10M696 1910h10M729 1925h10M574 1817h10M785 1891h10M801 1875h10M600 1895h10M768 1842h10M659 1847h10M715 1937h10M684 1844h10M593 1891h10M802 1881h10"/><path stroke="#3ba558" stroke-width="10" d="M694 1881h10M853 1854h10M602 1857h10M813 1871h10M831 1850h10M584 1875h10M496 1871h10M460 1873h10M831 1876h10M815 1894h10M701 1834h10M687 1876h10M835 1845h10M715 1820h10M738 1877h10M863 1877h10M791 1853h10M526 1883h10M581 1836h10M585 1831h10M835 1873h10M769 1867h10M541 1867h10M754 1882h10M612 1908h10M742 1866h10M464 1855h10M802 1890h10M497 1864h10M575 1859h10M543 1880h10M838 1844h10M737 1908h10M544 1858h10M462 1863h10M678 1823h10M789 1889h10M450 1833h10M716 1857h10M623 1850h10M830 1829h10M766 1820h10M606 1875h10M691 1836h10M807 1829h10M618 1884h10"/><path stroke="#6c6c6c" stroke-width="8" d="M797 1870h8M576 1850h8M806 1856h8M702 1864h8M574 1881h8M564 1853h8M680 1844h8M685 1844h8M592 1831h8M574 1825h8M810 1874h8M704 1839h8M636 1870h8M560 1867h8M636 1851h8M848 1883h8M438 1875h8M828 1842h8M762 1855h8M433 1877h8M754 1871h8"/><path stroke="#7c74b5" stroke-width="10" d="M578 1917h10M662 1902h10M693 1911h10M622 1891h10M686 1902h10M694 1819h10M758 1903h10M659 1898h10M523 1865h10M546 1823h10"/><path stroke="#238b45" stroke-width="10" d="M882 1871h10M588 1851h10M651 1858h10M553 1829h10M837 1835h10M724 1845h10M643 1839h10M692 1860h10M565 1865h10M482 1851h10M650 1878h10M659 1871h10M768 1856h10M593 1851h10M550 1873h10M826 1853h10M718 1894h10M722 1855h10M550 1861h10M798 1836h10M665 1838h10M726 1900h10M576 1848h10M772 1861h10M610 1882h10M663 1859h10M584 1862h10M793 1851h10M806 1849h10M723 1837h10M608 1839h10M560 1872h10M820 1839h10M588 1865h10M577 1855h10M596 1869h10M721 1845h10M571 1857h10M752 1863h10M769 1858h10M592 1843h10M543 1862h10M735 1861h10M722 1843h10M595 1858h10"/><path stroke="#525252" stroke-width="8" d="M684 1866h8M673 1862h8M747 1851h8M658 1852h8M676 1838h8M630 1867h8M494 1855h8M389 1870h8M708 1841h8M729 1856h8M395 1840h8M467 1861h8M619 1855h8"/><path stroke="#6a51a3" stroke-width="10" d="M538 1876h10M697 1856h10M616 1939h10"/><path stroke="#077331" stroke-width="10" d="M671 1861h10M882 1874h10M852 1871h10M655 1857h10M689 1830h10M667 1857h10M592 1868h10M573 1883h10M669 1847h10M700 1841h10M623 1869h10M729 1865h10M748 1865h10M730 1845h10M772 1863h10M647 1851h10M726 1812h10M520 1881h10M580 1838h10M727 1842h10M574 1877h10M642 1878h10M620 1846h10M583 1863h10M741 1847h10M594 1883h10M699 1852h10M730 1870h10M840 1876h10M874 1858h10M747 1870h10M694 1873h10M796 1867h10M570 1877h10"/><path stroke="#2e2e2e" stroke-width="8" d="M747 1857h8M487 1869h8M743 1856h8M613 1855h8M662 1859h8M423 1858h8M493 1864h8M424 1843h8M592 1863h8M602 1875h8M495 1865h8"/><path stroke="#005422" stroke-width="10" d="M671 1881h10M642 1856h10M665 1855h10M580 1866h10M573 1865h10M694 1862h10M721 1828h10M722 1854h10M819 1874h10M687 1855h10M670 1850h10M638 1872h10M697 1850h10M683 1855h10M645 1880h10M692 1878h10M683 1885h10M737 1895h10M669 1859h10M749 1878h10M677 1876h10M540 1847h10M807 1873h10M599 1854h10M678 1870h10M659 1862h10M674 1853h10M552 1866h10M678 1867h10M726 1853h10M741 1855h10"/><path stroke="#0f0f0f" stroke-width="8" d="M600 1846h8M531 1879h8M458 1880h8M570 1866h8M648 1864h8M686 1862h8M594 1832h8M749 1849h8M700 1856h8M620 1854h8M540 1861h8M431 1860h8M680 1855h8M506 1857h8"/><path stroke="#dff3da" stroke-width="10" d="M647 1907h10M858 1792h10M487 1813h10M507 1817h10M676 1894h10M479 1819h10M582 1899h10M500 1897h10M497 1861h10M875 1855h10M549 1883h10M769 1901h10M883 1894h10M776 1915h10M781 1891h10M442 1809h10M758 1895h10M841 1872h10M880 1871h10M497 1842h10M644 1927h10M518 1844h10M745 1817h10M836 1808h10M537 1908h10M889 1846h10M870 1816h10M528 1801h10M555 1810h10M818 1886h10M840 1785h10M448 1848h10M526 1911h10M821 1897h10M442 1892h10M460 1831h10M484 1795h10M506 1871h10M467 1897h10M584 1883h10M715 1793h10M863 1894h10M526 1863h10"/><path stroke="#ebebeb" stroke-width="8" d="M612 1910h8M631 1855h8M816 1867h8M510 1901h8M592 1777h8M726 1785h8M889 1810h8M806 1791h8M596 1909h8M798 1738h8M600 1906h8M604 1732h8M652 1843h8M649 1794h8M630 1766h8M591 1844h8M700 1733h8M713 1830h8M472 1899h8M649 1794h8M804 1845h8M469 1782h8M570 1878h8M853 1818h8M868 1881h8M775 1754h8M735 1742h8M423 1836h8M879 1798h8M656 1755h8M767 1772h8M773 1913h8M877 1841h8M883 1794h8M564 1900h8M803 1854h8M484 1853h8M468 1869h8M576 1798h8M454 1770h8M641 1781h8M545 1880h8M597 1873h8M748 1769h8M415 1883h8M593 1768h8M769 1730h8M655 1784h8M536 1814h8M508 1797h8M611 1824h8M829 1787h8M441 1777h8M448 1856h8M422 1808h8M514 1788h8M655 1890h8M842 1828h8M516 1800h8M830 1770h8M412 1782h8M435 1894h8M727 1890h8M637 1748h8M500 1819h8M878 1811h8M553 1779h8M715 1745h8M446 1789h8M555 1807h8M704 1924h8M542 1878h8M771 1732h8M571 1882h8M789 1802h8M796 1866h8M819 1825h8M864 1830h8M848 1762h8M863 1791h8M444 1879h8M441 1869h8M746 1869h8M513 1771h8M871 1879h8M856 1866h8M514 1777h8M793 1853h8M557 1724h8M658 1788h8M690 1785h8"/><path stroke="#ebe9f3" stroke-width="10" d="M882 1871h10M788 1776h10M603 1943h10M469 1904h10M505 1824h10M749 1782h10M549 1790h10M417 1899h10M634 1795h10M448 1890h10M465 1893h10M574 1931h10M628 1787h10M578 1915h10M423 1912h10M447 1860h10M674 1925h10M442 1845h10M537 1793h10M544 1780h10M773 1788h10M892 1817h10M492 1838h10M860 1895h10M612 1797h10M737 1841h10M792 1907h10M582 1857h10M778 1899h10M471 1872h10M504 1929h10M869 1864h10M420 1881h10M659 1754h10M881 1874h10M743 1888h10M740 1901h10M879 1830h10M548 1798h10M602 1806h10M583 1804h10M633 1779h10M426 1823h10M399 1887h10M643 1889h10M534 1808h10M488 1886h10M714 1919h10M421 1896h10M834 1799h10M855 1837h10M627 1799h10M854 1891h10M543 1933h10M500 1917h10"/><path stroke="#c7e9c0" stroke-width="10" d="M591 1881h10M554 1810h10M588 1876h10M487 1876h10M502 1809h10M671 1900h10M460 1849h10M467 1900h10M872 1877h10M510 1833h10M788 1911h10M723 1883h10M631 1885h10M698 1799h10M732 1886h10M786 1885h10M684 1908h10M504 1906h10M840 1893h10M728 1812h10M488 1885h10M469 1825h10M715 1899h10M797 1786h10M463 1875h10M870 1849h10M692 1853h10M614 1893h10M543 1884h10M554 1865h10M682 1856h10M589 1799h10M748 1849h10M446 1805h10M564 1917h10M868 1831h10M748 1865h10M707 1811h10M528 1858h10M782 1905h10M610 1877h10M510 1904h10M591 1785h10M783 1819h10M659 1900h10M528 1861h10M612 1900h10M551 1782h10M499 1842h10M803 1903h10M766 1901h10M436 1879h10M876 1833h10M511 1859h10M768 1903h10M507 1851h10M835 1852h10M450 1830h10M880 1832h10M781 1878h10M861 1800h10M630 1847h10M781 1873h10M866 1886h10M603 1788h10M791 1793h10M658 1802h10M459 1858h10M596 1867h10M861 1886h10M801 1810h10"/><path stroke="#d9d9d9" stroke-width="8" d="M764 1799h8M676 1772h8M741 1809h8M500 1824h8M740 1835h8M860 1829h8M655 1792h8M687 1906h8M701 1821h8M603 1886h8M879 1838h8M780 1843h8M415 1817h8M686 1850h8M882 1825h8M569 1844h8M881 1864h8M464 1853h8M533 1780h8M688 1733h8M578 1848h8M620 1860h8M464 1773h8M552 1821h8M555 1773h8M659 1745h8M634 1884h8M522 1811h8M589 1803h8M733 1786h8M498 1888h8M558 1774h8M740 1843h8M718 1832h8M859 1776h8M803 1833h8M657 1829h8M622 1729h8M867 1840h8M445 1755h8M685 1854h8M664 1883h8M468 1759h8M543 1772h8M549 1811h8M534 1809h8M806 1749h8M842 1829h8M619 1857h8M550 1850h8M699 1875h8M536 1908h8M893 1868h8M730 1808h8M709 1880h8M504 1783h8M656 1846h8M435 1848h8"/><path stroke="#dadaeb" stroke-width="10" d="M502 1856h10M739 1885h10M675 1757h10M414 1820h10M544 1841h10M595 1782h10M691 1892h10M820 1874h10M549 1886h10M798 1839h10M447 1901h10M696 1802h10M593 1948h10M730 1893h10M863 1858h10M805 1792h10M458 1849h10M860 1870h10M524 1921h10M441 1861h10M481 1884h10M566 1833h10M565 1862h10M488 1781h10M774 1912h10M893 1858h10M756 1894h10M787 1772h10M631 1919h10M749 1923h10M609 1894h10M394 1852h10M703 1827h10M589 1871h10M590 1818h10M492 1815h10M708 1864h10M556 1863h10M724 1861h10M788 1796h10M555 1818h10M471 1855h10M583 1849h10M671 1919h10M703 1887h10M729 1873h10"/><path stroke="#a9dca2" stroke-width="10" d="M791 1884h10M719 1816h10M653 1867h10M704 1882h10M688 1857h10M648 1882h10M849 1803h10M445 1883h10M547 1831h10M615 1885h10M863 1841h10M649 1872h10M618 1889h10M648 1798h10M656 1850h10M739 1863h10M807 1804h10M741 1847h10M496 1841h10M710 1889h10M629 1817h10M525 1839h10M570 1837h10M453 1868h10M630 1830h10M657 1870h10M877 1850h10M657 1851h10M620 1888h10M811 1832h10M825 1780h10M543 1864h10M552 1873h10M527 1872h10M830 1847h10M616 1885h10M547 1841h10M816 1889h10M614 1844h10M707 1840h10M549 1900h10M567 1887h10M547 1802h10M532 1882h10M857 1823h10M460 1846h10M736 1880h10M601 1867h10M685 1820h10M563 1879h10"/><path stroke="#c3c3c3" stroke-width="8" d="M482 1813h8M873 1851h8M591 1855h8M853 1821h8M492 1860h8M471 1848h8M822 1829h8M697 1830h8M787 1851h8M579 1855h8M696 1891h8M754 1824h8M711 1848h8M714 1868h8M683 1770h8M489 1738h8M739 1858h8M805 1878h8M483 1836h8M448 1898h8M781 1892h8M872 1858h8M653 1806h8M712 1900h8M699 1835h8M515 1864h8M496 1794h8M710 1875h8M515 1844h8M605 1869h8M657 1840h8M708 1864h8M890 1878h8M585 1829h8M751 1818h8M755 1851h8M568 1746h8M692 1862h8M860 1823h8M412 1838h8M794 1753h8M451 1867h8M600 1851h8M767 1827h8"/><path stroke="#c2c3df" stroke-width="10" d="M738 1869h10M674 1839h10M805 1811h10M733 1916h10M740 1848h10M525 1933h10M636 1891h10M729 1869h10M547 1901h10M781 1841h10M413 1814h10M550 1938h10M787 1847h10M585 1889h10M466 1852h10M721 1874h10M695 1878h10M600 1808h10M774 1862h10M559 1880h10M667 1787h10M802 1847h10M438 1831h10M871 1812h10M514 1783h10M777 1862h10M468 1829h10M671 1876h10M848 1917h10M653 1859h10M536 1903h10M602 1820h10M670 1881h10M830 1789h10"/><path stroke="#86cc85" stroke-width="10" d="M828 1884h10M594 1844h10M726 1846h10M691 1828h10M531 1876h10M570 1850h10M683 1817h10M588 1826h10M556 1911h10M849 1892h10M469 1870h10M492 1855h10M442 1853h10M689 1867h10M456 1840h10M835 1867h10M865 1838h10M476 1852h10M867 1847h10M526 1806h10M840 1859h10M698 1923h10M582 1895h10M616 1824h10M578 1877h10M801 1892h10M498 1887h10M771 1861h10M469 1848h10M808 1895h10M726 1894h10M502 1888h10M808 1886h10M762 1859h10M450 1891h10M895 1831h10M574 1870h10M462 1839h10M809 1828h10M659 1860h10M889 1854h10M478 1862h10M857 1889h10M660 1878h10M593 1879h10M563 1896h10M567 1844h10"/><path stroke="#a6a6a6" stroke-width="8" d="M808 1735h8M479 1749h8M553 1844h8M446 1880h8M385 1876h8M436 1856h8M789 1767h8M410 1844h8M869 1870h8M594 1829h8M589 1853h8M769 1845h8M880 1802h8M751 1809h8M515 1885h8M816 1846h8M619 1889h8M402 1851h8M568 1819h8M448 1825h8M649 1869h8M842 1887h8M521 1800h8M559 1852h8M776 1824h8M797 1881h8M403 1850h8M754 1784h8M648 1857h8M835 1778h8M412 1866h8M445 1843h8M500 1848h8M721 1917h8"/><path stroke="#aaa8d0" stroke-width="10" d="M522 1883h10M696 1873h10M578 1904h10M560 1864h10M467 1880h10M775 1884h10M764 1838h10M446 1795h10M537 1859h10M509 1909h10M478 1874h10M571 1885h10M440 1843h10M457 1916h10M521 1881h10M637 1847h10M491 1853h10M533 1874h10M549 1940h10M478 1867h10M762 1808h10M508 1933h10"/><path stroke="#60ba6c" stroke-width="10" d="M607 1880h10M797 1895h10M522 1894h10M832 1888h10M800 1865h10M485 1864h10M682 1871h10M494 1873h10M856 1870h10M696 1889h10M817 1912h10M617 1849h10M490 1856h10M471 1878h10M764 1887h10M758 1842h10M595 1818h10M514 1827h10M790 1837h10M803 1827h10M747 1851h10M714 1849h10M722 1873h10M838 1851h10M718 1911h10M627 1889h10M755 1868h10M502 1873h10M594 1834h10M702 1849h10M634 1773h10M684 1906h10M506 1837h10M692 1882h10M576 1820h10M520 1889h10M433 1836h10M552 1885h10M531 1921h10M461 1872h10M479 1848h10M708 1831h10M760 1808h10M734 1886h10M821 1873h10M633 1881h10M621 1822h10M854 1903h10M760 1789h10"/><path stroke="#888888" stroke-width="8" d="M490 1778h8M859 1844h8M525 1801h8M552 1841h8M680 1847h8M896 1857h8M430 1779h8M451 1860h8M432 1847h8M440 1846h8M882 1839h8M778 1789h8M841 1877h8M784 1805h8M646 1767h8M533 1848h8M421 1870h8M834 1863h8M679 1892h8M498 1859h8M715 1833h8M657 1831h8M741 1846h8M643 1786h8M655 1822h8"/><path stroke="#928ec2" stroke-width="10" d="M450 1885h10M700 1904h10M445 1845h10M514 1846h10M677 1802h10M613 1843h10M788 1829h10M578 1888h10M519 1859h10M457 1892h10M805 1821h10M787 1864h10M616 1914h10"/><path stroke="#3ba558" stroke-width="10" d="M811 1890h10M757 1839h10M649 1836h10M873 1884h10M503 1873h10M462 1871h10M758 1856h10M498 1852h10M832 1878h10M579 1897h10M529 1876h10M689 1877h10M614 1885h10M693 1839h10M619 1835h10M592 1877h10M817 1872h10M741 1898h10M839 1850h10M567 1856h10M647 1827h10M644 1888h10M896 1846h10M659 1858h10M531 1803h10M896 1817h10M756 1824h10M787 1885h10M872 1863h10M698 1873h10M696 1896h10M743 1840h10M762 1850h10M747 1882h10M730 1815h10M818 1886h10M611 1887h10M659 1855h10M813 1866h10M545 1884h10M822 1874h10M824 1838h10M641 1836h10M670 1820h10M767 1835h10M556 1854h10"/><path stroke="#6c6c6c" stroke-width="8" d="M733 1869h8M423 1786h8M568 1850h8M593 1845h8M827 1870h8M444 1848h8M583 1887h8M610 1814h8M576 1817h8M574 1848h8M558 1866h8M844 1874h8M501 1858h8M549 1880h8M839 1854h8M684 1829h8M641 1881h8M860 1835h8M405 1877h8M617 1885h8M555 1863h8"/><path stroke="#7c74b5" stroke-width="10" d="M413 1846h10M593 1868h10M820 1823h10M661 1891h10M512 1906h10M689 1909h10M589 1894h10M565 1838h10M654 1829h10M461 1915h10"/><path stroke="#238b45" stroke-width="10" d="M705 1848h10M463 1862h10M605 1879h10M714 1852h10M607 1849h10M576 1884h10M643 1861h10M560 1826h10M728 1855h10M727 1852h10M686 1840h10M827 1852h10M716 1873h10M628 1886h10M744 1872h10M751 1853h10M556 1856h10M566 1852h10M564 1849h10M829 1836h10M760 1874h10M495 1838h10M657 1864h10M625 1876h10M797 1855h10M799 1842h10M637 1885h10M603 1782h10M719 1840h10M606 1869h10M595 1884h10M750 1823h10M657 1886h10M755 1855h10M627 1884h10M713 1881h10M772 1809h10M508 1818h10M626 1845h10M631 1844h10M535 1859h10M542 1858h10M886 1861h10M512 1859h10M629 1822h10"/><path stroke="#525252" stroke-width="8" d="M631 1799h8M413 1871h8M626 1848h8M705 1876h8M635 1863h8M542 1843h8M695 1850h8M575 1826h8M541 1840h8M708 1831h8M466 1851h8M724 1882h8M564 1857h8"/><path stroke="#6a51a3" stroke-width="10" d="M727 1885h10M543 1880h10"/><path stroke="#077331" stroke-width="10" d="M781 1865h10M585 1847h10M682 1837h10M715 1871h10M834 1873h10M713 1838h10M723 1836h10M690 1846h10M505 1877h10M830 1897h10M694 1862h10M702 1842h10M609 1865h10M626 1877h10M691 1870h10M723 1874h10M719 1881h10M723 1820h10M789 1874h10M786 1868h10M473 1867h10M595 1879h10M717 1864h10M597 1865h10M729 1855h10M527 1865h10M540 1856h10M624 1860h10M461 1879h10M757 1859h10M693 1837h10M671 1877h10M614 1872h10"/><path stroke="#2e2e2e" stroke-width="8" d="M628 1860h8M651 1860h8M557 1853h8M885 1877h8M537 1862h8M644 1867h8M498 1854h8M832 1838h8M618 1871h8M741 1829h8"/><path stroke="#005422" stroke-width="10" d="M709 1853h10M696 1851h10M739 1885h10M737 1864h10M635 1866h10M651 1840h10M606 1831h10M752 1831h10M675 1851h10M814 1859h10M752 1884h10M764 1839h10M546 1882h10M623 1862h10M602 1858h10M596 1881h10M744 1849h10M804 1864h10M718 1880h10M647 1844h10M620 1863h10M541 1849h10M647 1874h10M811 1872h10M737 1857h10M743 1876h10M569 1854h10M665 1859h10M610 1878h10M766 1844h10"/><path stroke="#0f0f0f" stroke-width="8" d="M637 1850h8M685 1836h8M598 1868h8M679 1886h8M538 1853h8M632 1859h8M729 1851h8M531 1870h8M496 1845h8M740 1869h8M746 1840h8M677 1852h8M719 1856h8"/></g></g>
<rect x="77.5" y="343.5" width="110.50" height="70.80" fill="none" stroke="#444" stroke-width="0.8"/>
<path d="M75.20 356.20H77.5" stroke="#444" stroke-width="0.8"/>
<text x="71.20" y="358.45" font-size="6.3" text-anchor="end" letter-spacing="0.35">1.2</text>
<path d="M75.20 372.70H77.5" stroke="#444" stroke-width="0.8"/>
<text x="71.20" y="374.95" font-size="6.3" text-anchor="end" letter-spacing="0.35">1.0</text>
<path d="M75.20 389.20H77.5" stroke="#444" stroke-width="0.8"/>
<text x="71.20" y="391.45" font-size="6.3" text-anchor="end" letter-spacing="0.35">0.8</text>
<path d="M75.20 405.70H77.5" stroke="#444" stroke-width="0.8"/>
<text x="71.20" y="407.95" font-size="6.3" text-anchor="end" letter-spacing="0.35">0.6</text>
<path d="M86.10 414.3V416.60" stroke="#444" stroke-width="0.8"/>
<text x="86.27" y="423.30" font-size="6.3" text-anchor="middle" letter-spacing="0.35">−40</text>
<path d="M121.85 414.3V416.60" stroke="#444" stroke-width="0.8"/>
<text x="122.02" y="423.30" font-size="6.3" text-anchor="middle" letter-spacing="0.35">−30</text>
<path d="M157.60 414.3V416.60" stroke="#444" stroke-width="0.8"/>
<text x="157.77" y="423.30" font-size="6.3" text-anchor="middle" letter-spacing="0.35">−20</text>
<text x="132.75" y="430.80" font-size="6.3" text-anchor="middle">Dec. (deg)</text>
<text x="0" y="0" font-size="6.5" text-anchor="middle" transform="translate(59.50,377.40) rotate(-90)">Predicted-to-Measured</text>
<clipPath id="cB4"><rect x="237.4" y="345.5" width="109.70000000000002" height="70.19999999999999"/></clipPath>
<g clip-path="url(#cB4)"><g filter="url(#bl)" transform="scale(0.2)"><path stroke="#dff3da" stroke-width="10" d="M1259 1870h10M1205 1825h10M1536 1921h10M1614 1886h10M1666 1803h10M1344 1894h10M1252 1904h10M1662 1905h10M1466 1811h10M1608 1795h10M1658 1854h10M1682 1883h10M1551 1951h10M1215 1923h10M1471 1813h10M1630 1822h10M1241 1895h10M1245 1900h10M1460 1851h10M1683 1888h10M1383 1792h10M1274 1932h10M1620 1917h10M1629 1939h10M1637 1883h10M1265 1842h10M1523 1858h10M1240 1847h10M1526 1750h10M1656 1847h10M1249 1881h10M1393 1909h10M1661 1876h10M1257 1818h10M1394 1923h10M1642 1793h10M1345 1940h10M1637 1822h10M1348 1960h10M1250 1891h10M1654 1794h10M1658 1818h10M1474 1932h10M1265 1862h10M1337 1839h10M1546 1842h10M1300 1792h10M1559 1819h10M1486 1951h10M1289 1913h10M1241 1936h10M1578 1783h10M1359 1813h10M1260 1896h10M1472 1842h10M1251 1795h10M1677 1903h10M1259 1877h10M1413 1905h10M1290 1912h10M1334 1778h10M1232 1847h10M1589 1909h10M1421 1746h10M1434 1761h10M1610 1907h10M1451 1862h10M1251 1890h10M1262 1840h10M1267 1947h10M1284 1898h10M1556 1894h10M1678 1914h10M1483 1940h10M1352 1877h10M1664 1842h10M1660 1913h10M1310 1782h10M1609 1853h10M1418 1770h10M1535 1914h10M1647 1889h10M1682 1926h10M1697 1886h10M1674 1888h10M1565 1921h10M1396 1788h10M1254 1927h10M1352 1869h10M1543 1882h10M1699 1820h10M1182 1855h10M1561 1914h10M1305 1863h10M1666 1877h10M1560 1780h10M1336 1787h10M1259 1858h10M1351 1938h10M1304 1939h10"/><path stroke="#ebebeb" stroke-width="8" d="M1609 1905h8M1314 1915h8M1321 1908h8M1268 1840h8M1331 1888h8M1646 1892h8M1641 1845h8M1675 1907h8M1573 1874h8M1299 1840h8M1673 1882h8M1579 1885h8M1474 1818h8M1339 1898h8M1235 1869h8M1248 1862h8M1290 1932h8M1370 1838h8M1246 1905h8M1616 1898h8M1683 1876h8"/><path stroke="#ebe9f3" stroke-width="10" d="M1425 1845h10M1427 1857h10M1451 1860h10M1240 1870h10M1444 1972h10M1696 1872h10M1676 1873h10M1319 1844h10M1296 1859h10M1244 1915h10M1650 1959h10M1421 1962h10M1678 1958h10M1456 2002h10M1669 1895h10M1620 1983h10M1227 1879h10M1647 1862h10M1608 1878h10M1450 2011h10M1699 1963h10M1429 1922h10M1270 1872h10M1335 1973h10M1419 1904h10M1518 1873h10M1354 2003h10M1405 1837h10M1650 1945h10M1254 1853h10M1268 1953h10M1550 1850h10M1675 1940h10M1335 1936h10M1650 1948h10M1388 1879h10M1309 1885h10M1599 1893h10M1222 1960h10M1497 1965h10M1657 1899h10M1249 1884h10M1558 1976h10M1498 1878h10M1356 1955h10M1371 1984h10M1569 1938h10M1297 1882h10M1273 1922h10M1648 1886h10M1665 1939h10M1299 1868h10M1279 1892h10M1477 1829h10M1307 1916h10M1553 1958h10M1307 1890h10M1563 1832h10M1287 1882h10M1242 1922h10M1477 2001h10M1539 1962h10M1269 1860h10M1541 1923h10"/><path stroke="#c7e9c0" stroke-width="10" d="M1212 1818h10M1585 1866h10M1522 1825h10M1380 1865h10M1315 1827h10M1556 1800h10M1235 1869h10M1554 1888h10M1471 1793h10M1590 1907h10M1410 1792h10M1370 1895h10M1316 1808h10M1319 1830h10M1271 1886h10M1611 1947h10M1669 1883h10M1588 1828h10M1428 1858h10M1472 1957h10M1286 1790h10M1612 1867h10M1510 1903h10M1458 1892h10M1621 1919h10M1285 1939h10M1272 1880h10M1373 1848h10M1530 1878h10M1521 1847h10M1422 1918h10M1485 1887h10M1338 1907h10M1317 1918h10M1582 1879h10M1435 1887h10M1631 1824h10M1522 1835h10M1297 1850h10M1627 1884h10M1404 1908h10M1342 1857h10M1406 1819h10M1444 1757h10M1462 1902h10M1586 1835h10M1295 1782h10M1708 1915h10M1401 1906h10M1692 1886h10M1261 1867h10M1275 1920h10M1223 1899h10M1392 1817h10M1224 1826h10M1239 1820h10M1448 1883h10M1370 1865h10M1582 1908h10M1520 1915h10M1541 1911h10M1506 1826h10M1572 1843h10M1338 1834h10M1563 1949h10M1235 1865h10M1396 1911h10M1239 1891h10M1458 1907h10M1551 1846h10M1545 1875h10M1342 1822h10M1212 1821h10M1469 1846h10M1465 1923h10M1418 1853h10M1278 1801h10M1312 1898h10M1498 1850h10M1669 1796h10M1217 1931h10M1445 1910h10M1283 1836h10M1455 1898h10M1287 1874h10M1553 1880h10M1410 1878h10M1673 1924h10M1380 1791h10M1301 1881h10"/><path stroke="#d9d9d9" stroke-width="8" d="M1494 1899h8M1572 1906h8M1267 1853h8M1593 1916h8M1294 1892h8M1292 1847h8M1504 1881h8M1625 1897h8M1350 1840h8M1272 1905h8M1573 1919h8M1469 1890h8M1675 1864h8M1254 1896h8M1365 1848h8M1344 1914h8M1521 1865h8M1301 1837h8M1563 1848h8M1587 1861h8"/><path stroke="#dadaeb" stroke-width="10" d="M1659 1894h10M1295 1943h10M1662 1944h10M1268 1921h10M1550 1892h10M1544 1975h10M1504 1889h10M1546 1966h10M1545 1920h10M1580 1962h10M1377 1951h10M1260 1943h10M1197 1953h10M1350 1931h10M1541 1913h10M1460 1944h10M1500 1856h10M1342 1889h10M1575 1926h10M1319 1955h10M1392 1888h10M1660 1947h10M1582 1936h10M1696 1960h10M1605 1906h10M1456 1935h10M1685 1959h10M1399 1956h10M1664 1953h10M1439 1884h10M1467 1890h10M1607 1912h10M1663 1937h10M1512 2010h10M1623 1918h10M1486 1973h10M1591 1933h10M1547 1969h10M1284 1931h10M1521 1921h10M1459 2018h10M1216 1961h10M1389 1944h10M1337 1903h10"/><path stroke="#a9dca2" stroke-width="10" d="M1506 1890h10M1523 1895h10M1337 1794h10M1218 1925h10M1616 1875h10M1657 1886h10M1484 1825h10M1661 1881h10M1294 1921h10M1474 1906h10M1249 1878h10M1216 1924h10M1679 1865h10M1456 1874h10M1283 1820h10M1457 1878h10M1362 1901h10M1660 1929h10M1430 1880h10M1540 1931h10M1687 1883h10M1547 1845h10M1550 1760h10M1320 1954h10M1630 1934h10M1465 1966h10M1231 1893h10M1424 1849h10M1292 1809h10M1586 1845h10M1241 1914h10M1415 1896h10M1426 1894h10M1236 1899h10M1634 1920h10M1630 1880h10M1227 1919h10M1699 1819h10M1533 1881h10M1613 1924h10M1471 1925h10M1281 1867h10M1424 1845h10M1247 1836h10M1522 1919h10M1551 1817h10M1652 1847h10M1413 1789h10M1317 1884h10M1694 1904h10M1396 1901h10M1360 1895h10M1216 1864h10M1332 1746h10M1527 1926h10M1578 1824h10M1351 1891h10M1451 1888h10M1385 1849h10"/><path stroke="#c3c3c3" stroke-width="8" d="M1478 1859h8M1381 1912h8M1288 1891h8M1526 1912h8M1589 1927h8M1581 1924h8M1594 1875h8M1603 1857h8M1532 1895h8M1451 1880h8M1509 1891h8M1257 1872h8M1471 1876h8M1294 1902h8M1303 1914h8M1401 1855h8M1452 1907h8M1437 1869h8M1621 1837h8"/><path stroke="#c2c3df" stroke-width="10" d="M1468 1948h10M1535 1926h10M1476 1918h10M1384 1911h10M1485 1900h10M1635 1906h10M1577 1913h10M1352 1829h10M1607 1887h10M1423 1891h10M1632 1888h10M1544 1953h10M1455 1892h10M1218 1876h10M1657 1906h10M1652 1933h10M1620 1872h10M1381 1879h10M1488 1897h10M1397 1928h10M1374 1898h10M1659 1931h10M1490 1843h10M1465 1934h10M1499 1947h10"/><path stroke="#86cc85" stroke-width="10" d="M1428 1906h10M1452 1915h10M1607 1866h10M1654 1912h10M1664 1880h10M1571 1933h10M1522 1903h10M1434 1894h10M1354 1918h10M1224 1906h10M1208 1851h10M1510 1872h10M1543 1929h10M1607 1882h10M1523 1844h10M1338 1863h10M1262 1910h10M1587 1831h10M1418 1902h10M1574 1900h10M1248 1877h10M1429 1881h10M1664 1840h10M1261 1854h10M1594 1861h10M1414 1901h10M1383 1950h10M1639 1892h10M1585 1893h10M1688 1817h10M1382 1894h10M1637 1897h10M1467 1785h10M1673 1894h10M1399 1823h10M1431 1859h10M1250 1856h10M1514 1896h10M1245 1894h10M1455 1829h10M1492 1862h10M1284 1763h10M1445 1827h10M1462 1849h10M1537 1881h10M1504 1938h10M1403 1881h10M1561 1887h10M1374 1927h10M1602 1884h10M1382 1918h10M1577 1816h10M1378 1900h10M1363 1881h10M1331 1846h10"/><path stroke="#a6a6a6" stroke-width="8" d="M1507 1865h8M1437 1878h8M1487 1900h8M1541 1919h8M1657 1889h8M1496 1851h8M1486 1917h8M1536 1931h8M1499 1890h8M1413 1883h8M1610 1880h8"/><path stroke="#aaa8d0" stroke-width="10" d="M1234 1940h10M1275 1957h10M1487 1942h10M1341 1874h10M1639 1975h10M1257 1889h10M1259 1913h10M1309 1958h10M1613 1865h10M1274 1939h10M1203 1942h10M1549 1859h10M1264 1987h10M1271 1931h10M1679 1935h10M1333 1925h10M1532 1918h10"/><path stroke="#60ba6c" stroke-width="10" d="M1414 1863h10M1453 1850h10M1287 1916h10M1598 1870h10M1233 1860h10M1256 1885h10M1458 1926h10M1227 1866h10M1228 1900h10M1671 1862h10M1677 1905h10M1549 1836h10M1540 1879h10M1234 1875h10M1440 1864h10M1455 1906h10M1526 1842h10M1334 1908h10M1562 1845h10M1678 1919h10M1639 1901h10M1415 1901h10M1308 1868h10M1653 1887h10M1564 1921h10M1372 1834h10M1331 1877h10M1516 1831h10M1293 1879h10M1522 1842h10M1533 1926h10M1368 1866h10M1590 1932h10M1435 1847h10M1233 1893h10M1639 1851h10M1426 1889h10M1487 1868h10M1318 1867h10M1612 1876h10M1463 1896h10M1494 1837h10M1683 1907h10M1666 1880h10M1288 1847h10M1287 1848h10M1581 1864h10M1529 1907h10M1467 1940h10M1607 1890h10M1586 1872h10M1283 1921h10M1585 1931h10M1215 1895h10M1451 1856h10M1223 1916h10M1290 1903h10M1568 1876h10M1222 1909h10M1572 1914h10M1600 1917h10M1298 1887h10M1663 1908h10M1639 1866h10M1463 1862h10M1419 1930h10M1226 1882h10M1387 1804h10M1303 1925h10"/><path stroke="#888888" stroke-width="8" d="M1457 1892h8M1215 1869h8M1368 1903h8M1222 1849h8M1422 1927h8M1262 1874h8M1639 1834h8M1333 1865h8M1510 1888h8"/><path stroke="#928ec2" stroke-width="10" d="M1428 1851h10M1635 1923h10M1498 1931h10M1625 1959h10M1344 1885h10M1387 1855h10M1606 1937h10M1381 1984h10M1443 1833h10M1507 1972h10M1471 1966h10M1211 1873h10"/><path stroke="#3ba558" stroke-width="10" d="M1453 1930h10M1646 1895h10M1504 1919h10M1479 1904h10M1427 1915h10M1270 1881h10M1293 1915h10M1621 1857h10M1598 1891h10M1445 1883h10M1563 1844h10M1377 1916h10M1343 1918h10M1612 1879h10M1407 1862h10M1286 1877h10M1592 1874h10M1407 1876h10M1470 1927h10M1431 1914h10M1322 1924h10M1474 1828h10M1599 1873h10M1299 1894h10M1461 1846h10M1260 1881h10M1217 1866h10M1257 1912h10M1339 1912h10M1633 1893h10M1625 1906h10M1254 1901h10M1515 1872h10M1292 1910h10M1346 1865h10M1663 1912h10M1407 1855h10M1256 1903h10M1377 1870h10M1453 1905h10M1371 1876h10M1240 1902h10M1242 1904h10M1257 1891h10M1595 1885h10M1375 1904h10M1264 1913h10M1357 1862h10M1575 1884h10M1344 1904h10M1494 1862h10M1613 1865h10M1330 1787h10M1525 1858h10M1367 1868h10M1245 1905h10"/><path stroke="#6c6c6c" stroke-width="8" d="M1240 1879h8M1531 1838h8M1247 1897h8M1408 1921h8M1591 1849h8M1552 1857h8M1363 1883h8M1557 1906h8M1446 1893h8"/><path stroke="#7c74b5" stroke-width="10" d="M1544 1839h10M1419 1947h10M1481 1930h10M1345 2010h10M1532 1912h10M1286 1908h10"/><path stroke="#238b45" stroke-width="10" d="M1567 1898h10M1309 1893h10M1344 1899h10M1341 1890h10M1288 1920h10M1292 1883h10M1596 1909h10M1276 1883h10M1340 1892h10M1215 1887h10M1428 1871h10M1284 1895h10M1619 1862h10M1654 1880h10M1549 1898h10M1591 1879h10M1381 1864h10M1471 1902h10M1322 1900h10M1220 1895h10M1540 1866h10M1454 1891h10M1344 1911h10M1418 1883h10M1461 1860h10M1585 1889h10M1218 1895h10M1609 1900h10M1611 1905h10M1562 1870h10M1401 1875h10M1434 1935h10M1299 1869h10M1459 1862h10M1693 1908h10M1467 1851h10M1482 1872h10M1452 1856h10M1347 1873h10M1667 1893h10M1287 1876h10M1411 1910h10M1377 1905h10M1536 1914h10M1470 1938h10M1636 1886h10M1343 1873h10M1339 1893h10M1505 1877h10"/><path stroke="#525252" stroke-width="8" d="M1398 1897h8M1495 1873h8M1267 1892h8M1527 1881h8"/><path stroke="#6a51a3" stroke-width="10" d="M1473 1960h10M1327 1931h10"/><path stroke="#077331" stroke-width="10" d="M1416 1888h10M1300 1903h10M1597 1863h10M1359 1939h10M1661 1909h10M1539 1907h10M1263 1899h10M1397 1890h10M1492 1893h10M1581 1885h10M1381 1885h10M1336 1901h10M1409 1838h10M1300 1901h10M1462 1935h10M1293 1882h10M1634 1887h10M1487 1883h10M1373 1880h10M1375 1933h10M1376 1917h10M1474 1865h10M1418 1881h10M1618 1879h10M1576 1903h10M1499 1867h10M1449 1899h10M1444 1852h10M1472 1903h10M1457 1867h10M1338 1900h10M1575 1879h10M1483 1914h10M1351 1888h10M1589 1876h10M1480 1905h10M1380 1896h10M1477 1898h10M1369 1893h10"/><path stroke="#2e2e2e" stroke-width="8" d="M1463 1857h8M1438 1886h8M1484 1897h8"/><path stroke="#582f93" stroke-width="10" d="M1577 1863h10"/><path stroke="#005422" stroke-width="10" d="M1344 1886h10M1558 1906h10M1386 1895h10M1466 1896h10M1583 1903h10M1471 1890h10M1526 1899h10M1524 1894h10M1280 1879h10M1253 1888h10M1658 1901h10M1571 1899h10M1556 1908h10M1550 1905h10M1415 1890h10M1322 1896h10M1397 1893h10M1459 1887h10M1657 1892h10M1404 1900h10M1339 1912h10M1397 1881h10M1290 1918h10M1661 1896h10M1460 1894h10M1458 1903h10M1475 1873h10M1431 1890h10M1407 1900h10M1508 1902h10M1421 1871h10M1399 1893h10M1295 1874h10M1297 1896h10M1380 1865h10M1325 1889h10M1520 1899h10M1459 1883h10M1453 1904h10M1377 1896h10M1506 1885h10M1335 1891h10M1544 1898h10M1505 1886h10M1512 1894h10M1527 1895h10M1566 1871h10M1508 1875h10M1459 1909h10M1417 1896h10M1349 1889h10M1449 1889h10"/><path stroke="#0f0f0f" stroke-width="8" d="M1489 1860h8"/><path stroke="#dff3da" stroke-width="10" d="M1627 1890h10M1692 1854h10M1492 1797h10M1220 1832h10M1266 1892h10M1474 1893h10M1685 1889h10M1265 1890h10M1444 1960h10M1252 1914h10M1271 1857h10M1688 1869h10M1572 1865h10M1511 1935h10M1376 1902h10M1275 1794h10M1665 1862h10M1313 1836h10M1614 1805h10M1289 1930h10M1207 1882h10M1520 1917h10M1280 1814h10M1200 1846h10M1574 1942h10M1296 1895h10M1678 1796h10M1589 1826h10M1543 1821h10M1590 1934h10M1477 1932h10M1243 1862h10M1199 1818h10M1694 1890h10M1452 1929h10M1701 1917h10M1539 1813h10M1654 1904h10M1425 1947h10M1530 1914h10M1697 1920h10M1607 1841h10M1344 1935h10M1495 1929h10M1477 1945h10M1497 1929h10M1264 1857h10M1224 1888h10M1536 1903h10M1372 1816h10M1657 1840h10M1548 1759h10M1586 1846h10M1298 1919h10M1479 1929h10M1336 1867h10M1638 1932h10M1412 1828h10M1249 1856h10M1242 1834h10M1363 1926h10M1319 1820h10M1595 1832h10M1675 1880h10M1666 1892h10M1424 1919h10M1441 1941h10M1527 1963h10M1675 1803h10M1661 1857h10M1389 1804h10M1552 1815h10M1476 1817h10M1305 1953h10M1352 1788h10M1572 1907h10M1689 1820h10M1468 1900h10M1350 1943h10M1341 1924h10M1548 1807h10M1596 1910h10M1448 1804h10M1445 1752h10M1404 1931h10M1540 1834h10M1686 1895h10M1693 1885h10M1618 1861h10M1265 1883h10M1282 1765h10M1615 1845h10M1670 1837h10M1560 1847h10M1584 1883h10M1303 1789h10M1694 1858h10M1663 1907h10M1297 1838h10M1304 1916h10"/><path stroke="#ebebeb" stroke-width="8" d="M1221 1899h8M1667 1910h8M1586 1920h8M1241 1845h8M1642 1847h8M1628 1892h8M1414 1839h8M1690 1904h8M1348 1897h8M1479 1818h8M1306 1872h8M1281 1922h8M1636 1849h8M1640 1906h8M1227 1884h8M1261 1839h8M1341 1829h8M1431 1839h8M1641 1864h8M1627 1899h8M1618 1875h8"/><path stroke="#ebe9f3" stroke-width="10" d="M1274 1927h10M1234 1940h10M1418 1827h10M1560 1913h10M1356 1962h10M1341 1889h10M1698 1952h10M1614 1906h10M1346 1903h10M1533 1848h10M1228 1927h10M1376 1981h10M1615 1851h10M1701 1905h10M1696 1919h10M1659 1921h10M1603 1914h10M1377 1869h10M1238 1957h10M1331 1859h10M1368 2004h10M1460 1909h10M1691 1920h10M1548 1936h10M1334 1920h10M1300 1919h10M1328 1857h10M1613 1884h10M1387 1965h10M1683 1958h10M1550 1913h10M1422 1944h10M1553 1889h10M1671 1944h10M1292 1952h10M1252 1916h10M1493 1846h10M1254 1940h10M1633 1937h10M1222 1923h10M1390 1881h10M1303 1981h10M1238 1871h10M1430 1941h10M1630 1886h10M1621 1896h10M1693 1882h10M1341 1855h10M1500 2008h10M1420 1953h10M1217 1948h10M1357 1856h10M1459 1953h10M1427 1874h10M1331 1946h10M1441 1876h10M1309 1871h10M1670 1883h10M1261 1902h10M1572 1863h10M1567 1960h10M1267 1967h10M1322 1918h10"/><path stroke="#c7e9c0" stroke-width="10" d="M1553 1869h10M1455 1867h10M1387 1853h10M1578 1930h10M1484 1877h10M1305 1883h10M1261 1801h10M1288 1872h10M1248 1808h10M1350 1926h10M1328 1960h10M1361 1909h10M1555 1860h10M1646 1846h10M1551 1832h10M1504 1896h10M1370 1796h10M1536 1890h10M1522 1818h10M1358 1942h10M1365 1829h10M1437 1879h10M1375 1811h10M1238 1895h10M1527 1860h10M1309 1897h10M1306 1919h10M1243 1926h10M1561 1935h10M1545 1839h10M1243 1881h10M1617 1890h10M1473 1959h10M1274 1941h10M1478 1760h10M1697 1894h10M1407 1821h10M1356 1876h10M1358 1781h10M1589 1919h10M1659 1927h10M1350 1906h10M1574 1933h10M1363 1797h10M1683 1879h10M1369 1777h10M1689 1918h10M1701 1861h10M1273 1944h10M1684 1930h10M1472 1799h10M1436 1892h10M1470 1944h10M1301 1870h10M1244 1911h10M1351 1901h10M1396 1887h10M1446 1806h10M1396 1889h10M1318 1776h10M1676 1897h10M1239 1815h10M1222 1920h10M1227 1914h10M1655 1881h10M1389 1859h10M1536 1823h10M1589 1900h10M1208 1890h10M1277 1916h10M1411 1926h10M1309 1941h10M1624 1918h10M1613 1832h10M1331 1857h10M1527 1893h10M1672 1813h10M1516 1944h10M1534 1859h10M1452 1808h10M1702 1890h10M1603 1882h10M1577 1912h10M1526 1906h10M1691 1842h10M1327 1942h10M1306 1920h10M1506 1828h10M1303 1906h10"/><path stroke="#d9d9d9" stroke-width="8" d="M1381 1913h8M1300 1910h8M1347 1846h8M1604 1931h8M1364 1898h8M1607 1858h8M1305 1871h8M1545 1861h8M1303 1911h8M1322 1856h8M1403 1859h8M1602 1868h8M1646 1847h8M1434 1927h8M1323 1898h8M1610 1894h8M1471 1861h8M1364 1896h8M1535 1832h8M1597 1903h8"/><path stroke="#dadaeb" stroke-width="10" d="M1697 1918h10M1388 1881h10M1310 1959h10M1421 1862h10M1472 1906h10M1590 1930h10M1553 1897h10M1255 1860h10M1277 1875h10M1480 1847h10M1589 1898h10M1665 1875h10M1291 1847h10M1586 1959h10M1409 1913h10M1308 1883h10M1654 1932h10M1408 1906h10M1503 1828h10M1674 1885h10M1222 1960h10M1373 1882h10M1477 1905h10M1373 1986h10M1284 1918h10M1564 1881h10M1629 1962h10M1348 1945h10M1534 1913h10M1624 1993h10M1475 1969h10M1576 1967h10M1511 1878h10M1389 1989h10M1305 1968h10M1367 1927h10M1642 1849h10M1602 1858h10M1541 1919h10M1700 1929h10M1619 1876h10M1551 1865h10M1250 1957h10M1633 1929h10"/><path stroke="#a9dca2" stroke-width="10" d="M1687 1890h10M1471 1794h10M1410 1817h10M1373 1797h10M1481 1838h10M1697 1889h10M1448 1842h10M1344 1819h10M1576 1884h10M1550 1866h10M1637 1867h10M1554 1865h10M1449 1868h10M1535 1877h10M1515 1907h10M1292 1923h10M1335 1852h10M1472 1840h10M1398 1911h10M1518 1913h10M1369 1773h10M1285 1915h10M1492 1867h10M1493 1908h10M1543 1909h10M1475 1938h10M1361 1872h10M1603 1888h10M1277 1881h10M1312 1828h10M1279 1791h10M1609 1865h10M1621 1906h10M1663 1912h10M1536 1955h10M1442 1823h10M1495 1817h10M1279 1914h10M1368 1846h10M1465 1909h10M1475 1903h10M1397 1875h10M1459 1819h10M1634 1872h10M1364 1923h10M1353 1894h10M1669 1858h10M1532 1876h10M1367 1857h10M1310 1871h10M1461 1840h10M1396 1905h10M1393 1896h10M1580 1871h10M1354 1836h10M1372 1896h10M1610 1757h10M1296 1859h10M1668 1868h10"/><path stroke="#c3c3c3" stroke-width="8" d="M1266 1890h8M1434 1900h8M1629 1891h8M1496 1890h8M1376 1860h8M1481 1882h8M1493 1866h8M1229 1860h8M1307 1922h8M1513 1920h8M1532 1891h8M1434 1877h8M1253 1918h8M1607 1905h8M1660 1844h8M1452 1922h8M1225 1874h8M1259 1879h8"/><path stroke="#c2c3df" stroke-width="10" d="M1483 1900h10M1372 1914h10M1387 1912h10M1450 1927h10M1314 1962h10M1479 1894h10M1206 1904h10M1639 1930h10M1466 1847h10M1587 1953h10M1322 1896h10M1449 1909h10M1337 1945h10M1512 1964h10M1368 1945h10M1415 1979h10M1424 1874h10M1276 1928h10M1471 1929h10M1619 1908h10M1433 1887h10M1346 1952h10M1561 1865h10M1600 1955h10M1338 1980h10"/><path stroke="#86cc85" stroke-width="10" d="M1396 1853h10M1660 1883h10M1579 1847h10M1215 1900h10M1335 1916h10M1397 1894h10M1627 1866h10M1397 1878h10M1515 1800h10M1464 1938h10M1653 1864h10M1297 1834h10M1573 1862h10M1360 1798h10M1435 1907h10M1672 1912h10M1343 1931h10M1520 1848h10M1295 1808h10M1223 1916h10M1602 1779h10M1410 1855h10M1401 1799h10M1258 1823h10M1554 1764h10M1375 1877h10M1517 1896h10M1648 1902h10M1535 1779h10M1497 1887h10M1577 1815h10M1274 1924h10M1484 1791h10M1199 1880h10M1475 1873h10M1458 1897h10M1505 1801h10M1564 1912h10M1328 1930h10M1300 1926h10M1510 1919h10M1350 1774h10M1471 1793h10M1501 1871h10M1406 1879h10M1496 1889h10M1403 1882h10M1271 1824h10M1596 1835h10M1242 1808h10M1649 1870h10M1251 1864h10M1523 1820h10M1339 1943h10M1421 1942h10"/><path stroke="#a6a6a6" stroke-width="8" d="M1340 1901h8M1477 1861h8M1365 1880h8M1530 1890h8M1666 1842h8M1554 1901h8M1441 1894h8M1301 1907h8M1457 1859h8M1235 1905h8M1494 1919h8"/><path stroke="#aaa8d0" stroke-width="10" d="M1412 2007h10M1323 1932h10M1616 1933h10M1352 1918h10M1619 1926h10M1454 1940h10M1249 1910h10M1552 1932h10M1508 1847h10M1438 1907h10M1436 1856h10M1425 1894h10M1348 1929h10M1311 1955h10M1394 1861h10M1642 1951h10"/><path stroke="#60ba6c" stroke-width="10" d="M1547 1860h10M1514 1852h10M1237 1827h10M1556 1865h10M1227 1887h10M1437 1747h10M1633 1864h10M1252 1927h10M1456 1935h10M1254 1904h10M1340 1870h10M1299 1935h10M1287 1890h10M1670 1866h10M1528 1861h10M1566 1856h10M1424 1819h10M1564 1823h10M1675 1880h10M1229 1808h10M1692 1907h10M1363 1916h10M1274 1881h10M1690 1900h10M1689 1916h10M1618 1853h10M1581 1862h10M1682 1904h10M1550 1836h10M1376 1916h10M1678 1861h10M1654 1864h10M1255 1881h10M1344 1930h10M1489 1860h10M1259 1896h10M1464 1860h10M1489 1861h10M1544 1888h10M1497 1848h10M1647 1869h10M1503 1851h10M1538 1919h10M1258 1892h10M1208 1906h10M1413 1920h10M1611 1926h10M1561 1885h10M1695 1911h10M1256 1852h10M1343 1844h10M1381 1738h10M1568 1893h10M1603 1924h10M1271 1897h10M1369 1912h10M1598 1889h10M1641 1883h10M1412 1904h10M1632 1875h10M1429 1769h10M1632 1891h10M1215 1895h10M1469 1838h10M1476 1787h10M1390 1873h10M1692 1901h10M1234 1874h10M1638 1852h10"/><path stroke="#888888" stroke-width="8" d="M1369 1865h8M1517 1850h8M1428 1929h8M1603 1887h8M1543 1891h8M1561 1915h8M1670 1878h8M1313 1855h8"/><path stroke="#928ec2" stroke-width="10" d="M1460 2003h10M1434 1850h10M1480 1898h10M1510 1908h10M1476 1904h10M1697 1955h10M1536 1881h10M1511 1916h10M1436 1951h10M1571 1928h10M1280 1910h10"/><path stroke="#3ba558" stroke-width="10" d="M1370 1840h10M1435 1841h10M1614 1860h10M1369 1909h10M1278 1890h10M1687 1904h10M1454 1833h10M1323 1879h10M1571 1863h10M1209 1905h10M1668 1888h10M1252 1902h10M1526 1885h10M1479 1790h10M1316 1915h10M1612 1914h10M1341 1896h10M1516 1900h10M1437 1853h10M1621 1912h10M1264 1885h10M1579 1931h10M1390 1853h10M1686 1887h10M1413 1928h10M1611 1878h10M1484 1921h10M1538 1827h10M1471 1927h10M1677 1889h10M1573 1920h10M1221 1888h10M1411 1886h10M1551 1849h10M1328 1869h10M1472 1927h10M1238 1894h10M1654 1918h10M1271 1905h10M1486 1822h10M1260 1901h10M1421 1891h10M1705 1868h10M1592 1909h10M1627 1903h10M1311 1887h10M1278 1907h10M1584 1919h10M1364 1886h10M1372 1836h10M1280 1898h10M1272 1886h10M1547 1889h10M1589 1845h10M1317 1890h10M1306 1868h10"/><path stroke="#6c6c6c" stroke-width="8" d="M1509 1936h8M1635 1882h8M1665 1844h8M1451 1866h8M1527 1827h8M1265 1918h8M1522 1841h8M1219 1892h8"/><path stroke="#7c74b5" stroke-width="10" d="M1326 1942h10M1533 1887h10M1607 1902h10M1468 1938h10M1346 1880h10"/><path stroke="#238b45" stroke-width="10" d="M1358 1885h10M1268 1871h10M1413 1910h10M1544 1889h10M1354 1850h10M1527 1866h10M1339 1897h10M1303 1871h10M1288 1870h10M1374 1858h10M1589 1926h10M1545 1876h10M1233 1904h10M1303 1932h10M1594 1894h10M1678 1902h10M1317 1877h10M1459 1930h10M1616 1931h10M1507 1903h10M1669 1895h10M1549 1866h10M1322 1895h10M1322 1883h10M1614 1882h10M1500 1869h10M1468 1884h10M1433 1910h10M1473 1854h10M1582 1906h10M1497 1922h10M1550 1866h10M1548 1868h10M1543 1917h10M1321 1867h10M1379 1910h10M1396 1878h10M1228 1894h10M1551 1881h10M1386 1868h10M1472 1904h10M1362 1910h10M1606 1915h10M1608 1909h10M1610 1873h10M1400 1909h10M1304 1890h10M1651 1897h10M1609 1893h10"/><path stroke="#525252" stroke-width="8" d="M1386 1848h8M1419 1931h8M1631 1869h8"/><path stroke="#6a51a3" stroke-width="10" d="M1437 1923h10"/><path stroke="#077331" stroke-width="10" d="M1510 1906h10M1418 1936h10M1325 1905h10M1352 1879h10M1614 1888h10M1515 1872h10M1409 1896h10M1558 1874h10M1365 1910h10M1419 1886h10M1475 1902h10M1416 1922h10M1579 1874h10M1443 1894h10M1612 1884h10M1317 1889h10M1512 1860h10M1435 1878h10M1603 1892h10M1437 1896h10M1383 1869h10M1597 1883h10M1445 1908h10M1256 1895h10M1459 1865h10M1393 1907h10M1517 1903h10M1312 1877h10M1502 1843h10M1251 1897h10M1538 1904h10M1426 1893h10M1471 1905h10M1340 1893h10M1665 1919h10M1568 1890h10M1313 1880h10M1296 1871h10M1442 1888h10"/><path stroke="#2e2e2e" stroke-width="8" d="M1432 1858h8M1481 1865h8"/><path stroke="#005422" stroke-width="10" d="M1471 1878h10M1303 1867h10M1622 1901h10M1476 1873h10M1338 1912h10M1494 1883h10M1542 1869h10M1435 1884h10M1318 1845h10M1347 1876h10M1457 1889h10M1364 1922h10M1563 1877h10M1491 1896h10M1389 1859h10M1271 1881h10M1492 1879h10M1607 1913h10M1576 1866h10M1430 1879h10M1503 1892h10M1475 1893h10M1427 1880h10M1545 1886h10M1400 1899h10M1493 1890h10M1520 1888h10M1217 1880h10M1483 1874h10M1579 1899h10M1564 1901h10M1466 1879h10M1428 1919h10M1386 1876h10M1365 1883h10M1362 1877h10M1432 1888h10M1473 1908h10M1417 1892h10M1554 1884h10M1389 1915h10M1443 1870h10M1472 1873h10M1506 1873h10M1442 1896h10M1391 1895h10M1484 1864h10M1396 1899h10M1508 1880h10M1539 1874h10M1325 1885h10"/><path stroke="#0f0f0f" stroke-width="8" d="M1484 1887h8"/><path stroke="#dff3da" stroke-width="10" d="M1320 1896h10M1229 1863h10M1297 1792h10M1255 1801h10M1650 1843h10M1680 1910h10M1511 1772h10M1232 1865h10M1338 1954h10M1230 1860h10M1617 1883h10M1258 1943h10M1591 1813h10M1632 1874h10M1211 1863h10M1606 1897h10M1400 1921h10M1610 1907h10M1294 1910h10M1645 1808h10M1534 1938h10M1291 1853h10M1386 1950h10M1583 1894h10M1395 1762h10M1462 1860h10M1266 1932h10M1278 1858h10M1456 1839h10M1569 1751h10M1632 1928h10M1582 1827h10M1660 1908h10M1228 1795h10M1529 1764h10M1201 1861h10M1623 1920h10M1514 1895h10M1338 1868h10M1372 1803h10M1270 1891h10M1684 1860h10M1353 1889h10M1666 1925h10M1256 1944h10M1373 1937h10M1302 1853h10M1442 1810h10M1415 1948h10M1527 1859h10M1242 1895h10M1359 1924h10M1623 1855h10M1226 1800h10M1259 1919h10M1303 1809h10M1489 1774h10M1612 1892h10M1224 1863h10M1219 1844h10M1215 1879h10M1229 1909h10M1359 1933h10M1599 1954h10M1398 1811h10M1687 1872h10M1690 1891h10M1203 1890h10M1605 1931h10M1493 1941h10M1236 1840h10M1299 1934h10M1669 1900h10M1257 1830h10M1232 1823h10M1371 1769h10M1676 1910h10M1685 1920h10M1252 1805h10M1381 1760h10M1586 1940h10M1635 1857h10M1688 1809h10M1222 1926h10M1273 1818h10M1679 1877h10M1675 1880h10M1620 1860h10M1630 1848h10M1689 1907h10M1208 1864h10M1493 1772h10M1278 1771h10M1365 1940h10M1312 1878h10M1406 1812h10M1386 1921h10M1383 1771h10M1455 1908h10M1629 1843h10"/><path stroke="#ebebeb" stroke-width="8" d="M1537 1920h8M1353 1912h8M1224 1859h8M1238 1877h8M1218 1877h8M1276 1873h8M1679 1887h8M1366 1938h8M1517 1843h8M1208 1893h8M1533 1928h8M1257 1887h8M1667 1897h8M1263 1923h8M1246 1908h8M1585 1876h8M1345 1884h8M1274 1908h8M1214 1910h8M1489 1846h8M1310 1931h8"/><path stroke="#ebe9f3" stroke-width="10" d="M1474 1841h10M1654 1964h10M1450 1897h10M1248 1916h10M1539 1973h10M1497 1894h10M1550 1868h10M1364 1946h10M1368 1861h10M1687 1906h10M1215 1928h10M1615 1841h10M1560 1845h10M1200 1947h10M1333 1916h10M1368 1906h10M1500 1957h10M1243 1915h10M1348 1939h10M1625 1888h10M1513 1908h10M1402 1840h10M1229 1978h10M1383 1999h10M1615 1938h10M1554 1878h10M1629 1930h10M1534 1931h10M1682 1886h10M1644 1932h10M1247 1863h10M1549 1909h10M1468 1836h10M1232 1934h10M1521 1826h10M1315 1951h10M1349 1932h10M1559 1959h10M1238 1856h10M1355 1874h10M1333 1970h10M1499 1899h10M1258 1911h10M1300 1905h10M1559 1967h10M1344 1900h10M1520 1985h10M1363 1849h10M1335 1869h10M1608 1966h10M1263 1917h10M1338 1880h10M1531 1832h10M1270 1923h10M1211 1953h10M1626 1922h10M1251 1908h10M1622 1888h10M1216 1888h10M1352 1869h10M1421 1954h10M1301 1878h10M1413 1835h10"/><path stroke="#c7e9c0" stroke-width="10" d="M1342 1871h10M1346 1806h10M1564 1812h10M1442 1766h10M1311 1876h10M1278 1948h10M1361 1841h10M1573 1893h10M1291 1925h10M1373 1860h10M1687 1863h10M1658 1876h10M1608 1810h10M1346 1844h10M1668 1910h10M1673 1786h10M1204 1905h10M1329 1924h10M1243 1916h10M1639 1808h10M1661 1876h10M1384 1846h10M1353 1898h10M1270 1906h10M1692 1831h10M1437 1869h10M1519 1858h10M1594 1866h10M1496 1882h10M1519 1896h10M1260 1933h10M1419 1921h10M1616 1809h10M1282 1923h10M1371 1865h10M1241 1897h10M1696 1826h10M1473 1837h10M1431 1937h10M1475 1760h10M1359 1786h10M1272 1911h10M1463 1851h10M1640 1838h10M1202 1856h10M1330 1816h10M1418 1890h10M1213 1875h10M1427 1862h10M1553 1828h10M1328 1801h10M1324 1809h10M1267 1890h10M1541 1891h10M1441 1898h10M1266 1862h10M1399 1793h10M1254 1898h10M1330 1875h10M1329 1874h10M1365 1943h10M1202 1900h10M1518 1819h10M1231 1800h10M1531 1937h10M1266 1903h10M1444 1779h10M1515 1848h10M1338 1887h10M1438 1922h10M1634 1899h10M1588 1920h10M1465 1856h10M1598 1800h10M1655 1780h10M1593 1837h10M1224 1878h10M1617 1871h10M1572 1886h10M1382 1903h10M1262 1829h10M1439 1840h10M1222 1801h10M1363 1886h10M1532 1819h10M1310 1815h10M1551 1897h10M1589 1918h10M1354 1925h10"/><path stroke="#d9d9d9" stroke-width="8" d="M1295 1898h8M1465 1900h8M1241 1895h8M1389 1894h8M1466 1871h8M1389 1884h8M1606 1895h8M1214 1883h8M1361 1833h8M1395 1931h8M1562 1863h8M1349 1919h8M1330 1916h8M1540 1898h8M1378 1925h8M1311 1920h8M1496 1937h8M1302 1895h8M1429 1835h8"/><path stroke="#dadaeb" stroke-width="10" d="M1349 1990h10M1676 1935h10M1532 1930h10M1301 1984h10M1509 1875h10M1463 1884h10M1695 1904h10M1498 1929h10M1379 1896h10M1609 1934h10M1299 1964h10M1637 1913h10M1296 1930h10M1554 1916h10M1628 1933h10M1420 1959h10M1579 1919h10M1702 1920h10M1397 1856h10M1588 1917h10M1277 1849h10M1612 1943h10M1346 1959h10M1447 1933h10M1536 1926h10M1373 1928h10M1489 1942h10M1343 1892h10M1387 1937h10M1382 1917h10M1380 1923h10M1612 1878h10M1508 1916h10M1412 1891h10M1228 1925h10M1590 1906h10M1314 1910h10M1455 1931h10M1528 1903h10M1626 1942h10M1572 1891h10M1430 1956h10M1301 1976h10M1535 1912h10"/><path stroke="#a9dca2" stroke-width="10" d="M1578 1843h10M1437 1820h10M1557 1858h10M1427 1908h10M1647 1867h10M1548 1799h10M1308 1870h10M1302 1861h10M1609 1909h10M1360 1834h10M1482 1868h10M1490 1925h10M1404 1869h10M1535 1882h10M1321 1918h10M1302 1916h10M1535 1798h10M1204 1879h10M1233 1912h10M1407 1879h10M1433 1855h10M1554 1877h10M1311 1909h10M1268 1802h10M1413 1880h10M1524 1801h10M1307 1795h10M1378 1833h10M1437 1835h10M1218 1817h10M1465 1916h10M1442 1757h10M1244 1892h10M1497 1829h10M1602 1905h10M1486 1867h10M1454 1879h10M1586 1873h10M1419 1828h10M1495 1879h10M1286 1914h10M1400 1877h10M1346 1777h10M1409 1739h10M1335 1916h10M1547 1945h10M1494 1876h10M1502 1923h10M1648 1830h10M1446 1793h10M1201 1892h10M1469 1862h10M1342 1855h10M1211 1859h10M1519 1911h10M1338 1904h10M1671 1920h10M1490 1938h10M1516 1881h10"/><path stroke="#c3c3c3" stroke-width="8" d="M1294 1884h8M1313 1899h8M1438 1876h8M1474 1858h8M1602 1881h8M1372 1909h8M1623 1925h8M1551 1894h8M1330 1888h8M1519 1855h8M1417 1842h8M1636 1869h8M1548 1888h8M1526 1867h8M1429 1890h8M1448 1866h8M1263 1901h8M1623 1915h8"/><path stroke="#c2c3df" stroke-width="10" d="M1250 1977h10M1301 1896h10M1457 1919h10M1502 1925h10M1326 1890h10M1409 1898h10M1589 1870h10M1275 1972h10M1461 1869h10M1411 1865h10M1321 1903h10M1233 1906h10M1249 1906h10M1415 1857h10M1450 1905h10M1662 1968h10M1320 1923h10M1574 1932h10M1666 1947h10M1345 1946h10M1287 1948h10M1441 1956h10M1636 1903h10M1311 1890h10"/><path stroke="#86cc85" stroke-width="10" d="M1444 1805h10M1503 1744h10M1237 1891h10M1459 1904h10M1259 1876h10M1380 1850h10M1289 1931h10M1526 1875h10M1330 1900h10M1241 1880h10M1447 1902h10M1611 1877h10M1474 1899h10M1473 1936h10M1696 1833h10M1303 1842h10M1626 1882h10M1312 1828h10M1596 1858h10M1370 1856h10M1509 1826h10M1453 1793h10M1484 1936h10M1581 1855h10M1483 1845h10M1647 1889h10M1457 1905h10M1555 1865h10M1658 1858h10M1391 1915h10M1540 1813h10M1232 1861h10M1473 1861h10M1620 1885h10M1662 1931h10M1535 1921h10M1354 1838h10M1549 1838h10M1388 1853h10M1380 1885h10M1374 1915h10M1344 1884h10M1568 1877h10M1422 1806h10M1542 1894h10M1555 1862h10M1599 1927h10M1377 1824h10M1540 1919h10M1214 1863h10M1670 1822h10M1262 1876h10M1673 1905h10M1318 1942h10"/><path stroke="#a6a6a6" stroke-width="8" d="M1330 1859h8M1359 1889h8M1480 1885h8M1373 1887h8M1539 1932h8M1560 1888h8M1451 1889h8M1320 1836h8M1327 1887h8M1456 1936h8M1312 1916h8"/><path stroke="#aaa8d0" stroke-width="10" d="M1405 1921h10M1646 1916h10M1596 1922h10M1550 1851h10M1326 1937h10M1234 1941h10M1462 1918h10M1378 1945h10M1607 1903h10M1563 1953h10M1499 1894h10M1553 1895h10M1554 1895h10M1382 1872h10M1346 1959h10M1440 1915h10"/><path stroke="#60ba6c" stroke-width="10" d="M1339 1904h10M1695 1886h10M1513 1861h10M1652 1895h10M1306 1896h10M1322 1918h10M1241 1891h10M1623 1864h10M1395 1881h10M1626 1886h10M1246 1886h10M1245 1868h10M1506 1857h10M1649 1858h10M1376 1861h10M1660 1885h10M1690 1899h10M1359 1916h10M1377 1883h10M1256 1891h10M1226 1902h10M1243 1912h10M1661 1902h10M1439 1915h10M1630 1850h10M1246 1892h10M1213 1895h10M1236 1876h10M1214 1894h10M1615 1909h10M1265 1866h10M1389 1886h10M1312 1864h10M1418 1887h10M1407 1844h10M1646 1915h10M1287 1872h10M1681 1919h10M1650 1788h10M1680 1903h10M1484 1881h10M1573 1918h10M1688 1857h10M1420 1849h10M1591 1938h10M1270 1919h10M1398 1854h10M1393 1948h10M1542 1872h10M1265 1870h10M1485 1838h10M1505 1846h10M1402 1783h10M1249 1861h10M1301 1890h10M1424 1906h10M1649 1915h10M1520 1942h10M1620 1929h10M1676 1904h10M1427 1857h10M1652 1888h10M1340 1886h10M1556 1931h10M1526 1937h10M1655 1878h10M1609 1878h10M1613 1827h10M1344 1832h10"/><path stroke="#888888" stroke-width="8" d="M1460 1891h8M1535 1872h8M1540 1918h8M1303 1895h8M1508 1898h8M1504 1870h8M1421 1870h8M1592 1890h8"/><path stroke="#928ec2" stroke-width="10" d="M1641 1850h10M1326 1994h10M1585 1979h10M1413 1899h10M1586 1940h10M1418 1941h10M1501 1919h10M1222 1943h10M1606 1974h10M1472 1986h10M1442 1927h10"/><path stroke="#3ba558" stroke-width="10" d="M1632 1905h10M1388 1865h10M1340 1859h10M1478 1850h10M1464 1873h10M1385 1896h10M1608 1896h10M1690 1867h10M1355 1918h10M1257 1889h10M1501 1914h10M1350 1869h10M1608 1887h10M1689 1880h10M1360 1859h10M1587 1888h10M1224 1898h10M1229 1882h10M1311 1888h10M1385 1867h10M1543 1896h10M1502 1854h10M1597 1885h10M1259 1899h10M1499 1868h10M1682 1919h10M1426 1860h10M1360 1911h10M1480 1865h10M1307 1902h10M1630 1876h10M1394 1933h10M1263 1906h10M1586 1887h10M1484 1880h10M1302 1872h10M1577 1905h10M1429 1852h10M1309 1894h10M1471 1867h10M1243 1895h10M1408 1850h10M1306 1894h10M1230 1896h10M1566 1871h10M1449 1922h10M1305 1858h10M1588 1857h10M1321 1894h10M1600 1900h10M1586 1889h10M1452 1923h10M1440 1910h10M1623 1880h10M1618 1901h10"/><path stroke="#6c6c6c" stroke-width="8" d="M1465 1896h8M1600 1910h8M1583 1837h8M1467 1879h8M1588 1886h8M1522 1906h8M1499 1875h8M1505 1874h8"/><path stroke="#7c74b5" stroke-width="10" d="M1428 1927h10M1445 1925h10M1266 1889h10M1403 1969h10M1202 1911h10"/><path stroke="#238b45" stroke-width="10" d="M1524 1871h10M1440 1903h10M1399 1914h10M1365 1873h10M1446 1904h10M1553 1894h10M1451 1910h10M1575 1894h10M1433 1901h10M1624 1890h10M1308 1921h10M1333 1915h10M1526 1889h10M1538 1870h10M1430 1896h10M1678 1875h10M1411 1911h10M1616 1858h10M1650 1881h10M1599 1865h10M1684 1863h10M1237 1879h10M1398 1868h10M1345 1887h10M1583 1892h10M1224 1864h10M1507 1854h10M1520 1891h10M1448 1937h10M1569 1854h10M1259 1897h10M1426 1863h10M1421 1924h10M1364 1859h10M1437 1863h10M1356 1921h10M1232 1907h10M1595 1890h10M1391 1923h10M1292 1900h10M1299 1923h10M1558 1879h10M1432 1883h10M1218 1874h10M1544 1921h10M1387 1915h10M1382 1885h10M1439 1904h10"/><path stroke="#525252" stroke-width="8" d="M1689 1879h8M1678 1907h8M1583 1880h8"/><path stroke="#6a51a3" stroke-width="10" d="M1347 1979h10"/><path stroke="#077331" stroke-width="10" d="M1518 1926h10M1519 1877h10M1473 1910h10M1237 1871h10M1316 1877h10M1489 1873h10M1549 1898h10M1465 1878h10M1300 1893h10M1646 1916h10M1548 1893h10M1374 1895h10M1515 1880h10M1432 1904h10M1360 1892h10M1441 1895h10M1608 1900h10M1464 1871h10M1450 1884h10M1444 1930h10M1552 1916h10M1402 1863h10M1367 1896h10M1433 1872h10M1556 1877h10M1338 1883h10M1504 1888h10M1522 1902h10M1673 1904h10M1330 1899h10M1586 1876h10M1591 1922h10M1331 1899h10M1240 1909h10M1431 1877h10M1310 1877h10M1529 1877h10M1406 1876h10M1382 1890h10"/><path stroke="#2e2e2e" stroke-width="8" d="M1483 1907h8M1628 1888h8"/><path stroke="#005422" stroke-width="10" d="M1322 1885h10M1475 1900h10M1517 1891h10M1334 1888h10M1346 1877h10M1221 1908h10M1400 1900h10M1477 1906h10M1408 1885h10M1396 1908h10M1389 1900h10M1507 1900h10M1515 1894h10M1457 1888h10M1447 1889h10M1467 1896h10M1440 1886h10M1426 1886h10M1479 1910h10M1363 1896h10M1483 1879h10M1453 1916h10M1403 1894h10M1656 1898h10M1444 1878h10M1444 1876h10M1384 1887h10M1566 1926h10M1604 1892h10M1367 1874h10M1408 1873h10M1477 1888h10M1500 1893h10M1305 1882h10M1481 1862h10M1438 1899h10M1525 1869h10M1429 1932h10M1411 1875h10M1422 1884h10M1488 1900h10M1468 1895h10M1446 1905h10M1494 1883h10M1332 1890h10M1464 1914h10M1331 1878h10M1533 1889h10M1390 1880h10M1441 1881h10M1443 1907h10"/><path stroke="#0f0f0f" stroke-width="8" d="M1481 1884h8"/></g></g>
<rect x="237.4" y="345.5" width="109.70" height="70.20" fill="none" stroke="#444" stroke-width="0.8"/>
<path d="M235.10 358.00H237.4" stroke="#444" stroke-width="0.8"/>
<text x="231.90" y="360.25" font-size="6.3" text-anchor="end" letter-spacing="0.35">1.2</text>
<path d="M235.10 374.40H237.4" stroke="#444" stroke-width="0.8"/>
<text x="231.90" y="376.65" font-size="6.3" text-anchor="end" letter-spacing="0.35">1.0</text>
<path d="M235.10 390.80H237.4" stroke="#444" stroke-width="0.8"/>
<text x="231.90" y="393.05" font-size="6.3" text-anchor="end" letter-spacing="0.35">0.8</text>
<path d="M235.10 407.20H237.4" stroke="#444" stroke-width="0.8"/>
<text x="231.90" y="409.45" font-size="6.3" text-anchor="end" letter-spacing="0.35">0.6</text>
<path d="M246.00 415.7V418.00" stroke="#444" stroke-width="0.8"/>
<text x="246.17" y="424.70" font-size="6.3" text-anchor="middle" letter-spacing="0.35">−40</text>
<path d="M281.70 415.7V418.00" stroke="#444" stroke-width="0.8"/>
<text x="281.87" y="424.70" font-size="6.3" text-anchor="middle" letter-spacing="0.35">−30</text>
<path d="M317.40 415.7V418.00" stroke="#444" stroke-width="0.8"/>
<text x="317.57" y="424.70" font-size="6.3" text-anchor="middle" letter-spacing="0.35">−20</text>
<text x="292.25" y="432.20" font-size="6.3" text-anchor="middle">Dec. (deg)</text>
<text x="0" y="0" font-size="6.5" text-anchor="middle" transform="translate(219.80,378.60) rotate(-90)">Predicted-to-Measured</text>
</svg></body></html>
